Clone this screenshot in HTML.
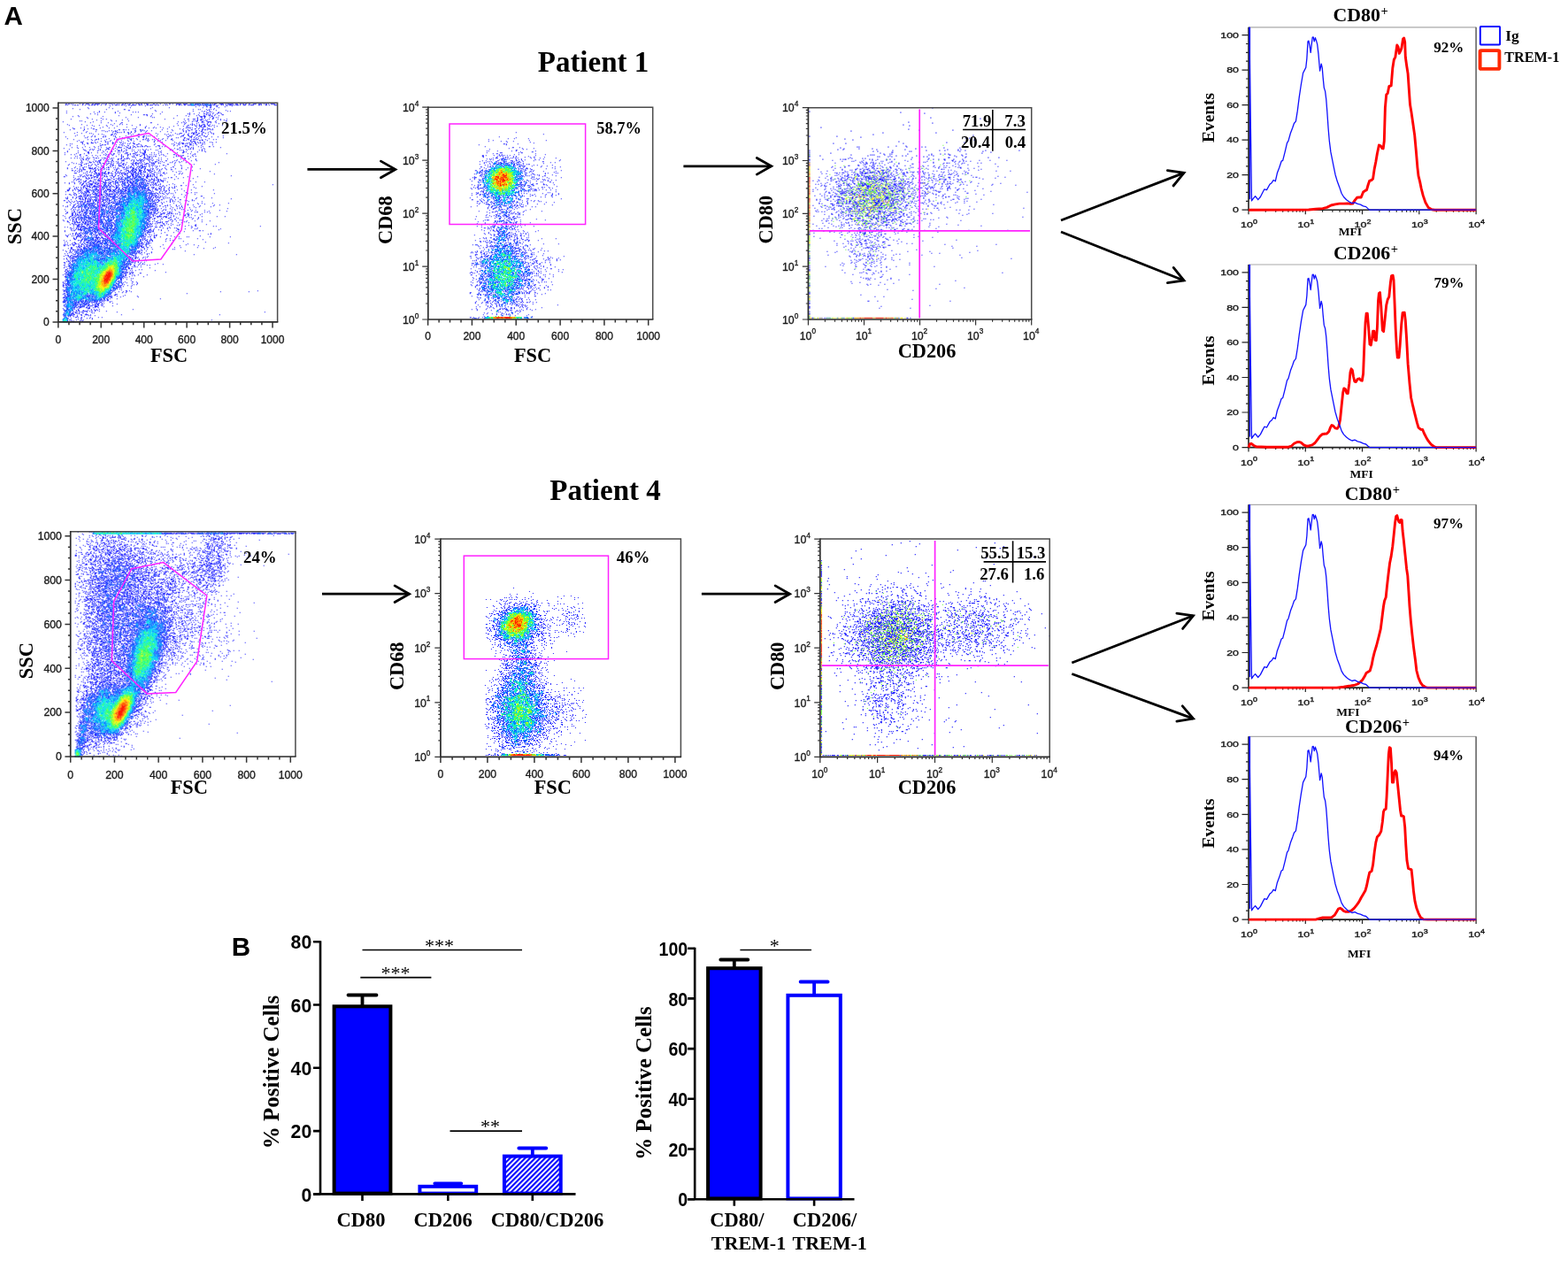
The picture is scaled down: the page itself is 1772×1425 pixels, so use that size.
<!DOCTYPE html>
<html lang="en"><head><meta charset="utf-8"><title>Figure</title>
<style>
html,body{margin:0;padding:0;background:#fff}
svg{display:block}
text{fill:#000;text-anchor:middle}
.b{font-family:"Liberation Serif",serif;font-weight:bold}
.r{font-family:"Liberation Serif",serif}
.sb{font-family:"Liberation Sans",sans-serif;font-weight:bold}
.t{font-family:"Liberation Sans",sans-serif;fill:#1a1a1a;stroke:#1a1a1a;stroke-width:.35px}
.e{text-anchor:end}
.s{text-anchor:start}
</style></head><body>
<svg width="1772" height="1425" viewBox="0 0 1772 1425">
<rect width="1772" height="1425" fill="#fff"/>
<defs><filter id="sb" x="-2%" y="-2%" width="104%" height="104%"><feGaussianBlur stdDeviation="0.38"/></filter></defs>
<text class="sb s" x="4.6" y="27.9" font-size="29.5">A</text>
<text class="sb s" x="261.8" y="1080.1" font-size="29.5">B</text>
<text class="b" x="670.5" y="81.3" font-size="33">Patient 1</text>
<text class="b" x="684" y="565.2" font-size="33">Patient 4</text>
<g transform="translate(66.30 116.80) scale(1.0)" fill="none" stroke-linecap="square" stroke-width="1.25" filter="url(#sb)"><path stroke="#2828ff" stroke-width="1.05" d="M59 0zm104 0zm13 0zm8 0h1m-177 1h1m2 0h1m2 0zm2 0zm8 0zm3 0h1m3 0h3m4 0h1m2 0h5m3 0zm2 0zm2 0h1m3 0zm2 0zm2 0zm2 0zm3 0zm2 0zm4 0h1m2 0h1m2 0zm2 0h1m3 0zm4 0zm2 0h1m2 0h1m3 0zm2 0h2m6 0h1m3 0zm4 0zm5 0zm2 0zm3 0h1m3 0zm4 0h5m3 0h4m19 0zm5 0zm5 0zm2 0h2m4 0h4m3 0zm4 0h4m3 0h2m3 0h1m2 0h1m2 0h1m3 0h1m4 0h3m4 0h2m3 0zm2 0h1m2 0zm3 0h4m3 0zm-239 1zm2 0zm8 0h1m2 0h1m5 0zm3 0zm5 0zm2 0h1m2 0h1m3 0zm4 0zm5 0zm8 0zm3 0h2m2 0zm3 0h1m2 0zm5 0h1m3 0h4m4 0h1m2 0zm6 0h1m2 0h3m3 0h1m2 0h1m5 0zm3 0zm2 0zm10 0zm3 0h1m2 0zm3 0h1m3 0h3m5 0h1m3 0zm17 0h1m4 0zm4 0zm2 0zm3 0zm2 0zm2 0h2m2 0zm2 0zm2 0h2m2 0zm4 0h2m4 0zm2 0h3m6 0h1m2 0zm5 0h1m3 0zm6 0h3m-189 1zm18 0zm6 0zm16 0zm61 0zm5 0zm8 0zm6 0h1m11 0zm6 0zm-41 1zm12 0h1m4 0zm7 0zm9 0zm-155 1zm24 0zm24 0zm25 0zm19 0zm38 0zm8 0h1m9 0zm-165 1zm18 0zm27 0zm43 0zm72 0zm-152 1zm30 0zm20 0h1m77 0zm6 0zm2 0zm7 0zm3 0zm2 0zm3 0zm-96 1h1m29 0zm59 0zm2 0zm8 0zm11 0zm-180 1zm37 0zm21 0zm43 0zm42 0zm10 0zm3 0zm6 0zm20 0zm3 0zm-154 1zm6 0zm6 0zm12 0zm20 0zm3 0zm3 0zm27 0zm47 0zm3 0zm4 0zm2 0zm8 0zm-172 1zm35 0zm20 0zm5 0zm79 0zm11 0zm9 0h1m6 0zm5 0h1m2 0zm-147 1zm5 0zm65 0zm9 0zm31 0zm2 0zm5 0zm11 0h1m2 0zm4 0zm3 0zm5 0zm5 0zm-140 1zm38 0zm14 0h1m2 0h1m48 0zm10 0zm9 0zm2 0zm2 0zm6 0zm8 0h1m-164 1zm46 0zm32 0zm5 0zm29 0zm10 0zm12 0zm3 0zm5 0h1m5 0h1m2 0zm3 0zm5 0zm-165 1zm7 0zm27 0zm54 0zm43 0zm13 0h2m2 0h2m7 0h1m-142 1zm44 0zm14 0zm16 0zm2 0zm49 0zm4 0h1m3 0zm6 0zm4 0zm3 0zm2 0zm-147 1zm15 0zm82 0zm27 0zm8 0zm9 0h1m-161 1zm24 0zm12 0zm4 0zm24 0zm42 0zm22 0zm4 0h1m5 0h2m3 0zm4 0h2m7 0zm4 0zm6 0zm3 0zm7 0zm-147 1zm16 0zm13 0zm85 0zm3 0h1m5 0zm2 0zm15 0zm4 0zm-163 1zm2 0zm22 0zm12 0zm5 0zm14 0zm64 0zm4 0zm5 0zm2 0zm2 0h1m5 0zm2 0zm3 0zm11 0zm11 0h1m-185 1zm25 0zm9 0zm96 0zm6 0zm10 0zm5 0zm6 0h1m5 0h4m5 0zm-141 1zm12 0zm8 0zm15 0h1m32 0h1m34 0zm3 0zm2 0zm14 0zm4 0zm2 0zm5 0zm3 0zm6 0zm-115 1zm7 0zm64 0zm9 0zm8 0zm5 0zm12 0zm13 0zm-171 1zm16 0zm33 0zm10 0zm3 0zm5 0zm15 0zm20 0zm30 0zm7 0zm2 0zm2 0zm6 0zm4 0h2m3 0zm3 0zm-159 1zm20 0zm6 0zm8 0zm8 0zm7 0zm22 0zm9 0zm43 0zm11 0h1m4 0zm3 0zm2 0zm3 0zm2 0h1m3 0zm4 0h1m4 0zm2 0zm9 0zm-145 1zm15 0zm11 0zm33 0zm31 0zm11 0zm4 0zm10 0zm4 0h2m3 0h2m4 0zm2 0zm7 0zm-150 1zm21 0zm27 0zm11 0zm10 0zm10 0zm7 0zm10 0zm20 0zm2 0zm9 0zm5 0zm2 0zm2 0zm11 0zm-160 1zm9 0zm12 0zm10 0zm10 0zm6 0zm35 0zm4 0zm5 0zm3 0zm8 0zm26 0zm2 0zm2 0h1m2 0zm8 0zm4 0zm5 0zm-151 1h1m11 0zm4 0zm6 0h1m44 0zm2 0h1m36 0zm14 0zm4 0zm13 0h1m3 0zm5 0zm6 0h2m3 0zm-161 1zm16 0zm13 0h1m25 0h1m4 0h1m2 0zm3 0zm13 0h1m2 0zm22 0zm11 0zm12 0zm6 0zm4 0h1m11 0h1m2 0h1m2 0zm4 0zm2 0zm-146 1zm21 0zm2 0zm6 0zm3 0zm4 0zm2 0zm20 0h1m6 0zm2 0zm2 0zm3 0zm5 0zm24 0zm12 0zm3 0zm3 0h1m7 0h1m3 0zm3 0zm-130 1zm10 0zm11 0zm2 0zm7 0zm2 0h1m9 0zm8 0zm5 0zm6 0zm6 0zm16 0zm8 0zm18 0zm3 0zm11 0zm6 0h1m9 0zm-165 1zm15 0zm10 0zm30 0zm5 0h1m2 0zm2 0zm3 0zm4 0h1m3 0zm4 0zm12 0zm29 0zm17 0zm7 0zm2 0zm2 0h1m7 0h1m5 0zm3 0zm16 0zm-170 1zm8 0zm9 0zm2 0zm27 0zm15 0zm2 0zm29 0zm22 0zm5 0h2m8 0zm3 0zm2 0h1m2 0zm3 0h1m3 0zm4 0zm7 0zm2 0zm-136 1zm6 0zm4 0zm11 0h1m2 0zm2 0zm14 0zm5 0zm6 0h1m21 0zm8 0zm4 0zm10 0zm2 0zm6 0zm4 0zm6 0h1m4 0zm5 0zm7 0zm6 0zm-154 1zm30 0zm8 0h1m22 0zm7 0zm33 0zm4 0zm3 0zm12 0zm5 0h1m8 0h2m5 0zm-143 1zm10 0zm9 0zm3 0zm12 0zm9 0zm2 0zm12 0zm20 0h1m2 0zm2 0zm2 0zm8 0zm14 0zm2 0zm12 0h2m6 0zm3 0h1m8 0h1m4 0h1m3 0zm18 0zm-178 1zm25 0zm4 0zm4 0zm9 0h1m2 0zm11 0zm5 0zm9 0zm2 0zm10 0h1m4 0h1m12 0zm15 0h1m14 0zm10 0h2m4 0zm4 0zm8 0h1m6 0zm7 0zm-150 1zm2 0zm33 0zm7 0zm7 0zm17 0zm3 0zm34 0zm2 0zm7 0h1m7 0zm3 0zm3 0zm5 0zm25 0zm-176 1zm35 0zm3 0zm9 0zm6 0zm9 0zm2 0zm4 0zm2 0zm2 0zm2 0zm4 0zm11 0zm2 0zm12 0zm5 0zm5 0zm5 0zm14 0zm3 0zm2 0zm8 0zm3 0zm12 0zm-153 1zm16 0zm4 0zm5 0h1m2 0zm9 0zm9 0zm3 0zm15 0h1m7 0zm6 0h1m2 0zm3 0zm5 0zm2 0zm9 0zm10 0h1m13 0zm5 0h1m3 0zm2 0h2m2 0h1m5 0zm4 0zm9 0zm3 0zm-155 1zm15 0zm3 0zm11 0zm7 0zm8 0zm4 0zm7 0zm4 0zm18 0zm2 0zm7 0zm6 0zm6 0zm8 0zm12 0h1m2 0zm5 0zm10 0h1m2 0h1m5 0zm-147 1zm7 0zm20 0zm5 0zm5 0zm21 0zm6 0zm7 0zm9 0zm7 0zm4 0zm37 0h1m2 0h2m-129 1h2m10 0zm4 0zm3 0zm9 0zm2 0h1m5 0zm3 0zm2 0zm3 0zm2 0zm2 0zm35 0zm9 0zm14 0zm6 0zm14 0zm3 0zm3 0zm3 0zm4 0h1m6 0zm2 0zm5 0zm-151 1zm5 0h1m4 0h2m3 0zm19 0h1m8 0zm5 0zm6 0zm3 0h1m48 0zm3 0zm3 0h2m4 0zm2 0h1m2 0zm4 0h1m3 0zm2 0zm2 0zm12 0zm-161 1zm2 0zm12 0zm6 0zm14 0zm8 0h1m5 0zm11 0h1m5 0zm2 0zm5 0h1m4 0h1m18 0zm19 0zm2 0zm5 0zm2 0zm3 0h1m2 0zm2 0zm4 0zm3 0zm3 0zm8 0zm2 0zm-156 1zm20 0zm20 0h1m2 0h1m12 0zm4 0zm2 0zm17 0h1m4 0zm15 0zm10 0zm13 0zm5 0zm12 0h2m6 0zm6 0zm12 0zm-161 1zm8 0zm26 0h1m24 0zm2 0zm4 0h1m5 0zm10 0zm4 0h1m13 0h2m16 0zm4 0zm9 0h2m7 0zm9 0zm-131 1zm10 0zm5 0zm20 0zm3 0zm8 0zm5 0zm4 0h1m3 0h1m2 0zm2 0h1m2 0zm3 0h1m2 0zm7 0zm4 0zm3 0zm3 0zm20 0zm3 0zm3 0h1m11 0zm5 0zm7 0h1m4 0zm-160 1zm6 0zm6 0zm8 0zm6 0zm7 0zm6 0zm3 0h1m9 0h4m6 0h1m3 0zm3 0zm3 0zm50 0zm10 0zm3 0zm2 0zm9 0zm22 0zm-177 1zm16 0zm23 0zm10 0h1m5 0zm3 0zm10 0zm5 0h2m33 0h1m16 0zm6 0zm12 0zm3 0zm12 0zm-152 1zm16 0zm8 0zm2 0zm2 0zm7 0zm7 0zm2 0h1m5 0zm4 0zm5 0zm5 0zm7 0zm12 0zm4 0zm5 0zm23 0zm7 0h1m9 0zm3 0zm2 0zm3 0zm10 0zm3 0zm-136 1h1m5 0zm4 0zm6 0zm2 0zm6 0zm7 0zm8 0zm3 0zm6 0zm8 0zm5 0zm2 0zm4 0zm2 0zm3 0zm9 0zm2 0zm14 0zm3 0zm8 0zm2 0zm2 0zm4 0zm14 0zm3 0zm-152 1zm12 0zm9 0zm13 0zm6 0zm10 0zm4 0zm3 0h2m2 0zm3 0zm2 0zm7 0zm14 0h1m18 0zm25 0zm21 0zm3 0zm-155 1zm23 0h1m17 0zm4 0zm5 0zm13 0zm13 0zm3 0zm3 0zm5 0h1m15 0zm2 0zm15 0zm11 0h1m2 0zm6 0zm7 0zm9 0zm-159 1zm15 0zm11 0h1m3 0zm7 0zm5 0zm18 0zm2 0zm7 0h2m9 0h1m5 0zm2 0zm2 0h1m7 0zm3 0zm8 0zm18 0zm6 0h1m-121 1zm9 0zm5 0zm19 0zm6 0zm3 0h1m12 0zm2 0zm4 0zm3 0h2m9 0h2m16 0zm10 0zm9 0zm14 0zm3 0zm5 0zm36 0zm-183 1zm7 0zm4 0zm6 0h1m26 0zm3 0zm2 0zm4 0zm2 0zm6 0zm3 0zm7 0h1m2 0zm6 0zm2 0zm2 0zm5 0h1m2 0zm4 0zm2 0zm3 0zm2 0zm6 0zm2 0zm12 0h1m21 0zm2 0zm-130 1zm7 0h1m6 0zm4 0zm5 0zm6 0zm3 0zm5 0zm10 0zm7 0zm7 0zm3 0h1m5 0zm3 0zm3 0zm14 0zm5 0zm14 0zm3 0zm2 0zm2 0h1m10 0zm-132 1zm2 0zm4 0zm19 0zm11 0zm10 0zm6 0zm2 0zm5 0zm5 0zm2 0zm7 0h1m4 0zm4 0zm2 0zm2 0zm2 0zm2 0h1m11 0zm12 0zm2 0zm4 0zm7 0zm6 0zm3 0zm-127 1zm5 0zm6 0zm16 0zm2 0zm14 0zm2 0zm11 0zm2 0zm11 0zm3 0zm2 0h1m27 0zm9 0zm10 0zm-135 1zm4 0zm3 0zm3 0zm2 0zm6 0zm3 0zm5 0zm2 0h1m2 0zm4 0zm2 0h2m7 0zm2 0zm9 0zm6 0h2m8 0zm9 0h2m4 0zm3 0h1m7 0zm3 0zm26 0h1m-116 1h1m3 0zm2 0h1m20 0h1m3 0zm2 0zm7 0h1m2 0h1m3 0h1m2 0zm3 0zm12 0zm7 0h2m2 0zm20 0zm15 0zm5 0zm4 0zm8 0zm-130 1zm3 0zm3 0zm9 0zm7 0h1m3 0zm5 0zm5 0zm6 0zm6 0zm10 0zm2 0zm3 0zm3 0zm2 0h2m2 0zm4 0zm2 0zm2 0zm2 0zm4 0zm2 0zm3 0zm18 0zm21 0zm-129 1zm7 0zm9 0zm3 0h2m6 0zm2 0zm5 0h1m10 0h3m8 0zm3 0zm4 0h1m2 0h1m3 0zm6 0zm4 0zm7 0zm8 0h1m9 0zm2 0zm8 0zm9 0zm6 0zm-148 1zm18 0zm9 0zm4 0zm3 0zm2 0zm2 0zm7 0h1m2 0h1m2 0zm3 0zm3 0zm2 0zm18 0zm8 0zm2 0zm8 0zm6 0h2m4 0zm2 0zm12 0zm7 0zm3 0zm-124 1zm10 0zm2 0zm8 0h2m3 0zm4 0zm2 0h1m13 0zm7 0zm4 0zm6 0zm7 0zm3 0h1m3 0zm2 0zm4 0zm6 0zm2 0zm2 0zm2 0zm4 0zm6 0zm7 0zm2 0zm4 0zm5 0zm7 0zm37 0zm-164 1zm3 0zm6 0zm5 0zm2 0zm14 0zm3 0h2m2 0zm2 0h1m2 0zm3 0zm4 0zm2 0zm2 0zm3 0h1m8 0zm2 0zm2 0h1m2 0h1m2 0zm2 0zm5 0h2m4 0h3m5 0zm2 0zm16 0zm-119 1zm11 0zm2 0zm4 0zm2 0zm7 0zm3 0zm3 0h1m3 0zm4 0zm3 0zm4 0zm2 0zm7 0zm4 0h1m3 0zm7 0h1m3 0zm3 0zm5 0zm2 0h2m3 0zm6 0zm15 0h1m24 0zm5 0zm24 0zm-166 1zm14 0h1m8 0zm3 0zm5 0zm12 0zm5 0zm2 0h1m6 0zm2 0zm3 0zm2 0zm9 0zm4 0zm5 0h1m9 0zm2 0h2m11 0h1m12 0zm7 0zm-112 1zm8 0zm2 0zm7 0zm5 0h1m2 0zm7 0zm3 0zm3 0zm4 0h3m8 0zm3 0zm3 0zm5 0zm2 0zm2 0h1m2 0zm2 0zm3 0zm7 0zm2 0zm3 0zm7 0zm18 0zm-120 1zm5 0zm5 0zm2 0zm14 0zm5 0h1m5 0zm3 0zm13 0zm2 0zm3 0zm4 0h1m7 0zm8 0zm6 0zm3 0zm5 0zm18 0h1m21 0zm-141 1zm8 0zm9 0h1m6 0h2m2 0zm3 0h1m5 0zm2 0h2m3 0zm2 0h1m5 0zm2 0zm3 0zm6 0h1m3 0zm2 0zm2 0zm2 0h2m3 0zm3 0zm7 0zm12 0zm10 0zm7 0zm12 0zm7 0zm-136 1zm5 0zm6 0zm3 0zm4 0zm7 0h3m2 0h1m3 0zm4 0h1m3 0zm14 0zm2 0zm8 0zm2 0zm6 0h1m2 0zm3 0zm7 0h1m6 0zm2 0h1m5 0zm5 0zm4 0zm11 0zm7 0zm21 0zm-136 1zm2 0zm2 0h2m9 0zm3 0zm3 0zm2 0zm4 0zm3 0zm2 0h1m6 0zm2 0h1m8 0zm2 0zm7 0h1m2 0h2m3 0h1m5 0zm3 0h1m2 0zm3 0zm5 0zm3 0zm2 0zm6 0zm5 0h1m16 0zm-129 1h1m3 0zm4 0zm3 0zm10 0zm5 0h1m3 0zm4 0zm16 0zm5 0h1m6 0h2m3 0h1m2 0zm3 0zm3 0h3m3 0zm4 0h3m4 0zm6 0zm37 0zm-133 1zm3 0zm3 0zm2 0zm6 0zm4 0zm4 0h1m6 0zm6 0zm8 0zm4 0zm2 0zm9 0zm3 0zm2 0zm2 0zm3 0h1m4 0h2m3 0zm2 0zm4 0zm3 0h1m7 0zm2 0zm14 0zm7 0zm2 0zm33 0zm-148 1zm9 0zm3 0zm3 0zm3 0h1m7 0zm3 0h1m3 0h1m7 0zm3 0zm2 0h1m4 0zm5 0h2m2 0zm3 0h1m3 0zm3 0zm3 0zm2 0zm5 0h1m4 0h1m10 0zm14 0zm-115 1h2m8 0zm2 0zm12 0h1m2 0h1m3 0zm2 0h1m4 0h1m2 0h1m4 0zm2 0zm2 0zm3 0h2m2 0zm2 0zm5 0zm2 0zm3 0zm3 0zm2 0zm2 0zm6 0zm5 0zm6 0zm2 0zm2 0zm3 0h1m3 0zm15 0zm3 0zm-108 1zm8 0h1m2 0zm2 0h1m4 0zm2 0h2m2 0zm5 0zm4 0zm4 0zm2 0zm3 0h2m2 0zm4 0h2m3 0zm5 0zm4 0zm5 0zm2 0zm3 0h2m12 0zm16 0zm3 0zm37 0zm-168 1zm16 0zm2 0zm5 0zm3 0zm2 0h1m9 0h1m2 0zm11 0zm4 0zm8 0zm3 0zm2 0zm6 0h2m2 0zm2 0zm4 0h1m3 0zm3 0h1m3 0zm4 0zm3 0zm4 0h1m15 0zm-122 1zm8 0zm8 0zm4 0zm3 0h1m3 0h1m2 0zm4 0zm2 0zm4 0zm2 0h1m2 0zm4 0zm2 0h1m3 0zm3 0h1m4 0zm6 0zm3 0zm2 0h1m3 0h1m9 0zm3 0h1m2 0h1m2 0zm2 0zm7 0zm2 0zm78 0zm-189 1h1m15 0zm2 0zm3 0h1m2 0zm10 0h2m2 0zm8 0zm2 0h1m7 0h1m7 0zm3 0zm6 0h2m3 0h1m8 0zm2 0h1m3 0h3m2 0zm2 0zm3 0zm2 0zm22 0zm13 0zm11 0zm-140 1zm14 0zm3 0zm3 0h1m2 0zm3 0h1m3 0zm3 0zm9 0zm3 0zm6 0zm3 0zm4 0zm9 0zm2 0zm2 0zm2 0zm9 0h1m10 0h1m13 0zm3 0h1m13 0zm-122 1zm4 0zm8 0h1m2 0h1m2 0zm9 0h1m2 0zm6 0zm5 0zm5 0zm2 0zm2 0zm2 0zm4 0zm6 0zm2 0zm2 0h1m10 0zm4 0zm5 0zm3 0zm3 0zm8 0zm2 0zm14 0zm17 0zm-134 1zm3 0h2m2 0zm8 0zm7 0zm2 0zm3 0zm4 0zm3 0zm6 0zm4 0h1m4 0zm3 0h3m10 0zm2 0zm12 0h1m4 0zm3 0h1m2 0zm4 0h1m2 0zm16 0zm-114 1zm3 0zm5 0zm6 0zm5 0zm5 0zm5 0h1m6 0h4m2 0zm6 0zm3 0h1m5 0h1m4 0h1m17 0zm2 0zm4 0h1m3 0h1m2 0zm5 0h1m2 0zm2 0zm-97 1zm5 0zm2 0h1m4 0h2m2 0zm6 0zm2 0h2m4 0zm8 0zm3 0h1m6 0h1m2 0zm3 0zm4 0zm4 0h1m4 0zm2 0zm7 0h1m2 0zm6 0zm4 0h1m3 0h2m31 0zm-134 1zm2 0zm6 0zm2 0zm4 0h1m4 0zm5 0zm2 0zm2 0zm7 0h1m2 0zm4 0zm2 0zm2 0h1m2 0zm3 0zm2 0h1m2 0h1m2 0zm3 0zm2 0h2m13 0zm7 0zm2 0zm2 0h1m5 0zm2 0zm4 0zm5 0zm32 0zm10 0zm-158 1zm5 0zm6 0zm7 0zm3 0zm4 0zm2 0zm5 0zm2 0zm2 0zm2 0zm6 0h3m2 0zm2 0h1m5 0zm8 0zm3 0zm2 0h1m3 0h1m6 0zm3 0zm4 0zm3 0zm2 0zm5 0zm4 0zm2 0zm30 0zm-129 1zm6 0zm6 0zm3 0h1m3 0zm4 0h3m3 0h1m2 0h1m2 0zm2 0zm8 0h1m4 0zm2 0zm3 0zm5 0zm2 0zm5 0zm3 0zm2 0zm7 0zm3 0zm2 0zm5 0h1m5 0zm2 0h1m5 0zm14 0zm-103 1h1m5 0zm2 0zm2 0h2m5 0zm8 0h1m4 0zm3 0zm5 0zm4 0zm3 0zm8 0h1m5 0zm4 0zm2 0zm3 0h1m9 0zm2 0zm2 0zm2 0zm3 0zm2 0zm10 0zm6 0zm21 0zm90 0zm-216 1zm3 0h1m2 0zm3 0zm5 0h1m4 0zm2 0h1m4 0zm4 0h1m3 0zm5 0h1m2 0zm4 0zm3 0h1m2 0h1m3 0h2m3 0zm13 0h1m3 0zm3 0zm3 0zm2 0zm6 0zm4 0zm16 0h1m5 0zm-127 1zm11 0h1m3 0h3m4 0h4m5 0zm2 0zm2 0zm2 0zm4 0h1m2 0h1m3 0zm7 0zm7 0zm7 0zm4 0zm5 0zm3 0h1m15 0h1m2 0zm2 0zm12 0zm2 0zm29 0zm-142 1zm2 0zm3 0zm3 0zm2 0zm5 0h1m2 0zm2 0zm2 0zm2 0h1m2 0zm2 0h1m5 0zm2 0h1m5 0zm2 0h2m6 0h1m4 0zm13 0zm4 0zm3 0zm4 0zm3 0h3m8 0zm4 0zm5 0zm3 0zm3 0zm22 0zm-141 1h1m5 0zm2 0zm6 0zm2 0zm3 0h1m6 0zm5 0zm4 0zm2 0zm2 0h1m2 0zm5 0zm6 0h1m2 0h1m3 0zm3 0h2m14 0zm3 0zm7 0zm6 0zm3 0zm3 0h1m2 0zm3 0zm6 0zm4 0zm2 0zm24 0zm-143 1zm6 0zm3 0zm4 0zm6 0h1m2 0zm8 0h1m3 0zm2 0zm2 0zm5 0h1m2 0zm6 0h1m3 0zm4 0h1m3 0zm6 0zm10 0zm2 0zm5 0zm2 0h1m4 0zm3 0h1m4 0h1m4 0zm5 0zm15 0zm-129 1h2m4 0zm3 0zm3 0h1m2 0zm2 0zm6 0zm2 0h1m2 0zm2 0zm3 0zm2 0zm3 0zm2 0zm3 0zm2 0h4m2 0h2m10 0zm2 0h1m13 0zm4 0zm9 0h1m7 0h2m4 0zm3 0zm6 0zm9 0zm16 0zm25 0zm-165 1h1m5 0zm7 0h2m6 0h3m3 0zm4 0zm4 0zm2 0h1m4 0zm2 0zm4 0h1m3 0h1m2 0zm6 0zm4 0h2m23 0h1m2 0h1m2 0zm9 0zm4 0zm2 0h1m3 0zm6 0zm11 0zm-134 1zm14 0zm4 0zm3 0zm3 0h2m5 0zm4 0h1m2 0zm2 0zm6 0zm3 0h1m2 0h1m2 0h1m3 0zm2 0zm5 0h1m24 0zm6 0zm2 0zm7 0zm3 0zm4 0zm-104 1zm8 0zm2 0zm4 0zm3 0h1m4 0zm2 0zm4 0h1m2 0zm3 0zm2 0zm9 0zm5 0zm9 0zm23 0zm5 0zm6 0zm4 0zm6 0zm5 0zm7 0zm12 0h1m5 0zm4 0zm2 0zm-138 1h1m4 0zm3 0zm2 0zm3 0zm7 0zm3 0h1m2 0zm2 0zm2 0zm5 0zm2 0zm2 0zm2 0zm2 0zm2 0zm2 0zm4 0zm2 0zm2 0zm2 0zm25 0h1m2 0zm5 0h1m2 0h1m3 0zm2 0h1m4 0zm2 0zm3 0zm2 0zm17 0zm30 0zm-168 1zm4 0h1m4 0zm3 0zm8 0zm2 0zm2 0zm2 0zm2 0zm3 0h1m2 0zm6 0h1m2 0zm3 0h1m2 0h4m3 0zm2 0zm40 0zm7 0zm6 0zm4 0zm16 0zm15 0zm-140 1zm4 0zm2 0zm5 0zm4 0h1m3 0zm3 0zm6 0zm3 0zm3 0h1m4 0zm4 0zm11 0zm3 0h1m3 0zm27 0h1m2 0zm2 0h1m2 0zm20 0zm13 0zm-120 1h3m2 0zm2 0zm2 0h1m2 0zm6 0zm2 0zm2 0h1m4 0zm2 0zm2 0zm5 0zm8 0zm3 0zm30 0zm5 0zm4 0h2m2 0zm2 0zm2 0zm4 0zm40 0h1m-152 1zm6 0zm4 0zm2 0zm2 0zm2 0zm3 0zm2 0zm6 0h2m5 0zm2 0zm2 0zm2 0h1m3 0zm2 0zm2 0zm3 0zm4 0h1m3 0zm10 0zm23 0h3m2 0zm2 0zm3 0zm3 0zm4 0zm10 0zm2 0zm11 0zm-134 1zm2 0zm6 0zm4 0zm4 0zm3 0zm3 0h1m3 0zm2 0zm7 0zm4 0zm4 0zm2 0zm2 0zm6 0zm3 0zm3 0zm2 0zm29 0zm3 0h1m2 0zm3 0zm3 0h1m2 0h1m4 0zm3 0zm2 0zm2 0zm6 0zm4 0zm21 0zm8 0zm9 0zm-164 1h1m9 0zm4 0h2m2 0zm3 0h1m2 0zm2 0zm2 0zm7 0zm3 0zm3 0zm5 0h2m4 0zm7 0zm34 0zm2 0zm2 0zm13 0zm8 0zm28 0zm40 0zm-181 1zm11 0zm2 0h1m2 0zm3 0zm2 0h1m2 0zm5 0zm2 0zm2 0zm2 0zm3 0h1m4 0zm3 0zm6 0zm39 0h1m3 0zm2 0h2m3 0h1m9 0zm2 0zm4 0zm5 0h1m13 0zm-145 1h1m4 0zm9 0zm10 0zm3 0zm3 0zm3 0zm4 0zm2 0h2m3 0zm3 0zm2 0zm2 0h2m9 0h1m5 0zm34 0zm2 0zm3 0h1m12 0zm3 0zm14 0zm2 0zm6 0zm2 0zm-141 1zm3 0zm3 0zm3 0zm2 0h1m2 0h1m3 0zm2 0h4m3 0zm3 0zm2 0zm2 0h1m2 0h1m4 0zm3 0zm4 0zm3 0zm2 0zm3 0zm34 0zm4 0h1m5 0zm9 0zm4 0zm3 0zm2 0zm4 0zm12 0zm15 0zm-153 1h1m3 0zm4 0zm5 0zm3 0zm2 0zm2 0h1m2 0zm2 0zm6 0zm4 0h1m3 0zm3 0zm2 0zm2 0zm2 0zm2 0zm3 0zm2 0zm42 0zm3 0zm2 0h1m4 0zm3 0zm7 0zm11 0zm-123 1zm7 0zm4 0zm3 0zm5 0zm3 0h2m2 0zm4 0zm2 0h1m4 0h1m4 0zm2 0zm3 0h2m35 0zm9 0h1m2 0zm7 0zm13 0zm27 0zm5 0zm12 0zm18 0zm-173 1zm3 0h1m4 0h1m4 0h1m8 0h1m2 0zm5 0zm5 0zm53 0zm10 0zm21 0zm5 0zm3 0zm12 0zm7 0zm-152 1zm4 0h1m7 0h1m2 0zm6 0h2m4 0zm4 0zm5 0zm6 0zm4 0zm7 0zm40 0zm3 0zm2 0zm12 0zm3 0zm7 0zm13 0zm6 0zm24 0zm6 0zm-177 1zm5 0zm7 0zm4 0zm2 0zm6 0zm5 0zm5 0h1m4 0zm3 0zm2 0h1m4 0zm6 0zm2 0zm36 0zm4 0zm4 0zm8 0h1m5 0h1m2 0zm10 0zm3 0zm3 0zm4 0zm17 0zm15 0zm-167 1zm2 0zm6 0zm4 0zm4 0h1m2 0zm2 0h1m2 0zm3 0zm2 0zm5 0zm3 0zm6 0zm2 0zm5 0zm6 0zm3 0h2m36 0zm6 0zm7 0zm9 0zm7 0zm5 0zm14 0zm6 0zm13 0zm-156 1zm2 0h1m3 0zm4 0zm5 0zm2 0h1m2 0zm6 0zm6 0h1m5 0zm8 0h1m3 0h1m3 0zm34 0zm17 0zm8 0zm8 0zm3 0zm8 0zm7 0zm-140 1zm11 0zm4 0zm4 0zm2 0zm2 0zm5 0zm2 0h1m7 0zm5 0h1m4 0zm2 0zm36 0zm2 0zm3 0h4m2 0zm4 0zm10 0zm8 0zm3 0zm54 0zm-184 1zm7 0zm3 0zm2 0zm4 0zm3 0zm2 0zm3 0h1m9 0zm10 0zm2 0zm4 0zm2 0zm42 0zm3 0h2m4 0zm2 0zm7 0zm2 0zm7 0zm3 0zm8 0zm2 0zm8 0zm-132 1zm4 0zm5 0zm2 0h1m4 0zm2 0zm2 0zm2 0zm4 0zm9 0zm11 0zm39 0zm2 0zm2 0zm2 0zm3 0h1m6 0zm3 0zm11 0zm14 0zm5 0zm4 0zm10 0zm17 0zm-174 1zm7 0zm3 0zm6 0zm2 0h1m5 0zm3 0h2m10 0zm6 0zm5 0h1m48 0zm4 0zm6 0zm11 0zm15 0zm7 0zm20 0zm20 0zm-180 1zm7 0h1m3 0zm2 0zm2 0zm2 0zm2 0zm4 0zm3 0zm10 0zm6 0zm12 0zm38 0zm2 0h1m3 0zm5 0zm10 0zm2 0h1m10 0zm18 0zm2 0h1m8 0zm3 0zm-159 1h1m5 0h1m3 0zm4 0h1m5 0zm2 0h1m3 0h1m2 0zm4 0zm3 0zm7 0zm5 0zm3 0zm5 0h1m39 0zm2 0zm2 0zm3 0zm3 0zm3 0h2m5 0zm2 0h1m9 0zm9 0zm25 0zm-163 1zm8 0zm3 0zm2 0zm5 0zm2 0zm7 0zm3 0zm10 0zm4 0zm3 0h1m3 0zm10 0zm39 0zm2 0h1m5 0h1m2 0zm4 0h2m2 0zm2 0zm3 0zm2 0zm11 0zm2 0zm15 0zm-147 1h1m3 0zm2 0h1m2 0h1m3 0zm2 0zm6 0zm2 0zm8 0zm4 0zm2 0zm2 0zm3 0zm3 0h1m2 0zm39 0zm2 0zm2 0h1m8 0h1m6 0zm15 0zm6 0zm3 0h1m3 0zm10 0zm-155 1zm10 0h1m2 0zm2 0zm2 0zm2 0zm2 0zm2 0h1m3 0zm2 0zm11 0zm6 0zm7 0zm2 0zm2 0zm2 0zm43 0zm2 0zm5 0zm10 0zm3 0zm3 0zm12 0h1m4 0zm7 0zm-147 1zm6 0h1m5 0zm15 0zm3 0zm2 0h1m2 0zm3 0zm6 0h2m5 0zm44 0h1m4 0zm4 0h5m3 0h3m8 0zm16 0zm16 0zm17 0zm9 0zm-176 1zm4 0h2m4 0h1m6 0h1m4 0zm2 0zm3 0zm12 0zm3 0zm5 0h3m41 0h2m7 0zm6 0zm3 0h1m4 0h1m6 0zm11 0zm4 0zm2 0zm8 0zm-150 1zm4 0zm3 0zm5 0zm6 0zm3 0zm4 0h1m7 0zm2 0zm8 0zm5 0zm6 0zm46 0h1m7 0zm8 0h1m10 0zm17 0zm6 0zm-142 1h1m2 0h1m3 0zm12 0zm2 0h1m4 0zm7 0zm12 0h1m37 0zm7 0zm2 0zm9 0zm10 0zm4 0h1m19 0zm6 0zm-152 1zm8 0zm3 0zm4 0zm3 0zm2 0h1m2 0h1m2 0h1m2 0zm5 0zm3 0zm73 0zm11 0zm2 0zm9 0zm2 0zm23 0zm-156 1zm4 0zm6 0zm2 0zm2 0zm6 0zm6 0zm3 0h1m4 0zm2 0zm21 0zm34 0zm6 0zm5 0zm4 0zm12 0zm5 0zm4 0zm7 0zm5 0zm9 0zm17 0zm-161 1h1m5 0zm2 0zm2 0h1m3 0zm3 0h1m2 0h1m2 0h1m9 0zm5 0zm51 0zm4 0zm3 0zm4 0h1m4 0zm2 0zm4 0h2m5 0zm14 0zm2 0zm18 0zm-150 1zm6 0h1m2 0h3m4 0zm2 0h1m2 0zm4 0zm4 0zm9 0zm2 0zm5 0zm2 0h3m2 0zm36 0h1m11 0h3m2 0zm18 0zm4 0zm8 0zm-132 1h1m2 0zm8 0zm4 0zm3 0zm2 0zm10 0zm3 0zm3 0zm2 0zm6 0zm3 0zm41 0h1m2 0zm3 0zm2 0zm7 0h1m3 0zm5 0zm-114 1zm4 0zm2 0h1m3 0h1m3 0zm3 0zm2 0h2m3 0h1m3 0h1m2 0zm3 0h1m5 0zm4 0zm6 0h1m38 0zm3 0zm14 0zm5 0zm5 0zm8 0zm18 0zm12 0zm-150 1zm4 0h2m3 0zm6 0zm2 0zm2 0zm3 0h1m11 0zm2 0zm3 0zm4 0zm39 0h1m3 0zm7 0zm5 0h2m3 0zm7 0zm7 0zm2 0zm11 0zm7 0h1m-134 1h2m2 0zm2 0h2m3 0zm3 0zm5 0h1m2 0zm4 0zm2 0zm4 0zm3 0zm42 0zm3 0zm2 0zm2 0h1m11 0zm26 0zm7 0zm5 0zm20 0zm3 0zm50 0zm-221 1zm3 0zm7 0zm4 0zm2 0zm2 0h2m3 0zm4 0zm3 0h2m24 0zm39 0zm2 0zm5 0h2m3 0h1m10 0zm26 0zm-138 1h1m6 0zm2 0zm3 0zm5 0h2m2 0zm2 0h1m2 0zm7 0zm2 0zm9 0zm7 0zm36 0zm18 0zm5 0zm3 0zm5 0zm2 0zm17 0zm7 0zm-142 1zm2 0zm3 0zm2 0zm2 0h1m3 0zm4 0zm13 0zm5 0zm49 0zm5 0zm4 0zm15 0zm11 0h1m8 0zm11 0zm2 0zm27 0zm-169 1zm5 0zm3 0h4m13 0zm6 0zm4 0zm2 0zm3 0zm8 0h1m35 0zm4 0h2m3 0zm6 0zm3 0zm19 0h1m45 0zm-174 1zm8 0zm2 0h1m7 0h1m11 0zm16 0zm5 0zm43 0zm2 0zm2 0zm2 0zm9 0zm8 0zm9 0zm19 0zm7 0h1m3 0zm-156 1zm32 0h1m6 0zm4 0zm4 0zm6 0zm37 0h1m4 0zm4 0h1m28 0zm7 0zm-122 1zm5 0zm3 0zm6 0zm2 0zm7 0zm5 0zm2 0zm3 0zm5 0zm3 0zm39 0h4m16 0zm10 0zm-114 1zm3 0h1m3 0h1m2 0zm16 0zm4 0zm2 0zm8 0zm42 0zm2 0zm8 0zm8 0zm21 0zm35 0zm-159 1zm3 0zm3 0zm2 0h1m2 0zm4 0zm2 0zm2 0zm3 0zm4 0zm2 0zm5 0zm3 0zm2 0zm2 0zm3 0h1m45 0zm67 0zm3 0zm-164 1zm3 0zm8 0zm3 0zm4 0zm14 0zm2 0h2m2 0h1m5 0zm3 0zm2 0h1m37 0h1m2 0h1m4 0zm2 0zm3 0zm2 0h1m11 0h1m-114 1h1m5 0zm2 0zm4 0h3m5 0h2m17 0zm4 0zm3 0zm2 0zm38 0zm13 0zm2 0zm17 0zm33 0zm-150 1zm10 0h1m2 0zm2 0zm2 0zm4 0zm9 0zm3 0zm2 0zm4 0zm4 0h1m43 0h1m3 0zm2 0h1m4 0zm7 0zm16 0zm5 0zm9 0zm2 0zm24 0zm23 0zm-177 1zm3 0zm5 0zm3 0zm2 0zm11 0zm2 0h3m2 0h2m8 0zm36 0zm2 0zm12 0h1m-92 1h1m2 0zm7 0zm2 0zm2 0zm12 0h1m3 0zm3 0h3m42 0zm2 0h1m6 0zm18 0zm4 0zm10 0zm2 0zm19 0zm-139 1h1m7 0h1m15 0zm2 0zm9 0h1m39 0zm2 0zm2 0zm3 0zm4 0h1m16 0zm42 0zm-157 1zm7 0zm9 0h1m2 0h1m3 0h1m8 0zm3 0zm4 0zm2 0zm2 0zm46 0zm3 0h1m4 0zm2 0h1m20 0zm3 0zm-120 1zm16 0zm4 0zm4 0h2m2 0zm24 0zm39 0zm3 0zm3 0zm15 0zm20 0zm-134 1zm11 0zm7 0zm3 0zm3 0zm2 0zm5 0zm5 0zm6 0zm8 0zm40 0zm3 0h2m64 0zm-156 1zm6 0zm2 0h1m5 0zm20 0zm3 0zm2 0zm7 0zm4 0zm34 0h1m4 0zm3 0zm2 0zm24 0zm64 0zm-185 1zm8 0zm4 0h1m2 0zm4 0h1m14 0h1m5 0zm2 0zm6 0zm38 0h1m2 0zm6 0zm26 0zm18 0zm-140 1zm2 0zm2 0zm3 0zm3 0h2m5 0zm3 0zm2 0zm3 0zm7 0zm11 0zm6 0h1m5 0zm34 0zm3 0zm20 0zm26 0zm9 0zm-147 1h1m4 0zm6 0zm6 0zm2 0zm7 0zm2 0zm3 0zm17 0zm4 0zm2 0zm32 0h2m5 0zm4 0zm34 0zm21 0zm-138 1zm2 0h1m2 0h1m3 0zm2 0h1m6 0zm11 0zm2 0zm8 0zm30 0zm4 0h1m2 0zm19 0zm-101 1h1m6 0zm2 0h1m4 0zm2 0zm3 0zm4 0zm13 0zm2 0zm6 0zm33 0zm3 0h2m4 0h1m4 0zm26 0zm7 0zm19 0zm20 0zm-166 1zm3 0h1m10 0zm3 0zm3 0h1m28 0zm24 0zm4 0zm2 0zm7 0zm22 0zm45 0zm11 0zm-161 1zm2 0zm5 0h1m3 0h1m2 0zm14 0zm18 0zm33 0zm4 0zm3 0zm6 0zm23 0zm2 0zm-126 1zm8 0zm3 0h3m3 0zm2 0zm18 0zm41 0zm11 0zm-86 1zm5 0zm7 0zm4 0zm20 0zm39 0zm6 0h3m2 0zm5 0zm44 0zm-134 1zm4 0zm2 0zm3 0zm6 0zm27 0h1m32 0zm5 0zm2 0zm14 0zm-93 1zm2 0zm69 0zm5 0zm2 0h1m2 0h1m3 0zm8 0zm-98 1zm3 0zm6 0zm3 0zm2 0h1m5 0zm54 0zm5 0zm2 0zm4 0zm8 0zm2 0zm-84 1zm8 0zm55 0zm2 0zm4 0zm7 0zm6 0zm53 0zm48 0zm-193 1zm2 0h1m3 0h1m9 0zm60 0h1m2 0zm-81 1zm5 0zm2 0zm6 0zm66 0zm2 0zm14 0zm-89 1h2m2 0zm2 0zm69 0h1m2 0zm6 0zm2 0zm2 0zm-91 1zm6 0h2m66 0h1m2 0h1m2 0zm6 0zm-89 1zm3 0zm4 0h1m2 0zm2 0zm64 0zm5 0zm4 0zm7 0zm-88 1zm8 0zm62 0zm5 0zm6 0zm-80 1zm2 0zm2 0zm3 0zm61 0zm6 0h1m3 0zm5 0zm3 0zm2 0zm-90 1zm2 0h1m4 0zm3 0zm58 0zm10 0zm3 0zm-84 1h1m6 0zm62 0zm5 0zm4 0zm2 0zm4 0zm3 0zm4 0zm-90 1zm5 0h1m73 0zm6 0zm3 0zm17 0zm-101 1zm3 0zm67 0h1m9 0zm4 0zm2 0zm12 0zm9 0zm-112 1h1m6 0zm64 0zm2 0zm2 0zm4 0h1m4 0zm3 0zm7 0zm3 0zm-92 1zm66 0zm9 0zm-79 1zm2 0zm69 0h1m4 0zm2 0zm2 0zm2 0zm4 0zm-87 1zm7 0zm62 0zm4 0h1m23 0zm-93 1zm2 0zm2 0zm65 0h1m2 0h1m-75 1h1m64 0zm3 0h1m14 0zm3 0zm-86 1zm2 0zm2 0zm65 0zm4 0zm2 0zm4 0zm22 0zm-102 1zm3 0h1m-3 1h1m67 0h2m2 0zm2 0h2m37 0zm-112 1zm64 0h1m3 0zm4 0zm3 0zm8 0h1m-86 1h1m67 0h1m4 0h1m2 0zm-78 1zm68 0zm3 0zm9 0zm5 0zm10 0zm-92 1zm67 0h1m7 0zm3 0zm-79 1h1m5 0zm67 0zm16 0zm-88 1h1m66 0zm2 0zm-8 1zm4 0zm9 0zm2 0zm-76 1zm58 0zm11 0zm5 1zm-75 1h1m59 0h1m3 0zm-66 1zm62 0zm8 0zm8 0h1m4 0zm-83 1zm2 0zm66 0zm4 0zm12 0zm-83 1zm2 0zm57 0h1m2 0zm4 0zm11 0zm6 0zm-84 1zm3 0zm64 0zm2 0zm11 0zm3 0zm-83 1h1m2 0zm59 0zm2 0h2m7 0zm5 0zm-78 1zm65 0zm3 0zm9 0zm-76 1zm2 0zm57 0zm3 0h2m-62 1zm56 0zm2 0zm5 0zm11 0zm-16 1zm3 0zm-64 1zm2 0zm64 0zm-65 1h1m55 0h1m13 0h1m3 0zm145 0zm-219 1zm55 0zm7 0zm5 0zm4 0zm5 0zm101 0zm32 0zm-155 1zm4 0zm8 0zm4 0zm-70 1h1m138 0zm-140 1zm4 0zm55 0h2m-59 1zm27 0zm25 0zm4 0h1m11 0zm-68 1h1m49 0h1m2 0zm6 0zm7 0zm16 0zm-83 1zm49 0h1m2 0h2m10 0zm20 0zm-85 1h2m49 0zm4 0zm-5 1zm3 0zm8 0zm49 0zm-109 1h1m42 0zm2 0h1m3 0h1m-50 1zm3 0zm18 0zm9 0zm7 0zm3 0zm3 0zm2 0zm2 0zm2 0h1m-51 1zm17 0zm21 0h1m2 0zm3 0zm2 0zm7 0zm2 0zm-55 1zm2 0zm13 0zm3 0zm2 0zm10 0zm2 0h2m4 0zm4 0h1m10 0zm-40 1zm5 0zm4 0h1m15 0zm2 0h1m3 0zm2 0zm10 0zm-37 1zm4 0zm4 0zm2 0zm4 0zm3 0h1m3 0zm4 0zm17 0zm-58 1zm13 0h1m3 0zm2 0zm4 0zm3 0h1m4 0zm2 0zm3 0h1m3 0zm2 0zm-44 1zm19 0zm3 0zm8 0zm2 0zm3 0h2m2 0zm4 0zm12 0zm-54 1zm12 0zm3 0h3m2 0zm2 0zm3 0zm9 0h3m7 0zm-30 1zm3 0h1m6 0h1m2 0h1m4 0zm2 0zm4 0zm-40 1zm12 0zm6 0zm10 0h2m-29 1zm12 0zm4 0zm15 0zm3 0zm3 0zm3 0zm38 0zm-78 1zm14 0zm2 0h1m5 0zm5 0zm4 0zm4 0h1m2 0zm-37 1zm9 0zm4 0zm3 0zm4 0h5m3 0zm3 0zm3 0zm5 0zm8 0zm-37 1zm2 0zm2 0zm3 0zm2 0zm6 0zm5 0zm29 0zm167 0zm-227 1zm7 0zm2 0h1m3 0h1m3 0zm4 0h1m10 0zm2 0zm-24 1h1m4 0zm2 0zm8 0zm-26 1zm9 0h1m2 0h1m7 0h1m4 0h3m3 0zm35 0zm111 0zm-169 1h1m2 0zm5 0zm5 0zm8 0zm2 0zm5 0zm-35 1zm5 0zm2 0zm4 0zm4 0zm8 0zm-10 1h1m2 0zm4 0zm10 0zm9 0zm4 0zm-38 1zm3 0zm11 0h1m6 0zm3 0zm3 0zm-16 1zm16 0zm-26 1h2m6 0zm5 0h1m2 0zm145 0zm-158 1zm2 0zm7 0zm3 0zm-14 1h1m2 0h1m2 0zm24 0z"/><path stroke="#1e32ff" stroke-width="1.05" d="M154 1h1m2 0h1m4 0h1m2 0zm7 0zm19 0h1m34 0zm-210 1zm18 0zm123 0zm3 0h1m4 0zm2 0zm6 0zm-6 1zm4 0zm-83 65zm3 4h1m2 0h2m2 0zm-5 1zm2 0zm-2 1zm-9 2zm0 1zm-34 1zm35 0zm12 0zm-60 1zm41 0zm7 0zm3 0zm-39 1zm40 0zm-46 1zm2 0zm45 0zm-46 1zm33 0zm14 0zm-3 1zm2 0h2m-20 1zm6 0zm14 0h1m-25 1zm21 0zm-33 1h1m18 0zm7 0zm8 0zm5 0zm-51 1zm39 0zm5 0zm2 0h1m2 0zm3 0zm16 0h1m-67 1zm32 0h1m10 0zm-5 1h1m2 0zm2 0zm5 0zm3 0zm-32 1h2m16 0zm3 0h1m5 0h2m13 0zm-55 1zm23 0zm8 0zm3 0zm12 0zm2 0zm-56 1zm31 0zm8 0h1m8 0zm4 0h1m2 0zm-62 1zm17 0zm20 0zm7 0zm5 0zm2 0zm3 0h2m-49 1zm2 0h1m8 0zm12 0zm11 0zm7 0zm3 0zm6 0zm-43 1zm3 0zm22 0h1m5 0h1m7 0zm2 0zm2 0zm7 0zm-59 1zm41 0h1m4 0zm8 0zm-45 1zm6 0zm22 0zm5 0zm3 0zm2 0zm2 0zm4 0zm2 0h1m2 0zm-68 1zm7 0zm25 0zm3 0h2m2 0zm3 0zm9 0h1m11 0zm6 0zm-48 1zm29 0zm6 0zm5 0zm5 0h1m-69 1zm21 0zm21 0zm9 0zm4 0zm-55 1zm2 0zm33 0h1m4 0h1m2 0zm6 0zm5 0zm17 0zm4 0zm-76 1zm14 0zm4 0zm7 0zm13 0zm3 0zm2 0zm4 0h1m6 0zm16 0zm6 0h2m-66 1zm2 0zm20 0zm6 0zm2 0zm2 0zm30 0zm2 0zm4 0zm-75 1zm10 0zm2 0h1m9 0zm7 0zm13 0zm2 0zm-21 1h1m3 0zm2 0h1m7 0h2m6 0h1m7 0zm11 0zm4 0zm-66 1zm4 0zm2 0zm17 0h1m2 0h1m10 0zm2 0h1m4 0zm8 0zm11 0zm-57 1zm7 0zm25 0zm2 0zm23 0zm-57 1zm6 0zm14 0h1m6 0zm30 0h1m-60 1h1m9 0h1m4 0zm10 0zm10 0zm25 0h1m2 0zm-68 1zm6 0zm10 0zm24 0zm30 0h1m-81 1zm38 0zm7 0zm6 0h1m27 0zm-65 1zm30 0zm2 0zm-42 1zm6 0zm22 0zm10 0zm10 0zm24 0h4m4 0zm-84 1zm6 0zm3 0zm4 0h1m9 0zm3 0zm5 0h1m39 0zm5 0zm3 0zm5 0zm-78 1zm7 0zm12 0h3m7 0zm9 0zm41 0zm-88 1zm4 0zm11 0h1m13 0h1m5 0zm6 0zm37 0zm4 0h1m3 0zm-91 1zm23 0h1m3 0zm5 0zm10 0h2m38 0zm5 0zm3 0zm2 0zm-86 1zm6 0zm8 0zm3 0zm6 0zm10 0zm4 0zm4 0zm5 0zm41 0zm-77 1zm6 0zm11 0zm6 0zm5 0zm5 0zm3 0h1m3 0zm25 0zm-61 1zm6 0zm5 0zm2 0zm11 0zm3 0zm5 0zm4 0zm26 0zm8 0zm-85 1zm18 0h1m4 0h1m5 0zm6 0zm5 0zm4 0zm43 0zm-78 1zm13 0zm7 0zm9 0h1m-30 1zm10 0h1m3 0zm3 0h1m2 0zm5 0h1m4 0zm48 0zm-68 1zm23 0zm38 0h1m5 0zm-93 1zm17 0zm4 0h1m4 0zm2 0h2m20 0zm2 0zm3 0zm4 0zm27 0zm2 0zm2 0zm-74 1zm10 0zm2 0zm4 0zm18 0zm4 0zm-36 1zm5 0zm3 0zm5 0zm8 0zm49 0zm-80 1zm2 0zm6 0zm10 0zm3 0zm3 0h1m2 0zm5 0zm14 0zm-48 1zm4 0h2m4 0h2m5 0zm2 0h1m5 0zm2 0zm7 0zm45 0zm-78 1zm2 0zm4 0zm3 0zm4 0zm2 0zm5 0zm2 0zm15 0zm40 0zm2 0h2m-77 1zm8 0zm5 0zm6 0zm6 0zm6 0zm2 0zm6 0zm3 0zm30 0zm2 0zm3 0zm-63 1zm10 0zm3 0zm6 0h1m40 0zm2 0zm-73 1zm4 0zm20 0h1m3 0zm2 0zm9 0zm33 0zm-66 1h1m6 0zm2 0zm6 0zm4 0zm3 0zm45 0zm-75 1zm9 0zm3 0zm3 0zm3 0h3m7 0zm-24 1zm5 0zm2 0zm16 0zm4 0zm5 0zm34 0zm3 0h1m-79 1zm21 0zm8 0zm4 0zm4 0zm42 0zm3 0zm-60 1zm8 0zm3 0zm4 0zm2 0zm2 0h1m-22 1zm9 0zm8 0zm2 0zm-33 1h1m21 0h1m9 0zm4 0zm-29 1zm5 0zm7 0zm4 0zm3 0zm9 0zm36 0zm-68 1zm3 0zm4 0zm2 0zm3 0zm5 0h1m3 0zm6 0h1m4 0zm33 0zm-60 1zm2 0zm3 0zm9 0zm11 0zm3 0zm31 0h1m-68 1zm3 0zm7 0zm2 0h1m2 0zm2 0zm2 0h1m4 0zm3 0zm2 0zm3 0h1m3 0zm35 0h1m-68 1zm3 0h1m5 0h1m2 0zm7 0zm8 0zm2 0zm2 0zm32 0zm9 0zm-66 1zm4 0zm3 0zm6 0zm45 0zm-69 1zm2 0h1m8 0zm12 0zm8 0zm2 0zm-24 1zm12 0zm11 0zm39 0zm-74 1h1m5 0zm20 0zm4 0zm7 0zm-36 1zm8 0zm5 0zm5 0zm10 0zm6 0zm-30 1zm5 0zm8 0zm13 0zm40 0zm-59 1zm6 0zm18 0zm-27 1zm22 0h3m-29 1h2m10 0zm5 0zm5 0zm9 0h1m29 0zm2 0zm-61 1zm2 0h3m3 0h1m2 0h1m7 0zm2 0h3m7 0zm30 0zm8 0zm-59 1h1m2 0h3m5 0zm3 0zm-23 1zm4 0h1m3 0zm4 0h2m4 0zm5 0zm8 0zm28 0zm2 0h1m-62 1h2m2 0zm2 0h2m8 0zm3 0zm7 0zm3 0zm30 0zm-61 1zm6 0zm3 0h1m3 0zm5 0zm3 0zm9 0zm30 0zm2 0zm8 0h1m-69 1h1m7 0zm18 0zm9 0zm24 0zm8 0zm-70 1zm6 0h1m2 0h1m3 0h1m8 0zm2 0zm2 0zm2 0zm4 0zm5 0h1m-34 1zm2 0zm12 0zm5 0zm6 0zm2 0h1m21 0zm6 0zm3 0zm8 0zm-46 1h2m35 0zm-53 1h1m7 0zm4 0zm2 0h1m2 0zm-31 1zm6 0zm6 0zm18 0zm6 0zm22 0zm-56 1zm4 0zm6 0zm3 0zm3 0zm4 0zm4 0zm11 0zm24 0zm-54 1zm21 0zm2 0zm2 0zm7 0h1m19 0zm3 0zm-66 1zm6 0zm4 0zm3 0zm3 0zm10 0zm2 0zm18 0zm2 0zm18 0h2m-67 1zm2 0zm6 0zm23 0zm2 0h1m11 0zm19 0zm-60 1h2m19 0h1m6 0zm3 0zm29 0zm3 0zm-70 1zm2 0zm3 0h1m2 0zm22 0zm8 0h1m24 0zm-59 1zm28 0zm34 0zm-67 1h2m2 0h2m27 0zm10 0zm-40 1zm62 0h1m-32 1h1m29 0h1m-34 1zm4 0zm29 0zm-36 1zm31 0zm2 0zm6 0zm-67 1zm3 0zm55 0zm6 0zm2 0zm-67 1zm32 0zm28 0zm3 0h3m3 0zm-66 1zm64 0h1m-7 1zm-2 1h1m2 0zm2 0zm-63 1zm59 0zm-61 1zm60 0zm-62 1zm2 0zm58 0zm5 0zm-3 1zm1 1zm-1 1h1m-61 1zm2 0zm0 1zm58 0zm2 0zm-3 1zm2 0zm-64 1zm61 0zm3 0zm-60 1zm-6 1zm63 0zm-61 1zm60 0zm2 0zm-61 1zm57 0zm3 0h2m-5 1h1m2 0zm-4 1zm2 0h1m-62 1zm58 0zm3 0h1m-1 1h1m-58 1zm52 0zm4 0zm1 1zm-2 1h1m-60 1h2m-1 1h1m53 0zm3 0zm-56 1h1m51 0zm2 0zm3 0zm-3 1h1m-57 1zm57 0h1m-58 1zm52 0zm-49 1zm2 0zm-6 1zm56 0zm-55 1zm50 0h1m-52 1h1m0 1h1m48 1zm-51 1zm49 0zm2 0zm-23 1zm21 0zm-46 1zm24 0h1m-27 1zm31 0zm-31 1zm0 1zm12 0zm14 0h1m16 0h1m2 0zm-10 1zm-36 1zm2 0zm5 0zm5 0zm8 0zm11 0zm5 0zm-36 1zm9 0h1m2 0zm5 0h3m3 0h2m3 0zm-18 1zm3 0zm5 0zm3 0zm11 0h2m-20 1zm9 0h3m-16 1zm3 0zm4 0zm4 0h2m12 0zm-37 1h1m8 0zm4 0h1m10 0zm3 0zm-4 1zm4 0h1m3 0zm-29 1zm20 0zm7 0zm-19 1zm4 0zm-11 1zm7 1zm-9 1zm9 0zm-2 1zm-7 1zm7 2h1m-9 2zm4 0zm2 0zm-7 7zm5 0z"/><path stroke="#153bff" d="M149 1zm7 0zm4 0zm7 0zm4 0zm-18 1zm10 0zm3 0zm5 0h1m-78 71zm-1 6zm-3 1zm-1 2zm-11 1zm9 0zm-10 1zm2 0h1m7 0zm4 0zm-15 1zm17 0zm2 0zm-18 1zm4 0zm6 0h1m4 0zm2 0zm-49 1zm33 0zm9 0zm2 0zm6 0zm-11 1zm12 0zm-22 2zm10 0zm12 0zm-43 1zm20 0zm14 0h1m5 0zm-40 1zm-7 1zm5 0zm34 0zm5 0zm6 0zm3 0zm-46 1zm24 0zm4 0zm3 0zm5 0zm3 0h1m3 0zm-21 1zm5 0zm4 0zm2 0zm7 0zm4 0zm-12 1zm4 0zm6 0zm2 0h1m-57 1zm37 0zm2 0zm6 0zm-44 1zm2 0zm26 0zm9 0zm2 0zm5 0h1m3 0zm7 0zm-58 1zm28 0zm3 0zm2 0zm7 0h1m4 0zm8 0zm3 0zm-55 1zm12 0zm16 0zm3 0zm7 0h2m3 0h1m1 1zm4 0h1m2 0zm5 0h1m4 0h1m-29 1zm4 0zm3 0zm4 0zm4 0zm3 0zm12 0zm-58 1zm34 0zm2 0zm8 0zm3 0h1m5 0zm-67 1zm11 0zm12 0zm9 0zm19 0zm3 0zm3 0zm2 0zm7 0zm8 0zm-44 1zm12 0h1m24 0zm-58 1zm33 0zm23 0zm-35 1h1m8 0zm-25 1zm8 0zm16 0zm8 0zm25 0zm-61 1zm21 0zm7 0zm2 0zm7 0zm2 0zm-39 1zm21 0zm10 0zm26 0zm2 0h2m-35 1zm3 0zm2 0zm28 0zm-41 1zm6 0zm2 0zm2 0zm10 0zm21 0zm-36 1h1m2 0zm-33 1zm2 0zm27 0h2m2 0zm3 0zm27 0zm5 0zm3 0zm-76 1zm16 0h1m18 0zm2 0zm3 0zm7 0zm24 0zm3 0zm-79 1zm5 0h1m5 0zm28 0zm6 0zm2 0h1m23 0h1m2 0zm4 0zm4 0zm-84 1zm16 0zm7 0h1m7 0zm2 0zm15 0h2m21 0zm4 0zm5 0zm3 0zm2 0zm-78 1zm13 0zm15 0zm15 0zm22 0zm5 0zm-58 1zm6 0zm19 0zm5 0zm30 0zm-58 1zm5 0zm11 0zm5 0zm3 0zm2 0h2m37 0zm-78 1h1m16 0h2m4 0zm2 0zm13 0h1m2 0zm26 0zm2 0h1m-62 1h1m2 0h1m22 0zm6 0zm29 0h2m7 0zm-79 1zm8 0zm2 0zm14 0zm4 0zm4 0h1m3 0zm3 0zm4 0zm25 0h1m2 0zm-71 1zm10 0zm9 0zm6 0zm3 0zm3 0zm9 0zm31 0zm3 0zm-73 1zm9 0zm9 0h2m10 0zm5 0zm31 0zm-57 1zm9 0zm15 0zm4 0zm31 0zm2 0zm-71 1zm13 0h1m4 0zm8 0zm45 0zm-72 1zm27 0zm5 0h1m9 0zm3 0zm16 0zm-55 1zm12 0zm9 0zm7 0zm6 0zm-44 1zm2 0zm9 0zm9 0zm2 0zm10 0zm12 0zm2 0zm26 0h1m-69 1h1m6 0zm12 0zm4 0zm4 0zm10 0zm35 0zm-60 1zm4 0h3m7 0h1m2 0zm7 0zm2 0h1m33 0zm-63 1zm6 0h2m2 0h1m9 0zm2 0zm4 0h1m30 0zm4 0zm-54 1h2m2 0zm7 0zm2 0zm-14 1zm5 0zm5 0zm44 0zm-69 1zm11 0zm4 0zm6 0zm5 0zm2 0zm42 0zm-73 1zm34 0zm5 0zm2 0zm4 0zm29 0zm-43 1h1m-3 1zm5 0zm4 0zm3 0zm27 0zm6 0zm-65 1h1m6 0h2m8 0zm2 0h1m36 0zm7 0zm3 0zm-72 1zm26 0zm4 0h1m5 0zm28 0h1m3 0h1m-71 1zm3 0zm3 0zm2 0zm7 0zm2 0zm2 0zm8 0h2m5 0h1m3 0h1m22 0zm6 0zm3 0zm-68 1zm14 0h1m3 0zm8 0zm4 0zm38 0zm-68 1zm4 0h2m9 0zm10 0zm2 0zm9 0zm29 0zm3 0zm-67 1h1m24 0zm9 0zm37 0zm-71 1zm2 0h1m8 0zm11 0zm7 0zm3 0zm-30 1zm5 0zm8 0zm2 0zm4 0zm2 0zm10 0zm4 0zm2 0zm26 0zm-58 1zm25 0zm0 1zm-20 1zm23 0zm28 0h1m2 0zm-63 1zm4 0zm22 0zm34 0zm-55 1h1m16 0h1m34 0h1m-57 1zm2 0zm2 0h1m21 0h1m-29 1zm5 0zm2 0zm16 0zm2 0zm31 0zm-37 1zm5 0zm5 0zm3 0zm29 0zm-43 1zm3 0zm12 0zm25 0zm2 0zm-51 1zm6 0zm6 0h1m8 0zm9 0zm-42 1zm6 0zm8 0zm10 0h1m8 0zm7 0zm20 0h1m-53 1zm8 0zm8 0zm6 0zm2 0h2m26 0zm2 0zm8 0zm-64 1h1m5 0h4m18 0zm5 0h1m20 0zm-49 1zm5 0h1m2 0zm11 0zm3 0zm3 0zm22 0h2m2 0zm-52 1h3m2 0h2m2 0zm7 0zm8 0h1m21 0zm-56 1zm5 0zm7 0zm3 0zm13 0zm9 0zm18 0zm2 0zm3 0zm-60 1h1m5 0h1m3 0h1m2 0zm2 0zm2 0h1m8 0h3m4 0zm24 0zm-54 1zm2 0zm2 0h1m8 0zm2 0h1m9 0h1m5 0zm2 0h1m17 0zm-57 1h1m5 0h1m3 0zm8 0zm2 0zm4 0h2m3 0zm6 0zm3 0zm3 0zm14 0h1m4 0zm-65 1h1m5 0zm2 0zm9 0zm2 0zm3 0zm6 0zm3 0zm2 0zm2 0zm2 0zm3 0zm4 0zm22 0zm-67 1zm7 0h1m13 0zm5 0zm2 0zm8 0zm5 0zm3 0zm19 0zm-57 1h1m6 0zm2 0h1m3 0zm4 0zm2 0h4m7 0zm25 0h1m3 0h1m-54 1zm16 0h1m8 0zm9 0zm-16 1h1m2 0zm5 0zm9 0zm15 0zm-60 1zm6 0zm5 0zm25 0zm19 0zm-53 1zm17 0zm2 0zm5 0zm4 0zm3 0zm-35 1zm2 0zm5 0zm2 0zm15 0zm9 0zm5 0zm22 0zm-58 1zm6 0zm19 0zm2 0zm3 0zm27 0zm-58 1zm3 0zm3 0zm12 0zm2 0zm3 0zm4 0h1m28 0zm6 0zm-67 1zm3 0h1m25 0zm2 0zm8 0zm24 0zm3 0zm2 0zm-67 1zm28 0h1m27 0zm10 0zm-35 1zm26 0zm-27 1zm2 0zm25 0zm-57 1zm57 0zm3 0h1m2 0h1m-66 1zm6 0zm28 0zm27 0zm-64 1zm3 0zm2 0zm55 0h2m4 0zm-66 1zm6 0zm53 0zm5 0zm-63 1zm58 0zm2 0zm3 0zm-62 1zm59 0zm3 0zm-60 1zm56 0h1m-58 1h1m55 0h1m-53 1zm-5 1zm3 0zm54 0h1m-61 1zm2 0zm3 0zm56 0zm-60 1h2m57 0zm-61 1h1m2 0h1m-3 1h1m2 0zm56 0zm-58 1h2m56 0zm-61 1zm6 0zm-3 1zm2 0zm53 0zm4 0zm-58 1zm2 0zm52 0zm-57 1zm4 0zm2 0zm-7 1h1m2 0zm-2 1h1m53 0zm-54 1h2m59 0zm-61 1zm55 0zm6 0zm-59 1zm55 0zm-54 1zm49 0zm-53 1zm4 0zm2 0zm47 0zm2 0zm-3 1zm7 0zm-55 1zm49 0h1m-53 1zm4 0zm8 0zm40 0zm3 0zm-56 1zm29 0zm21 0zm3 0zm2 0zm-55 1zm50 0zm2 0zm-3 1zm-48 1h2m2 0zm9 0zm36 1zm-49 1zm2 0zm5 0zm42 0zm-49 1zm7 0zm16 0zm3 0h1m17 0zm3 0zm-47 1h2m8 0zm12 0zm8 0zm12 0h1m-42 1h2m5 0zm11 0h1m2 0h1m5 0zm16 0zm-45 1h1m21 0zm2 0h1m4 0zm2 0zm13 0zm-44 1zm3 0zm23 0zm7 0zm6 0zm2 0h2m-36 1zm21 0zm2 0zm9 0zm-39 1zm4 0zm5 0h1m7 0zm5 0h1m6 0zm2 0h1m6 0h1m-41 1zm5 0zm12 0h1m5 0h1m3 0zm4 0zm2 0h2m5 0zm-41 1h1m3 0zm13 0zm7 0zm5 0zm6 0zm-35 1zm4 0h1m8 0zm3 0zm5 0zm3 0zm2 0zm2 0zm-26 1zm2 0zm7 0zm2 0h1m9 0zm-10 1zm25 0zm-28 1h2m6 0zm5 0zm-20 1zm7 0zm3 0h1m7 0zm-18 1zm9 0zm8 0zm-16 1zm5 0zm2 0h1m-8 1zm5 0zm-5 1h1m-3 1zm0 1zm4 1h1m-7 2zm0 1zm7 0zm-6 1h1m3 0zm-4 2zm2 1h1m0 2zm0 1z"/><path stroke="#0a69ff" d="M150 1zm2 0zm7 0zm7 0zm2 0zm-18 1h1m17 0h2m-126 79zm34 4zm16 0zm-5 1zm5 1zm-28 2zm22 0zm5 0zm-4 2zm-15 1zm24 0zm-1 1h1m-17 2zm4 0zm3 0zm8 0zm-17 1h1m7 0zm-2 1zm3 0zm-8 1zm8 0zm-3 1h1m4 0h1m6 0zm-24 1zm13 0h5m3 0h2m-18 1zm3 0h1m6 0zm5 0h2m-16 1zm9 0zm2 0zm6 0h2m-20 1zm11 0zm6 0h1m2 0zm-19 1zm3 0zm3 0zm3 0zm2 0zm6 0zm4 0zm-24 1zm18 0h1m-23 1zm6 0zm3 0zm8 0h2m7 0zm-26 1zm7 0h3m3 0zm5 0zm-16 1zm3 0zm2 0h1m2 0zm6 0zm9 0h1m-34 1zm10 0zm3 0h1m5 0zm5 0zm10 0zm-19 1h1m10 0zm5 0zm-23 1zm6 0h1m7 0zm5 0zm7 0zm8 0zm-33 1zm2 0h4m2 0zm2 0zm13 0zm3 0h1m-61 1zm30 0zm2 0zm2 0zm2 0zm3 0zm21 0zm-70 1zm38 0zm3 0zm7 0h1m10 0zm12 0zm-29 1h1m4 0zm2 0zm18 0zm6 0zm-70 1zm13 0h1m13 0zm17 0zm25 0zm-23 1zm4 0zm14 0h1m3 0zm-59 1zm3 0zm24 0zm31 0zm3 0zm-31 1zm8 0zm9 0zm7 0zm2 0zm-64 1zm29 0zm4 0zm29 0h3m-54 1zm23 0h1m3 0zm3 0h1m24 0zm-54 1zm11 0zm11 0zm2 0zm-19 1zm21 0zm3 0zm22 0h1m3 0zm-50 1zm4 0zm17 0zm2 0h1m22 0h2m-38 1zm11 0zm2 0zm2 0zm24 0zm-60 1zm9 0zm23 0zm3 0zm26 0zm-51 1zm19 0zm3 0zm26 0zm2 0zm-69 1zm35 0h1m7 0zm24 0h2m-55 1zm21 0zm2 0zm4 0h1m24 0zm5 0zm-34 1zm5 0zm24 0zm-52 1zm25 0h1m6 0zm16 0zm3 0zm-51 1zm22 0zm29 0zm-52 1zm13 0zm13 0zm25 0zm2 0zm-58 1zm27 0h4m23 0zm2 0zm2 0h1m-54 1zm24 0zm3 0zm26 0h1m2 0zm-43 1zm9 0zm6 0zm27 0zm-48 1zm43 0zm2 0h1m-46 1zm17 0zm2 0zm2 0zm24 0zm2 0zm-47 1zm15 0zm5 0zm19 0zm4 0zm2 0zm2 0zm-44 1zm4 0zm2 0zm7 0h1m30 0zm-56 1h2m9 0zm6 0zm9 0zm-38 1zm12 0zm6 0zm6 0zm15 0zm27 0zm-61 1h1m11 0zm20 0zm27 0zm-57 1zm23 0zm7 0zm0 1h2m25 0h1m-57 1zm26 0h2m2 0zm2 0zm-38 1zm5 0zm28 0zm32 0zm-35 1zm3 0zm25 0zm5 0zm-57 1zm23 0zm3 0zm29 0h2m-34 1h2m2 0zm27 0h1m-36 1zm4 0zm31 0zm-58 1zm2 0zm26 0zm6 0zm21 0h1m-59 1zm2 0zm33 0zm2 0zm-31 1zm2 0zm20 0h1m3 0h1m7 0zm-13 1h2m8 0zm6 0zm-15 1h1m5 0zm3 0zm-28 1zm20 0zm2 0zm4 0zm-13 1zm7 0zm5 0h1m2 0zm-21 1zm6 0zm2 0zm10 0h1m5 0zm-5 1h1m20 0h1m-46 1zm3 0zm24 0zm14 0h1m7 0zm-47 1zm19 0zm3 0zm2 0h1m15 0h1m2 0h1m-48 1zm4 0zm2 0zm2 0h1m16 0zm3 0h1m14 0h1m4 0zm-53 1zm7 0zm12 0zm12 0h3m7 0zm5 0zm7 0zm-57 1h1m8 0zm7 0zm3 0zm3 0zm12 0zm4 0zm12 0zm4 0h2m2 0zm-57 1zm8 0h1m14 0zm3 0h2m3 0h1m22 0zm2 0zm-61 1zm2 0zm3 0h1m3 0zm2 0zm5 0zm3 0zm2 0zm10 0zm2 0zm5 0zm3 0zm-37 1h1m2 0zm3 0h2m2 0zm2 0h1m7 0zm5 0zm2 0zm2 0zm4 0zm5 0zm10 0zm2 0zm-59 1zm2 0zm6 0zm21 0zm5 0zm3 0h3m9 0zm10 0zm-52 1zm3 0zm2 0zm17 0zm4 0zm4 0zm9 0zm11 0h1m4 0zm-51 1h1m8 0zm2 0h1m4 0zm9 0zm3 0zm4 0h1m-38 1zm5 0zm5 0zm8 0h1m6 0h2m16 0zm4 0zm2 0zm2 0zm-55 1zm2 0h1m6 0h1m17 0h1m3 0zm7 0zm9 0zm6 0h1m3 0zm-55 1zm5 0h1m15 0zm14 0zm15 0zm-54 1zm6 0zm3 0zm10 0zm2 0zm2 0zm14 0zm9 0zm6 0h1m2 0zm2 0zm-55 1zm14 0zm5 0h1m2 0zm5 0zm2 0h3m5 0zm16 0zm-55 1zm5 0zm14 0zm3 0zm3 0zm3 0zm3 0zm2 0zm20 0zm2 0zm-42 1zm10 0zm4 0zm5 0h1m17 0zm5 0zm-56 1h1m4 0zm29 0zm17 0h2m-57 1zm5 0zm31 0zm20 0h1m5 0zm-60 1zm2 0zm5 0zm22 0zm3 0zm20 0zm2 0zm7 0zm-63 1zm34 0zm21 0zm2 0zm-55 1h3m4 0zm45 0zm-53 1zm3 0h2m48 0zm2 0zm-56 1h1m58 0zm-60 1h2m3 0zm50 0zm-53 1zm54 0zm-54 1zm52 0zm0 1zm-54 1zm6 0zm48 0h1m3 0zm-59 1h1m2 0zm-2 1h1m54 0zm0 1h1m-61 1zm3 0zm3 0zm53 0zm2 0zm-56 1zm53 0h1m-59 1zm56 0h2m3 0zm-58 1zm3 0zm50 0zm2 0zm-54 1zm4 0zm5 0zm-10 1zm2 0zm2 0h1m5 0zm42 0zm-54 1zm4 0zm50 0zm4 2zm-58 1h1m2 2zm49 0zm5 0zm-58 2zm3 0zm3 0zm5 0h1m13 0zm-24 1h1m2 0h1m45 0h1m-49 1zm4 0zm13 0zm6 0zm28 0zm-53 1zm5 0zm9 0zm39 0zm-53 1zm13 0zm12 0zm-24 1zm7 1h1m2 0zm36 0h1m-46 1zm2 0zm3 0zm4 0zm2 0zm3 0h1m29 0h1m-46 1zm11 0h1m10 0zm3 0zm2 0zm18 0h1m-45 1zm6 0h1m19 0h2m2 0zm13 0zm-42 1zm13 0zm2 0zm3 0zm8 0zm15 0h1m-38 1zm19 0h1m4 0h2m-32 1zm2 0zm3 0zm11 0h1m7 0zm7 0zm8 0h2m-39 1zm3 0zm3 0zm6 0zm3 0h1m8 0zm4 0zm6 0zm-38 1zm3 0zm5 0zm9 0h2m3 0zm7 0zm4 0zm-32 1zm4 0h1m2 0zm3 0zm4 0h1m8 0h3m3 0zm3 0h1m-30 1zm5 0h1m18 0zm-24 1h1m2 0zm-3 1zm2 0h1m-2 1h1m-2 1zm3 0h1m9 0zm-12 1zm-1 1zm4 0zm-4 1zm2 0zm-6 1zm2 0zm3 0zm-1 1zm-4 1zm3 0zm-3 1zm2 0zm2 0zm-4 1zm3 0h1m-3 1zm-2 1zm4 0zm-4 1zm4 0zm-4 1zm4 0zm-4 2zm1 1zm-3 1zm-1 1zm5 0z"/><path stroke="#009bfe" d="M152 2zm-64 86zm-1 7zm-2 3zm11 1zm-16 2zm7 0zm4 0zm-11 1zm11 0zm2 0zm2 0zm-16 1zm2 0zm4 0h1m5 0h1m5 0zm-16 1zm3 0zm8 0h1m2 0zm2 0zm-15 1h1m2 0h1m4 0zm7 0zm-12 1h1m9 0zm-22 1zm5 0zm5 0zm4 0h2m2 0zm5 0h1m-25 1zm9 0zm2 0zm3 0h1m3 0h1m4 0zm-22 1zm3 0zm6 0zm3 0zm4 0zm2 0zm3 0zm2 0zm3 0zm-17 1zm5 0zm4 0h1m4 0h1m3 0zm-20 1h1m11 0zm2 0zm6 0zm-26 1zm8 0zm12 0zm3 0h1m-24 1zm14 0h1m2 0zm5 0zm-24 1h3m12 0zm7 0zm-21 1zm2 0zm8 0zm8 0zm4 0zm-68 1zm31 0zm16 0h1m8 0zm2 0zm4 0zm3 0zm2 0zm-18 1zm13 0zm3 0zm10 0zm-64 1zm40 0zm4 0zm6 0zm4 0h1m-19 1zm2 0zm4 0zm2 0zm7 0h1m4 0zm-20 1zm2 0zm2 0h1m10 0h1m-25 1zm8 0zm17 0zm6 0h1m-48 1zm6 0zm11 0zm8 0h1m13 0h1m7 0zm3 0zm-44 1zm17 0zm18 0zm-18 1zm17 0h1m4 0h1m5 0zm-28 1zm8 0zm14 0h1m3 0zm-25 1zm4 0zm16 0zm2 0zm2 0h1m-31 1zm3 0zm3 0zm5 0h2m12 0zm2 0h2m2 0zm-31 1h1m4 0zm17 0zm-23 1zm9 0zm14 0zm2 0zm-45 1zm27 0zm20 0zm2 0zm-24 1zm2 0zm2 0zm19 0zm2 0zm-39 1zm13 0zm6 0zm16 0h2m2 0h1m-31 1zm26 0h1m-23 1zm23 0zm2 0zm3 0zm-33 1h1m7 0zm20 0h1m-28 1zm2 0h1m24 0zm-27 1zm3 0zm25 0zm3 0zm-32 1h1m6 0zm24 0zm-30 1zm5 0h1m19 0h1m4 0zm-25 1zm16 0zm5 0h1m2 0h1m-26 1zm20 0zm5 0zm-28 1zm2 0zm20 0zm2 0zm2 0zm-26 1zm23 0zm-20 1zm19 0zm3 0zm3 0zm-30 1zm4 0h1m20 0zm2 0zm-26 1zm9 0h1m13 0h1m2 0h1m-28 1h1m2 0zm21 0zm3 0h2m-28 1h2m22 0zm3 0zm-27 1h1m2 0h1m21 0zm-25 1zm2 0zm2 0zm18 0zm-26 1zm2 0zm2 0h1m21 0zm-54 1zm3 0zm25 0h3m3 0h1m15 0zm-16 1h2m17 0zm2 0zm-24 1h1m2 0h1m5 0zm13 0zm-27 1zm6 0zm21 0zm2 0zm-12 1zm11 0h1m-22 1zm2 0zm19 0h1m-23 1zm2 0zm2 0zm4 0zm12 0h2m-6 1zm5 0h1m-24 1zm6 0zm3 0zm9 0h3m3 0zm-25 1zm6 0h1m11 0zm5 0zm-11 1zm5 0zm-40 1zm29 0h1m4 0zm-31 1zm30 0zm-17 1zm6 0zm8 0h1m3 0zm2 0h2m4 0zm5 0zm-53 1zm36 0h1m4 0zm5 0zm-47 1h1m5 0zm29 0h1m11 0h1m-42 1zm10 0zm13 0zm4 0zm13 0zm-49 1zm2 0zm6 0zm3 0zm22 0zm3 0zm3 0zm3 0zm6 0zm-48 1zm6 0h1m2 0h3m17 0zm2 0zm2 0zm6 0zm3 0zm5 0zm-48 1h2m3 0h2m10 0zm13 0zm2 0h2m3 0zm2 0h1m2 0zm3 0h3m-48 1h1m4 0zm2 0zm4 0zm4 0zm6 0zm15 0zm2 0zm4 0zm-44 1zm8 0zm2 0h1m7 0zm15 0zm4 0h1m7 0zm2 0zm4 0h1m-55 1zm4 0zm4 0h3m5 0zm2 0h1m2 0zm3 0zm7 0h2m10 0zm2 0zm2 0zm2 0zm5 0h1m-56 1zm2 0zm6 0zm2 0zm2 0zm10 0zm9 0zm2 0h1m3 0h1m2 0zm8 0zm6 0zm-52 1h1m2 0zm6 0zm6 0zm21 0h1m6 0zm2 0zm3 0h1m-52 1h3m3 0h2m2 0h3m6 0zm7 0zm2 0h1m5 0zm4 0zm7 0zm6 0zm-53 1zm2 0zm2 0zm2 0zm3 0zm3 0zm3 0h1m2 0h2m3 0zm7 0h2m16 0zm7 0zm-53 1zm2 0zm5 0zm5 0h2m13 0zm21 0zm-47 1zm4 0zm5 0zm4 0zm2 0h1m7 0zm22 0h2m-49 1h2m4 0zm2 0zm3 0zm6 0zm10 0zm20 0zm-51 1zm2 0zm4 0zm3 0zm18 0h2m5 0zm21 0zm-45 1h1m3 0zm3 0zm10 0zm24 0zm-52 1zm3 0zm4 0zm7 0h2m12 0zm25 0zm-50 1zm2 0h1m5 0h1m16 0h1m23 0h2m4 0zm-55 1zm3 0h1m5 0zm3 0zm38 0zm-51 1h2m8 0h1m40 0h1m-26 1zm2 0zm-29 1h1m2 0h2m17 0zm32 0zm-53 1zm2 0zm21 0zm-29 1zm8 0zm4 0zm45 0zm-52 2zm52 0zm-52 1zm-1 1h1m6 0zm42 0h1m-50 1zm11 0zm38 0zm-55 1h1m6 0zm11 0zm37 0zm-55 1zm9 0zm3 0zm-9 2h1m2 0h3m14 0zm-19 1h1m-2 1zm2 0zm47 0zm2 0zm-51 1zm2 0zm48 0zm-48 1h1m20 0zm26 0zm-46 1zm6 0h1m4 0zm5 0zm7 0zm22 0zm-40 1h1m5 0zm8 0zm-21 1h1m4 0h1m3 0h1m9 0zm-23 1zm6 0zm3 0h1m3 0zm15 0zm21 0zm-48 1zm2 0zm2 0zm2 0zm2 0h2m9 0zm-19 1zm11 0zm7 0zm7 0zm3 0zm18 0zm-46 1h2m2 0h1m3 0zm2 0zm12 0zm4 0h1m18 0zm2 0zm-46 1zm3 0h2m2 0h1m3 0h3m10 0h1m4 0zm16 0zm-42 1zm2 0zm3 0zm2 0zm2 0zm2 0zm2 0zm9 0zm2 0h2m14 0h1m-41 1h1m2 0zm2 0zm8 0zm4 0zm4 0zm2 0h1m5 0zm10 0h1m3 0zm-44 1zm4 0zm2 0h1m3 0zm2 0h1m5 0zm3 0zm4 0h1m2 0h1m9 0h1m-42 1zm2 0h1m6 0zm3 0h3m4 0h1m21 0zm-38 1h3m2 0zm2 0zm9 0zm12 0h2m7 0zm-37 1zm5 0h1m7 0zm21 0zm3 0h1m-37 1zm2 0h1m12 0zm14 0zm3 0zm-37 1zm4 0zm6 0zm3 0zm3 0h1m3 0h1m2 0h1m2 0zm2 0zm5 0zm3 0zm-36 1h1m2 0h1m7 0h1m2 0h1m15 0zm5 0h1m-34 1zm11 0zm22 0h1m-35 1zm11 0zm-11 1zm4 0zm-1 1zm-3 1h1m4 0zm-6 1h1m-2 1h3m-2 1h1m3 0zm-4 1h2m4 0zm-2 2zm0 1h1m-3 1zm3 0zm-5 1zm-1 1zm0 1h1m-3 1zm4 0zm-1 1h1m-3 3zm-1 1zm-1 1zm3 0zm-4 1zm0 1zm4 0zm0 1z"/><path stroke="#00d2f8" d="M151 1zm-65 101h1m-6 3zm3 0zm7 0h2m-10 1h1m8 0zm2 0zm-10 1zm8 0h2m-9 1zm4 0zm3 0zm2 0zm2 0zm-12 1zm8 0h1m2 0zm-14 1zm2 0h1m2 0zm2 0h1m5 0zm-12 1zm2 0zm4 0h1m4 0zm2 0h1m3 0zm-15 1h2m2 0h3m4 0zm-14 1h2m3 0h1m3 0zm4 0h1m-16 1h1m3 0zm7 0h3m2 0zm-21 1zm5 0zm2 0h1m3 0zm2 0zm3 0zm2 0h2m-15 1zm2 0h1m2 0zm4 0zm-14 1h1m2 0zm4 0zm3 0zm2 0h2m3 0zm2 0zm2 0zm-21 1h1m2 0zm2 0h1m9 0zm2 0zm3 0zm-16 1zm9 0zm4 0h1m-15 1zm3 0zm6 0h2m6 0zm-18 1zm2 0h1m6 0h2m2 0zm4 0zm2 0zm-19 1zm4 0zm15 0zm-20 1h1m16 0zm3 0zm-8 1zm4 0zm-15 1zm2 0zm12 0zm2 0zm4 0zm-24 1zm17 0zm2 0zm5 0zm-30 1zm6 0zm3 0zm13 0h2m3 0zm-18 1zm3 0h2m2 0zm9 0zm4 0h1m-16 1zm10 0zm2 0h1m2 0zm2 0zm-23 1h1m4 0zm12 0h1m2 0zm-20 1zm8 0zm9 0zm-19 1zm2 0zm14 0zm-18 1zm2 0h1m3 0zm15 0zm-20 1h1m8 0zm6 0zm4 0h1m-23 1zm4 0zm-5 1zm5 0zm19 0h1m2 0zm-26 1zm5 0zm19 0zm-4 1zm2 0zm2 0h1m-25 1zm5 0zm15 0zm2 0zm-22 1h2m2 0zm17 0h1m-22 1h1m2 0zm15 0zm2 0h1m-19 1zm15 0zm2 0zm3 0zm2 0zm-24 1h3m15 0h3m3 0zm-25 1h2m2 0zm5 0zm11 0zm3 0zm3 0zm-18 1h1m11 0h1m3 0zm-18 1zm-3 1zm3 0zm12 0zm3 0zm3 0zm-21 1zm3 0zm2 0zm11 0h2m3 0zm-27 1h1m3 0zm17 0zm3 0zm-21 1zm2 0zm18 0zm3 0zm-27 1zm2 0zm3 0h1m2 0zm2 0zm13 0zm3 0h1m-24 1zm5 0zm2 0zm-9 1zm9 0h1m8 0zm4 0zm2 0zm-17 1zm13 0h2m-18 1h1m3 0zm2 0h3m2 0zm5 0zm2 0zm-18 1h1m2 0zm4 0zm3 0zm8 0zm-20 1zm4 0zm2 0zm2 0zm6 0zm3 0zm2 0zm2 0zm-8 1zm6 0zm-11 1zm7 0zm2 0h1m2 0zm-15 1h1m8 0h1m-8 1h1m2 0zm3 0h1m5 0zm-16 1h1m2 0h2m2 0h1m-35 1zm29 0h1m4 0zm3 0zm-16 1zm6 0h1m4 0zm3 0zm2 0zm-6 1zm0 1h1m2 0h3m-9 1h1m4 0zm2 0zm-8 1h1m2 0zm5 0zm-35 1zm20 0zm11 0h1m-40 1zm4 0zm5 0zm19 0zm3 0zm5 0zm3 0h2m-38 1h3m2 0zm28 0zm2 0h1m-42 1zm4 0zm7 0h1m20 0zm5 0h1m3 0zm3 0zm-44 1zm5 0zm11 0zm15 0h1m4 0h1m3 0zm2 0zm2 0zm-38 1zm17 0zm7 0zm4 0h1m4 0zm2 0zm2 0zm3 0zm-51 1zm6 0zm4 0zm2 0zm21 0zm7 0zm2 0h2m2 0zm-50 1zm7 0zm2 0zm2 0zm3 0zm23 0zm8 0zm2 0zm-33 1zm2 0zm4 0zm15 0zm5 0zm4 0zm2 0h3m-46 1zm2 0h1m2 0h1m2 0zm4 0zm10 0zm8 0h1m11 0zm2 0h1m-47 1zm4 0h1m3 0zm2 0zm5 0h1m3 0zm2 0zm6 0h2m6 0zm5 0zm6 0zm-47 1zm2 0h1m4 0h2m9 0zm3 0h2m8 0h1m-30 1zm2 0zm2 0zm3 0zm4 0h1m4 0h2m2 0h2m14 0zm7 0zm4 0zm-53 1zm4 0zm6 0zm3 0zm2 0zm2 0h1m2 0h1m4 0zm4 0h1m4 0zm14 0h1m3 0zm-47 1h1m5 0h1m8 0zm8 0zm3 0h3m15 0zm2 0zm-45 1zm2 0zm2 0zm5 0h2m5 0zm3 0zm2 0zm4 0zm4 0zm14 0h1m-43 1zm4 0zm3 0zm14 0zm2 0zm2 0zm-32 1zm3 0zm4 0h2m2 0h1m3 0zm3 0zm9 0zm2 0h1m-27 1h1m2 0zm2 0h1m18 0h2m20 0h1m-48 1h1m2 0h1m3 0h1m2 0zm5 0h1m6 0zm3 0zm23 0zm-45 1h1m4 0zm2 0zm12 0zm28 0zm-57 1zm10 0h1m9 0zm7 0zm4 0h2m22 0zm-49 1zm10 0zm9 0zm2 0zm2 0zm2 0zm2 0zm22 0zm-51 1h2m4 0zm2 0zm16 0zm2 0zm25 0h1m-51 1zm2 0zm2 0zm3 0zm17 0zm25 0zm-45 1zm6 0zm9 0h1m29 0h1m-50 1zm4 0zm2 0zm6 0zm11 0zm2 0zm24 0zm-50 1zm3 0zm3 0h2m3 0zm13 0zm3 0zm-29 1zm4 0zm3 0h1m3 0h1m12 0zm-15 1h1m10 0zm4 0zm2 0zm24 0zm-46 1zm20 0zm-18 1h2m2 0zm11 0zm4 0zm23 0h1m-48 1h1m2 0h2m3 0h1m10 0zm4 0zm24 0zm-49 1zm3 0h2m5 0zm5 0zm2 0zm4 0h2m26 0zm-47 1h2m5 0zm4 0h1m8 0zm2 0zm24 0zm-48 1zm6 0h2m5 0zm2 0zm2 0h1m3 0zm5 0h1m20 0zm-46 1zm3 0zm3 0zm4 0h1m8 0zm2 0zm2 0zm-21 1h1m2 0zm3 0zm9 0h2m2 0h1m23 0h1m-43 1zm7 0h1m5 0zm3 0zm2 0zm3 0h2m18 0zm-42 1h1m3 0zm4 0h1m5 0h1m3 0h1m4 0zm-22 1zm5 0h2m8 0zm26 0zm-43 1h5m6 0h1m6 0zm24 0zm-41 1zm5 0zm2 0h2m2 0zm8 0zm3 0h1m-22 1zm3 0h1m5 0h5m3 0zm3 0h1m3 0h1m11 0zm2 0zm-27 1h1m2 0zm6 0zm5 0h2m8 0h1m-32 1zm2 0h1m10 0zm2 0zm3 0h3m2 0zm4 0zm3 0zm-36 1zm15 0zm18 0h1m-35 1zm6 0zm6 0h1m13 0zm3 0zm3 0h3m-25 1zm22 0zm-26 1h5m23 0h1m-31 1zm3 0zm7 0zm14 0zm2 0zm4 0zm-38 1zm4 0zm2 0zm4 0zm23 0zm-26 1zm5 0zm7 0zm2 0zm11 0zm-32 1zm10 0zm14 1zm-23 4zm0 2zm2 1zm-1 3zm-2 4zm-3 6zm0 3zm-2 1zm2 0z"/><path stroke="#0ef2ca" d="M93 106zm2 1zm-9 2zm4 0zm-5 1zm8 0zm-10 1zm2 0zm2 0zm0 1zm5 0h1m-13 1zm5 0zm7 0h1m-12 1zm3 0h1m-5 1zm4 0zm2 0zm-6 1zm6 0h1m3 0h1m-12 1zm4 0zm2 0zm5 0zm-14 1zm5 0zm2 0h1m2 0h1m3 0zm-13 1zm4 0zm2 0zm3 0zm7 0zm-11 1h1m8 0h2m-13 1zm4 0zm7 0zm-14 1h2m2 0zm6 0zm3 0h4m-17 1h2m2 0h2m4 0h1m3 0zm3 0zm-18 1h1m2 0zm2 0zm12 0zm-16 1zm2 0zm7 0zm2 0h1m2 0zm-15 1zm3 0h1m2 0h1m2 0zm2 0h1m2 0zm2 0zm2 0zm-17 1zm4 0h1m3 0zm6 0zm-15 1zm11 0zm5 0h1m-17 1h1m2 0zm2 0zm7 0zm6 0zm-16 1zm5 0zm5 0h2m-7 1zm4 0zm3 0zm3 0zm-20 1zm2 0zm6 0zm8 0h1m-19 1zm6 0zm2 0zm8 0h1m-15 1h4m10 0zm2 0zm-14 1zm3 0h1m9 0h2m2 0zm-18 1h1m2 0zm3 0zm2 0h1m5 0h1m-17 1zm2 0h1m14 0h2m-17 1h1m2 0h1m3 0zm6 0zm2 0zm-14 1h1m10 0zm-13 1h3m9 0zm3 0zm-16 1h1m18 0zm5 0zm-25 1zm2 0h2m11 0zm-14 1zm7 0zm12 0zm-19 1zm2 0h1m10 0h1m2 0zm3 0zm-20 1h3m12 0zm3 0zm-17 1zm5 0zm9 0h1m-16 1h1m2 0zm2 0h1m4 0h3m2 0h1m3 0zm-25 1zm6 0h1m2 0zm7 0zm2 0h1m8 0zm-21 1zm2 0h2m12 0zm-16 1zm2 0h2m10 0h1m-16 1zm4 0h1m12 0zm-17 1zm4 0zm6 0zm2 0h1m4 0zm-21 1zm9 0h1m2 0zm3 0zm4 0zm-12 1zm3 0zm3 0h3m-12 1h1m7 0zm2 0zm2 0h1m5 0zm-18 1zm2 0h2m2 0zm3 0h1m2 0h3m-17 1zm5 0zm4 0h2m2 0zm3 0zm2 0zm-13 1zm2 0h2m3 0h4m-11 1zm2 0h4m6 0zm-11 1zm2 0zm-5 1zm4 0zm-4 1zm7 0h1m-6 1zm4 0h1m-7 1h1m6 0zm-9 1zm3 0zm3 0zm-3 1zm2 1zm2 0zm2 0zm-7 1zm2 0zm3 0zm-5 1zm4 0h1m-16 1zm-22 2zm35 0zm-7 1zm3 0zm-33 1zm2 0h1m25 0zm4 0zm-31 1zm18 0zm7 0zm3 0zm-35 1zm8 0zm19 0h1m5 0zm2 0h1m5 0h1m-45 1zm4 0zm8 0zm19 0h1m5 0h1m-24 1h1m15 0h1m2 0h2m4 0zm-29 1zm3 0zm3 0zm13 0h1m8 0h1m-38 1zm5 0h1m3 0zm5 0zm9 0zm4 0zm3 0h3m5 0zm5 0zm-41 1zm3 0zm4 0zm6 0zm8 0zm3 0zm5 0zm10 0zm-45 1h1m2 0zm2 0h1m4 0zm3 0zm3 0h2m12 0zm3 0zm2 0zm2 0zm7 0zm-36 1h1m2 0zm2 0zm2 0h2m2 0zm4 0zm6 0zm2 0zm-30 1zm13 0zm3 0zm5 0h2m2 0h1m3 0zm-31 1h1m2 0zm5 0zm2 0zm4 0h1m5 0zm6 0zm3 0h1m-29 1zm13 0h2m2 0h2m7 0zm2 0zm16 0zm-45 1zm2 0zm5 0h1m4 0h1m2 0zm2 0zm4 0zm5 0h1m-28 1zm4 0zm3 0zm5 0zm3 0zm2 0zm2 0zm2 0zm4 0zm20 0zm-42 1h1m3 0zm2 0zm3 0h2m2 0zm3 0zm2 0zm2 0h2m2 0zm17 0h1m-48 1zm3 0zm4 0zm3 0h1m2 0zm2 0h2m6 0h1m-22 1h1m3 0zm3 0zm2 0h1m5 0zm7 0zm4 0zm19 0h1m-47 1zm2 0zm2 0zm4 0zm2 0h1m2 0h3m2 0zm4 0zm2 0h3m-28 1zm2 0zm2 0h1m2 0h5m4 0zm3 0h3m2 0zm2 0zm-26 1h2m2 0h1m2 0h1m3 0h1m2 0h1m5 0h1m3 0zm22 0h1m-46 1h1m4 0h3m4 0h1m2 0zm2 0zm3 0zm2 0zm-24 1zm3 0h1m4 0zm5 0zm2 0zm5 0h2m3 0zm-25 1zm2 0h1m4 0zm5 0h1m6 0h1m26 0zm-44 1zm6 0h4m3 0zm31 0zm-44 1zm5 0h2m3 0zm3 0zm4 0h1m25 0zm-43 1zm4 0zm5 0h1m2 0zm5 0h1m-20 1zm4 0h1m3 0h2m3 0zm3 0zm2 0h2m2 0h1m21 0zm-46 1zm4 0h3m2 0zm2 0zm3 0zm3 0zm5 0h3m19 0zm-40 1h2m2 0h1m4 0zm2 0h1m2 0zm5 0h1m2 0h1m17 0h1m-43 1h1m4 0zm2 0h1m2 0zm2 0zm3 0h1m3 0h2m4 0zm-26 1zm2 0h1m4 0zm4 0h1m2 0zm2 0zm4 0zm3 0zm2 0h1m15 0zm-39 1zm5 0zm2 0zm2 0h3m7 0zm2 0h1m17 0zm-30 1zm2 0zm2 0zm6 0zm20 0zm2 0zm-33 1h3m4 0zm3 0zm2 0zm2 0zm17 0zm-32 1h2m3 0h1m2 0zm2 0h5m2 0zm15 0zm-35 1zm2 0zm6 0zm2 0zm2 0zm5 0zm2 0zm12 0zm2 0zm-29 1zm2 0zm2 0zm22 0h2m-11 1zm9 0zm-22 1zm3 0h2m6 0zm4 0zm5 0h1m-23 1h2m19 0h1m2 0zm-38 1zm4 0zm6 0zm3 0h1m8 0zm7 0h1m-16 1zm14 0zm2 0zm-23 1h1m22 0zm4 0h1m-5 1h1m-26 1h1m3 0h2m20 0zm2 0zm-26 1zm0 2zm-12 16zm-2 6zm-2 1h3m-3 1zm1 1z"/><path stroke="#27ff7a" d="M82 114zm4 0zm3 0zm-1 1h1m-14 4zm9 0h1m-4 1zm3 0h1m-4 1h1m10 0zm-10 1zm2 0zm2 0zm0 1zm7 0zm-15 1zm8 0zm2 0zm4 0zm-11 1zm2 0h2m-4 1zm3 0zm2 0zm-3 1zm4 0zm-10 1zm4 0zm5 0zm2 0zm-10 1zm4 0h1m3 0h1m-11 1h1m3 0h2m2 0zm2 0h1m-10 1zm2 0zm2 0zm4 0zm3 0zm-17 1zm6 0h3m3 0h1m2 0h1m-13 1h1m3 0zm3 0h1m2 0h2m3 0h1m-11 1zm2 0h2m5 0zm-12 1h1m4 0h1m2 0h3m-14 1zm3 0zm2 0h1m6 0zm2 0zm3 0zm-13 1h2m2 0h3m2 0h2m-12 1zm3 0h1m2 0zm4 0zm-9 1h2m2 0zm4 0zm2 0zm-10 1zm2 0h1m2 0h2m2 0zm-12 1h1m2 0zm4 0h2m4 0zm-15 1zm4 0h1m2 0h1m2 0zm2 0zm-10 1zm2 0zm2 0zm3 0zm3 0h1m-12 1zm8 0zm-4 1h2m2 0h1m3 0zm-11 1zm4 0h1m3 0h1m2 0zm6 0zm-16 1zm3 0h2m-3 1zm2 0h1m-4 1zm7 0h1m2 0zm-14 1zm4 0h2m2 0h4m-12 1zm4 0h3m2 0h2m2 0zm-9 1h2m3 0zm4 0h1m-14 1zm5 0zm2 0h1m3 0h1m-9 1zm2 0h1m5 0zm-2 1zm4 0zm-4 1zm-5 1zm2 1zm-7 1zm9 0zm-5 1zm2 0zm2 0zm-2 1h1m1 6zm-4 1zm-12 6zm1 1zm0 1zm-27 1zm22 1zm4 0h1m-32 1zm9 0zm19 0h2m2 0zm-23 1zm15 0h1m5 0zm2 0h1m2 0zm-33 1zm19 0zm2 0h3m5 0zm2 0h1m-34 1zm21 0zm2 0zm3 0zm2 0zm2 0h1m-27 1zm6 0zm16 0zm6 0zm-28 1h1m2 0zm3 0zm10 0zm3 0zm11 0zm-32 1h1m5 0h2m5 0zm4 0zm3 0h1m9 0zm2 0h1m-35 1zm2 0h1m5 0zm4 0zm2 0zm3 0zm2 0zm2 0zm-21 1zm5 0zm2 0zm3 0h1m5 0zm3 0h1m2 0zm10 0h2m-41 1zm6 0h2m5 0zm2 0zm9 0h1m16 0zm-39 1zm6 0zm4 0zm3 0zm4 0zm4 0zm2 0zm15 0zm-40 1zm3 0zm3 0zm6 0h2m10 0zm17 0h1m-35 1h2m3 0zm2 0zm2 0zm7 0zm15 0h1m-43 1zm5 0h1m2 0zm10 0h1m25 0h2m-35 1h1m3 0h1m7 0zm19 0h3m2 0zm-50 1zm7 0zm4 0zm3 0zm3 0h1m6 0zm3 0h1m18 0zm-45 1zm12 0zm3 0zm2 0zm2 0h1m6 0zm19 0zm-45 1zm10 0h1m2 0zm2 0h1m2 0zm8 0zm19 0zm-35 1zm3 0zm2 0h2m5 0zm2 0zm2 0h1m-25 1zm10 0h1m2 0zm3 0h1m2 0zm2 0h1m2 0zm-24 1zm7 0h1m3 0zm2 0h2m4 0h5m17 0zm-36 1h2m6 0zm5 0zm2 0h1m3 0zm15 0zm-31 1h1m2 0h1m9 0h1m18 0zm-35 1zm2 0zm4 0zm10 0h1m18 0zm-35 1zm4 0zm3 0zm2 0zm6 0zm3 0zm-20 1zm20 0zm15 0h1m-30 1zm5 0zm6 0zm16 0zm2 0zm-34 1zm14 0zm3 0h1m16 0zm-32 1zm2 0zm8 0zm5 0zm-9 1zm9 0zm15 0zm-15 1zm2 0zm10 0zm2 0h1m-31 1zm4 0zm2 0zm9 0zm2 0zm3 0zm7 0zm2 0zm-25 1zm2 0zm2 0zm8 0zm6 0zm-14 1zm11 0zm7 0zm-19 1zm16 0zm-3 1h2m-18 1zm11 0zm5 0zm2 0zm3 0zm-5 1zm5 0zm-5 1zm2 0zm-25 2zm1 1zm-17 26z"/><path stroke="#64ff3c" d="M93 116zm-8 2zm-2 3zm0 1zm2 0zm-1 1h1m-3 1h3m-3 1zm2 2zm2 0zm-3 1h2m-1 1h1m0 1zm-7 1zm2 0zm4 0zm2 0zm3 0zm-4 1zm-5 1zm3 0zm-5 1zm6 0h1m-11 1zm6 0zm3 0zm-2 1zm3 0zm2 0zm-10 1zm4 0zm5 0zm-2 1h2m-5 1zm2 0h2m-3 1zm-5 1zm2 0h2m4 0zm-6 1zm3 0zm2 0zm-10 1zm4 0zm6 0zm-6 1h3m3 0h1m-4 1zm3 0h1m-3 1zm3 0zm-8 2zm2 0zm4 0zm-10 1zm5 0h4m-1 2zm-5 1zm4 0zm-4 5zm7 0zm-10 2zm6 1zm-15 17zm2 1zm-6 1zm2 2h1m2 0zm-8 1zm8 0h1m-11 1zm3 0zm2 0zm2 0zm2 0zm2 0h1m-10 1h1m6 0h2m-29 1zm3 0zm23 0zm3 0zm-11 1h1m8 0h4m-26 1zm12 0zm10 0zm-12 1h2m11 0h1m-33 1zm19 0h1m12 0zm-37 1zm20 0h1m16 0h1m-30 1zm14 0zm16 0zm-33 1zm5 0zm11 0zm15 0h1m-17 1zm-3 1zm-15 1zm15 0zm2 0zm17 0zm-27 1zm10 0zm16 0h1m-30 1zm7 0zm2 0zm2 0zm4 0h1m14 0zm-27 1zm8 0zm18 0h1m-17 1zm15 0zm-30 1zm4 0zm8 0h1m2 0zm15 0h1m-18 1h1m2 0h1m12 0zm-26 1zm10 0zm15 0zm-14 1zm14 0zm-17 1zm3 1zm15 0zm-16 1zm12 0zm-13 1h1m13 0zm-12 1zm10 0zm-10 1h1m6 0h1m2 0zm-11 1h1m2 0h1m4 0zm-11 1zm2 0h3m6 0zm-6 1h2m2 0h1m-4 1zm3 0zm-3 2zm0 3z"/><path stroke="#b3fd17" d="M80 143zm2 0zm0 1zm0 5zm-3 1zm-16 30zm-7 3zm4 0zm2 0zm-4 1h2m2 0zm-6 1zm2 0zm2 0zm3 0zm-7 1h1m4 0h1m-7 1h1m4 0zm-6 1h1m8 0zm-10 1zm9 0h1m-13 1h1m2 0zm10 0zm-36 1zm23 0zm-1 1h2m-17 1zm12 0zm2 0h1m13 0zm-15 1h2m13 0h1m-16 1h2m13 0zm-15 1zm0 1zm15 0zm-16 1zm2 0zm13 0zm-30 1zm16 0h1m12 0zm-12 1zm-2 1zm-1 1h2m-1 1h1m11 0zm-13 1h3m8 0zm2 0zm-14 1zm2 0h1m8 0h1m-11 1h1m9 0zm2 0zm-12 1zm2 0zm2 0zm-6 1h1m2 0zm2 0zm4 0h1m3 0zm-9 1h1m2 0zm-1 1zm2 0zm-2 1h2m-2 1zm-1 1z"/><path stroke="#fff200" d="M61 184zm-4 1zm2 0zm2 0zm-2 1h1m-3 1zm2 0zm2 0zm-5 1zm5 0h1m-8 1zm2 0zm5 0zm-9 1zm3 0zm7 0zm-11 1h2m8 0h1m-10 1zm10 0zm-12 1h2m-2 1h1m10 1zm-13 1h2m0 1zm10 0h1m-14 1zm2 0zm11 0zm-10 1zm9 0zm-12 1zm2 0zm10 0zm-1 1h1m-10 1zm8 0h1m-10 1zm2 0zm7 0zm0 1zm-9 1zm2 0zm3 0zm-6 1h2m-3 1zm2 0zm2 0zm3 0h3m-9 1zm2 0h2m3 0zm-5 1zm2 0zm-1 1zm-3 1z"/><path stroke="#ffab00" d="M58 186zm0 1zm4 0zm-5 1h3m-5 1zm3 0h2m-6 1zm6 0h1m-2 1zm-6 1h1m7 0zm-8 1zm8 0zm-9 1zm9 0zm-11 1h1m0 1zm9 0h1m-2 1zm-9 1zm9 0zm-10 1zm2 0zm-1 1zm0 1zm7 0zm-9 1zm2 0h1m-2 1zm0 1h2m3 0h1m-6 1zm2 0h1m2 0zm-4 1h2m2 0zm-3 1h1"/><path stroke="#ff6500" d="M57 189zm-1 1h3m-5 1zm2 0zm4 0zm-5 1zm5 0zm-5 1zm4 0h1m-7 1zm7 0zm-8 1zm7 0h1m-8 1zm2 0zm5 0zm-8 1h2m5 0zm-7 1zm6 0h1m0 1zm-7 1zm5 0h2m-9 1zm2 0zm2 0zm3 0zm-4 1zm3 0h1m-5 1h5m-4 1h1m0 2z"/><path stroke="#ff1e00" d="M55 191zm2 0h1m-2 1h3m-5 1zm2 0h2m-4 1h5m-6 1h5m-5 1zm2 0h3m-4 1h3m-5 1h4m-4 1h5m-5 1h3m-3 1zm2 0h1m-2 1h1"/></g>
<g transform="translate(484.30 121.70) scale(1.0)" fill="none" stroke-linecap="square" stroke-width="1.25" filter="url(#sb)"><path stroke="#2828ff" stroke-width="1.05" d="M99 28zm31 2zm-50 3zm19 1zm-9 1zm7 0zm16 0zm-45 1zm5 1zm41 0zm19 0zm-65 1zm14 0zm6 0zm8 0zm-7 1zm26 0zm4 1zm-34 1h1m2 0zm13 0zm-44 1zm31 0zm-24 2zm31 1h1m7 0zm-12 1zm15 0zm13 0zm-50 1zm38 0zm4 0zm-12 1h1m-34 1zm2 0zm10 0zm16 0zm5 0zm22 0zm-17 1zm13 0zm-51 1zm15 0h2m19 0zm3 0h1m-33 1zm4 0h1m43 0zm-41 1zm3 0zm14 0zm5 0zm30 0zm-71 1h1m3 0zm9 0zm6 0zm2 0zm2 0zm2 0zm6 0zm29 0zm-60 1h1m16 0zm3 0zm3 0zm12 0zm3 0zm14 0zm-51 1zm15 0zm10 0zm2 0h1m6 0zm3 0zm10 0zm6 0zm4 0h1m11 0zm-58 1zm3 0h2m6 0h1m2 0zm6 0zm2 0zm3 0zm3 0zm15 0zm10 0zm18 0zm-78 1zm3 0zm2 0zm11 0h1m3 0zm3 0zm2 0zm8 0zm6 0zm15 0zm10 0zm-60 1zm3 0zm7 0zm5 0zm14 0zm3 0zm3 0zm4 0zm12 0zm4 0zm24 0zm-88 1zm4 0zm13 0h1m4 0zm10 0h2m4 0zm7 0zm13 0zm29 0zm-90 1zm9 0zm2 0zm2 0zm5 0h1m9 0zm2 0zm7 0zm2 0zm5 0h1m4 0zm22 0h1m-67 1zm2 0zm7 0zm7 0zm3 0zm9 0zm2 0h1m2 0zm8 0zm34 0zm5 0zm-80 1zm6 0zm11 0zm10 0zm7 0zm2 0zm8 0zm23 0zm-72 1zm12 0zm3 0zm4 0zm24 0h2m4 0zm4 0zm2 0h1m-50 1zm3 0zm33 0zm4 0h1m14 0zm4 0zm17 0zm-70 1zm2 0h1m9 0zm16 0zm8 0h1m2 0zm8 0zm11 0zm6 0zm-75 1h1m7 0zm2 0zm27 0zm8 0zm4 0zm19 0zm16 0zm6 0zm-86 1zm38 0zm6 0zm4 0zm29 0zm-82 1zm7 0zm37 0zm2 0h1m6 0h1m3 0zm18 0zm10 0zm-82 1zm7 0h1m38 0zm2 0zm7 0h1m-64 1h1m10 0h1m36 0zm3 0zm6 0zm9 0zm31 0zm-95 1zm3 0h1m2 0zm2 0zm43 0zm2 0zm7 0h1m2 0zm12 0zm14 0zm-87 1zm2 0zm50 0zm5 0zm28 0zm-85 1h1m2 0h1m3 0zm46 0h1m6 0zm15 0zm3 0zm9 0zm2 0zm-94 1zm2 0zm9 0zm46 0zm9 0h1m13 0zm-73 1h2m55 0zm4 0zm3 0zm2 0zm15 0zm-82 1zm49 0zm3 0zm2 0zm2 0zm11 0zm6 0h1m12 0zm-92 1zm8 0zm2 0zm42 0zm4 0zm11 0zm10 0zm-79 1zm2 0h2m11 0zm54 0zm15 0zm16 0zm-98 1zm9 0h1m54 0zm6 0zm3 0zm11 0zm-89 1zm5 0zm5 0zm50 0zm11 0zm2 0zm3 0h1m5 0zm2 0zm-72 1zm44 0zm8 0h1m18 0zm2 0zm3 0zm4 0zm5 0zm-95 1zm8 0zm47 0zm4 0zm5 0zm2 0zm7 0zm13 0zm-79 1zm3 0zm46 0zm3 0zm19 0zm2 0zm8 0h1m-38 1zm3 0zm8 0zm4 0zm26 0zm-78 1zm46 0h1m8 0zm4 0h1m7 0zm-81 1zm7 0zm3 0zm4 0zm40 0h4m9 0zm14 0h1m2 0zm9 0zm-90 1zm4 0zm2 0zm50 0h1m3 0h2m5 0zm15 0zm-78 1zm9 0zm37 0h2m2 0zm9 0zm30 0zm-94 1zm4 0h1m45 0zm12 0zm3 0zm12 0h1m2 0zm5 0zm-88 1zm5 0zm5 0h3m3 0h1m39 0h1m2 0zm17 0zm13 0zm3 0zm-91 1zm7 0h1m5 0zm35 0zm2 0zm2 0zm7 0zm7 0h2m2 0zm2 0zm8 0zm-66 1zm34 0zm7 0zm5 0zm11 0h2m3 0zm8 0zm5 0zm6 0zm-84 1zm2 0zm42 0zm7 0zm4 0zm3 0zm2 0zm-61 1zm2 0h1m4 0zm39 0zm3 0zm5 0zm31 0zm-90 1zm2 0zm6 0zm3 0zm3 0zm67 0zm2 0zm-88 1zm6 0h1m7 0zm2 0zm3 0zm37 0zm3 0zm3 0zm18 0zm11 0zm7 0zm-93 1zm4 0h1m2 0zm54 0zm5 0zm13 0zm7 0zm7 0zm-98 1zm9 0zm4 0zm41 0zm3 0zm11 0h1m14 0zm12 0zm-70 1zm9 0zm12 0zm9 0zm4 0zm7 0zm6 0zm18 0zm-84 1zm7 0zm3 0zm16 0zm19 0zm5 0zm22 0zm5 0zm8 0zm-93 1zm24 0zm3 0zm8 0zm17 0zm5 0zm-44 1zm13 0zm18 0zm8 0zm13 0h1m37 0zm-101 1h1m12 0zm12 0zm9 0zm20 0h1m-45 1zm4 0zm18 0h1m15 0zm9 0zm6 0zm4 0zm4 0zm4 0zm-69 1h1m11 0zm4 0zm3 0zm3 0zm3 0zm15 0h2m3 0zm11 0zm8 0zm6 0zm2 0zm-66 1zm4 0h1m6 0zm7 0zm4 0h1m17 0zm5 0zm6 0zm21 0zm9 0zm-87 1zm3 0zm5 0zm11 0h1m6 0zm15 0zm3 0zm4 0zm9 0zm-55 1zm8 0h3m3 0zm3 0zm6 0zm2 0zm10 0zm2 0zm18 0zm11 0zm8 0zm-63 1zm10 0zm3 0zm9 0zm4 0zm3 0h1m2 0zm3 0zm4 0zm33 0zm-85 1zm18 0zm4 0zm4 0zm7 0zm7 0zm2 0zm3 0h1m3 0zm6 0zm-62 1zm20 0zm3 0h1m10 0zm13 0zm4 0zm6 0h2m10 0zm4 0zm-54 1zm4 0zm5 0h1m2 0zm3 0zm9 0zm7 0zm4 0zm-35 1zm6 0h1m6 0zm10 0zm5 0zm5 0zm-27 1zm9 0h2m2 0zm11 0zm18 0zm-46 1zm12 0zm7 0zm3 0zm2 0zm17 0zm-53 1zm19 0h1m5 0zm2 0zm9 0zm15 0zm20 0zm-62 1zm6 0h1m2 0zm3 0zm5 0h1m8 0zm5 0zm4 0zm6 0zm-38 1zm13 0zm2 0zm7 0zm3 0zm2 0zm5 0zm2 0zm-25 1zm2 0h1m7 0zm5 0zm2 0zm3 0h1m4 0zm-37 1zm10 0h1m10 0zm4 0zm10 0zm2 0zm4 0zm-42 1zm4 0zm5 0zm3 0zm7 0zm2 0zm5 0zm-37 1zm17 0zm5 0zm9 0zm5 0zm6 0h1m3 0zm-35 1zm2 0zm10 0zm5 0zm6 0zm3 0zm4 0h1m5 0zm2 0zm-28 1zm5 0zm6 0zm4 0zm2 0zm6 0h1m-46 1zm27 0h1m10 0zm2 0h1m2 0h1m25 0zm-58 1zm2 0h2m17 0zm4 0zm5 0zm10 0zm28 0zm-70 1zm13 0h1m2 0zm12 0h1m6 0zm-41 1zm22 0zm10 0zm12 0zm4 0zm-27 1zm8 0zm2 0h2m5 0zm2 0zm2 0zm17 0zm-60 1zm9 0zm13 0zm7 0zm4 0zm8 0zm3 0zm5 0zm-35 1zm6 0zm4 0zm11 0zm3 0h1m8 0zm4 0zm-46 1zm13 0zm2 0zm7 0h1m5 0zm7 0zm9 0zm5 0zm-54 1zm20 0zm9 0zm3 0h1m2 0zm4 0zm7 0zm18 0zm-59 1zm7 0zm3 0h1m11 0zm3 0zm13 0zm2 0zm5 0zm-42 1h1m4 0zm6 0zm17 0zm3 0zm3 0zm-30 1zm2 0zm2 0zm10 0zm3 0zm7 0zm6 0zm-37 1zm13 0zm4 0zm16 0zm2 0zm3 0zm3 0zm-38 1zm7 0zm3 0h1m3 0h1m8 0zm2 0zm19 0zm17 0zm-49 1zm3 0zm3 0h1m17 0zm3 0zm6 0zm13 0zm-53 1zm16 0zm2 0h1m4 0h1m2 0zm18 0zm-49 1zm5 0zm11 0zm19 0zm6 0zm3 0zm3 0zm-46 1zm6 0zm4 0zm4 0h1m4 0zm5 0zm5 0zm2 0zm3 0zm7 0zm5 0zm3 0zm-61 1zm19 0zm4 0zm4 0zm3 0zm7 0zm2 0zm9 0zm4 0zm-30 1zm11 0zm6 0h1m2 0zm3 0h1m6 0h1m3 0zm5 0zm-37 1zm2 0zm2 0zm2 0zm7 0zm5 0zm6 0zm-38 1zm3 0zm5 0h1m17 0zm3 0h1m5 0zm3 0zm5 0zm6 0zm2 0zm-55 1zm5 0zm2 0zm12 0h1m22 0h1m4 0zm23 0zm16 0zm-71 1zm2 0zm15 0zm3 0zm5 0zm8 0h1m4 0h1m-59 1zm13 0zm9 0h2m13 0zm7 0zm6 0zm6 0zm4 0h1m10 0zm-66 1h1m3 0zm2 0zm23 0zm10 0zm3 0h1m12 0zm-54 1zm8 0zm5 0zm2 0zm10 0zm6 0zm13 0zm4 0zm-41 1zm3 0zm6 0zm2 0zm5 0zm6 0zm16 0zm-18 1zm10 0zm10 0zm24 0zm17 0zm-97 1zm4 0zm12 0zm5 0zm5 0zm10 0zm2 0zm3 0h1m2 0zm5 0zm11 0zm5 0zm-59 1zm3 0zm7 0zm4 0zm2 0zm2 0zm8 0zm2 0zm9 0zm3 0zm3 0zm2 0zm8 0zm3 0zm-55 1zm10 0zm2 0zm3 0h1m31 0zm3 0zm5 0zm-50 1zm3 0h1m8 0zm12 0zm11 0h1m4 0zm5 0zm-49 1zm13 0zm2 0zm21 0zm2 0zm3 0h3m5 0zm7 0zm6 0zm8 0zm-65 1zm5 0zm18 0zm12 0zm6 0zm4 0h1m9 0h1m-29 1zm2 0zm5 0zm8 0zm8 0zm2 0zm12 0zm-72 1zm5 0zm2 0zm10 0zm16 0zm2 0zm10 0h1m8 0h1m6 0zm15 0zm4 0zm-86 1zm4 0zm2 0zm4 0zm6 0zm2 0zm18 0zm12 0zm10 0zm17 0zm-76 1zm2 0zm4 0zm5 0h1m3 0zm6 0zm5 0zm23 0zm11 0h1m2 0zm6 0zm2 0zm-57 1zm4 0zm9 0zm21 0zm3 0h3m7 0zm7 0zm14 0zm-77 1h2m5 0zm3 0zm2 0zm7 0h1m21 0zm5 0zm8 0h1m8 0zm3 0zm-66 1zm11 0zm3 0zm27 0zm4 0zm12 0zm2 0zm17 0zm-81 1zm15 0zm4 0zm28 0zm5 0h2m2 0zm13 0zm5 0zm31 0zm-99 1zm6 0h1m3 0zm2 0zm22 0zm7 0zm10 0zm4 0zm6 0h1m19 0zm3 0zm-90 1zm7 0zm2 0zm2 0zm9 0zm27 0zm13 0h1m2 0zm2 0zm8 0zm14 0zm5 0zm7 0zm-91 1zm8 0zm3 0zm5 0zm30 0zm17 0h1m10 0zm6 0h1m8 0zm-91 1zm5 0zm8 0zm9 0zm27 0zm3 0zm9 0zm3 0zm15 0zm2 0zm10 0zm4 0zm-99 1zm2 0zm2 0zm14 0zm53 0h2m9 0zm5 0zm8 0zm-87 1zm10 0zm37 0h2m2 0zm10 0zm3 0zm-69 1zm2 0zm4 0zm48 0zm5 0zm3 0zm5 0zm2 0zm6 0zm4 0zm5 0zm-88 1h2m4 0zm5 0zm13 0zm35 0h1m4 0zm4 0zm2 0zm4 0zm3 0zm-73 1zm5 0zm6 0zm49 0zm5 0zm7 0h1m12 0zm-89 1zm3 0zm8 0zm2 0h1m3 0zm3 0zm33 0zm9 0zm5 0zm22 0zm-79 1zm6 0zm40 0zm8 0h1m6 0zm2 0h1m4 0zm3 0zm-79 1zm3 0zm6 0zm2 0zm2 0zm2 0zm44 0h2m2 0zm5 0zm11 0zm13 0zm-44 1zm12 0zm9 0zm3 0zm2 0zm9 0zm-86 1zm9 0zm2 0zm12 0h1m21 0zm11 0zm6 0zm3 0zm8 0zm6 0zm11 0h1m-22 1zm5 0zm10 0zm15 0zm5 0zm-99 1zm6 0zm55 0zm10 0zm-69 1zm3 0zm48 0zm13 0zm5 0zm3 0zm6 0zm14 0zm-99 1h1m6 0zm40 0zm18 0zm2 0zm2 0zm8 0zm26 0zm-104 1zm3 0zm2 0zm8 0zm10 0zm45 0zm2 0zm2 0zm3 0zm5 0zm-70 1zm52 0zm2 0h1m5 0zm5 0zm2 0zm13 0zm-89 1h1m10 0zm2 0zm2 0zm6 0zm33 0zm6 0zm6 0zm16 0zm2 0zm9 0zm-87 1zm13 0zm37 0zm5 0zm5 0zm6 0zm2 0zm2 0zm-61 1zm2 0zm4 0zm34 0zm3 0zm2 0zm9 0zm9 0zm6 0zm9 0zm-91 1zm8 0zm6 0zm44 0zm8 0zm10 0zm-75 1zm6 0zm4 0h1m10 0zm33 0zm3 0zm3 0zm17 0zm8 0zm-82 1zm5 0zm3 0zm36 0zm8 0h1m5 0zm3 0zm3 0zm11 0h1m-80 1zm7 0zm10 0zm39 0zm2 0zm3 0zm8 0zm3 0zm6 0h1m-73 1zm2 0zm7 0zm2 0zm34 0zm9 0zm2 0zm-64 1zm7 0zm3 0zm21 0zm20 0zm7 0zm7 0zm3 0zm2 0zm6 0zm4 0zm3 0zm2 0zm6 0zm-89 1zm8 0h1m3 0h1m15 0zm31 0h1m15 0zm-60 1zm36 0zm2 0zm2 0zm3 0zm4 0zm6 0zm-70 1zm7 0zm3 0zm9 0zm29 0zm2 0zm8 0zm4 0zm10 0h1m19 0zm-91 1zm5 0h1m2 0zm4 0h1m47 0zm3 0zm4 0zm4 0zm6 0zm7 0zm-80 1zm7 0zm5 0zm5 0zm7 0zm38 0zm2 0zm18 0zm-82 1zm10 0zm33 0zm9 0zm2 0zm4 0zm10 0zm10 0zm4 0zm-77 1zm45 0zm2 0zm8 0zm2 0zm4 0zm5 0h1m6 0zm-76 1zm3 0zm48 0h1m6 0zm4 0zm5 0zm-65 1zm4 0zm2 0zm23 0zm2 0zm15 0zm15 0zm8 0zm9 0zm3 0zm-81 1zm3 0zm10 0zm5 0zm9 0zm17 0zm7 0zm2 0zm6 0zm4 0zm-61 1zm2 0zm4 0zm20 0zm14 0zm3 0zm3 0zm5 0zm4 0h1m-68 1h1m9 0zm9 0h1m4 0zm2 0zm2 0zm26 0zm5 0zm2 0zm3 0h1m2 0zm6 0h1m-74 1zm19 0zm4 0h1m26 0zm11 0zm3 0zm2 0h1m9 0zm9 0zm-77 1zm3 0h1m3 0zm2 0zm2 0zm7 0zm15 0zm13 0zm19 0zm8 0zm-72 1zm8 0zm2 0zm4 0zm39 0zm-60 1zm44 0zm27 0h1m-66 1zm11 0zm14 0zm7 0zm2 0zm11 0h2m7 0zm-53 1zm2 0zm9 0zm4 0zm2 0zm10 0zm3 0h1m4 0zm6 0zm7 0zm9 0zm-49 1zm4 0zm5 0zm5 0zm2 0zm15 0zm4 0h1m3 0zm2 0h1m-49 1zm11 0zm7 0zm7 0zm9 0zm7 0zm4 0zm3 0zm6 0zm3 0zm7 0zm-58 1zm7 0zm4 0zm23 0zm9 0zm-52 1zm12 0h1m2 0zm4 0zm9 0zm10 0zm7 0zm3 0zm4 0zm9 0zm-62 1zm8 0zm6 0zm5 0zm14 0zm8 0zm2 0zm4 0zm4 0h1m2 0zm4 0h1m2 0zm4 0zm4 0zm-69 1zm7 0zm5 0zm2 0zm3 0zm5 0zm2 0zm2 0zm10 0zm4 0zm-22 1zm5 0zm4 0zm3 0zm6 0zm3 0zm3 0zm2 0zm2 0zm2 0zm2 0zm3 0zm12 0zm-62 1zm9 0zm7 0zm5 0zm3 0zm2 0zm12 0zm11 0zm2 0zm2 0zm37 0zm-79 1zm3 0zm7 0zm3 0zm6 0zm13 0zm2 0h1m4 0zm3 0zm2 0zm-57 1zm4 0zm9 0zm10 0zm4 0zm9 0zm14 0zm2 0zm4 0zm-41 1zm4 0zm14 0zm6 0zm4 0zm6 0zm4 0zm5 0zm16 0zm-74 1zm12 0zm8 0zm7 0zm2 0zm2 0h1m2 0zm5 0h1m3 0zm14 0zm-62 1zm6 0zm10 0zm15 0h1m3 0zm3 0zm2 0zm16 0zm6 0zm4 0zm6 0zm-66 1zm16 0zm8 0zm9 0h1m3 0zm2 0zm6 0zm3 0zm4 0zm10 0zm-27 1zm9 0zm2 0zm3 0zm-23 1zm6 0zm7 0zm4 0zm5 0zm-40 1zm4 0zm16 0zm-17 1zm6 0zm5 0zm6 0zm2 0zm3 0zm3 0zm4 0zm6 0zm-39 1zm15 0zm5 0zm6 0zm2 0zm2 0zm21 0zm-29 1zm14 0zm13 0zm-48 1zm54 0zm-70 1h1m3 0zm6 0zm4 0zm-11 1zm4 0zm2 0zm7 0z"/><path stroke="#1e32ff" stroke-width="1.05" d="M118 50zm-29 4zm-1 5zm12 1zm-13 1zm-10 1zm8 0h1m14 0zm2 0zm-23 1zm6 0zm8 0zm2 0zm-17 1h1m8 0zm2 0zm2 0zm5 0zm4 0zm-20 1zm2 0zm9 0h1m4 0zm6 1zm6 0zm-38 1zm3 0zm24 0zm9 2zm4 0zm-8 1zm-41 1zm5 0zm39 0zm4 0zm-7 1zm-37 1zm39 0zm-41 3zm-4 1zm43 0zm4 0zm11 1zm-14 1zm14 0zm-56 2zm37 1zm2 0zm6 0zm-4 1zm-41 1zm3 0zm40 2zm-46 1zm9 0zm51 0zm-55 1zm55 0zm-55 2zm42 0zm-49 1zm10 0zm33 0zm9 2zm6 0zm-12 1zm7 0h1m12 0zm-20 2zm0 1zm-36 1h2m34 0zm-36 1zm5 0zm68 0h1m-65 1zm10 0zm13 0zm-29 1zm4 0zm7 0zm4 0zm-18 1zm7 0zm8 0zm7 0zm13 1h1m9 0zm-53 1zm9 0zm2 0zm13 0zm6 0h1m6 0zm-2 1zm-12 1zm3 0zm5 0zm3 0zm2 0zm-24 1h1m11 0zm4 0zm9 0zm-22 1zm16 0zm-12 1zm11 0zm-13 1zm5 0zm5 0zm-13 1zm13 0h1m-9 1zm14 0zm-16 1zm14 0zm-14 1zm14 0zm-9 1zm9 0zm-10 1zm9 2zm3 0zm-5 2zm16 0zm-17 1zm5 0zm-10 1zm12 2zm5 1zm-9 2zm-8 1zm2 0zm3 0zm-10 1h1m6 0zm4 0zm13 0zm-35 1zm10 0zm25 0zm-13 1zm-14 3zm2 0zm4 1h1m4 0h1m5 0zm3 0zm-13 1zm-2 1zm4 1zm-1 1zm8 1zm-9 1h1m1 1zm10 0zm5 1zm-22 1zm10 0zm15 0zm-16 1zm10 0zm-9 2zm3 0zm-1 1zm3 0h1m-8 1zm2 0zm13 0zm3 0zm-31 1zm27 0zm14 0zm-41 1zm2 0zm14 0zm-20 1zm32 0zm-27 1zm17 0zm6 0zm5 0zm3 0zm2 0zm-22 1zm10 0zm-38 1zm2 0zm34 0zm-12 1h1m-8 1h1m4 0h1m4 0zm-1 1zm11 0zm-8 1h1m5 0zm-16 1zm3 0zm3 0zm17 0zm-15 1zm3 0zm11 0zm8 0h1m-35 1zm8 0zm13 0zm6 0zm8 0zm-9 1h1m3 0h1m4 0zm3 0zm-35 1zm24 0zm10 0h1m4 0zm-34 1zm12 0zm7 0zm2 0zm7 1zm-36 1zm11 0zm-32 1zm18 0zm6 0zm22 0zm-34 1zm12 0zm29 1zm-38 1zm33 0zm9 0zm6 0zm-12 1zm7 0zm4 0zm8 0zm-15 1zm-40 1zm4 0zm4 0zm-1 1zm14 0zm9 0zm26 1zm-64 1h1m12 0zm40 0zm0 1zm-37 1zm8 1zm22 0zm7 0zm-13 1zm8 0zm-38 1h1m6 1zm29 0zm10 0zm3 0zm-48 1zm-1 1zm13 0zm28 0zm-38 1zm3 0zm2 0zm44 0zm-54 1zm6 0zm39 0zm-46 1zm8 0zm33 0zm12 0zm-44 1zm26 0zm15 0zm-49 1zm4 0zm39 0zm-46 1zm12 0zm39 0h1m-38 1zm28 0zm4 0zm-39 1zm0 1zm44 0zm-49 1h1m36 0zm2 0zm10 0zm-46 1zm11 0zm34 0zm-42 1zm36 0zm-38 1zm11 0zm4 0zm11 0zm11 0zm12 0zm-52 1zm1 2h1m50 0zm5 0zm-55 1zm30 0zm11 0zm3 0zm-38 1zm19 0zm9 0zm2 0zm-34 1zm22 0zm13 0zm-5 1zm5 0zm3 0zm-38 1h1m20 0zm-21 1zm10 0zm13 0zm9 0zm-10 1zm2 0zm6 0h1m6 0zm-14 1zm6 0zm7 1zm-24 1zm17 0h1m2 0zm-30 1zm3 0zm24 0zm-31 1zm3 0zm10 0h1m7 0zm3 0zm-11 1zm18 0zm-36 1zm16 0zm4 0zm17 2zm3 0zm-35 1zm11 0h1m3 0h1m15 0zm-19 1zm24 0zm-35 1h1m12 0zm7 0zm0 1zm13 0zm-14 1zm15 1zm-12 1zm-17 1h1m12 0zm11 1zm-4 3zm3 0zm-16 2zm2 0zm13 4zm16 2h1m8 0zm-64 1zm11 0zm49 0z"/><path stroke="#153bff" d="M84 58zm-1 1zm2 1zm0 1zm-4 1zm20 0zm-27 1zm2 0zm6 0h1m5 0zm-7 1h1m3 0zm12 0zm-11 1zm2 0h1m8 0zm-13 1zm12 0zm-18 1zm-3 2zm-5 1zm27 0zm-37 1zm35 0zm2 0zm-30 1h1m36 0zm-36 1zm-3 2zm34 0zm3 1zm2 0zm6 0zm-10 1zm5 0zm-2 1zm-39 1zm-1 1zm35 0zm6 0zm-4 1zm2 0zm-44 1zm4 0zm48 2zm-6 1h1m-37 1zm32 0zm-1 1zm3 0zm7 0zm8 0zm-12 1zm-42 1zm3 1zm48 0zm-14 1zm-33 1zm39 0zm1 1zm-23 1zm12 0zm9 0zm8 0zm-11 1zm-31 1zm6 0zm21 0zm-28 1zm2 0zm4 0zm18 0zm4 0zm-35 1zm11 0zm4 0zm16 1zm3 0h1m4 0zm-34 1zm3 0zm8 0h1m9 0zm2 0zm3 0zm12 0zm-42 1zm26 0zm-23 1zm8 0h1m13 0h1m-10 1zm-3 1zm2 0h1m-13 1zm9 0h1m-17 1zm30 0zm-12 1zm2 0zm20 0zm-14 1zm5 0zm2 0zm-7 1zm19 0zm-36 1zm10 0zm4 0zm4 1zm6 0zm-13 1zm12 1zm2 0zm-6 4zm-1 2h1m-9 3zm8 0h1m-7 1zm7 0h1m-8 2zm2 3h1m-4 1zm3 3zm13 2zm-22 1zm14 0zm5 0zm-7 1zm2 1h1m6 0zm-13 1zm3 1zm-6 1zm4 0zm2 1zm-5 1zm4 0h1m5 0zm-1 1zm-6 1zm5 0zm-8 1zm6 0zm2 1zm-14 2zm0 1zm5 0zm6 0zm2 1zm-16 2zm8 0zm2 1zm11 0zm7 0h1m-22 1zm21 0zm2 1zm-26 1zm5 0zm6 0h3m-12 1h1m6 0h3m7 0h1m-17 1zm6 0zm9 0zm2 0zm3 1zm-17 1zm12 0zm10 0zm-27 1h3m10 0zm-4 1zm8 0zm6 0zm-28 1zm5 0h1m13 0zm-18 1zm9 0zm9 0zm-27 1zm15 0zm3 0zm9 0zm0 1zm27 0zm-46 1zm9 0zm-20 1zm6 0zm4 0zm20 0zm6 0zm3 0zm8 0zm3 0zm2 0h1m-40 1zm5 0zm3 0zm2 0zm6 0zm-20 1zm7 0zm-13 1zm7 0zm3 0zm4 0zm2 0zm6 0zm-21 1zm8 0zm3 0zm9 0zm3 0zm-26 1zm12 0zm21 0zm-34 1zm39 0zm-33 1zm4 0zm32 0zm8 0zm-48 1zm2 0zm5 0zm6 0h1m12 0zm18 0zm-50 1zm13 0h1m-16 1zm41 0h1m-35 1zm8 0zm10 0zm17 0zm2 0zm2 0zm3 0zm-36 1zm4 0zm8 0zm16 0zm-31 1zm3 0zm36 0zm-29 1zm31 0zm-3 1zm7 0zm5 0zm-1 1zm-50 1zm19 0zm28 0h1m-48 1zm36 0zm7 0zm4 0zm-46 1zm9 0zm6 0zm16 0h1m6 0zm-38 1h1m2 0zm6 0zm27 0zm4 0zm3 0zm-39 1zm3 0zm29 0zm5 0zm2 0zm-48 1zm10 0h1m3 0zm29 0zm5 0zm5 0zm-52 1h1m7 0zm4 0zm-2 1h1m-11 1zm15 0zm-17 1zm2 0zm5 0zm9 0zm15 0zm12 0h2m10 0h1m-36 1zm6 0zm15 0zm10 0zm5 0zm-51 1zm37 0zm17 0zm-57 1zm13 0zm4 0h1m11 0zm5 0zm8 0zm-42 1zm4 0zm6 0zm5 0zm17 0zm6 0h2m-41 1zm11 0zm5 0zm27 0zm-37 1zm49 0zm-43 1zm7 0zm22 0h1m4 0zm8 0zm-50 1zm27 0zm7 0zm-35 1zm10 0zm21 0zm6 0zm13 0zm4 0zm-51 1zm6 0zm14 0zm5 0zm5 0zm5 0zm2 0zm-39 1h1m5 0zm2 0zm20 0zm6 0zm2 0zm-37 1zm9 0zm18 0h1m-27 1h1m4 0zm4 0zm15 0zm-19 1h1m18 0zm6 0h1m-3 1zm5 0zm6 0zm-45 1zm29 0zm8 0zm5 0zm4 0zm3 0zm-50 1zm12 0h1m6 0zm14 0zm5 0zm5 0h1m-41 1zm17 0zm3 0zm-6 2zm18 0zm2 0zm-25 1zm10 0zm2 0zm5 0zm-6 1zm9 0zm4 0zm-16 1zm14 0zm-6 1zm12 0zm0 1zm-17 1zm8 0zm10 0zm3 3zm-12 5zm6 4zm-27 4zm-3 1zm47 0zm-59 1zm49 0zm10 0z"/><path stroke="#0a69ff" d="M86 59h1m-12 4zm12 0zm2 0zm5 0zm-20 1h1m2 1zm13 0zm-14 1zm7 0zm3 0zm5 0zm2 0zm10 0zm-27 1zm9 0zm9 0zm9 0zm-28 1zm5 0zm18 0zm-26 1zm2 0zm3 0zm16 0zm6 0zm-25 1zm-9 2zm-1 1zm33 0zm2 0h1m-45 1zm11 0zm4 0zm33 0zm3 0zm-37 1zm33 0zm2 0zm-37 1zm32 0zm-34 1zm-1 1zm35 0zm2 0zm5 0zm-1 1zm-4 1h1m-3 1zm5 0zm-43 1zm1 1zm0 1zm-5 1zm10 0zm-1 1zm35 1zm-35 1zm32 0zm-34 1zm44 0zm-46 1zm31 0zm6 0zm-1 1zm-32 2zm-1 1zm29 0h1m-26 1zm19 0zm-15 1zm26 0zm2 0zm-37 1zm9 1zm15 0zm-25 1zm17 0zm2 0zm2 0zm3 0zm-24 1h1m8 0zm4 0zm23 0zm-32 1zm10 0zm2 0zm-1 1zm2 0zm6 0zm9 0zm-19 1zm19 0zm7 1zm-27 1zm3 0zm9 2zm-10 1zm6 0zm-8 3zm6 1zm4 6zm4 0zm-3 3zm-7 2zm13 6zm0 1h1m5 3zm-25 2zm14 1zm-5 1zm-2 1zm6 2zm-3 2zm-2 2zm5 0zm2 1zm-11 1zm4 0zm-4 3zm6 0zm-2 1h1m3 0zm-6 1zm21 1zm-21 2zm3 0zm10 0h1m18 2zm-21 1zm2 0zm-14 2zm2 0zm4 0h2m3 0zm4 0zm-10 1zm-10 1zm15 0zm7 0zm-17 1h1m2 0h1m5 0zm4 0zm3 0zm2 0zm-21 1zm6 0h1m4 0zm2 0zm3 0zm-8 1zm2 0zm2 0zm-1 1h1m6 0h1m-19 1zm4 0h1m9 0zm3 0zm14 0zm-30 1h1m4 0zm24 0zm-31 1zm9 0zm6 0zm8 0zm-27 1zm6 0h1m3 0zm6 0zm11 0h1m-28 1zm11 0zm8 0zm8 0h1m-27 1zm18 0zm4 0zm4 0zm2 0h1m-31 1zm2 0zm7 0h1m2 0zm2 0zm3 0zm2 0zm2 0zm2 0zm5 0zm-35 1zm15 0zm6 0h1m17 0zm-36 1zm8 0zm10 0zm7 0h1m9 0h1m2 0zm-42 1zm3 0zm16 0zm8 0zm6 0zm12 0zm-45 1zm5 0zm20 0zm11 0zm-36 1zm43 0zm-28 1zm12 0zm10 0zm2 0zm3 0h1m-38 1zm7 0zm8 0zm8 0h1m14 0zm3 0zm-35 1h1m7 0zm3 0zm19 0zm2 0zm-35 1zm40 0zm-15 1zm-16 1h1m15 0zm-34 1h1m3 0zm5 0zm3 0zm3 0zm25 0zm4 0zm8 0zm-44 1zm2 0h1m13 0zm-15 1zm4 0zm8 0zm2 0zm6 0zm5 0zm7 0h1m7 0zm2 0zm-40 1zm6 0h1m30 0zm4 0h2m-35 1zm16 0zm20 0zm-22 1zm20 0zm-39 1zm21 0zm6 0zm-34 1zm7 0zm6 0zm17 0zm-36 1zm19 0zm-22 1zm42 0h1m-1 1zm-35 1zm7 0zm25 0zm-28 1zm24 0zm13 0zm10 0zm-48 1zm2 0zm6 0zm4 0zm17 0zm-29 1zm21 0zm7 0h1m16 0zm-41 1h1m18 0zm13 0zm5 0zm4 0zm-40 1zm5 0zm19 0zm2 0zm4 0zm-31 1h1m22 0zm8 0zm3 0zm-39 1h1m3 0zm7 0zm5 0zm13 0zm4 0zm-40 1h1m7 0zm6 0zm3 0h1m12 0h1m11 0zm-40 1h1m5 0zm5 0zm14 0zm7 0zm2 0zm-35 1zm9 0zm2 0h2m2 0zm3 0zm3 0zm4 0zm8 0h1m-23 1h1m4 0zm3 0zm4 0zm7 0zm4 0zm-22 1zm7 0zm1 1zm-5 1zm17 0zm10 0zm-26 1zm13 0zm2 0zm8 0zm-13 1zm-22 1zm8 0zm2 0zm21 0zm-13 1zm3 0zm4 0zm-11 1zm9 0zm-2 2zm-22 1zm23 0zm2 0zm4 0h1m-7 1zm6 0zm-15 1zm12 0zm3 0zm-7 2zm9 0zm-8 1zm-4 1zm0 1zm-5 5zm0 1zm17 2zm-12 3zm29 2zm4 0zm-4 1z"/><path stroke="#009bfe" d="M83 64zm-5 1zm9 0zm-6 1zm11 1zm-21 1zm3 0zm3 0zm2 0zm15 1h1m2 0zm-28 2zm5 0h1m-9 1zm3 0zm29 0zm3 0zm-46 1zm46 0h1m3 0zm-34 1zm25 0zm5 0zm3 0zm-3 1zm-6 1zm2 0zm3 0zm-36 1zm1 1zm4 0zm-2 1zm31 0h2m-35 1zm3 0zm2 0zm33 0zm2 0zm0 1zm-40 1zm4 0zm28 0zm2 0zm2 0zm0 1zm-33 1h1m2 0zm29 0zm-35 1zm45 0zm-12 1zm2 1zm-36 1zm35 0h2m-34 1zm0 1zm28 2h1m-28 1zm2 0zm24 0zm19 0zm-43 1zm8 0zm11 0zm8 0zm-20 1zm22 0zm2 0zm-31 1zm8 0h1m5 0zm3 0zm2 0zm11 0zm-23 1h1m9 0h2m3 0zm-20 1zm7 0zm14 0zm3 0zm-32 1zm8 0zm13 0zm3 0h1m3 0zm4 0zm-20 2zm9 0zm7 1h1m-14 1zm6 1h1m7 0zm-9 1zm2 0h1m-8 1zm7 0zm5 0zm2 0zm-17 1zm14 0zm2 0zm0 5h1m0 1zm-7 5zm-5 10zm-1 8zm2 0h1m4 1zm2 1zm-5 2h1m0 3h1m-5 2zm-2 2zm4 0zm-3 1zm3 0zm-3 1zm4 1zm2 0zm-6 1zm-2 2zm5 2zm-4 2zm13 2zm-16 1zm8 0zm-16 1zm7 0zm4 2zm10 1zm16 1zm-29 1h1m10 0zm6 0zm-11 1zm10 0zm14 0zm-29 1zm5 0zm3 0h1m6 0zm6 0zm-13 1zm-7 1zm2 0zm3 0h1m6 0zm3 0zm-27 1zm8 0zm8 0zm9 0zm3 0zm-20 1zm11 0zm17 0zm-36 1zm12 0h1m3 0zm9 0zm2 0zm-22 1zm10 0zm3 0zm10 0h1m2 0h1m-33 1zm8 0zm18 0zm10 0zm4 0zm-51 1zm16 0zm20 0zm4 0zm2 0zm3 0zm4 0h1m-29 1zm5 0zm7 0zm8 0zm4 0zm-25 1h1m2 0zm12 0zm-18 1h1m20 0zm5 0zm5 0zm-27 1h1m21 0zm2 0zm4 0zm-35 1zm6 0zm8 0h1m18 0zm-34 1zm2 0zm10 0h1m4 0zm12 0h1m-28 1h1m13 0zm2 0zm2 0zm25 0zm-34 1h1m5 0h1m3 0zm8 0zm-35 1zm6 0zm11 0zm12 0zm6 0h1m6 0zm6 0zm-29 1zm-15 1zm9 0h1m8 0h2m18 0zm-32 1zm3 0h1m5 0zm7 0zm2 0h1m6 0zm2 0zm-38 1zm13 0zm3 0zm5 0zm8 0zm5 0h1m-24 1zm5 1zm26 0zm-28 1h1m4 0zm15 0zm9 0zm-34 1zm2 0zm5 0zm13 0zm9 0zm5 0zm-34 1zm8 0zm27 0zm-30 1zm2 0h1m4 0zm7 0zm8 0zm6 0zm-29 1h1m7 0zm15 0zm7 0zm-31 1zm0 1h2m11 0zm-21 1zm4 0zm16 0zm14 0zm16 0zm-46 1zm11 0zm2 0zm8 0zm3 0zm2 0zm-13 1h1m2 0zm6 0h2m2 0zm4 0zm9 0zm-32 1h1m3 0zm5 0zm2 0zm5 0zm-24 1zm4 0zm4 0zm5 0zm3 0zm3 0zm9 0zm-34 1zm25 0zm3 0zm4 0zm-16 1h1m3 0zm11 0zm6 0zm-19 1zm3 0h1m9 0zm2 1zm-27 1zm5 0zm4 0zm16 0zm3 0zm-17 1zm0 1zm2 1h1m9 0zm-9 1zm3 0zm6 0zm-22 1zm5 0h1m8 0zm12 0zm-26 1zm7 0h1m6 0zm10 0zm2 1zm-10 1h1m8 0zm-9 1h1m0 1zm4 0zm0 2zm-23 17zm44 0zm-41 1zm36 0zm4 0z"/><path stroke="#00d2f8" d="M75 62zm9 2zm10 0zm-15 1zm14 0zm-3 1zm-10 1zm11 0zm2 0zm2 0zm-23 1zm11 0zm2 0h1m5 0zm4 0h1m-25 1zm5 0zm-5 1zm2 0zm-3 1h1m22 0zm3 0zm2 0h1m-29 1zm2 0zm3 0zm19 0zm2 0zm4 0zm-28 1zm26 0zm-30 1zm29 0zm3 0zm-29 1zm25 0h1m3 0zm3 0zm-35 1h1m32 0zm-32 1zm27 0zm-29 1h1m2 0zm-2 1zm2 0zm27 0zm-33 1zm5 0zm2 0zm35 0zm-42 1h1m4 0h1m2 0zm29 0zm-37 1zm2 0zm-1 1zm32 1zm2 0zm-37 1h1m3 0zm2 0zm3 0zm-6 1zm4 0zm-5 1zm32 0zm-29 1h1m29 0zm-29 1h2m25 0zm-27 1h1m26 0zm3 0zm-31 1zm6 0zm18 0zm5 0zm-28 1zm6 0zm-5 1zm5 0zm2 0zm3 0zm27 0zm-39 1zm8 0zm4 0zm13 0zm-20 1zm11 0zm3 0zm8 0zm-19 1zm6 0zm10 0h1m2 0zm2 0zm-13 1zm12 0zm-19 1h1m14 0zm3 0zm-18 1zm5 0zm10 0zm-14 1zm10 1zm17 0zm-25 1zm6 0zm8 1h1m-26 1zm11 1zm6 0zm9 0zm-3 2zm-4 1h1m2 0zm-11 1zm4 0zm-6 1zm3 6zm6 30zm-6 1zm5 0zm-9 9zm15 1zm-10 2zm-4 1zm-5 1zm9 0h1m4 0zm-6 2zm12 0zm-12 1zm6 0zm-6 1zm2 0zm0 1zm9 0zm-16 1zm12 0h1m2 0zm-15 1zm31 0zm-32 1zm0 1zm5 0zm9 1zm4 0zm-15 1zm22 0zm-25 1zm2 0zm24 0zm-37 1zm11 0zm8 0zm5 0zm6 0zm-21 1zm6 0h1m17 0zm3 0zm4 0zm-38 1zm7 0zm8 0h1m12 0zm7 0zm5 0zm-21 1h1m9 0zm-23 1zm15 0zm6 0h2m-18 1h1m6 0zm5 0zm3 0zm-7 1zm7 0h1m-22 1zm9 0zm17 0zm2 0zm10 0zm-32 1zm2 0zm11 0zm3 0zm-8 1zm-4 1zm6 0zm3 0h1m5 0zm6 0h2m-30 1zm6 0zm2 0zm10 0zm9 0zm-36 1zm23 0zm17 0zm-24 1zm9 0zm4 0zm-12 1zm7 0zm3 0h1m-14 1zm12 0zm-7 1zm10 0zm-18 1zm4 0zm6 0zm4 0zm2 0zm8 0zm2 0zm-23 1zm4 0h1m8 0h1m-13 1zm5 0h1m5 0zm5 0h1m-29 1zm3 0zm2 0zm15 0zm7 0zm-21 1zm9 0zm4 0zm6 0zm2 0zm9 0zm2 0zm-34 1zm8 0zm3 0zm2 0h1m19 0zm-22 1zm2 0zm2 0zm6 0zm3 0zm-32 2zm8 0zm5 0zm3 0zm2 0zm9 0zm-7 1zm21 0zm-25 1zm6 0zm19 0zm-32 1zm9 0h1m7 0zm3 0zm11 0zm-27 2zm4 0zm4 0zm-9 1zm14 0zm-11 1zm3 0zm-3 1zm3 0h1m10 0zm5 0zm-27 1zm7 0h1m2 0zm11 0zm-9 1zm10 0zm-9 1zm2 0zm6 0zm-8 1zm-3 1zm3 0zm3 0zm-10 1zm5 0zm-7 1zm9 0zm5 4zm2 0zm4 0zm-6 1zm0 1zm-21 17zm-2 1h2m33 0zm4 0z"/><path stroke="#0ef2ca" d="M77 66zm3 0zm7 0h1m-9 1zm2 0h1m7 0h1m-14 1zm5 0zm6 0zm3 0zm2 0zm-19 1zm5 0zm20 0zm-21 1zm2 0zm5 0zm4 0zm6 0zm-15 1zm8 0zm7 0zm-4 1zm2 0h1m2 0zm2 0zm2 0zm-28 1zm5 0zm-3 1zm3 0zm19 0zm3 0zm4 0zm-34 1zm30 0zm-32 2zm8 0zm23 0zm-26 1zm22 1zm3 0zm-25 2zm25 0h1m-26 1zm-3 1h2m26 0h1m2 0h1m-34 1zm25 0zm7 0zm-28 1zm20 0zm8 0zm-25 2zm-2 1zm23 0h2m-21 1zm22 0zm-23 1zm3 0zm2 0zm11 0zm7 0zm-28 1zm2 0zm3 0zm2 0zm16 0zm-22 1zm3 0zm17 0zm4 0zm-19 1zm3 0zm9 0zm3 0zm-18 1h1m13 0zm4 0zm-20 1h1m2 0zm3 0zm2 0zm2 0zm4 0zm5 0zm3 0zm3 0zm-23 1zm4 0zm4 0zm5 0zm3 0zm2 0zm5 0zm2 0zm-17 1zm10 0zm3 0zm-18 1zm9 0zm2 0zm-11 1zm2 0zm13 0zm-3 1zm-10 2zm10 0zm-9 1zm7 0h1m8 1zm-9 2zm-5 44zm4 5zm9 9zm-10 1zm9 0zm-9 1h1m-1 1zm3 0zm5 0zm-15 1zm-1 1zm9 0zm8 0zm-1 1zm-4 1zm-24 1zm3 0zm16 0zm-19 1zm4 0zm13 0zm6 0zm3 0zm7 0zm-35 1zm11 0zm13 0zm11 0zm-34 1zm20 0zm3 0h1m14 0zm-23 1h2m5 0h1m4 0zm3 0zm-18 1zm2 0zm5 0zm2 0zm7 0h1m2 0zm-12 1h1m2 0zm7 0zm8 0zm7 0zm-22 1h1m2 0zm6 0zm-19 1zm7 0zm9 0zm-14 1zm4 0h1m6 0zm5 0zm-15 1zm8 0zm2 0zm8 0zm-21 1h1m6 0zm11 0zm5 0zm-15 1zm9 0zm3 0zm3 0zm-28 1zm6 0zm10 0zm3 0zm6 0h1m9 0zm-29 1zm2 0zm11 0zm3 0h2m5 0zm5 0zm-21 1zm5 0zm12 0zm-15 1zm15 0zm-25 1h1m2 0zm2 0zm4 0zm2 0zm6 0h1m6 0zm-23 1zm2 0zm4 0zm9 0zm2 0zm2 0zm3 0h1m2 0zm-23 1zm9 0zm8 0h2m2 0zm2 0zm-19 1zm8 0zm10 0zm-29 1zm10 0zm7 0zm6 0zm-22 1zm4 0zm16 0h1m3 0zm-26 1h2m8 0zm8 0zm2 0zm4 0zm2 0zm-12 1zm3 0zm2 0zm2 0zm15 0zm-22 1zm2 0zm3 0zm3 0zm-8 1h1m3 0zm7 0zm-25 1zm5 0zm19 0h1m-18 1zm8 0h1m2 0zm-13 1h1m11 0h1m10 0zm-12 1zm3 0zm-15 1zm2 1zm2 0h1m3 0zm4 1zm12 1zm-4 1zm-14 1zm2 1zm-2 1zm2 0zm3 1h1m2 2zm-1 4zm2 0zm-23 20zm3 0h1m31 0zm5 0zm-34 1h1m31 0z"/><path stroke="#27ff7a" d="M87 67zm-5 1zm6 0h1m5 0zm-15 1zm2 0zm7 0zm3 0h1m-5 1zm2 0h1m-18 1zm4 0zm2 0zm10 0zm3 0zm-20 1zm3 0zm2 0zm2 0h1m5 0h1m-12 1zm4 0h1m7 0h1m6 0h1m3 0zm-24 1zm18 0zm-15 1zm19 0h1m-30 1zm5 0h2m2 0zm22 0zm-25 1zm2 0zm6 0zm15 1zm4 0zm-3 1zm-22 1zm22 0zm-28 1h1m5 0zm-6 1zm6 0zm22 0zm-28 1zm7 0zm21 0zm-28 1zm6 0zm-1 1zm21 0h1m2 0h1m2 0zm-29 1zm0 1zm21 0zm-21 1zm2 0zm2 0h1m16 0zm-13 1zm7 0zm-14 1h1m19 0zm3 1h1m-23 1zm6 0zm5 0h1m2 0zm2 0h1m2 0h1m-19 1zm4 0zm8 0zm3 0zm3 0zm-25 1zm5 0zm3 0zm2 0zm7 0zm4 0zm4 0zm-10 1zm9 0zm6 0zm-22 1zm12 0zm-11 1zm4 0zm2 0zm10 0zm-6 1zm5 0zm-6 67zm1 1h1m1 2zm4 0zm-4 5h1m-11 1zm11 0h1m3 0zm-11 1zm-7 1zm3 1zm5 0zm3 1zm1 1zm-4 1zm3 0zm3 0h1m-14 1zm9 0h1m5 0zm7 0zm-14 1zm3 0zm-9 1zm5 0zm11 0zm-26 1zm7 0zm13 0zm5 0h1m-19 1zm6 0zm7 0zm15 0zm-26 1zm3 0zm6 0zm5 0zm-4 1zm2 0zm4 0zm-10 1zm3 0zm-1 1zm3 0zm-9 1h1m6 0zm2 0zm4 0zm8 0zm-21 1zm4 0zm5 0h1m5 0zm0 1zm5 0zm-21 1h1m4 0zm4 0zm6 0zm-13 1h2m2 0zm2 0zm5 0zm3 0zm-18 1zm5 0zm3 0zm7 0h1m0 1zm4 0zm-5 1zm-8 1zm4 0zm-6 1zm6 0zm9 0zm-26 1h1m4 0zm8 0zm4 0zm5 0zm2 0zm0 1zm-19 1zm13 0zm-6 1zm-7 1zm10 1zm9 1h1m-12 2zm-5 1zm2 0h1m2 2zm12 3zm-5 5zm-12 11zm-1 6zm16 0zm-21 1h1m27 0zm2 0h2m-35 1zm5 0zm23 0zm2 0z"/><path stroke="#64ff3c" d="M88 67zm-8 2zm2 0zm3 0h2m3 0zm1 1zm2 0zm-20 1zm4 0zm6 0zm3 0zm3 0h1m-17 1zm14 0zm2 0zm2 0zm-22 1zm5 0h1m15 0h1m3 0h1m-18 1h1m-5 1h1m18 0zm-19 1zm4 0zm16 0zm-24 3zm23 1zm2 0zm-1 1h1m-22 1zm19 0h1m-21 1h1m4 0zm18 0zm-22 1zm17 0h1m-17 1zm18 0zm-19 1zm3 0zm18 0zm-22 1zm23 0zm-16 1zm6 0zm8 0h1m-21 1zm5 0zm7 0zm6 0zm2 0h2m-24 1zm3 0zm14 0h1m6 0zm2 0zm-21 1zm13 0zm2 0zm-19 1zm16 0zm6 0zm-22 1h1m11 0h1m-7 1zm5 0zm6 0zm-5 2zm-1 1zm2 0h2m-6 1h2m3 69zm6 2zm1 1zm-14 4zm8 0zm-8 3h1m8 3zm-1 1zm-6 2zm10 0zm8 0zm-25 1zm13 1zm6 0h1m-7 1zm5 1zm7 0zm-15 1zm3 2zm2 2zm2 0zm2 4zm-5 1zm0 2zm-4 2zm6 0zm-7 9zm-8 2zm30 25z"/><path stroke="#b3fd17" d="M83 69zm6 0zm-11 1zm2 0zm3 0zm2 0h1m-6 1zm4 0zm8 0zm-15 1zm4 0zm5 0zm2 0zm-4 1zm3 0h2m-15 1zm5 0zm10 0zm2 0h3m-17 1zm14 0zm2 0zm-11 1zm9 0zm3 0zm-22 1zm3 0h1m4 0zm9 0h6m-15 1zm9 0zm2 0h1m3 0zm-21 1zm16 0h2m-1 1zm5 0zm-1 1zm-20 1zm19 0zm-28 1zm7 0zm7 0zm8 0h2m2 0zm-16 1zm10 0h1m5 0h1m2 0zm-6 1zm6 0zm-19 1zm8 0zm3 0zm3 0zm4 0zm3 0zm-22 1h1m14 0zm2 0h1m-10 1zm7 0zm-16 1zm2 0zm12 0zm8 0zm-20 1zm5 0h1m3 0zm4 0zm-12 1zm3 0h2m2 0h1m2 0zm-8 1zm2 0zm-1 1zm9 0zm-9 1zm2 1zm9 0zm0 81zm1 1zm-6 3zm2 1zm3 0zm-1 1h1m-1 5zm2 4zm-16 1h1m18 0zm2 0zm-11 2zm-11 6zm4 36zm-9 1zm3 0zm25 0zm-28 1zm27 0zm2 0z"/><path stroke="#fff200" d="M84 69zm-3 1h1m-1 1zm4 0zm-5 1zm2 0zm-2 1zm1 1zm3 0h2m-10 1zm2 0h1m3 0h1m3 0zm3 0zm-13 1zm3 0zm2 0zm6 0zm2 0h1m2 0zm-15 1zm4 0zm-8 1zm2 0zm18 0zm-21 1zm3 0zm5 0h1m4 0zm-11 1zm3 0zm9 0zm7 0zm-14 1zm7 0zm2 0zm2 0h1m-15 1zm4 0zm13 0zm-2 1zm2 0zm-19 1h1m7 0zm6 0zm6 0zm-19 1zm5 0zm4 0zm4 0zm-14 1zm8 0h1m2 0zm-11 1zm3 0zm2 0h1m9 0zm-13 1h1m3 0zm7 0zm2 0zm-16 1zm6 0zm7 0h1m2 0zm-14 1zm3 0zm5 0zm3 0zm-7 1zm4 0zm6 0zm-12 1zm4 1h1m9 90zm-3 18zm-14 37zm21 0z"/><path stroke="#ffab00" d="M83 72zm-4 1zm2 0zm1 1zm5 0zm-7 1zm4 0zm3 0h1m2 0zm-12 1zm5 0zm3 0zm-8 1zm4 0h1m-9 1zm7 0h3m4 0zm2 0zm-17 1zm4 0zm12 0zm-17 1zm8 0zm3 0zm2 0zm3 0h1m-15 1zm13 0zm-5 1zm5 0zm2 0zm-12 1h1m4 0zm5 0zm-9 1zm2 0zm3 0zm2 0zm-11 1zm2 0h1m4 0zm2 0zm2 0h2m-10 1zm3 0zm8 0zm3 0h1m-10 1h1m3 0h1m-1 1zm2 0zm-8 1h2m-2 1zm-2 1zm8 0zm-6 1zm6 1zm-5 1zm-6 143zm10 0zm8 0zm2 0h1m-21 1h1m4 0h2m3 0h1m8 0z"/><path stroke="#ff6500" d="M82 71zm0 2h1m-3 1zm3 0zm5 0zm-7 1zm4 0zm-5 1zm4 1h1m3 0zm-10 1zm8 0h1m-11 1zm7 0zm4 0zm-12 1h1m2 0h1m2 0h1m5 0zm3 0zm-15 1zm3 0zm2 0h1m2 0zm9 0zm-18 1zm4 0zm3 0zm2 0zm5 0zm2 0zm-7 1zm-6 1zm2 0zm-1 1h1m3 0zm10 0zm-19 1zm5 0h1m7 0zm-8 1zm7 0zm-6 1zm6 0zm-3 4zm-8 145zm2 0h2m3 0zm3 0zm10 0zm3 0zm-20 1zm2 0zm4 0h1m3 0zm3 0zm2 0h1"/><path stroke="#ff1e00" d="M84 76h1m3 0zm-2 1h1m-11 1h1m2 0zm6 0zm-7 1h1m3 0zm2 0zm2 0zm2 0zm-4 1zm-8 1h1m5 0zm2 0h1m4 0zm-12 1zm7 0h2m-7 1zm2 0zm3 0h2m-5 1zm3 0zm-3 2zm0 1zm3 0zm4 0zm-7 1h1m-3 149h1m2 0h1m3 0h6m-14 1zm10 0h1m2 0z"/></g>
<g transform="translate(913.90 122.20) scale(1.0)" fill="none" stroke-linecap="square" stroke-width="1.05" filter="url(#sb)"><path stroke="#2828ff" stroke-width="1.15" d="M140 0zm-139 4zm103 1zm27 1zm7 5zm56 1zm-81 4zm27 1zm-33 2zm7 1zm-100 2zm99 2zm12 1zm38 0zm-115 1zm36 2zm60 0zm-71 2zm113 1zm-185 1zm31 0zm27 1zm119 1zm4 0zm-141 1zm9 1zm137 0zm-85 2zm54 1zm20 0zm-148 1zm14 0zm65 0zm-8 3zm11 0zm-55 1zm2 0zm33 0zm21 0zm17 0zm4 0zm47 0zm-143 1zm117 0zm18 0zm-131 1zm17 0zm15 0zm49 0zm-88 1zm6 0zm38 0zm32 0zm48 0zm12 0zm3 0zm-171 1zm94 0zm38 0zm15 0zm6 0zm15 0zm8 0zm23 0zm38 0zm-165 1zm5 0zm36 0zm2 0zm55 0zm26 0zm-196 1zm93 0h1m111 0zm-181 1zm56 0zm115 0zm-195 1zm84 0zm7 0zm2 0zm18 0zm27 0zm10 0zm5 0zm4 0zm20 0zm-130 1zm22 0zm2 0zm2 0zm12 0zm50 0zm3 0zm20 0h1m13 0zm-172 1zm12 0zm54 0zm25 0zm7 0zm7 0zm4 0zm12 0zm19 0zm24 0zm9 0zm-173 1zm77 0zm2 0zm10 0zm4 0zm36 0zm4 0zm33 0zm11 0zm-131 1zm70 0zm41 0h1m18 0zm26 0zm12 0zm-170 1zm4 0zm12 0zm3 0zm72 0zm-135 1zm15 0zm20 0zm3 0zm2 0h1m27 0zm3 0zm6 0zm10 0zm4 0zm5 0zm19 0zm19 0zm6 0zm6 0zm6 0h1m10 0zm10 0zm-173 1zm26 0zm26 0zm9 0zm10 0zm4 0zm12 0zm21 0zm45 0zm8 0h1m12 0zm18 0zm12 0zm19 0zm-186 1zm11 0zm2 0zm9 0zm22 0zm2 0zm10 0zm18 0zm22 0zm29 0zm3 0zm5 0zm4 0zm3 0zm5 0zm-182 1zm57 0zm3 0zm4 0zm6 0zm2 0zm19 0zm2 0zm31 0zm5 0zm2 0zm9 0zm24 0zm5 0zm-140 1zm29 0zm3 0zm3 0h1m4 0zm3 0zm3 0zm4 0zm3 0zm7 0zm12 0zm39 0zm12 0zm3 0h1m2 0zm15 0zm2 0zm15 0zm4 0zm-131 1zm2 0zm7 0zm2 0zm22 0zm5 0zm15 0h1m34 0zm14 0zm3 0zm4 0zm38 0zm-210 1zm55 0zm6 0zm2 0zm9 0zm13 0zm94 0zm-135 1h1m10 0h1m12 0zm3 0zm2 0zm4 0zm3 0zm15 0zm4 0zm9 0zm6 0zm14 0zm6 0zm7 0zm11 0zm3 0zm7 0zm7 0zm-143 1zm14 0zm22 0zm2 0zm6 0zm3 0zm9 0zm9 0zm8 0zm30 0zm11 0zm7 0zm18 0zm26 0zm22 0zm-188 1zm10 0zm5 0zm24 0zm7 0h1m11 0zm4 0zm4 0h1m23 0zm2 0zm25 0zm4 0zm6 0zm2 0zm4 0zm10 0zm2 0h1m-142 1zm25 0zm6 0zm7 0zm4 0zm2 0zm3 0h1m3 0zm12 0zm9 0zm12 0zm10 0zm4 0zm5 0zm14 0zm25 0zm8 0zm7 0zm-176 1zm27 0zm15 0h1m4 0h1m4 0zm2 0h2m7 0zm15 0h1m8 0h1m5 0zm6 0zm16 0zm9 0zm15 0h1m2 0zm42 0zm-167 1zm10 0zm9 0zm2 0zm4 0zm9 0zm5 0zm2 0zm7 0zm6 0h3m3 0zm4 0zm8 0zm4 0zm2 0zm52 0zm3 0zm20 0zm11 0zm-171 1zm20 0zm17 0zm4 0h1m6 0zm6 0zm3 0h1m5 0zm6 0h1m5 0zm3 0zm30 0zm12 0zm4 0zm20 0zm11 0zm36 0zm16 0zm-214 1zm28 0zm2 0zm5 0zm3 0zm7 0zm2 0zm6 0zm3 0zm2 0h1m6 0h1m4 0zm3 0h1m17 0zm6 0zm4 0zm2 0zm2 0zm4 0h1m2 0zm3 0zm21 0zm3 0zm5 0zm9 0zm11 0zm-148 1zm2 0zm3 0zm3 0h2m11 0zm7 0zm2 0h1m3 0h2m3 0h3m2 0h1m2 0zm3 0zm3 0zm2 0h1m2 0zm2 0zm4 0zm5 0h1m7 0h1m3 0h1m6 0zm12 0zm2 0zm3 0zm17 0zm12 0zm13 0zm3 0zm-165 1zm5 0zm12 0zm12 0zm9 0zm2 0zm4 0zm2 0zm2 0h2m2 0zm10 0zm4 0zm3 0h1m3 0zm5 0zm13 0zm2 0zm16 0zm6 0zm10 0zm19 0zm3 0zm6 0zm6 0zm6 0zm-146 1zm4 0zm7 0zm4 0zm3 0zm3 0h1m4 0zm15 0zm6 0zm3 0zm6 0zm3 0zm3 0zm5 0zm6 0h1m9 0zm14 0zm5 0zm6 0zm6 0zm3 0zm7 0zm2 0h1m6 0zm10 0zm-147 1zm2 0zm9 0zm3 0h1m7 0zm3 0zm2 0zm3 0h1m2 0zm6 0zm3 0h1m5 0zm5 0zm6 0zm2 0zm3 0zm5 0zm10 0zm9 0zm18 0zm11 0zm7 0zm11 0zm4 0zm15 0zm-163 1zm15 0zm5 0zm2 0h1m12 0h1m6 0zm2 0h2m2 0zm5 0zm2 0zm4 0zm2 0zm4 0h1m2 0h1m5 0zm2 0zm10 0zm3 0zm6 0zm3 0zm9 0zm2 0zm11 0h1m7 0h2m18 0zm45 0zm-202 1zm14 0zm12 0zm7 0h1m2 0zm4 0zm10 0zm2 0h1m2 0h1m2 0zm2 0h2m3 0zm5 0zm2 0h1m3 0zm2 0zm2 0h1m4 0zm5 0zm26 0zm3 0zm5 0zm11 0zm6 0zm5 0h2m4 0zm22 0zm3 0h1m32 0zm-203 1zm6 0zm8 0zm4 0zm2 0zm2 0zm3 0zm5 0zm2 0zm4 0zm4 0zm6 0zm2 0h2m2 0zm4 0zm3 0zm3 0zm2 0zm2 0zm13 0zm4 0zm16 0zm3 0zm5 0zm7 0zm3 0zm2 0zm3 0zm18 0zm34 0zm18 0zm-186 1h1m4 0zm4 0zm3 0zm7 0zm7 0zm3 0h1m2 0zm3 0h1m2 0zm2 0zm3 0h3m2 0h1m2 0h1m3 0h2m2 0zm2 0zm2 0zm2 0zm2 0zm4 0h2m6 0zm3 0zm4 0zm2 0zm5 0zm17 0zm7 0zm2 0zm4 0h1m2 0zm2 0zm2 0zm5 0zm8 0zm4 0zm25 0zm-186 1zm11 0zm6 0zm8 0h1m4 0h2m4 0zm3 0zm5 0zm5 0zm5 0zm3 0zm3 0zm3 0h1m4 0h5m2 0zm2 0zm2 0zm4 0zm2 0h1m8 0zm2 0zm10 0zm8 0zm3 0zm3 0zm8 0zm9 0zm6 0h1m9 0zm5 0h1m2 0zm-167 1zm7 0zm13 0h1m8 0zm4 0h1m2 0zm7 0zm2 0zm2 0zm4 0zm2 0zm7 0zm2 0zm9 0zm2 0zm5 0h2m2 0zm12 0zm6 0zm4 0zm16 0zm11 0zm4 0zm4 0zm2 0zm7 0zm-143 1zm21 0h1m3 0zm8 0zm7 0zm9 0h1m8 0zm3 0h2m3 0h1m3 0zm2 0zm3 0zm2 0h1m7 0zm2 0h1m4 0zm7 0zm3 0h1m4 0zm36 0zm4 0zm3 0zm8 0h1m4 0zm4 0zm7 0zm-163 1zm10 0zm9 0zm10 0zm6 0zm3 0zm3 0zm7 0zm5 0zm2 0zm3 0zm9 0zm3 0zm2 0zm11 0zm3 0zm5 0zm3 0h1m8 0zm3 0zm2 0zm2 0zm9 0zm13 0zm21 0zm9 0zm-169 1zm5 0zm15 0zm5 0h1m3 0zm3 0zm5 0h1m7 0h2m2 0h1m4 0zm4 0h1m2 0zm7 0h1m5 0zm6 0zm3 0zm2 0zm3 0h3m3 0zm2 0zm4 0zm4 0zm9 0zm2 0zm2 0zm4 0zm9 0zm7 0zm6 0zm2 0h1m3 0zm29 0zm25 0zm-209 1zm3 0zm13 0zm8 0zm4 0zm8 0h1m3 0zm4 0zm6 0zm3 0zm2 0h2m5 0h1m6 0zm4 0zm3 0zm3 0zm2 0zm3 0zm4 0h2m3 0zm2 0zm3 0zm4 0zm2 0zm5 0zm17 0zm9 0zm4 0zm4 0zm4 0zm2 0zm4 0zm11 0zm3 0zm33 0zm-193 1zm3 0zm16 0zm3 0zm3 0zm3 0zm2 0h1m8 0zm4 0zm2 0h3m2 0h1m2 0zm2 0zm5 0h1m2 0zm2 0zm7 0h1m4 0zm5 0h2m6 0h1m3 0zm5 0zm7 0zm11 0h1m9 0zm29 0zm8 0zm28 0zm27 0zm-220 1zm4 0zm2 0zm14 0h2m8 0zm2 0zm9 0zm2 0h1m2 0h2m4 0h2m2 0zm5 0zm6 0zm6 0zm3 0h1m2 0zm2 0h1m3 0zm2 0h1m6 0zm5 0zm12 0zm5 0zm6 0zm15 0zm5 0zm3 0zm32 0zm-172 1zm9 0zm4 0zm2 0zm13 0zm3 0zm2 0zm14 0h4m3 0h1m4 0h1m4 0zm7 0h1m6 0zm2 0zm4 0h1m2 0zm8 0zm6 0zm5 0zm12 0zm2 0h1m2 0zm8 0zm9 0zm-151 1zm28 0zm8 0zm4 0h1m7 0zm3 0zm6 0zm2 0zm6 0zm3 0h1m3 0zm4 0h2m6 0h3m3 0zm3 0zm2 0zm2 0zm2 0h1m4 0zm5 0zm9 0h2m4 0zm3 0zm3 0zm2 0zm17 0h2m7 0zm-147 1zm6 0zm3 0zm6 0zm2 0zm5 0zm2 0zm3 0zm2 0zm6 0zm2 0h2m8 0h2m6 0zm2 0h1m2 0zm4 0zm2 0h3m2 0h2m3 0zm3 0zm2 0zm4 0h2m3 0zm6 0zm2 0zm5 0zm2 0zm9 0h1m4 0zm3 0zm8 0zm2 0zm6 0zm3 0zm10 0zm5 0zm22 0zm-192 1zm5 0zm8 0zm12 0zm8 0zm3 0zm9 0zm5 0zm2 0zm4 0zm2 0h2m5 0zm2 0zm7 0zm2 0zm3 0zm2 0zm2 0zm5 0zm4 0zm3 0zm2 0zm5 0zm5 0zm7 0zm5 0zm10 0zm23 0zm11 0h1m-143 1zm6 0zm6 0zm5 0h1m2 0zm2 0zm5 0zm5 0h2m5 0h2m5 0h1m3 0h1m3 0zm3 0h2m2 0zm6 0h3m6 0h3m2 0zm13 0zm9 0zm12 0zm2 0h1m13 0zm11 0zm20 0zm-183 1zm15 0zm13 0h1m2 0h1m2 0zm2 0h1m3 0zm4 0h1m5 0zm3 0zm5 0h1m4 0zm2 0h1m3 0zm3 0zm9 0zm5 0zm3 0h1m4 0h2m2 0zm3 0h1m6 0h1m4 0zm13 0zm4 0zm10 0zm2 0zm2 0zm28 0zm29 0zm-187 1zm4 0zm5 0zm7 0zm3 0zm2 0zm3 0zm5 0h1m5 0zm2 0zm3 0zm2 0h1m3 0zm4 0zm4 0zm5 0zm2 0zm2 0h1m2 0h1m9 0zm2 0zm3 0zm6 0h1m14 0zm4 0zm7 0zm5 0zm10 0h1m18 0zm81 0zm-224 1h1m6 0zm6 0h6m3 0h2m2 0h1m2 0h1m4 0zm7 0zm4 0zm2 0zm4 0h1m4 0h1m4 0zm3 0h2m2 0zm17 0zm4 0zm5 0zm2 0zm9 0h1m3 0zm3 0zm5 0zm39 0h1m-167 1zm5 0zm13 0h1m4 0zm2 0zm12 0h2m3 0zm3 0zm3 0h1m3 0zm3 0zm3 0zm6 0zm2 0zm2 0zm4 0zm3 0zm2 0zm2 0h1m2 0h1m2 0h4m3 0zm6 0zm5 0zm5 0zm10 0zm2 0h1m7 0zm3 0zm10 0zm35 0zm-162 1zm10 0zm3 0zm3 0zm3 0h3m3 0zm4 0zm4 0h6m3 0zm2 0h2m3 0zm3 0zm2 0zm3 0h1m9 0h1m3 0zm8 0zm2 0zm2 0zm8 0zm26 0zm8 0zm12 0zm2 0zm32 0zm-191 1zm8 0zm3 0zm3 0zm4 0zm5 0zm2 0zm9 0h1m10 0zm5 0zm5 0zm4 0h1m3 0h1m3 0zm5 0zm2 0zm5 0h1m3 0zm2 0h1m2 0zm7 0zm5 0zm6 0zm2 0zm5 0zm5 0zm2 0zm2 0zm2 0h1m15 0zm5 0zm16 0zm-143 1zm4 0h1m3 0h2m15 0zm4 0h1m3 0h2m3 0zm6 0zm2 0zm2 0h3m10 0zm2 0h1m11 0h1m6 0h2m4 0h2m8 0zm3 0zm25 0zm4 0zm3 0h1m11 0zm-152 1zm7 0zm10 0zm2 0h1m9 0zm2 0h1m3 0h1m4 0zm4 0h1m8 0zm16 0h4m2 0zm4 0h1m2 0zm4 0zm4 0zm11 0zm4 0zm7 0zm14 0zm11 0zm13 0zm-145 1zm15 0zm2 0zm9 0h1m15 0zm2 0zm4 0zm4 0zm2 0zm2 0zm2 0zm3 0zm3 0h3m4 0h1m10 0h1m2 0zm5 0zm6 0zm11 0zm22 0zm17 0zm9 0zm2 0zm-171 1zm4 0zm6 0zm2 0zm7 0zm5 0h2m3 0h2m6 0zm3 0zm4 0zm6 0zm6 0zm2 0h1m6 0zm3 0h1m2 0zm3 0zm3 0h1m2 0zm2 0zm3 0zm2 0zm2 0h3m4 0zm2 0zm4 0zm7 0zm18 0zm27 0h1m6 0zm6 0zm19 0zm-186 1zm12 0h1m10 0zm2 0zm2 0zm7 0zm4 0zm4 0zm7 0zm3 0h2m3 0zm3 0zm3 0h4m3 0h1m2 0zm3 0zm2 0zm6 0h1m2 0h1m5 0zm3 0zm3 0zm16 0h1m7 0zm4 0zm25 0zm-148 1zm12 0zm5 0zm3 0zm4 0zm2 0h1m3 0zm3 0h2m4 0zm4 0zm2 0h2m3 0h1m2 0zm8 0zm4 0h2m2 0zm2 0zm6 0zm2 0zm3 0h1m3 0zm2 0zm2 0zm4 0zm8 0zm2 0zm3 0zm2 0zm15 0zm4 0zm35 0zm3 0zm-146 1zm10 0zm3 0h1m5 0h2m3 0zm6 0h1m5 0zm3 0zm2 0h2m2 0h2m5 0zm2 0zm2 0zm3 0zm3 0zm4 0zm10 0h1m7 0zm14 0zm5 0zm14 0zm7 0zm11 0zm22 0zm-178 1zm20 0h2m2 0zm2 0h1m4 0zm3 0zm4 0h1m2 0zm2 0zm3 0zm4 0zm4 0zm2 0zm2 0h1m2 0zm2 0h3m2 0zm2 0h2m5 0zm4 0zm2 0h1m2 0zm2 0zm6 0zm7 0zm3 0zm3 0zm7 0zm2 0h1m17 0zm3 0zm17 0zm10 0zm-164 1zm3 0zm10 0h2m5 0zm2 0zm4 0zm4 0h1m2 0zm2 0zm2 0zm4 0h2m2 0zm2 0h1m2 0zm3 0zm6 0zm5 0h3m3 0h1m8 0zm2 0h1m2 0zm5 0zm4 0zm8 0zm8 0zm9 0zm3 0zm6 0zm7 0zm4 0zm-123 1zm2 0zm10 0zm11 0h1m3 0zm2 0zm3 0zm2 0zm5 0zm9 0h2m4 0h1m5 0h1m6 0zm2 0zm4 0zm3 0h1m7 0zm29 0zm13 0zm56 0zm-204 1zm13 0h1m8 0h1m4 0zm2 0h1m2 0zm14 0h1m3 0h1m7 0h1m9 0h3m2 0h1m2 0h1m2 0h2m5 0zm2 0h1m2 0zm14 0h2m3 0zm5 0zm15 0zm7 0zm2 0zm-130 1zm7 0zm13 0zm2 0h1m5 0zm2 0h1m4 0zm2 0zm3 0h1m2 0h2m3 0zm2 0zm7 0zm2 0zm7 0zm9 0zm3 0h2m7 0zm6 0zm3 0zm11 0zm3 0zm11 0zm8 0zm39 0zm-167 1zm8 0zm2 0zm4 0zm10 0zm11 0zm2 0zm3 0zm7 0zm4 0zm2 0h1m2 0zm2 0h2m2 0zm2 0h1m2 0h1m2 0zm3 0zm4 0zm5 0h1m4 0zm7 0zm8 0zm43 0zm-153 1zm12 0zm9 0zm12 0zm3 0zm3 0h2m4 0zm2 0zm6 0zm3 0zm2 0h1m4 0h1m2 0zm5 0zm2 0h3m4 0h1m3 0zm3 0zm2 0h3m4 0h1m5 0zm2 0zm11 0zm20 0zm3 0h1m8 0zm89 0zm-220 1zm3 0h1m2 0zm7 0zm4 0zm4 0zm2 0zm2 0h1m3 0zm3 0zm2 0h1m4 0zm5 0zm3 0zm5 0h1m2 0zm8 0zm4 0zm2 0zm10 0zm3 0zm9 0zm10 0zm5 0zm4 0zm54 0zm-177 1zm11 0zm8 0zm14 0zm2 0zm2 0zm10 0zm4 0h2m3 0h1m2 0zm4 0zm10 0zm16 0zm8 0zm3 0zm37 0zm20 0zm4 0zm10 0zm-173 1zm26 0zm3 0zm5 0zm3 0zm2 0zm3 0zm2 0zm3 0zm2 0h1m2 0h1m7 0zm3 0h2m3 0zm2 0h3m6 0zm3 0zm7 0h1m26 0zm-115 1zm2 0zm4 0zm3 0zm14 0zm6 0h1m7 0zm2 0zm2 0zm2 0zm2 0zm2 0zm3 0zm10 0zm2 0zm3 0zm6 0h1m2 0h1m2 0zm6 0zm7 0zm4 0h2m11 0zm3 0zm6 0zm-94 1zm5 0zm2 0zm2 0zm6 0zm11 0zm3 0zm4 0zm4 0h1m5 0zm5 0zm2 0zm4 0h1m2 0zm5 0h4m2 0zm6 0zm9 0zm7 0zm10 0zm7 0zm-112 1zm11 0zm5 0zm8 0zm3 0zm3 0zm5 0zm5 0h1m12 0zm2 0zm4 0zm6 0zm2 0zm5 0zm4 0zm5 0h1m8 0zm11 0zm7 0zm5 0zm31 0zm11 0zm27 0zm-190 1zm8 0h1m7 0zm5 0zm6 0zm2 0zm6 0zm2 0zm10 0zm2 0zm5 0zm4 0h1m2 0zm2 0zm5 0zm6 0zm3 0h1m7 0zm4 0zm4 0zm20 0zm3 0zm45 0zm-145 1zm3 0zm6 0zm2 0zm3 0h1m9 0zm7 0h2m4 0zm3 0zm4 0zm10 0h4m3 0zm4 0zm8 0zm4 0zm5 0zm8 0zm50 0zm-168 1zm17 0zm11 0zm5 0zm3 0zm3 0zm3 0h2m3 0h1m4 0zm2 0h1m3 0h1m2 0h3m4 0zm5 0zm3 0zm3 0h1m4 0zm7 0zm7 0h1m3 0zm17 0zm-95 1zm6 0zm35 0zm2 0h1m5 0zm3 0h1m3 0zm3 0zm4 0h1m8 0h2m8 0h2m5 0zm37 0zm86 0zm-219 1zm8 0zm3 0zm6 0zm7 0zm6 0zm2 0h3m10 0zm5 0h1m2 0h1m2 0zm5 0h1m2 0h1m9 0zm4 0zm2 0zm44 0zm10 0zm-140 1zm4 0zm6 0zm12 0zm6 0zm2 0h2m7 0zm2 0zm12 0h1m5 0h1m2 0zm3 0zm3 0zm3 0zm7 0zm3 0h1m19 0h1m11 0zm2 0zm-100 1zm10 0h2m5 0zm7 0zm5 0h1m9 0h1m5 0zm6 0zm2 0zm3 0zm2 0h2m3 0h2m2 0zm3 0zm4 0zm5 0zm5 0zm22 0zm3 0zm-126 1zm5 0zm2 0zm4 0zm9 0zm17 0h1m3 0zm2 0zm2 0zm2 0zm2 0h1m4 0zm9 0zm4 0zm6 0h1m5 0h1m5 0zm4 0zm16 0zm3 0zm5 0zm44 0zm-152 1zm29 0zm3 0zm9 0zm4 0h1m4 0zm8 0h1m5 0h3m7 0zm3 0zm7 0h1m4 0zm10 0zm-82 1zm5 0zm3 0zm9 0zm10 0zm12 0zm6 0zm3 0zm3 0zm2 0h1m15 0h1m11 0zm-117 1zm15 0zm7 0zm20 0zm2 0zm17 0h2m3 0h2m2 0zm2 0zm4 0zm6 0h1m11 0zm9 0zm6 0zm2 0zm2 0h1m8 0zm14 0zm-132 1zm21 0zm11 0zm3 0zm13 0zm3 0zm6 0zm5 0zm5 0zm3 0h1m12 0zm2 0zm9 0zm11 0h1m5 0zm40 0zm-118 1zm8 0zm3 0zm6 0zm2 0zm3 0zm4 0h1m7 0zm2 0zm4 0zm3 0zm2 0zm4 0h2m3 0zm11 0h1m33 0zm32 0zm-160 1zm9 0zm10 0zm6 0zm3 0zm3 0zm6 0zm15 0zm9 0zm10 0zm5 0zm3 0zm5 0zm10 0zm2 0zm4 0zm86 0zm-164 1zm33 0zm2 0zm3 0zm2 0zm8 0zm40 0zm17 0zm11 0zm-125 1zm14 0zm2 0zm10 0zm9 0h1m5 0zm2 0zm4 0zm7 0zm12 0zm3 0zm3 0zm2 0zm-84 1zm3 0zm31 0zm6 0zm4 0zm3 0zm10 0zm5 0h1m25 0zm8 0zm36 0zm-87 1zm5 0zm2 0zm6 0zm7 0zm2 0zm3 0zm11 0zm4 0h1m8 0h1m5 0h1m4 0zm-112 1zm45 0zm8 0zm2 0zm4 0zm2 0h1m5 0zm2 0zm3 0zm4 0h3m13 0zm18 0zm16 0zm50 0zm44 0zm-208 1zm7 0zm2 0zm20 0zm9 0zm3 0zm3 0zm7 0zm5 0zm2 0h1m7 0zm3 0zm16 0zm3 0h1m-105 1zm23 0zm5 0zm8 0zm9 0zm12 0h1m5 0zm5 0zm2 0h1m8 0zm2 0zm15 0zm14 0zm35 0zm-140 1zm29 0zm9 0zm8 0zm3 0zm3 0zm3 0h3m5 0zm10 0zm22 0zm24 0zm-124 1zm62 0h1m13 0zm5 0zm4 0h1m11 0zm-97 1zm36 0h1m11 0zm4 0zm4 0zm5 0h1m8 0zm8 0zm3 0zm37 0zm-65 1zm14 0zm6 0zm2 0zm6 0zm-76 1zm52 0zm5 0zm2 0h1m9 0zm5 0zm5 0zm39 0zm-88 1zm14 0zm3 0zm16 0h1m2 0zm6 0zm6 0zm8 0zm27 0zm21 0zm-127 1zm45 0zm20 0zm9 0zm-46 1zm14 0zm2 0zm4 0zm6 0zm8 0zm13 0h1m13 0zm-49 1zm6 0zm5 0h1m3 0zm9 0zm13 0zm6 0zm71 0zm-138 1zm15 0zm4 0zm2 0zm7 0zm6 0h1m6 0zm8 0h1m21 0zm29 0zm-84 1zm9 0zm4 0zm7 0zm7 0zm12 0h2m19 0zm-50 1zm3 0h1m10 0zm2 0zm4 0zm9 0zm-52 1zm7 0zm6 0zm3 0zm12 0zm4 0h2m20 0zm15 0zm10 0zm6 0zm-116 1zm47 0zm8 0zm3 0h1m16 0zm3 0zm75 0zm58 0zm-180 1zm17 0zm5 0h1m10 0zm5 0zm2 0zm2 0zm9 0zm7 0h2m-50 1zm18 0zm12 0zm6 0zm2 0zm82 0zm28 0zm-150 1zm13 0zm13 0h1m2 0zm4 0h1m2 0zm5 0zm3 0h1m2 0zm-39 1zm14 0zm2 0h1m2 0h1m3 0zm6 0zm8 0zm78 0zm-112 1zm19 0zm2 0zm5 0zm-32 1zm15 0zm12 0zm4 0zm46 0zm-72 1zm2 0zm18 0zm9 0zm15 0zm97 0zm-190 1zm20 0zm11 0zm15 0zm2 0zm7 0zm12 0zm5 0zm3 0zm36 0zm25 0zm-107 1zm19 0zm33 0zm100 0zm-130 1zm6 0zm5 0zm6 0zm70 0zm9 0zm-97 1zm2 0zm5 0zm3 0zm6 0zm3 0zm14 0zm15 0zm4 0zm-81 1zm33 0zm3 0zm5 0zm7 0zm3 0zm5 0zm9 0zm9 0zm32 0zm43 0zm-170 1zm45 0zm8 0zm3 0zm5 0zm2 0zm3 0h1m2 0zm2 0zm2 0zm3 0zm-30 1zm7 0zm13 0zm15 0zm2 0zm-83 1zm66 0zm4 0zm23 0zm79 0zm-172 1zm60 0zm8 0zm3 0zm7 0zm3 0zm5 0zm142 0zm-177 1zm5 0zm2 0zm6 0zm4 0zm4 0zm4 0zm9 0zm8 0zm9 0zm-102 1zm47 0zm6 0zm4 0zm9 0zm14 0zm15 0zm-40 1zm18 0zm3 0zm-28 1zm5 0zm11 0zm6 0h1m10 0zm-44 1zm10 0zm4 0zm13 0zm4 0zm5 0zm7 0zm33 0zm-74 1zm22 0zm9 0zm-35 1zm17 0zm10 0zm19 0zm32 0zm-113 1zm38 0zm25 0h1m5 0zm7 0zm-58 1zm34 0h1m17 0zm4 0zm13 0zm11 0zm43 0zm-141 1zm63 0zm18 0zm6 0zm-87 2zm51 0zm10 0zm5 0h1m24 0zm-91 1zm37 0zm28 0zm2 0h2m-69 1zm75 0zm6 0zm6 0zm-26 1zm20 0zm-41 1zm17 0zm2 0zm5 0zm8 0zm6 0zm140 0zm-153 1zm8 0zm-24 1zm22 0zm12 0zm30 0zm-113 2zm82 0zm-24 1zm22 0h1m-81 1zm61 0zm3 0zm2 0zm3 0zm23 0zm-28 1zm3 0zm7 0zm18 0zm-26 1zm2 0zm20 0zm13 0zm64 1zm-118 1zm10 1zm23 0zm-80 1zm48 0zm47 0zm-30 1zm4 0zm16 0zm62 0zm-147 1zm66 0zm12 0zm-78 1zm175 2zm-32 1zm-55 1zm29 1zm-117 2zm0 1zm0 1zm58 1zm-58 2zm74 0zm10 0zm32 3zm-116 2zm66 0h1m10 0zm82 0zm-159 2zm0 1zm136 2zm-136 1zm81 0zm-81 1zm0 1zm79 0zm35 0zm-114 4zm0 2zm0 1zm0 3zm3 1h1m8 0zm2 0zm3 0zm2 0zm2 0zm2 0zm9 0zm5 0zm2 0zm10 0h1m47 0zm4 0zm9 0h1m3 0zm-114 1z"/><path stroke="#64ff3c" d="M152 42zm-151 11zm151 0zm-63 5zm49 1zm9 0zm-48 2zm-19 2zm69 1zm-119 1zm10 0zm87 1zm-39 2zm25 0zm16 0zm2 1zm-130 1zm85 0zm28 0zm-40 1zm-21 1zm10 0zm8 0zm12 0zm6 0zm3 0zm-12 2zm3 0zm20 0zm-79 1zm50 0zm8 0zm96 0zm-110 1zm7 0zm10 0zm15 0zm-99 1zm52 0h1m5 0zm29 0zm18 0zm-40 1zm48 0zm25 0zm13 0zm-80 1zm8 0zm26 0zm-77 1zm17 0zm6 0zm14 1zm6 0zm5 0zm12 0zm4 0zm-19 1h1m11 0zm11 0zm6 0zm4 0zm75 0zm-143 1zm27 0zm3 0h1m34 0zm3 0zm28 0zm-94 1zm19 0h1m4 0zm7 0zm3 0zm2 0zm3 0zm6 0zm8 0zm54 0zm23 0zm-115 1h1m5 0zm4 0h1m17 0zm6 0zm-47 1zm13 0h1m9 0h3m10 0zm7 0zm2 0zm3 0zm-35 1h1m2 0zm13 0zm2 0zm9 0zm7 0zm4 0zm8 0zm-55 1zm12 0zm13 0h1m6 0h1m2 0zm-29 1zm5 0zm3 0zm10 0zm6 0zm7 0zm4 0zm8 0zm11 0zm-52 1zm9 0zm6 0h1m11 0h1m36 0zm-84 1zm5 0zm11 0zm8 0h1m2 0zm2 0zm6 0zm-23 1zm4 0zm15 0zm2 0zm7 0h2m8 0zm2 0zm2 0zm9 0zm6 0zm9 0zm-79 1zm11 0zm4 0zm5 0zm3 0zm5 0h1m5 0h2m5 0zm15 0zm7 0zm26 0zm-88 1zm12 0zm22 0zm3 0h1m2 0zm6 0zm3 0zm4 0zm5 0zm11 0zm-60 1zm8 0zm11 0h1m3 0h1m2 0h2m2 0h2m14 0h1m8 0zm4 0zm5 0zm-57 1zm12 0zm3 0zm10 0zm5 0h1m8 0zm3 0zm2 0zm5 0zm10 0zm3 0zm-71 1zm12 0zm6 0zm3 0zm3 0h1m2 0h1m2 0zm2 0zm6 0zm7 0zm4 0zm13 0zm-70 1zm5 0zm2 0zm9 0zm4 0h1m15 0zm8 0zm5 0zm6 0zm2 0h2m3 0zm21 0zm-74 1zm18 0zm11 0zm3 0zm2 0zm8 0zm3 0zm9 0zm-61 1zm9 0zm17 0zm3 0zm5 0zm8 0zm3 0h1m9 0zm2 0zm5 0zm4 0zm3 0zm73 0zm-135 1zm2 0zm11 0zm3 0zm10 0zm5 0zm2 0zm3 0zm2 0zm4 0h1m6 0zm3 0zm14 0zm8 0zm-95 1zm25 0zm5 0zm6 0zm12 0zm12 0zm9 0zm5 0h1m6 0zm4 0zm11 0zm-82 1zm6 0zm5 0zm13 0h2m9 0zm4 0zm9 0zm-36 1zm4 0zm12 0h1m2 0zm4 0zm6 0zm4 0zm2 0zm7 0h2m52 0zm-109 1zm15 0zm7 0zm8 0zm2 0zm5 0zm-38 1zm7 0zm3 0zm6 0zm12 0zm4 0zm5 0zm6 0zm21 0zm2 0h1m3 0zm8 0zm-77 1zm2 0zm4 0zm16 0zm2 0zm2 0zm2 0zm4 0zm5 0zm7 0zm6 0zm29 0zm-113 1zm50 0zm7 0zm5 0zm6 0zm6 0zm9 0zm2 0zm3 0zm8 0zm-59 1zm15 0zm2 0zm2 0zm3 0zm3 0zm2 0zm7 0h1m13 0zm3 0h2m2 0zm4 0zm-81 1zm46 0zm3 0zm2 0zm10 0zm3 0zm9 0zm3 0zm3 0zm8 0zm-79 1zm28 0zm9 0zm2 0zm4 0zm5 0zm7 0zm3 0h2m2 0zm11 0zm-52 1zm6 0zm2 0zm6 0zm13 0zm4 0zm10 0zm8 0zm22 0zm-55 1zm6 0zm8 0zm11 0zm6 0h1m7 0zm-62 1zm15 0zm7 0zm13 0h1m6 0h2m3 0zm13 0zm3 0zm-48 1zm12 0zm7 0zm17 0zm5 0zm11 0zm4 0zm-47 1zm8 0zm4 0h1m2 0zm15 0zm15 0zm-106 1zm42 0zm4 0zm4 0zm7 0zm4 0h2m13 0h1m24 0zm-63 1zm3 0zm13 0zm6 0zm12 0zm11 0zm46 0zm-82 1zm4 0zm2 0zm4 0h1m6 0zm5 0zm30 0zm-38 1zm25 0zm-32 1zm4 0h1m4 0zm13 0zm8 0zm8 0zm-36 1zm14 0zm-70 1zm60 0zm7 0zm7 0zm3 0zm-51 1zm34 0h1m4 0zm4 0zm13 0zm3 0zm40 0zm-125 1zm30 0zm19 0h1m21 0zm12 0zm2 0zm-34 1zm3 0zm-1 1h1m11 0zm13 0zm-51 1zm30 0zm5 0h1m3 0zm2 0zm49 0zm-61 1zm29 0h1m11 0zm-42 1zm5 0zm4 0h1m10 0zm20 0zm-35 1zm4 0zm42 0zm-37 1zm-69 1zm70 0zm10 0zm-14 1zm-1 1zm-31 1zm60 0zm-35 1zm-59 1zm72 0zm-11 4zm8 0zm-10 1zm6 0zm-25 1zm38 0zm-78 1zm47 0zm-47 2zm48 1zm-48 1zm0 1zm73 3zm-20 1zm31 0zm-84 1zm70 0zm-70 1zm57 1zm-57 1zm78 0zm-37 2zm-41 1zm73 0zm-21 1zm16 1zm6 2zm-74 1zm58 0zm-58 2zm71 4zm-5 1zm-66 1zm0 1zm0 1zm66 0zm-14 5zm12 2zm-64 5zm0 1zm0 2zm0 2zm0 1zm0 3zm0 2zm0 3zm0 5zm0 7zm0 3zm0 18zm-1 2h1m5 0zm4 0zm11 0zm2 0zm2 0zm2 0zm5 0zm5 0zm2 0zm4 0zm2 0h1m2 0h1m24 0zm13 0zm6 0zm5 0zm2 0zm2 0z"/><path stroke="#fff200" d="M1 67zm0 1zm79 0zm-79 3zm80 0zm-80 2zm0 3zm76 0zm-5 1zm12 0zm-31 1zm0 1zm34 0zm-9 1zm-22 3zm92 0zm-79 2zm2 0zm7 0zm11 0zm41 0zm-129 1zm73 0zm11 1zm19 0zm-33 1zm6 0zm11 0zm-32 1zm8 0zm23 0zm-86 1zm61 0zm12 0h1m14 0zm-24 1zm4 0zm2 0zm18 0zm19 0zm-54 1zm6 0zm9 0zm-8 1zm18 0zm4 1zm14 0zm-37 1zm24 0zm51 0zm-66 1zm-21 1zm34 1zm-81 1zm50 0zm13 0zm14 0zm6 0zm-83 1zm52 0zm8 0zm16 0zm7 0zm-83 1zm47 0zm25 0zm4 0zm3 0zm-38 1h1m8 0zm8 0zm13 0h1m5 0zm5 0zm-26 1zm13 0zm3 0zm-29 1zm24 0zm16 0zm11 0zm-12 1zm-27 1zm9 0zm8 0zm17 0zm-89 1zm55 0zm18 0zm16 0zm-40 1zm18 0zm6 0zm11 0zm14 0zm-20 1h1m-22 1zm3 0zm11 0zm-3 1h1m4 0zm4 0zm12 0zm3 1zm-34 1zm5 0zm5 0zm-68 1zm60 0zm7 0zm3 0zm6 0zm20 0zm38 0zm-75 1zm-11 1zm4 0zm43 0zm-41 1zm15 0zm-5 1zm4 1zm13 0zm-13 4zm-17 1zm-1 2zm30 0zm-80 3zm54 2zm24 0zm-78 1zm61 0zm13 2zm-74 1zm0 2zm0 7zm0 2zm0 2zm0 3zm0 1zm0 1zm76 16zm-76 16zm0 2zm0 16zm0 9zm0 4zm0 18zm1 3zm5 0zm7 0zm14 0zm2 0zm4 0zm2 0zm6 0zm5 0zm13 0zm36 0zm8 0h2m3 0z"/><path stroke="#ffab00" d="M1 62zm0 4zm0 3zm0 3zm81 15zm-22 2zm19 1zm-78 1zm73 1zm-73 1zm0 2zm70 1zm-70 2zm56 2zm7 0zm18 1zm-10 2zm5 2zm14 0zm-7 1zm-83 3zm0 2zm74 0zm-11 1zm10 1zm-73 2zm69 0zm-2 5zm-67 2zm0 6zm0 3zm0 10zm0 23zm0 51zm2 22zm8 0zm41 0h3m2 0zm5 0zm13 0zm15 0z"/><path stroke="#ff6500" d="M1 63zm0 2zm0 9zm0 1zm0 6zm0 3zm0 3zm91 9zm-35 2zm1 1zm4 3zm-61 3zm86 0zm1 2zm-87 13zm0 19zm43 98zm12 0zm18 0zm11 0zm4 0zm5 0z"/><path stroke="#ff1e00" d="M1 78zm0 1zm0 1zm0 2zm0 1zm0 2zm0 3zm0 1zm0 3zm0 2zm0 2zm85 0zm-85 1zm0 5zm0 1zm0 1zm0 2zm0 4zm0 2zm0 1zm0 3zm0 2zm0 1zm0 2zm0 3zm0 2zm0 1zm0 7zm57 103h1m2 0zm2 0h9m4 0h8m3 0h1m3 0zm2 0zm2 0zm5 0z"/></g>
<g transform="translate(80.20 601.20) scale(1.0)" fill="none" stroke-linecap="square" stroke-width="1.25" filter="url(#sb)"><path stroke="#2828ff" stroke-width="1.05" d="M8 0zm13 0zm2 0zm131 0zm9 0zm5 0zm2 0zm6 0zm-68 1zm3 0zm5 0h1m2 0zm10 0zm3 0zm2 0h5m2 0zm4 0zm12 0zm12 0zm4 0h1m3 0h1m3 0h5m4 0h7m2 0h3m2 0h6m6 0h1m2 0h1m3 0zm3 0zm5 0h1m2 0zm2 0zm2 0h2m3 0zm3 0zm3 0h1m2 0zm2 0zm-241 1zm97 0zm4 0h1m3 0h2m2 0zm10 0zm4 0zm4 0zm2 0zm10 0h2m19 0zm2 0h2m3 0h1m2 0zm2 0zm3 0zm2 0h3m2 0zm3 0h1m3 0zm2 0zm2 0h2m2 0zm7 0h1m4 0h2m6 0zm3 0h4m4 0zm3 0zm2 0h1m2 0zm-235 1zm93 0zm51 0zm3 0zm12 0zm3 0zm-155 1zm3 0zm4 0zm6 0zm8 0zm13 0zm13 0zm4 0zm8 0h1m4 0zm21 0zm43 0zm5 0zm2 0zm6 0zm2 0zm2 0zm8 0zm55 0zm-220 1zm16 0zm6 0zm5 0zm5 0zm9 0zm4 0zm2 0zm3 0zm22 0zm3 0zm8 0zm5 0zm4 0zm8 0zm13 0zm8 0zm17 0zm3 0zm3 0zm3 0h1m8 0zm2 0zm4 0zm11 0zm-172 1zm11 0zm8 0zm7 0h1m2 0zm5 0zm2 0h4m3 0zm2 0h1m5 0zm14 0zm17 0zm2 0zm7 0zm12 0zm24 0zm22 0zm2 0zm7 0zm2 0zm4 0zm2 0h1m3 0h1m-175 1zm22 0zm5 0zm3 0h1m2 0zm6 0zm9 0zm2 0zm4 0zm2 0zm10 0zm43 0zm4 0zm14 0zm26 0zm2 0zm2 0h1m3 0zm2 0h1m4 0zm16 0zm-181 1zm5 0zm5 0zm16 0zm6 0zm16 0h3m8 0zm3 0h1m5 0zm3 0h1m9 0zm13 0zm17 0zm30 0h1m5 0zm2 0zm3 0h3m2 0h2m3 0zm3 0zm6 0zm4 0zm-161 1zm6 0zm6 0h1m5 0zm5 0zm2 0zm6 0zm7 0h1m7 0zm11 0zm6 0zm21 0zm6 0zm40 0zm5 0zm2 0zm2 0zm5 0zm12 0zm34 0zm-203 1zm8 0zm6 0zm10 0h1m5 0zm2 0h1m2 0zm3 0zm2 0h1m3 0zm11 0zm12 0zm4 0zm14 0zm35 0zm9 0zm2 0zm8 0zm9 0zm3 0zm9 0h1m5 0zm-158 1zm2 0zm3 0zm2 0zm4 0zm13 0zm6 0zm2 0zm2 0zm5 0h1m7 0zm3 0zm2 0zm4 0zm4 0zm5 0zm6 0zm5 0zm4 0zm10 0zm20 0zm28 0zm6 0h1m2 0zm5 0zm2 0zm8 0zm-152 1zm2 0zm4 0zm2 0h2m5 0zm2 0h1m3 0zm6 0zm5 0zm13 0zm7 0zm9 0h1m4 0zm21 0h1m21 0zm10 0zm5 0h1m8 0zm4 0zm2 0zm5 0zm15 0zm-169 1zm4 0zm8 0zm5 0zm3 0zm2 0zm3 0zm5 0zm2 0zm7 0zm18 0h1m6 0zm3 0zm13 0zm10 0zm2 0zm14 0zm30 0h2m3 0zm4 0zm7 0h1m3 0zm-155 1h1m10 0zm3 0zm5 0h1m3 0zm2 0zm9 0zm2 0h2m4 0zm2 0h1m4 0zm7 0zm6 0zm2 0zm6 0zm3 0zm22 0zm16 0zm23 0zm2 0zm5 0zm5 0h1m6 0zm2 0zm3 0zm3 0zm-174 1zm8 0zm8 0zm2 0zm8 0zm5 0zm3 0zm9 0zm3 0zm3 0zm5 0h1m7 0zm4 0zm20 0h1m30 0zm4 0zm24 0zm4 0zm3 0zm2 0zm4 0zm4 0h1m2 0zm7 0h2m5 0zm-169 1zm5 0zm5 0zm2 0h1m3 0zm3 0zm2 0zm4 0h3m4 0h1m4 0zm5 0zm3 0zm3 0zm2 0zm5 0zm9 0zm2 0zm2 0zm10 0zm2 0h1m18 0zm39 0h1m2 0zm3 0zm3 0zm2 0h1m2 0zm2 0zm7 0zm21 0zm-188 1zm11 0h1m4 0zm2 0h1m4 0zm6 0zm2 0zm4 0h3m2 0zm6 0zm2 0h1m3 0h1m23 0zm16 0zm2 0zm2 0zm14 0zm3 0zm3 0zm11 0zm5 0zm12 0zm2 0h1m2 0zm3 0zm5 0zm12 0zm-168 1zm14 0zm4 0zm8 0zm8 0zm4 0zm5 0h1m6 0zm6 0h1m4 0h4m3 0zm2 0h1m6 0zm38 0zm5 0zm8 0zm2 0zm5 0zm6 0zm2 0zm2 0zm6 0zm5 0h3m4 0zm3 0zm3 0h2m5 0zm-165 1zm3 0h2m3 0h1m5 0h1m2 0zm2 0zm6 0zm2 0zm2 0zm4 0h1m2 0zm2 0h1m2 0zm2 0zm3 0zm4 0zm5 0zm4 0h2m2 0zm28 0zm22 0h1m3 0zm4 0zm4 0zm8 0h2m2 0zm3 0zm5 0zm5 0zm15 0zm-175 1zm8 0h1m5 0zm3 0zm3 0zm2 0h2m5 0zm2 0zm2 0zm3 0zm3 0zm4 0h2m2 0zm8 0h1m4 0h1m11 0h1m6 0h1m14 0zm7 0zm2 0zm12 0zm10 0zm4 0zm10 0zm8 0zm2 0h1m4 0zm4 0zm3 0h1m-168 1zm21 0h2m2 0zm7 0zm3 0h2m3 0zm2 0h1m3 0h2m3 0zm3 0h1m3 0h1m3 0h1m7 0zm2 0zm8 0zm5 0zm6 0zm3 0zm14 0zm19 0zm8 0zm2 0zm2 0h1m3 0zm3 0zm7 0zm2 0h1m6 0zm6 0zm2 0zm2 0zm-155 1zm9 0zm3 0h1m6 0zm2 0zm2 0zm5 0h2m2 0zm3 0zm5 0zm3 0h2m8 0zm2 0zm4 0zm7 0zm7 0zm14 0zm5 0zm34 0zm2 0zm2 0h2m2 0zm2 0zm3 0zm2 0h1m5 0zm4 0zm2 0h1m3 0zm12 0zm-183 1zm2 0h1m6 0h1m3 0zm4 0zm6 0h1m4 0zm2 0zm5 0h1m3 0zm3 0zm4 0zm8 0h1m7 0zm7 0zm2 0h2m3 0zm2 0zm4 0zm2 0zm6 0zm3 0zm7 0zm26 0zm4 0zm6 0zm4 0h2m6 0zm3 0zm5 0zm3 0zm4 0zm-166 1zm11 0zm5 0h1m3 0zm2 0zm7 0zm4 0zm6 0h1m3 0h2m2 0h1m2 0zm5 0zm6 0h1m4 0zm3 0zm2 0zm3 0zm7 0zm3 0zm4 0h1m8 0zm25 0zm6 0zm10 0zm8 0zm2 0zm3 0h1m8 0h1m13 0zm18 0zm-186 1h1m4 0zm2 0h2m13 0zm5 0h1m2 0h2m4 0zm7 0zm2 0h1m2 0h2m2 0zm3 0zm6 0zm5 0h1m2 0h1m7 0zm2 0zm2 0zm2 0zm6 0zm2 0zm3 0zm4 0zm5 0zm4 0zm5 0zm4 0zm15 0zm2 0zm10 0zm2 0zm3 0zm6 0zm9 0h1m70 0zm-241 1h1m14 0zm4 0h1m3 0zm5 0zm6 0zm4 0h1m6 0zm6 0h2m2 0zm2 0zm3 0zm4 0h2m3 0h1m5 0zm3 0zm15 0h1m5 0zm4 0h1m6 0zm7 0zm6 0zm7 0zm2 0zm10 0zm7 0zm8 0zm4 0zm4 0zm2 0zm4 0zm4 0zm16 0zm-191 1h1m3 0zm6 0zm2 0zm2 0zm6 0zm4 0zm2 0zm3 0h1m6 0zm3 0zm3 0zm3 0zm2 0zm2 0zm4 0h1m2 0zm2 0h1m3 0zm2 0zm3 0h1m2 0zm10 0zm12 0zm7 0zm7 0zm32 0zm3 0zm3 0zm4 0zm2 0zm5 0h1m3 0zm2 0h2m18 0zm4 0zm13 0zm-187 1zm7 0zm2 0h1m2 0h1m2 0zm3 0zm3 0zm9 0zm2 0zm4 0h1m2 0zm2 0zm3 0zm5 0h2m3 0zm2 0h1m4 0zm3 0zm3 0zm5 0zm3 0zm2 0zm9 0zm8 0zm8 0h2m14 0zm12 0zm7 0zm2 0zm2 0zm10 0h3m11 0zm7 0zm-179 1zm5 0h1m13 0zm2 0zm3 0zm3 0zm2 0zm4 0zm3 0h2m3 0h1m3 0zm4 0zm3 0zm4 0zm3 0h1m2 0zm6 0h1m2 0h1m6 0h1m3 0zm4 0zm11 0zm6 0zm2 0h1m2 0h1m5 0h1m15 0h2m6 0zm4 0zm3 0zm4 0h2m2 0zm2 0zm7 0zm7 0zm21 0zm-182 1zm5 0zm2 0zm4 0zm5 0zm2 0zm3 0zm2 0zm3 0zm5 0h1m3 0zm2 0zm5 0zm2 0zm2 0h3m5 0zm7 0h1m2 0zm2 0zm2 0zm2 0zm2 0zm2 0h1m8 0zm4 0zm5 0zm3 0zm6 0zm8 0zm4 0zm11 0zm3 0zm4 0h2m3 0zm3 0zm9 0h3m5 0zm3 0zm-163 1zm3 0zm5 0h2m5 0zm4 0h1m2 0zm6 0h2m4 0zm3 0zm3 0zm6 0zm2 0zm4 0h1m4 0h2m4 0h1m4 0zm3 0zm7 0zm3 0zm5 0h1m4 0zm10 0zm5 0zm4 0zm4 0zm18 0zm11 0zm6 0zm5 0zm2 0zm3 0zm-163 1zm10 0zm3 0h1m4 0h1m3 0zm5 0h1m2 0zm3 0h2m6 0zm15 0zm4 0zm4 0h2m3 0zm2 0zm4 0zm2 0zm10 0h1m5 0zm3 0zm5 0zm2 0zm3 0zm9 0zm3 0zm2 0h1m5 0zm2 0zm5 0zm5 0h2m3 0zm4 0zm4 0h1m7 0h1m3 0zm5 0zm-170 1zm6 0zm4 0zm3 0zm6 0h1m2 0h1m3 0zm3 0h1m6 0zm4 0zm3 0zm2 0h2m7 0h2m3 0zm2 0zm4 0zm3 0zm3 0zm3 0zm2 0h1m3 0zm2 0h2m15 0zm4 0zm6 0zm7 0zm10 0zm4 0zm15 0h2m5 0zm7 0h1m-158 1zm11 0zm2 0zm3 0zm2 0zm6 0zm4 0zm2 0h1m3 0zm3 0zm5 0zm2 0zm3 0h1m3 0zm4 0zm10 0h3m3 0h1m3 0zm8 0zm3 0zm6 0zm3 0zm4 0h1m6 0zm9 0zm16 0zm5 0h2m3 0zm4 0zm2 0zm8 0h1m3 0zm2 0zm7 0zm-164 1h2m8 0zm7 0h1m2 0h1m5 0h1m9 0h2m2 0h1m2 0zm2 0h2m2 0h1m2 0zm2 0zm2 0zm7 0h1m2 0zm3 0zm3 0zm5 0h1m6 0zm8 0zm3 0zm2 0h1m14 0zm6 0zm3 0zm5 0h1m7 0zm6 0zm3 0h3m3 0zm4 0zm3 0zm9 0zm2 0zm-163 1h1m4 0h1m2 0zm2 0zm11 0zm4 0zm9 0zm4 0zm2 0zm6 0zm3 0h1m2 0zm3 0zm7 0zm6 0zm10 0zm5 0zm24 0zm8 0zm3 0zm2 0h2m11 0h1m2 0zm2 0zm3 0h3m2 0h2m4 0zm5 0zm5 0zm4 0zm-176 1zm3 0zm2 0zm4 0h2m5 0zm2 0zm2 0h1m4 0h1m2 0zm2 0zm3 0h1m2 0zm2 0h1m3 0zm13 0h1m4 0zm9 0zm8 0zm6 0zm2 0zm2 0zm16 0zm8 0zm9 0h1m4 0zm8 0zm6 0zm2 0zm2 0h1m3 0zm2 0h2m4 0zm6 0h1m3 0zm20 0zm-181 1zm16 0zm4 0zm3 0zm7 0zm2 0h2m12 0zm2 0zm2 0zm2 0h2m2 0zm4 0zm3 0h1m6 0zm2 0h2m6 0zm14 0h1m4 0zm10 0zm3 0h3m12 0zm2 0zm3 0zm2 0zm2 0h2m3 0zm2 0h2m9 0zm3 0zm4 0h2m44 0zm-212 1zm7 0zm11 0zm4 0zm2 0zm4 0zm6 0h1m3 0zm2 0zm3 0h1m2 0h1m2 0zm5 0h2m4 0zm2 0zm4 0h1m7 0zm6 0zm8 0zm2 0zm18 0zm9 0zm6 0zm4 0zm3 0zm2 0h1m2 0zm7 0zm5 0h1m5 0zm4 0zm3 0zm3 0zm2 0zm6 0zm-168 1h2m4 0zm2 0zm3 0zm4 0h1m7 0h1m2 0zm10 0zm4 0zm2 0h1m13 0h1m7 0h1m3 0h1m4 0zm4 0h1m4 0h1m9 0zm2 0zm4 0h3m3 0zm3 0zm4 0h2m3 0zm2 0zm5 0zm5 0h1m5 0zm3 0h1m6 0zm3 0zm5 0zm5 0h1m2 0h1m4 0zm-167 1zm6 0zm4 0zm4 0h2m2 0h1m7 0zm4 0zm2 0h1m8 0h1m6 0zm3 0zm2 0zm2 0zm2 0zm2 0zm3 0zm2 0zm6 0zm2 0h2m4 0zm4 0zm7 0zm7 0h1m2 0zm3 0h1m2 0h1m8 0zm5 0zm7 0zm4 0zm8 0zm4 0zm6 0zm2 0zm3 0zm6 0zm2 0zm2 0zm5 0zm-166 1h1m6 0zm2 0zm6 0zm2 0zm2 0zm2 0h4m4 0zm2 0zm5 0zm2 0zm17 0zm2 0h2m4 0zm4 0h1m2 0zm3 0zm2 0zm2 0zm4 0zm2 0zm3 0zm2 0zm7 0zm2 0zm4 0zm2 0zm2 0h1m8 0zm2 0h1m2 0zm5 0zm6 0zm6 0h2m2 0zm4 0zm3 0zm3 0h2m8 0h1m4 0zm-165 1zm3 0zm9 0zm3 0h1m3 0h1m2 0zm3 0zm4 0h1m8 0zm17 0zm2 0zm5 0zm8 0zm7 0zm2 0zm3 0h1m3 0zm7 0zm16 0zm2 0h1m2 0zm2 0zm18 0h2m4 0zm2 0zm3 0h2m2 0zm4 0h3m2 0zm-159 1zm5 0zm9 0zm2 0zm12 0h1m3 0zm2 0zm10 0h1m10 0h1m6 0h2m2 0zm2 0h1m3 0zm4 0zm7 0zm3 0zm4 0zm2 0h1m2 0zm4 0zm2 0zm6 0zm15 0zm4 0zm5 0zm2 0h1m2 0zm5 0h3m2 0zm3 0zm3 0h2m4 0zm2 0zm3 0zm7 0zm-172 1zm9 0zm2 0zm5 0zm4 0zm5 0zm8 0zm3 0zm3 0zm4 0zm2 0zm3 0zm2 0zm2 0h1m4 0zm3 0h1m3 0zm8 0h1m3 0h1m2 0h1m2 0zm6 0zm2 0zm4 0zm5 0zm2 0h1m2 0zm4 0h2m11 0h3m3 0zm4 0h2m4 0zm5 0zm5 0zm3 0zm3 0zm3 0zm6 0zm2 0zm3 0zm4 0zm-159 1zm4 0zm3 0zm2 0h2m9 0h1m5 0zm14 0h2m2 0zm3 0zm4 0zm3 0zm4 0zm4 0h1m4 0zm2 0h3m2 0zm3 0h2m5 0zm4 0h1m6 0zm7 0zm6 0zm2 0zm4 0zm4 0h1m3 0h2m4 0zm2 0zm4 0zm2 0zm5 0h2m4 0zm2 0zm2 0zm5 0zm-166 1zm4 0zm2 0zm10 0zm3 0h1m3 0zm8 0h2m5 0zm3 0h1m2 0zm3 0zm2 0zm4 0h1m7 0zm2 0h4m3 0zm5 0zm5 0zm6 0zm6 0zm5 0h1m6 0zm2 0zm12 0h2m3 0zm8 0zm14 0zm2 0zm4 0zm4 0h1m5 0h1m-164 1h2m6 0zm4 0h2m2 0zm5 0zm8 0zm9 0h1m2 0zm16 0h1m2 0zm9 0zm2 0zm4 0zm7 0zm8 0zm3 0h1m5 0zm2 0zm10 0zm2 0zm2 0zm5 0zm4 0zm5 0zm8 0zm8 0h1m4 0h1m3 0h2m2 0zm-141 1zm5 0h1m5 0h3m5 0zm6 0zm3 0zm2 0zm4 0zm6 0h1m2 0h4m4 0zm4 0zm3 0zm2 0h5m6 0zm3 0zm2 0zm9 0zm4 0zm5 0zm9 0zm7 0zm4 0zm6 0h1m2 0h2m2 0zm9 0h1m2 0zm5 0zm6 0zm-163 1zm2 0zm11 0zm2 0h1m6 0zm7 0zm2 0zm2 0zm2 0zm2 0h1m2 0zm3 0zm5 0h2m2 0h1m5 0zm13 0h1m2 0zm4 0zm3 0zm3 0h2m2 0h2m16 0zm4 0h1m7 0zm12 0zm2 0zm5 0zm4 0zm2 0zm3 0zm2 0zm3 0zm2 0zm2 0zm2 0h4m-162 1zm13 0zm4 0zm7 0h1m2 0zm2 0zm2 0zm2 0zm3 0h2m7 0h1m5 0h1m4 0zm9 0h2m2 0h2m5 0zm6 0h2m14 0zm4 0zm3 0zm3 0zm19 0h1m2 0zm2 0zm6 0h1m7 0h2m2 0h1m10 0zm19 0zm-180 1h1m12 0h1m2 0zm4 0zm2 0h1m4 0zm4 0h1m2 0zm3 0zm11 0h1m9 0zm6 0h2m7 0h1m3 0h2m2 0zm3 0zm16 0zm2 0zm5 0zm5 0zm14 0zm3 0zm11 0h1m5 0zm2 0zm4 0h2m5 0zm8 0zm-166 1zm5 0zm10 0zm2 0zm2 0zm9 0zm6 0zm2 0zm3 0zm2 0zm3 0zm5 0zm3 0zm2 0zm2 0h1m5 0zm3 0h1m2 0h1m2 0h1m3 0zm5 0h1m4 0zm5 0zm2 0zm2 0h1m3 0zm5 0h2m3 0zm4 0h1m2 0zm5 0zm3 0zm8 0h1m3 0h1m4 0zm8 0zm2 0zm14 0zm-155 1zm2 0zm2 0h1m2 0h2m2 0zm4 0zm2 0h1m3 0h1m7 0h1m3 0h1m2 0h2m7 0zm5 0zm2 0zm5 0h2m3 0h2m2 0zm2 0h1m5 0h2m4 0zm2 0zm2 0h1m2 0zm7 0h1m2 0zm15 0zm8 0h1m2 0zm2 0h2m3 0h2m4 0zm7 0h1m4 0zm4 0zm7 0zm-166 1zm3 0h2m2 0zm3 0zm2 0h1m5 0zm5 0zm2 0zm2 0zm3 0h1m4 0zm2 0zm2 0zm4 0zm4 0zm3 0zm2 0zm6 0zm3 0zm3 0h1m6 0h1m3 0zm2 0zm2 0h1m3 0zm11 0zm3 0zm6 0h1m2 0zm4 0zm5 0zm15 0zm3 0zm2 0zm2 0zm6 0zm2 0zm2 0zm2 0zm2 0h1m2 0zm4 0zm4 0zm-167 1zm5 0zm3 0zm2 0zm3 0zm4 0zm3 0zm6 0zm5 0h1m4 0zm5 0zm6 0zm13 0h1m5 0zm2 0zm2 0h4m6 0zm2 0zm4 0zm6 0zm6 0zm3 0zm3 0zm3 0h2m2 0zm4 0zm5 0zm3 0zm3 0zm3 0zm2 0zm5 0zm3 0zm6 0zm7 0zm3 0h1m5 0zm4 0zm-163 1h1m3 0zm8 0h1m2 0zm3 0h1m3 0zm3 0zm3 0zm11 0h1m13 0h1m7 0zm2 0zm2 0zm5 0h1m2 0zm8 0zm5 0zm3 0h1m3 0h2m2 0zm3 0zm3 0zm6 0zm5 0zm10 0zm6 0zm6 0h2m6 0h1m-149 1zm12 0zm2 0zm2 0zm3 0zm6 0h2m2 0zm3 0h2m13 0zm9 0zm3 0zm14 0zm2 0zm4 0h1m5 0h3m3 0h1m4 0h1m5 0zm2 0h1m2 0h1m2 0zm2 0zm2 0zm7 0zm2 0h1m6 0zm9 0zm3 0zm6 0zm3 0zm5 0zm6 0zm-162 1zm9 0zm6 0zm2 0zm2 0h2m2 0zm6 0zm9 0h1m5 0h1m2 0zm2 0zm10 0zm4 0h1m2 0zm2 0zm3 0zm2 0zm2 0zm8 0zm3 0zm4 0zm8 0h1m6 0zm2 0h2m3 0zm5 0zm5 0zm7 0zm8 0zm3 0h1m10 0zm2 0zm3 0zm2 0zm-155 1zm6 0zm8 0zm6 0zm3 0h2m3 0h1m4 0zm3 0zm7 0zm4 0zm9 0zm4 0h1m2 0zm4 0h1m3 0h2m3 0zm10 0zm3 0zm2 0zm8 0zm3 0zm4 0zm4 0zm7 0h1m13 0zm3 0zm8 0h2m2 0h1m5 0zm4 0zm4 0zm4 0zm-167 1zm7 0zm5 0h1m4 0h1m8 0h1m2 0h2m2 0h2m4 0zm11 0zm8 0zm7 0zm3 0zm3 0zm5 0h1m3 0zm2 0zm2 0zm4 0zm5 0h1m3 0zm6 0h2m7 0h1m2 0zm23 0zm6 0h1m4 0zm4 0zm2 0zm7 0h1m-163 1zm5 0h1m10 0zm4 0zm2 0zm2 0zm2 0h2m2 0zm3 0h1m7 0h1m3 0zm2 0h1m2 0zm8 0zm2 0zm2 0h1m4 0zm4 0zm7 0h2m4 0h1m2 0zm3 0zm2 0h1m2 0h3m4 0zm3 0zm2 0zm3 0zm2 0zm2 0zm6 0zm7 0h1m5 0zm3 0zm3 0zm4 0zm5 0h1m4 0zm-146 1zm2 0zm2 0zm6 0h2m3 0zm2 0h1m3 0zm9 0zm2 0zm2 0zm2 0zm6 0zm9 0zm3 0zm2 0zm2 0zm2 0h1m2 0h1m2 0h1m2 0zm2 0zm3 0zm6 0zm2 0h1m2 0zm2 0h1m9 0h1m2 0h2m2 0zm2 0zm6 0zm2 0h1m6 0zm4 0zm5 0zm2 0zm2 0zm7 0zm9 0zm-156 1zm10 0zm5 0zm4 0h1m4 0h2m3 0h1m8 0zm2 0zm4 0zm14 0h1m2 0h1m3 0zm5 0zm3 0zm6 0zm6 0zm3 0zm8 0h2m7 0zm4 0zm5 0zm2 0zm10 0zm9 0zm4 0zm7 0zm-145 1zm2 0zm11 0zm2 0h1m3 0zm2 0zm6 0zm8 0zm5 0zm6 0zm4 0h1m3 0h4m4 0zm4 0zm4 0zm4 0h1m2 0zm2 0zm2 0h4m3 0zm3 0zm3 0h1m3 0zm6 0h2m5 0zm4 0zm10 0zm11 0zm7 0zm3 0h1m2 0zm7 0zm-150 1zm14 0zm4 0h1m3 0zm12 0h2m4 0zm8 0h1m4 0h2m7 0h1m3 0zm5 0zm12 0zm2 0zm4 0h1m4 0zm2 0zm3 0zm2 0h4m5 0zm4 0h1m10 0zm4 0zm4 0h1m2 0zm10 0zm3 0zm-147 1zm2 0zm5 0zm2 0h1m2 0h2m2 0h3m10 0zm8 0h1m7 0zm4 0zm2 0h1m2 0h1m6 0zm2 0zm4 0h4m2 0h2m7 0h3m5 0zm3 0zm7 0zm16 0zm6 0zm10 0h1m9 0h1m3 0zm3 0h1m11 0zm-162 1zm3 0zm2 0zm2 0zm3 0h1m5 0zm7 0zm7 0zm4 0h1m7 0h2m2 0zm3 0h1m4 0zm3 0h1m4 0zm3 0zm3 0h1m5 0zm3 0zm3 0zm3 0zm5 0h1m4 0zm8 0h1m3 0zm2 0h2m3 0zm7 0zm6 0zm4 0zm6 0zm3 0zm3 0zm4 0h1m3 0zm4 0zm-158 1h1m6 0zm6 0zm3 0h1m2 0zm2 0zm3 0zm5 0zm7 0zm3 0zm10 0h2m4 0zm2 0zm2 0h1m7 0h1m4 0h1m3 0h1m2 0zm4 0zm2 0zm2 0h1m2 0zm2 0zm4 0h1m3 0zm5 0zm3 0h2m3 0zm11 0zm6 0h1m2 0zm-136 1zm11 0zm2 0h2m7 0h1m2 0zm3 0zm5 0h1m2 0zm2 0zm2 0h1m6 0zm7 0zm2 0zm2 0zm2 0zm2 0h2m2 0h3m4 0zm3 0h2m4 0h1m2 0zm2 0zm5 0zm2 0zm2 0zm2 0h2m2 0h5m2 0zm25 0zm6 0zm8 0zm10 0zm20 0zm-175 1zm17 0zm2 0zm7 0zm2 0h1m4 0zm5 0zm6 0zm3 0zm4 0zm3 0zm4 0zm4 0zm5 0zm4 0h1m4 0zm2 0zm2 0zm2 0zm4 0zm2 0h1m5 0zm2 0zm3 0zm2 0zm2 0zm10 0zm12 0zm2 0zm4 0zm9 0zm10 0zm-140 1zm2 0h2m2 0zm2 0zm2 0zm4 0zm6 0zm4 0zm2 0zm12 0h1m2 0h1m4 0h2m6 0zm2 0zm5 0h1m3 0zm3 0zm2 0zm12 0zm2 0zm2 0zm10 0zm10 0zm14 0zm9 0zm3 0zm19 0zm6 0zm5 0zm-172 1zm3 0zm2 0zm3 0zm2 0zm5 0zm6 0zm5 0h1m2 0zm9 0zm7 0zm3 0zm2 0h3m5 0h1m2 0zm3 0zm2 0zm5 0zm2 0zm3 0h1m4 0zm3 0zm5 0h1m2 0zm9 0zm4 0zm3 0zm4 0h1m7 0zm2 0zm2 0zm4 0zm3 0zm-123 1h1m6 0zm2 0h1m2 0zm3 0zm4 0h1m4 0zm2 0zm7 0zm2 0zm6 0zm6 0h3m3 0h1m4 0zm3 0h1m3 0h1m2 0zm2 0h1m2 0h1m4 0h2m2 0zm5 0zm4 0zm2 0zm3 0zm6 0zm3 0zm21 0zm2 0zm17 0zm-156 1zm12 0h1m2 0h2m2 0zm8 0zm7 0zm2 0h1m7 0zm3 0zm2 0zm5 0zm2 0zm2 0zm3 0zm2 0h1m6 0zm3 0zm2 0zm2 0h2m2 0h2m2 0h1m3 0zm2 0zm2 0zm2 0zm2 0zm11 0zm10 0h1m2 0zm4 0zm2 0zm7 0zm6 0zm2 0zm4 0zm-141 1zm4 0h1m3 0h1m2 0h2m2 0h1m2 0h3m2 0zm2 0zm6 0zm7 0h1m2 0zm3 0zm3 0zm2 0zm2 0h1m2 0h2m2 0zm2 0zm4 0zm3 0zm4 0zm2 0h1m3 0zm2 0zm3 0zm3 0zm2 0h1m2 0zm2 0zm2 0h2m2 0zm9 0zm12 0zm2 0h1m13 0zm10 0h1m5 0zm17 0zm-169 1zm7 0h2m2 0zm2 0h1m3 0h1m11 0h2m6 0zm2 0zm5 0zm4 0zm5 0zm3 0zm2 0zm2 0zm7 0zm2 0zm3 0zm8 0zm2 0h2m5 0zm2 0zm2 0h1m5 0zm7 0h1m8 0zm3 0zm2 0zm15 0zm7 0zm4 0zm10 0zm-161 1zm4 0zm6 0h2m5 0zm3 0zm2 0zm4 0zm6 0zm5 0h1m6 0zm4 0h2m3 0zm3 0zm2 0zm6 0zm2 0zm7 0zm3 0zm3 0zm3 0zm8 0zm2 0zm8 0zm3 0zm2 0zm4 0h1m2 0zm6 0zm4 0zm9 0zm2 0zm4 0zm10 0zm14 0zm-153 1zm9 0zm2 0zm2 0zm3 0zm2 0h2m2 0zm5 0h1m11 0zm2 0zm2 0zm2 0zm3 0zm2 0zm2 0h2m3 0zm8 0h2m3 0zm7 0zm5 0h3m8 0h2m4 0zm2 0h1m8 0zm2 0zm4 0zm21 0zm5 0zm34 0zm-184 1zm14 0h2m3 0zm3 0zm4 0zm2 0h2m5 0zm3 0zm6 0h1m8 0h1m3 0h1m3 0zm2 0h2m2 0zm2 0zm2 0zm5 0zm5 0h5m3 0h1m6 0h1m3 0zm13 0h1m30 0zm7 0zm18 0zm33 0zm-199 1h1m15 0zm2 0zm2 0zm5 0zm5 0zm5 0zm15 0h2m2 0zm3 0zm4 0h1m4 0zm3 0zm5 0zm7 0zm4 0h1m2 0zm6 0h1m12 0zm4 0zm2 0zm16 0zm5 0zm2 0zm2 0zm4 0h1m8 0zm-143 1h2m6 0zm2 0zm2 0zm3 0zm10 0zm5 0zm2 0zm3 0zm3 0zm2 0zm4 0h1m3 0h1m4 0zm2 0zm2 0zm2 0zm14 0h1m8 0zm4 0zm2 0h1m3 0zm5 0h1m16 0h1m2 0zm2 0zm3 0zm2 0zm19 0zm4 0zm6 0zm-162 1zm11 0zm3 0zm7 0h1m4 0zm2 0zm9 0zm3 0zm4 0zm4 0h1m10 0h1m3 0h1m4 0zm12 0zm7 0zm8 0zm3 0zm12 0zm3 0zm7 0zm13 0h1m5 0zm2 0zm7 0zm-146 1zm7 0h1m2 0h2m2 0h1m3 0zm3 0zm2 0zm2 0zm2 0h2m9 0zm2 0h1m2 0zm11 0zm4 0zm9 0zm7 0h2m2 0h3m2 0zm3 0zm3 0zm2 0zm4 0zm2 0zm4 0h1m2 0zm5 0zm4 0zm3 0zm5 0zm4 0zm4 0zm6 0zm5 0zm14 0zm14 0zm-157 1zm3 0h1m2 0zm3 0zm2 0h1m2 0zm5 0zm10 0h1m13 0zm6 0zm3 0zm6 0h1m2 0zm2 0h1m3 0h1m3 0zm3 0zm4 0h1m2 0h3m2 0h2m5 0zm3 0zm4 0h1m5 0zm6 0zm12 0zm2 0zm2 0zm-141 1zm13 0h1m10 0zm2 0zm18 0h1m12 0zm3 0h3m6 0zm15 0zm7 0zm3 0zm4 0zm4 0zm2 0zm3 0zm7 0h1m2 0zm23 0zm22 0zm19 0zm-182 1zm9 0zm5 0zm5 0h1m3 0zm3 0zm3 0zm2 0h2m3 0zm3 0zm4 0zm2 0zm17 0zm2 0zm3 0zm4 0h1m3 0h3m13 0zm4 0zm13 0zm5 0zm9 0h1m16 0zm-137 1zm8 0zm2 0zm8 0zm3 0zm2 0h1m8 0h1m11 0zm3 0zm7 0h4m4 0h2m4 0zm2 0zm6 0zm17 0zm5 0h1m2 0zm2 0h1m2 0zm10 0h2m5 0zm2 0h4m22 0zm6 0zm-158 1zm10 0zm2 0h1m5 0zm5 0h1m7 0zm13 0h5m4 0zm9 0h1m3 0zm2 0h1m2 0zm14 0zm8 0zm6 0h1m2 0zm3 0h2m7 0h1m4 0zm20 0zm-141 1zm18 0zm2 0zm2 0zm3 0h1m2 0zm5 0zm3 0zm3 0zm6 0h1m7 0h1m6 0zm2 0zm2 0h1m7 0zm6 0zm15 0zm4 0zm2 0zm2 0zm2 0h3m2 0zm3 0h1m2 0zm13 0zm2 0zm3 0zm7 0zm2 0zm2 0zm2 0zm8 0zm4 0zm-151 1zm4 0zm2 0zm4 0zm5 0h1m4 0zm6 0zm4 0zm2 0zm8 0zm9 0zm3 0h1m2 0zm2 0zm2 0h1m3 0h2m2 0zm21 0zm7 0zm3 0zm2 0zm5 0zm3 0zm5 0zm2 0zm3 0zm4 0zm3 0zm11 0zm22 0zm4 0h1m17 0zm-180 1zm7 0h1m2 0h1m7 0h2m3 0h3m3 0zm4 0zm2 0zm3 0zm5 0zm5 0zm2 0zm2 0zm4 0h1m5 0zm4 0zm3 0zm4 0zm2 0zm14 0zm6 0h1m2 0zm8 0zm3 0zm9 0zm3 0zm5 0h1m4 0zm8 0zm-136 1zm2 0h1m2 0zm4 0zm2 0zm5 0zm5 0zm2 0zm2 0zm2 0h1m7 0h1m2 0zm3 0h4m2 0zm5 0h1m10 0zm2 0zm3 0zm7 0zm8 0zm5 0zm3 0zm3 0zm6 0zm3 0zm2 0zm12 0zm2 0zm2 0h2m9 0zm9 0zm6 0zm4 0zm-150 1zm8 0zm7 0zm2 0h3m3 0zm9 0zm5 0zm4 0zm5 0h1m5 0zm2 0zm6 0zm2 0zm2 0h1m12 0zm7 0zm8 0zm3 0zm3 0h1m2 0zm5 0zm7 0zm21 0zm6 0zm4 0zm15 0zm-157 1zm11 0h1m3 0h1m2 0zm3 0h1m7 0h1m2 0zm3 0zm5 0h2m6 0h1m3 0zm11 0h2m12 0zm4 0zm3 0h1m4 0zm19 0zm4 0zm2 0zm5 0zm4 0zm4 0zm9 0zm3 0h1m28 0zm-178 1zm5 0zm5 0zm2 0h2m6 0zm2 0h1m6 0zm2 0zm2 0zm11 0h3m3 0zm5 0zm3 0zm10 0zm4 0zm3 0zm19 0zm7 0h1m5 0h2m2 0zm4 0zm8 0h3m21 0h1m-150 1zm3 0zm9 0zm2 0zm2 0h1m6 0zm2 0zm2 0zm3 0zm3 0zm2 0zm6 0h2m2 0zm4 0zm2 0zm4 0zm7 0zm3 0h1m2 0zm3 0zm2 0zm4 0zm2 0zm7 0zm4 0zm12 0zm5 0zm4 0zm4 0zm3 0h2m3 0zm3 0zm6 0h1m3 0zm6 0zm15 0zm-151 1zm6 0zm4 0zm3 0h1m6 0zm4 0zm2 0zm2 0zm9 0h1m2 0h1m3 0zm3 0h2m2 0h1m2 0zm2 0zm3 0h1m7 0zm2 0h1m15 0zm5 0h1m2 0zm3 0zm3 0zm2 0zm3 0zm2 0zm5 0zm3 0zm9 0zm2 0zm11 0zm24 0zm-156 1zm4 0zm7 0h1m5 0zm3 0zm2 0zm2 0zm2 0zm3 0zm2 0zm4 0zm6 0zm7 0zm2 0zm3 0zm5 0zm3 0zm4 0h1m2 0zm13 0zm8 0h1m4 0zm3 0zm2 0h1m3 0zm6 0zm11 0zm5 0zm11 0zm5 0zm13 0zm-150 1zm3 0zm3 0zm3 0zm3 0h1m3 0h1m5 0h2m10 0zm4 0zm4 0zm4 0h1m3 0zm3 0h2m3 0zm19 0zm4 0zm10 0zm2 0zm6 0zm8 0zm2 0zm3 0zm2 0zm2 0zm3 0zm3 0zm2 0zm-131 1zm6 0zm2 0h1m2 0zm5 0h2m3 0h1m2 0zm6 0zm3 0zm5 0h1m12 0zm2 0zm9 0zm7 0zm16 0zm7 0zm6 0zm3 0h1m8 0zm3 0h1m3 0zm21 0zm5 0zm10 0zm4 0zm-158 1zm4 0h1m6 0zm2 0zm3 0zm3 0zm6 0zm3 0h1m12 0zm2 0h1m4 0zm9 0h2m12 0zm18 0zm11 0h2m2 0zm4 0zm3 0zm2 0zm5 0zm7 0zm3 0zm5 0zm10 0zm2 0zm8 0zm-159 1zm9 0h1m5 0zm4 0h3m4 0zm2 0zm8 0zm2 0zm6 0zm6 0zm2 0h1m5 0zm2 0zm18 0zm26 0zm2 0zm4 0zm3 0zm4 0zm4 0h1m3 0zm4 0zm12 0zm8 0zm5 0zm3 0zm19 0zm-173 1zm6 0h1m10 0zm3 0h1m13 0zm5 0zm2 0zm7 0zm20 0zm33 0zm2 0h1m2 0zm5 0zm6 0h1m7 0zm4 0zm4 0zm8 0zm13 0zm13 0zm14 0zm-172 1zm4 0zm3 0zm2 0zm2 0zm6 0zm2 0zm7 0zm10 0h1m8 0zm3 0h1m4 0h1m32 0zm3 0h1m12 0zm7 0zm4 0zm2 0zm5 0zm3 0zm17 0zm-139 1h1m2 0zm2 0zm6 0zm2 0zm13 0zm11 0zm6 0h1m5 0zm40 0zm5 0h3m6 0h1m5 0h1m16 0zm2 0zm10 0zm25 0zm-174 1zm9 0h1m2 0h2m2 0zm2 0h1m3 0zm2 0zm2 0zm3 0zm2 0zm5 0zm2 0h1m8 0zm2 0zm2 0zm10 0zm3 0zm38 0h1m2 0h1m6 0zm5 0zm7 0zm6 0zm8 0h1m12 0zm4 0zm-144 1zm3 0zm6 0zm5 0zm2 0zm25 0zm3 0zm2 0zm2 0zm3 0h1m39 0h1m2 0zm7 0zm9 0zm8 0zm3 0h1m2 0h1m2 0zm5 0zm7 0zm19 0zm-158 1zm6 0h1m3 0h3m14 0zm11 0zm3 0h2m3 0zm2 0zm6 0zm4 0zm31 0zm9 0h1m5 0h2m2 0zm3 0zm2 0zm2 0zm4 0zm10 0zm7 0zm3 0zm26 0zm-168 1zm9 0h3m8 0zm3 0zm3 0zm4 0zm9 0zm7 0zm6 0h1m6 0h1m35 0zm3 0zm7 0zm8 0h1m3 0h1m2 0h1m4 0zm8 0zm-121 1h1m2 0zm2 0h1m3 0h1m2 0zm4 0zm2 0zm11 0zm4 0h1m5 0h1m2 0zm2 0zm3 0h1m34 0h3m3 0h1m8 0zm4 0zm17 0h1m4 0zm7 0zm2 0zm3 0zm2 0zm4 0zm11 0zm-170 1zm5 0zm4 0zm2 0zm3 0zm2 0zm4 0zm6 0zm3 0zm2 0zm2 0zm2 0zm2 0zm5 0h2m3 0zm3 0zm2 0zm2 0zm9 0zm37 0zm2 0zm11 0zm5 0zm2 0h2m6 0zm3 0h2m48 0zm17 0zm-183 1zm2 0zm2 0h1m2 0h1m2 0h2m2 0h1m7 0zm3 0zm4 0zm2 0h1m3 0h1m6 0zm2 0h1m2 0zm45 0zm8 0zm2 0zm9 0zm2 0zm7 0zm12 0zm2 0h1m7 0zm10 0zm-165 1zm7 0zm3 0zm2 0zm3 0h1m2 0zm7 0h3m3 0zm11 0zm6 0zm5 0h1m7 0zm41 0h2m2 0zm6 0zm9 0zm3 0zm3 0zm6 0zm3 0zm8 0zm21 0zm-166 1zm5 0h1m3 0zm3 0zm2 0zm5 0zm4 0h1m4 0zm2 0h2m4 0h2m2 0zm2 0zm7 0zm2 0zm3 0zm5 0h1m5 0zm33 0h1m3 0zm4 0h2m37 0zm26 0zm-175 1zm9 0zm7 0zm5 0zm3 0h1m4 0zm2 0zm6 0h1m3 0zm3 0zm2 0h1m5 0zm5 0zm4 0zm7 0zm28 0zm2 0zm7 0zm13 0zm2 0zm2 0zm4 0zm8 0zm5 0zm45 0zm-183 1zm8 0zm2 0zm9 0zm3 0h1m4 0h2m3 0zm3 0h1m2 0zm2 0zm15 0h4m4 0h2m31 0zm3 0h1m4 0h3m6 0zm3 0h1m8 0zm4 0h2m10 0zm8 0zm19 0zm2 0zm-169 1h1m7 0zm2 0zm2 0zm5 0h2m3 0zm3 0zm10 0h1m9 0zm7 0zm3 0zm6 0zm41 0zm2 0zm3 0h3m4 0zm2 0zm4 0h1m2 0zm2 0zm18 0h1m3 0h1m2 0zm18 0zm-158 1zm3 0zm5 0h3m2 0zm5 0zm2 0zm2 0zm6 0zm4 0zm5 0h2m5 0zm4 0h1m3 0zm35 0h1m3 0h1m5 0h1m4 0zm3 0zm6 0zm8 0zm15 0zm13 0zm3 0zm5 0zm4 0zm-163 1zm2 0h1m3 0zm2 0zm2 0zm3 0zm2 0zm3 0h2m3 0zm5 0zm3 0h1m2 0zm6 0zm3 0zm3 0zm2 0h2m4 0zm3 0zm34 0zm7 0zm4 0h1m8 0zm4 0zm2 0h1m8 0zm2 0zm7 0zm5 0h2m18 0zm36 0zm-200 1h2m4 0zm3 0zm11 0zm2 0h2m2 0zm4 0zm3 0h1m2 0zm3 0zm3 0h1m2 0h1m4 0h1m3 0zm3 0zm41 0h4m4 0zm2 0zm2 0zm3 0zm2 0zm6 0h1m14 0zm14 0zm-137 1h2m2 0h2m6 0zm2 0zm3 0zm3 0zm5 0zm5 0zm5 0zm3 0zm2 0zm2 0zm2 0h1m38 0zm2 0zm6 0h1m10 0zm20 0h1m21 0zm17 0zm-175 1zm4 0zm6 0h2m2 0zm6 0h2m3 0h1m5 0zm4 0zm11 0h1m2 0h2m2 0zm4 0h1m38 0zm4 0zm3 0zm4 0h1m2 0zm4 0zm12 0zm11 0zm22 0zm5 0zm3 0zm7 0zm-168 1zm2 0zm4 0zm3 0zm4 0zm6 0h1m10 0zm6 0zm2 0h1m2 0zm11 0h1m2 0zm35 0h3m2 0zm3 0zm4 0h1m2 0zm3 0zm13 0h1m2 0zm5 0zm15 0zm11 0zm8 0zm-170 1zm7 0zm4 0zm4 0zm2 0h2m2 0zm7 0h2m2 0zm7 0h1m8 0zm5 0zm3 0zm41 0h1m2 0zm4 0zm3 0zm3 0h1m2 0zm9 0zm18 0zm4 0zm4 0zm41 0zm-184 1zm2 0zm4 0h1m2 0zm6 0zm2 0zm2 0zm2 0zm2 0zm2 0zm6 0zm4 0zm6 0zm3 0h1m2 0zm3 0zm3 0h1m5 0zm33 0h1m4 0zm7 0zm6 0zm3 0h1m2 0zm6 0zm14 0zm3 0zm24 0zm-168 1zm4 0zm9 0h2m4 0zm2 0h1m3 0h1m3 0zm5 0zm2 0h3m2 0zm2 0zm2 0h1m3 0zm2 0zm3 0h2m4 0zm38 0zm2 0zm2 0zm3 0zm6 0zm28 0zm-136 1zm2 0zm5 0zm2 0zm13 0h2m5 0h1m2 0zm6 0h1m5 0zm5 0zm2 0zm2 0zm3 0zm38 0zm2 0h1m7 0zm3 0zm2 0zm8 0h1m5 0zm3 0zm12 0zm14 0zm7 0zm-158 1zm6 0zm4 0zm3 0zm3 0zm8 0h1m3 0zm2 0h1m3 0zm3 0zm3 0zm5 0zm7 0zm40 0zm3 0zm2 0zm10 0zm2 0zm2 0zm14 0zm11 0zm3 0zm13 0h1m-147 1zm2 0h1m4 0zm3 0zm4 0zm4 0zm4 0h1m2 0zm6 0zm3 0zm9 0zm2 0zm4 0zm37 0h1m2 0h2m4 0zm3 0zm6 0zm14 0zm13 0zm5 0zm3 0zm-149 1h1m6 0zm9 0zm2 0zm2 0zm2 0zm2 0zm8 0zm8 0zm2 0h1m5 0h1m5 0h1m2 0zm2 0zm39 0zm4 0zm3 0zm2 0zm3 0zm2 0zm3 0zm11 0zm3 0h2m23 0zm-152 1h1m2 0zm5 0h1m7 0zm2 0h1m3 0zm2 0zm2 0zm3 0h1m2 0h1m11 0h1m5 0zm3 0h1m40 0h3m4 0zm7 0zm2 0zm5 0zm11 0zm7 0zm-137 1zm4 0h1m8 0zm2 0h1m11 0h1m4 0zm8 0zm2 0zm2 0zm2 0zm2 0zm2 0zm2 0zm3 0h1m3 0zm2 0zm43 0h3m2 0h1m6 0zm8 0zm24 0zm23 0zm-162 1zm5 0h1m5 0zm6 0h1m3 0zm7 0zm4 0h1m2 0h1m5 0h2m8 0zm36 0zm4 0zm2 0zm4 0zm66 0h1m5 0zm6 0zm-167 1zm2 0h1m2 0h4m2 0zm4 0zm6 0zm2 0zm4 0h1m4 0zm2 0zm5 0zm43 0zm3 0zm2 0h1m4 0zm6 0h1m2 0zm7 0zm14 0zm24 0zm11 0zm-174 1zm9 0zm5 0zm3 0zm2 0zm9 0h2m7 0zm4 0zm5 0zm2 0zm2 0zm3 0zm2 0h1m5 0zm34 0zm8 0zm4 0zm2 0h2m7 0zm3 0zm12 0h1m2 0zm2 0zm9 0zm2 0zm23 0zm-165 1h1m2 0zm5 0zm3 0h1m2 0h2m2 0zm2 0h1m3 0zm3 0zm4 0zm3 0zm2 0zm3 0zm2 0zm3 0zm2 0h1m6 0zm35 0zm4 0zm3 0zm5 0zm4 0h1m8 0zm3 0zm30 0zm12 0zm-147 1zm6 0h1m3 0zm5 0h1m3 0zm2 0zm4 0zm6 0h1m4 0zm5 0zm44 0zm4 0zm3 0zm62 0zm19 0zm-186 1zm4 0zm3 0zm6 0h1m2 0zm2 0h1m4 0zm3 0h1m2 0zm3 0zm3 0zm2 0zm4 0zm3 0zm2 0h1m2 0zm2 0zm41 0zm2 0h1m2 0zm6 0zm3 0zm2 0zm16 0zm2 0zm8 0zm4 0zm18 0zm9 0zm-159 1zm2 0zm5 0h1m5 0zm2 0zm3 0h1m4 0zm3 0zm3 0zm3 0zm2 0zm4 0zm2 0zm2 0h1m41 0zm3 0zm2 0zm4 0h1m3 0zm2 0h1m4 0zm4 0h1m20 0zm12 0zm9 0zm6 0zm3 0zm-164 1zm14 0zm2 0zm3 0h1m2 0zm4 0h1m2 0zm2 0zm3 0zm3 0zm3 0zm2 0h2m7 0zm41 0zm4 0zm19 0zm15 0zm8 0zm19 0zm-143 1zm4 0zm4 0zm2 0zm3 0zm5 0h1m5 0h1m2 0zm7 0h1m3 0zm39 0zm8 0zm3 0zm4 0zm3 0zm4 0zm24 0zm26 0zm17 0zm-183 1zm4 0zm2 0zm8 0h1m5 0zm4 0zm2 0h3m3 0zm2 0zm4 0zm2 0h1m3 0zm5 0zm2 0h1m3 0zm36 0zm3 0zm9 0zm12 0zm8 0zm8 0zm9 0zm14 0zm10 0zm-150 1zm2 0zm3 0h3m8 0h1m2 0h2m3 0zm3 0zm3 0h1m2 0zm2 0zm3 0zm39 0zm7 0zm4 0zm3 0h1m5 0zm11 0zm11 0zm6 0zm2 0zm13 0zm43 0zm-188 1zm7 0h1m4 0h1m2 0h1m7 0zm5 0zm11 0h1m2 0h1m2 0zm39 0zm8 0zm4 0zm8 0zm-99 1zm5 0zm8 0h1m3 0zm2 0h1m2 0h1m2 0h2m6 0zm4 0h1m38 0zm2 0zm28 0zm6 0zm9 0zm10 0zm17 0zm11 0zm-168 1zm5 0h1m4 0zm5 0h1m3 0h1m2 0zm3 0zm5 0h1m6 0zm2 0h3m2 0zm3 0zm34 0zm5 0zm4 0zm2 0zm2 0zm7 0zm22 0zm49 0zm-168 1zm6 0zm3 0h1m3 0zm2 0zm9 0zm2 0h1m8 0h1m2 0zm3 0zm4 0zm34 0zm3 0zm2 0h1m2 0zm2 0zm8 0zm3 0zm2 0zm6 0zm21 0zm3 0zm7 0zm-148 1zm6 0zm7 0zm3 0h3m3 0h2m2 0h1m2 0zm2 0h1m3 0zm3 0zm3 0h1m6 0zm3 0h1m2 0zm36 0h4m4 0zm2 0zm6 0zm17 0zm10 0zm8 0zm-131 1h1m2 0zm7 0zm5 0h1m6 0h2m2 0zm6 0zm2 0zm3 0zm3 0zm2 0zm34 0zm3 0zm2 0zm12 0zm6 0zm7 0zm21 0zm4 0zm-144 1zm3 0zm8 0zm4 0zm3 0zm2 0h1m2 0h3m5 0zm2 0zm3 0zm2 0zm2 0zm6 0h1m6 0zm5 0zm35 0zm3 0h1m2 0zm2 0zm74 0zm-161 1zm4 0h1m2 0zm11 0zm4 0h1m2 0zm4 0zm2 0zm2 0h1m2 0h2m2 0zm36 0zm2 0zm2 0zm28 0zm25 0zm5 0zm-145 1zm5 0zm4 0zm3 0zm2 0zm4 0zm2 0zm2 0h1m4 0zm4 0h1m2 0zm2 0h3m5 0zm42 0zm3 0zm2 0zm5 0h1m-104 1zm11 0h3m4 0zm2 0h1m5 0zm2 0h1m2 0zm3 0zm4 0zm3 0zm2 0zm6 0zm2 0zm2 0h1m41 0zm4 0zm29 0zm-122 1zm3 0zm2 0h1m3 0h1m2 0zm7 0zm5 0zm2 0zm3 0h4m4 0zm6 0zm3 0zm36 0zm2 0zm2 0h1m10 0zm62 0zm-151 1zm4 0h1m3 0h2m7 0h1m10 0h3m9 0zm38 0zm2 0h1m10 0zm24 0zm17 0zm-134 1zm2 0zm4 0h1m7 0h1m5 0h2m2 0zm2 0h1m2 0zm2 0zm2 0zm2 0zm5 0zm4 0zm37 0h2m9 0zm16 0zm9 0zm-123 1zm2 0zm6 0zm5 0zm3 0zm15 0h1m4 0zm3 0zm3 0zm2 0h2m35 0h1m3 0zm3 0zm2 0h1m-76 1zm6 0zm2 0zm3 0zm3 0h2m2 0zm4 0zm4 0h2m2 0zm40 0zm3 0zm5 0zm-85 1zm3 0h1m3 0zm2 0h2m2 0h1m4 0h1m2 0zm4 0h1m2 0zm2 0zm3 0zm2 0zm2 0zm5 0zm30 0zm2 0zm3 0h1m2 0zm19 0zm3 0zm13 0zm-114 1zm3 0h1m4 0h2m4 0zm2 0zm2 0zm2 0zm4 0zm4 0zm2 0h2m2 0zm2 0h1m37 0zm12 0zm28 0zm-130 1zm7 0zm11 0zm3 0zm7 0zm2 0zm2 0h1m6 0h1m2 0zm3 0h1m3 0h1m4 0zm2 0zm31 0zm6 0zm8 0zm-89 1zm3 0h1m2 0zm3 0zm2 0zm2 0zm4 0zm2 0zm5 0zm2 0zm2 0zm6 0h1m6 0h1m2 0zm31 0zm2 0zm2 0zm3 0zm6 0zm73 0zm-173 1zm4 0h1m5 0zm4 0h1m3 0zm3 0h1m2 0h2m2 0zm2 0zm4 0h1m5 0zm3 0zm6 0zm4 0zm30 0zm6 0h1m2 0zm7 0zm9 0zm-97 1zm3 0zm4 0zm2 0h1m4 0zm4 0h1m5 0h1m4 0h1m2 0h2m2 0zm2 0zm2 0zm4 0zm28 0zm3 0zm4 0h1m10 0h1m56 0zm-155 1zm6 0zm7 0zm2 0h1m2 0zm2 0h1m3 0zm5 0zm2 0zm3 0zm3 0zm3 0zm5 0zm2 0h3m2 0h1m29 0h2m5 0zm5 0zm-84 1h1m7 0h2m6 0h2m7 0h2m6 0zm5 0zm2 0zm32 0zm5 0h1m2 0zm2 0zm76 0zm-162 1zm16 0zm7 0zm3 0zm2 0zm2 0h1m2 0zm2 0zm2 0zm2 0zm4 0zm2 0zm6 0zm28 0h1m3 0zm6 0zm-91 1zm7 0zm2 0h1m2 0zm5 0h1m2 0zm2 0h4m5 0zm9 0zm2 0h2m2 0zm3 0zm29 0h1m3 0h1m132 0zm-213 1zm2 0zm3 0zm3 0h1m2 0zm2 0h2m4 0h2m2 0zm4 0zm2 0h2m2 0h2m3 0zm7 0zm4 0zm26 0h1m3 0h1m3 0zm-81 1zm6 0zm2 0zm4 0zm4 0h1m3 0zm4 0zm5 0zm4 0h1m2 0h1m2 0h1m3 0zm-51 1zm15 0zm2 0h4m3 0h1m2 0h1m2 0zm4 0h5m3 0zm5 0zm34 0zm3 0zm15 0zm-96 1zm3 0h1m10 0zm3 0zm17 0h1m7 0h1m37 0zm-77 1zm2 0h2m5 0zm2 0zm7 0zm3 0h1m3 0zm3 0zm3 0zm9 0h2m2 0zm32 0h1m5 0h1m-87 1zm5 0h1m3 0h1m3 0zm5 0zm13 0zm4 0zm5 0h2m2 0zm31 0zm4 0h1m2 0zm11 0zm-96 1zm8 0zm2 0zm5 0h1m5 0zm9 0h1m2 0zm7 0zm6 0h1m2 0zm29 0h3m12 0zm-90 1zm12 0zm2 0h2m9 0zm10 0zm43 0h1m7 0zm11 0zm-99 1zm11 0zm4 0zm6 0zm15 0zm3 0zm2 0zm26 0zm14 0h2m-82 1zm8 0h1m5 0zm4 0h2m18 0zm34 0zm5 0h1m2 0h1m2 0zm8 0zm2 0zm-95 1h1m3 0zm4 0zm2 0h1m2 0zm2 0zm2 0zm4 0zm19 0h1m31 0zm8 0h1m-80 1h1m4 0zm5 0zm6 0zm3 0h1m2 0h1m16 0zm2 0zm37 0h1m8 0zm-81 1zm4 0zm5 0h1m2 0zm22 0zm33 0h1m3 0zm8 0zm2 0h2m3 0zm-85 1zm6 0zm8 0h1m14 0zm36 0h3m2 0h1m5 0zm6 0zm-89 1zm6 0zm3 0h3m64 0h1m6 0zm11 0zm5 0zm-93 1zm3 0h1m5 0zm55 0h2m2 0zm5 0h2m8 0zm12 0zm-102 1zm5 0zm3 0zm3 0zm2 0h1m59 0zm4 0zm2 0zm3 0zm-83 1zm8 0zm3 0zm3 0zm6 0zm53 0h1m3 0h1m2 0zm5 0h1m8 0zm-94 1zm6 0h2m2 0zm11 0zm48 0zm2 0zm3 0zm2 0h1m3 0h1m6 0zm-86 1h1m3 0zm2 0h1m2 0zm58 0zm7 0h2m3 0zm4 0zm-84 1h1m3 0zm2 0zm2 0zm2 0zm7 0zm61 0zm17 0zm21 0zm-116 1zm12 0zm61 0zm2 0zm4 0zm5 0zm-83 1zm2 0zm2 0zm4 0zm69 0zm9 0zm-82 1zm3 0h2m61 0h1m3 0zm4 0zm6 0zm-83 1zm68 0h1m3 0zm4 0zm3 0zm21 0zm-96 1h2m7 0zm53 0h1m3 0h1m3 0h1m-77 1zm6 0h2m4 0zm3 0zm56 0h1m2 0zm6 0zm94 0zm-174 1zm4 0zm2 0zm8 0zm55 0h2m2 0zm-72 1zm5 0zm3 0h1m3 0zm57 0zm5 0zm8 0h1m-79 1h1m9 0zm60 0zm-75 1zm3 0h2m6 0zm60 0zm2 0h1m-73 1h1m2 0zm3 0h1m60 0h5m-73 1h2m66 0h1m9 0zm11 0zm65 0zm-149 1zm61 0h2m2 0h1m7 0h1m-72 1zm58 0h1m5 0zm3 0zm8 0zm5 0zm-84 1zm2 0zm3 0zm65 0zm10 0zm-80 1zm6 0h1m54 0zm4 0zm2 0h1m3 0zm2 0zm-69 1zm5 0zm54 0h2m6 0zm46 0zm-119 1zm3 0zm2 0zm60 0zm3 0zm7 0h1m3 0zm-78 1zm3 0zm2 0h1m62 0zm8 0zm2 0zm-76 1zm2 0zm2 0zm8 0zm51 0zm10 0zm-15 1zm7 0zm6 0zm6 0zm-77 1zm3 0h1m52 0zm30 0zm-85 1zm67 0zm3 0zm-72 1zm2 0zm57 0zm3 0h1m7 0zm5 0zm6 0zm-80 1h2m4 0zm50 0h1m9 0zm11 0zm-79 1zm3 0zm9 0zm44 0zm2 0zm7 0zm2 0zm4 0zm4 0zm-19 1zm4 0zm4 0zm3 0zm81 0zm-147 1zm10 0zm3 0zm40 0h2m6 0zm4 0h1m2 0zm2 0zm8 0zm-81 1h1m13 0h1m40 0zm5 0h1m11 0zm-69 1zm14 0h1m38 0h1m4 0h1m6 0h1m-70 1zm4 0zm9 0h1m2 0zm2 0zm39 0zm2 0zm3 0zm-61 1zm3 0h1m10 0h2m36 0h1m2 0h3m-53 1zm11 0zm2 0zm11 0zm26 0zm5 0zm-57 1zm10 0h1m12 0zm28 0zm2 0zm7 0zm-63 1zm4 0h1m7 0h1m4 0zm5 0zm28 0zm11 0zm15 0zm-77 1zm11 0zm8 0zm2 0h1m28 0zm3 0zm4 0zm2 0zm7 0zm16 0zm-80 1zm2 0zm8 0zm2 0h1m37 0zm2 0zm4 0zm125 0zm-180 1zm3 0zm13 0h1m2 0h1m12 0zm12 0zm5 0zm2 0zm6 0zm8 0zm2 0zm-69 1h1m6 0zm4 0zm2 0zm2 0zm6 0h3m3 0zm7 0zm2 0zm6 0h1m2 0zm6 0h1m7 0zm3 0zm-59 1zm5 0zm3 0zm2 0zm3 0h1m2 0zm2 0h2m5 0zm10 0zm4 0zm3 0zm5 0zm-49 1h1m11 0zm2 0zm3 0h1m7 0zm2 0zm12 0zm6 0zm22 0zm-65 1h2m3 0zm2 0zm2 0zm2 0h1m2 0zm3 0h1m2 0zm3 0zm2 0h1m2 0zm5 0zm2 0zm3 0h2m2 0h1m-43 1zm9 0h1m6 0zm2 0zm2 0zm2 0zm4 0zm3 0h1m3 0h3m2 0zm2 0zm3 0zm5 0zm66 0zm-115 1zm10 0zm2 0zm2 0h1m8 0zm3 0zm4 0zm5 0zm2 0zm4 0zm3 0zm8 0zm2 0zm-57 1h1m2 0zm10 0h1m2 0zm3 0zm4 0zm3 0h1m2 0h1m4 0zm2 0h1m3 0zm3 0h3m10 0zm-43 1h1m4 0h1m10 0zm4 0h1m4 0zm10 0zm-47 1zm10 0h1m3 0zm4 0h2m2 0zm2 0h2m4 0h1m3 0zm3 0h1m13 0zm-41 1h1m5 0zm6 0zm10 0zm4 0zm3 0h1m2 0h1m-42 1zm8 0zm12 0h2m4 0zm5 0zm3 0zm3 0zm2 0zm16 0h1m-56 1zm8 0zm6 0h2m6 0zm3 0zm5 0zm14 0zm2 0zm12 0zm-56 1zm2 0h2m3 0zm2 0zm2 0h1m7 0h1m2 0zm38 0zm-61 1zm2 0zm4 0h2m2 0h1m7 0h1m10 0zm6 0zm14 0zm3 0zm-54 1h1m3 0zm3 0h2m2 0zm2 0zm4 0zm2 0h1m3 0zm2 0h1m2 0zm3 0zm23 0zm9 0zm-57 1h1m6 0zm9 0zm19 0zm4 0zm-36 1zm5 0zm2 0zm3 0zm4 0zm8 0zm6 0zm8 0zm20 0zm-57 1zm6 0zm20 0zm8 0zm5 0zm2 0zm13 0zm-54 1zm6 0zm6 0zm4 0h1m3 0zm3 0zm7 0zm10 0zm-42 1zm3 0zm2 0zm15 0zm10 0zm5 0zm3 0zm-37 1zm2 0zm3 0zm18 0zm2 0zm13 0zm-36 1zm6 0h1m9 0zm2 0zm8 0zm-29 1zm2 0zm4 0zm13 0zm10 0zm-28 1zm13 0zm17 0zm5 0zm6 0zm-4 1zm7 0zm-46 1zm14 0zm7 0zm37 0z"/><path stroke="#1e32ff" stroke-width="1.05" d="M159 0zm12 0zm-68 1zm2 0h1m3 0h1m2 0h2m6 0zm2 0h1m4 0zm3 0zm3 0zm13 0h1m6 0zm7 0zm8 0zm4 0zm4 0zm4 0zm7 0zm2 0zm9 0zm17 0zm3 0zm11 0zm19 0zm3 0zm-148 1h2m4 0zm2 0zm2 0zm3 0zm8 0h5m8 0h2m4 0zm7 0zm8 0zm9 0zm12 0zm32 0zm5 0zm10 0h2m14 0zm8 0h1m-96 1zm-111 1zm3 0zm0 1zm107 9zm-92 1zm103 0zm4 2zm-109 3zm-19 3zm2 0zm115 0zm-116 1zm2 0zm111 0zm-121 2zm123 0zm2 0zm8 0zm-13 2zm-119 1zm20 1h1m11 0zm88 0zm-99 1h1m98 0zm-109 1zm3 0zm9 0h1m96 0zm-123 1zm17 0zm6 0zm113 0zm-127 1h1m7 0zm14 0zm104 0zm-129 1zm8 0zm9 0zm2 0zm107 0zm3 0h1m-144 1zm15 0zm2 0zm2 0zm3 0zm8 0zm108 0zm4 0zm-124 1zm15 0h1m6 0h1m6 0zm-29 1zm7 0zm4 0h1m2 0zm14 0zm83 0zm5 0zm-110 1zm6 0zm13 0zm2 0h1m87 0h1m-116 1zm11 0zm7 0zm2 0zm13 0zm82 0zm-114 1zm2 0zm6 0zm14 0zm3 0zm4 0zm2 0zm84 0zm-117 1h2m7 0zm2 0zm8 0zm10 0zm3 0h1m-33 1zm3 0zm6 0zm7 0h2m2 0zm2 0zm6 0h1m6 0zm9 0zm-59 1zm5 0zm2 0zm6 0zm6 0zm2 0zm2 0zm2 0zm8 0h1m25 0zm71 0zm-120 1zm11 0zm13 0h1m-27 1h1m8 0zm6 0zm26 0zm2 0zm7 0zm54 0zm-103 1h1m18 0zm2 0zm9 0h1m10 0zm3 0h1m15 0zm57 0zm-106 1zm4 0zm4 0zm5 0h1m2 0zm8 0zm9 0zm18 0zm-48 1zm3 0zm3 0h1m9 0zm6 0zm22 0zm-66 1zm2 0zm5 0zm3 0h1m14 0zm12 0zm5 0zm2 0h1m-44 1h1m6 0zm15 0zm13 0zm6 0h1m-40 1zm19 0zm4 0zm9 0zm2 0zm7 0zm88 0h1m-130 1h1m2 0zm2 0zm7 0zm8 0zm3 0zm16 0h1m-50 1zm11 0h1m10 0h1m2 0h2m3 0h1m12 0zm10 0zm11 0zm7 0zm-59 1zm9 0zm4 0h1m14 0h1m2 0zm8 0h1m-31 1zm10 0zm2 0zm2 0h1m5 0zm-29 1zm4 0zm3 0h2m2 0zm2 0h1m4 0zm2 0zm2 0zm3 0zm3 0zm5 0h2m-38 1zm4 0zm2 0h1m4 0zm6 0zm7 0zm5 0zm14 0zm9 0zm-36 1zm3 0zm9 0zm2 0zm6 0zm2 0zm5 0zm-33 1zm3 0zm14 0zm7 0zm2 0zm5 0zm3 0zm-44 1h1m13 0zm6 0zm2 0h2m5 0zm3 0zm4 0h2m4 0h1m-44 1zm14 0zm24 0zm7 0h2m16 0zm5 0zm-65 1zm8 0zm4 0zm6 0h1m7 0zm3 0zm31 0zm63 0zm-117 1zm2 0h2m2 0zm4 0zm5 0zm3 0zm57 0zm-80 1zm12 0zm2 0zm5 0h1m4 0zm16 0zm11 0zm-50 1zm6 0h1m14 0zm17 0zm-34 1h4m4 0h1m3 0zm13 0zm11 0zm2 0zm-39 1zm3 0h1m11 0zm3 0zm5 0zm2 0zm13 0zm24 0zm-64 1zm2 0zm3 0zm2 0zm10 0zm10 0zm43 0zm-55 1zm2 0zm3 0h1m42 0zm4 0zm-70 1zm2 0zm3 0zm7 0zm2 0zm9 0h1m4 0zm5 0zm5 0zm42 0zm-79 1zm2 0zm3 0zm7 0zm19 0h1m10 0zm3 0zm-45 1zm12 0h1m5 0h1m2 0zm5 0zm11 0zm10 0zm25 0zm-62 1zm5 0zm6 0zm2 0zm50 0h1m-65 1zm3 0h1m9 0zm4 0zm14 0zm3 0zm34 0zm-63 1zm11 0zm2 0zm5 0zm15 0zm23 0zm-67 1zm9 0zm8 0zm3 0h1m9 0zm7 0zm3 0h1m7 0zm23 0zm2 0zm-78 1zm6 0zm9 0zm2 0zm3 0h2m13 0h1m8 0h1m16 0zm16 0zm-54 1zm19 0zm3 0zm9 0zm15 0h1m-63 1zm5 0zm12 0zm10 0h1m17 0zm-57 1zm12 0zm4 0zm4 0h1m7 0h1m10 0zm14 0h1m2 0zm11 0zm-57 1h1m7 0zm6 0zm6 0zm2 0zm25 0zm2 0zm-50 1zm2 0zm5 0zm4 0zm7 0zm2 0zm3 0zm21 0zm3 0zm2 0zm3 0zm2 0zm11 0h1m3 0zm-72 1zm9 0h1m10 0zm3 0zm27 0zm-51 1zm8 0zm6 0zm7 0zm2 0zm6 0zm3 0zm6 0zm7 0zm7 0zm8 0zm2 0zm18 0h1m-82 1zm9 0h1m4 0zm12 0zm3 0zm4 0zm11 0zm4 0zm7 0h2m4 0zm3 0zm14 0zm3 0zm2 0zm-88 1zm24 0zm4 0zm3 0zm2 0zm4 0zm2 0zm27 0zm8 0zm8 0zm-82 1zm11 0h1m6 0zm2 0zm12 0zm3 0zm2 0zm30 0zm8 0zm4 0zm-71 1h2m10 0zm4 0h1m8 0zm6 0zm19 0zm12 0zm2 0zm7 0h2m-66 1zm3 0zm3 0zm17 0zm23 0zm18 0zm-80 1h1m11 0zm4 0zm42 0zm3 0h1m3 0zm7 0zm6 0zm3 0h1m-82 1h1m14 0zm28 0zm6 0zm2 0zm5 0zm16 0zm8 0zm-72 1h1m11 0zm3 0h2m5 0zm10 0zm7 0zm3 0zm10 0zm5 0zm2 0zm8 0zm5 0zm-60 1h1m5 0zm4 0zm6 0zm4 0zm24 0zm2 0zm15 0zm-64 1zm10 0h1m3 0zm9 0h1m9 0zm4 0zm16 0zm11 0zm-43 1zm3 0zm10 0zm3 0h1m3 0zm18 0zm4 0zm3 0zm-72 1zm10 0zm17 0zm2 0zm25 0h2m8 0zm3 0zm2 0zm8 0zm-81 1zm4 0zm8 0zm8 0zm6 0zm5 0zm26 0zm13 0zm-70 1zm3 0zm7 0zm8 0h1m3 0zm3 0zm5 0zm15 0zm3 0zm4 0zm2 0zm8 0zm2 0h1m5 0zm11 0zm-67 1zm11 0zm9 0zm7 0zm7 0zm3 0zm3 0zm21 0h2m-85 1zm15 0zm11 0zm12 0zm2 0zm9 0zm9 0zm20 0zm5 0zm4 0zm6 0zm-78 1zm8 0zm3 0h1m22 0zm3 0h1m2 0h1m2 0zm25 0zm4 0zm-73 1zm4 0zm4 0h1m5 0h3m8 0zm3 0zm6 0h3m6 0h2m10 0zm10 0h1m3 0zm-69 1zm8 0h1m6 0zm2 0zm9 0zm3 0zm14 0zm2 0zm24 0h1m-71 1zm3 0h2m7 0zm3 0zm9 0zm4 0h1m9 0zm3 0zm23 0zm12 0zm-75 1zm5 0zm7 0h1m3 0h1m6 0h1m3 0h2m6 0h2m4 0zm2 0zm20 0zm2 0zm2 0zm8 0zm-77 1zm5 0h2m7 0zm9 0zm7 0zm6 0zm2 0zm9 0zm3 0zm15 0zm7 0h1m-72 1zm2 0zm8 0zm13 0zm14 0zm2 0zm4 0zm2 0zm4 0zm3 0zm11 0zm6 0zm2 0h1m4 0zm-85 1zm8 0zm4 0zm3 0h1m4 0zm2 0zm5 0zm4 0h1m9 0zm19 0zm13 0zm3 0zm9 0zm-72 1h1m2 0zm5 0zm8 0zm5 0zm9 0zm2 0h1m5 0zm6 0zm20 0zm6 0zm-78 1zm9 0zm4 0zm4 0h1m8 0zm11 0zm2 0zm36 0zm-73 1zm10 0zm6 0zm13 0zm2 0zm5 0zm39 0zm2 0zm-60 1zm7 0zm7 0zm6 0zm3 0zm5 0zm25 0h2m-80 1zm25 0zm4 0zm8 0h1m6 0zm2 0zm4 0zm22 0zm7 0zm3 0zm-58 1zm18 0h1m4 0zm29 0zm-63 1zm2 0h1m7 0zm8 0h1m11 0zm2 0zm2 0zm33 0h3m-62 1zm3 0zm10 0zm8 0zm7 0h1m-33 1zm5 0h1m2 0zm11 0zm6 0zm31 0zm5 0h2m3 0zm-66 1zm2 0zm4 0h1m2 0h1m17 0zm2 0zm31 0zm2 0zm4 0zm-78 1zm8 0zm17 0zm44 0zm7 0zm3 0zm-78 1zm8 0zm11 0h1m17 0h1m33 0zm3 0zm2 0zm-69 1zm12 0zm2 0zm18 0h1m2 0zm30 0zm2 0zm-64 1zm2 0zm3 0zm2 0zm3 0zm3 0zm9 0h2m-42 1zm6 0zm4 0zm4 0h1m6 0zm2 0zm18 0h1m4 0zm3 0zm30 0zm-80 1zm17 0zm2 0zm4 0zm5 0h1m4 0zm15 0zm-35 1zm7 0zm5 0zm14 0h1m3 0zm42 0zm-38 1zm38 0zm-68 2zm8 0zm11 0zm8 0zm3 0zm3 0zm-28 1zm18 0zm-43 1zm14 0zm4 0h2m10 0zm53 0zm2 0zm-77 1zm17 0zm6 0zm9 0zm3 0zm3 0zm4 0zm-43 1h1m8 0zm2 0zm4 0h2m17 0zm44 0h1m-78 1h1m10 0h1m6 0h1m21 0zm33 0zm-60 1h1m2 0zm16 0zm4 0zm3 0zm43 0zm-82 1zm75 0zm-76 1zm15 0zm9 0h1m16 0zm29 0zm8 0zm-78 1zm25 0zm7 0h1m2 0h3m39 0zm-77 1zm18 0zm9 0h1m13 0zm-26 1zm13 0zm9 0h1m39 0zm-74 1zm15 0zm25 0zm32 0zm-47 1zm2 0zm9 0zm3 0zm32 0zm-58 1zm4 0zm9 0zm14 0zm-28 1zm14 0zm8 0zm40 1zm-56 1zm4 0h2m42 0zm3 0zm-66 1zm14 0zm6 0zm7 0h1m5 0zm32 0zm-57 1zm8 0h1m9 0zm8 0zm33 0zm-51 1zm4 0zm3 0zm4 0zm-29 1zm10 0zm6 0zm8 0zm45 0zm-59 1zm7 0h2m6 0h1m6 0zm33 0zm2 1zm-39 1zm4 0h1m2 0zm-11 1zm41 0h1m-66 1zm2 0zm2 0h1m21 0zm6 0zm33 0zm-61 1zm8 0zm20 0zm29 0zm5 0zm-62 1zm12 0zm8 0zm9 0zm28 0zm4 0h1m-59 1zm16 0zm6 0zm2 0h2m33 0zm-50 1zm4 0zm10 0zm3 0zm-12 1zm10 0zm4 0zm-4 1zm3 0zm27 0zm-66 1zm42 0zm-38 1zm34 0zm34 0zm-65 1zm6 0zm3 0zm3 0zm47 0zm-64 1zm5 0zm5 0zm25 0zm24 0zm4 0zm-52 1zm3 0zm6 0zm19 0zm-27 1zm2 0zm11 0zm9 0zm3 0zm3 0zm22 0zm-51 1h1m21 0zm2 0zm27 0zm-61 1zm11 0zm25 0h1m11 0zm-52 1zm14 0zm2 0zm14 0zm32 0zm5 0zm-49 1zm18 0zm2 0zm2 0h1m20 0zm-44 1zm8 0zm2 0zm8 0h3m2 0zm19 0zm3 0zm-55 1zm4 0h2m2 0zm2 0zm10 0zm6 0h1m7 0zm20 0zm-55 1h1m3 0zm3 0zm3 0zm4 0zm4 0zm2 0zm13 0zm-33 1zm2 0zm10 0h1m3 0zm2 0zm38 0h2m-70 1zm11 0h1m2 0zm7 0zm5 0zm2 0zm2 0zm4 0zm7 0zm-30 1zm4 0zm20 0zm2 0zm2 0zm3 0zm16 0zm10 0h1m-60 1zm4 0h1m4 0zm3 0zm9 0zm32 0zm-38 1h1m7 0zm28 0zm6 0zm-53 1zm8 0zm10 0h1m2 0zm32 0zm-39 1zm10 0zm28 0zm2 0zm-66 1zm10 0zm3 0zm21 0zm2 0h1m23 0zm-61 1zm6 0zm2 0h1m19 0zm2 0zm30 0h1m-58 1zm3 0zm21 0zm2 0h2m-28 1zm6 0h2m9 0zm-13 1h1m1 1zm17 0zm-26 1zm61 0zm-62 1zm7 0h3m49 0zm-59 1zm60 0zm-56 1zm2 0zm2 0h1m49 0zm2 0h1m-60 1h1m6 0zm3 0zm48 0h1m-60 1zm57 0zm-55 1zm4 0h1m-9 1zm7 0zm54 0zm-60 1zm6 0zm-8 1zm2 0zm3 0zm3 0zm3 0zm-11 1zm9 0zm52 0zm-59 1zm2 0zm2 0zm50 0zm-56 1zm7 0h3m47 0zm2 0zm-54 1zm-1 1zm3 0zm5 0zm50 0zm-5 1zm-47 1zm46 0zm-46 1zm-7 1zm5 0zm4 0zm-12 1zm-1 1zm2 0h1m4 0zm48 0h2m-50 1zm48 0zm-55 1zm2 0zm52 0zm3 0zm-56 1zm2 1zm-2 2h1m50 0zm-52 1h1m7 0zm3 0zm-12 1zm3 0zm7 0zm-11 1zm5 0zm3 0zm4 0h1m8 0zm-17 1zm5 0zm5 0zm-15 1zm14 0zm4 0zm-18 1zm49 0zm-48 1zm4 0zm5 0zm2 0zm11 0zm-22 1h1m12 0h1m8 0zm20 1zm3 0zm-45 1zm12 0zm3 0zm-9 1zm7 0h1m5 0h2m-11 1zm4 0zm-14 1zm12 0h2m3 0h1m2 0h2m2 0h1m-20 1zm5 0h2m7 0zm-21 1zm5 0h1m9 0zm12 0h1m8 0zm9 0h2m-40 1zm16 0h1m13 0zm7 0zm-41 1zm3 0zm15 0zm10 0h1m10 0zm-23 1zm2 0h1m19 0zm-40 1zm31 0zm-31 1zm4 0zm-7 1zm2 0zm11 0zm-13 1h1m0 1zm7 0zm3 0zm-5 1zm2 0zm-5 1h1m2 0zm0 1zm-3 1zm-3 3h1m-3 2zm7 0z"/><path stroke="#153bff" d="M107 1zm14 0zm3 0h2m17 0h1m4 0zm3 0zm4 0h1m5 0zm3 0zm2 0h1m12 0zm9 0zm23 0h2m12 0zm5 0zm11 0h1m-135 1h1m4 0zm18 0zm15 0h1m2 0h1m6 0zm2 0zm4 0h2m8 0zm3 0zm38 0zm2 0zm29 0zm-211 1zm130 0zm-123 1zm15 0zm4 0zm-17 20zm115 1zm-99 5h1m96 0zm-100 1h1m-7 1zm6 0zm-6 1zm-3 2zm2 0zm0 1zm3 0zm-3 1zm8 0zm-7 1zm7 0zm13 0h1m-11 1h1m-4 1zm15 0zm-18 1h1m20 0zm-29 1zm9 0zm2 0h1m6 0h1m6 0zm2 0zm-29 1zm3 0zm3 0h1m2 0zm3 0h2m-8 1zm2 0zm5 0zm-23 1zm2 0zm41 0zm-42 1zm3 0zm25 0zm-29 1zm12 0zm23 0zm-11 1zm15 0zm23 0h1m-45 1zm8 0h1m13 0zm23 0zm-67 1zm12 0zm14 0zm2 0h1m13 0zm-31 1zm12 0zm2 0zm28 0zm-47 1h1m3 0zm12 0h2m8 0zm3 0zm7 0zm2 0zm-35 1zm15 0zm8 0zm3 0zm21 0zm78 0zm-102 1zm2 0zm6 0zm4 0zm-32 2zm4 0zm2 0h1m5 0zm5 0h3m6 0zm-10 1zm5 0zm-20 1h1m14 0zm4 0zm5 0zm-25 1h1m5 0zm10 0zm4 0h1m-21 1zm5 0zm2 0zm5 0zm7 0zm8 0zm-17 1zm9 0zm-18 1zm16 0h1m-3 1zm3 0h1m2 0zm-23 1zm16 0zm-18 1zm2 0zm-2 1h1m7 0zm8 0zm4 0zm-14 1zm8 0zm5 0zm19 0zm-36 1zm25 1zm35 0zm-53 1zm5 0zm13 0zm-31 1zm9 0zm7 0zm2 0zm38 0zm-48 1h1m7 0h2m5 0zm-24 1zm11 0zm4 0zm3 0zm14 0h1m13 0zm-31 2zm11 0zm16 0zm32 0h1m-63 1h1m12 0zm16 0h1m-37 1zm6 0zm3 0zm28 0zm34 0zm-69 1zm2 0zm33 0zm26 0zm-62 1h2m6 0zm2 0zm4 0zm22 0h1m-36 1zm7 0zm2 0zm37 0zm12 0h4m-64 1zm8 0zm7 0h1m47 0h1m-66 1zm8 0zm8 0zm8 0zm20 0zm2 0zm17 0zm2 0h1m-74 1zm16 0zm4 0zm12 0zm2 0zm20 0zm2 0zm-57 1zm17 0zm13 0h1m17 0zm5 0zm2 0zm-43 1zm3 0zm2 0h1m5 0zm6 0h2m5 0zm12 0zm12 0zm8 0zm-63 1zm14 0zm3 0h1m6 0zm2 0zm3 0zm28 0h1m6 0zm12 0zm-62 1zm2 0zm10 0zm3 0h1m14 0zm12 0zm3 0zm5 0h1m12 0zm-62 1zm12 0zm10 0zm8 0zm6 0h1m4 0zm2 0h1m3 0zm2 0zm4 0zm-62 1zm4 0h1m4 0h2m11 0zm22 0zm4 0h1m5 0zm5 0zm-55 1zm6 0zm2 0zm28 0zm3 0h2m5 0h1m5 0zm4 0h1m10 0zm-71 1zm4 0zm2 0zm5 0zm2 0zm37 0h1m2 0h1m4 0zm2 0zm-49 1h1m14 0zm2 0zm17 0zm4 0zm6 0zm11 0zm3 0zm-40 1zm4 0zm3 0zm2 0zm17 0zm5 0zm-48 1zm6 0zm10 0zm6 0zm4 0zm9 0h1m6 0zm-54 1zm6 0zm3 0zm25 0h2m4 0zm8 0zm2 0zm2 0zm8 0zm9 0zm-64 1h1m2 0h2m27 0zm3 0zm10 0zm5 0h1m3 0zm3 0zm7 0zm2 0zm-65 1zm39 0zm2 0zm2 0h1m6 0h1m3 0h1m-64 1zm11 0zm45 0h1m3 0h2m3 0zm13 0zm-77 1zm4 0zm5 0zm4 0zm15 0zm15 0zm12 0zm2 0zm7 0zm3 0h1m-69 1zm5 0zm8 0zm2 0h1m5 0zm4 0zm2 0zm19 0zm6 0zm6 0zm3 0zm8 0zm11 0zm-55 1h1m16 0zm2 0h1m4 0h1m11 0h1m7 0zm-49 1zm12 0zm11 0zm3 0zm4 0h1m8 0zm2 0h1m7 0h1m4 0h1m-70 1zm16 0zm12 0zm2 0zm6 0zm2 0zm2 0zm4 0zm10 0zm2 0zm4 0h1m5 0zm4 0zm-70 1h1m19 0zm2 0zm8 0h1m8 0h1m6 0zm2 0zm4 0zm3 0zm-56 1zm8 0h1m21 0zm2 0zm9 0h5m3 0h1m6 0zm5 0zm15 0zm-79 1h1m11 0zm35 0h1m3 0h1m2 0zm-46 1zm5 0zm2 0h1m3 0zm13 0zm13 0zm9 0h1m12 0zm2 0zm2 0zm-69 1zm6 0zm10 0h2m3 0zm20 0zm4 0h1m3 0h1m2 0zm13 0zm-74 1zm13 0zm7 0zm2 0h2m27 0zm5 0zm5 0zm8 0zm2 0zm8 0zm-77 1h1m20 0zm2 0zm4 0h1m21 0zm2 0h1m19 0zm5 0h1m-41 1zm7 0zm29 0h1m3 0zm2 0zm-76 1zm8 0zm26 0zm8 0h1m3 0zm22 0zm5 0h1m-44 1h1m12 0zm2 0zm25 0h1m6 0zm-52 1zm44 0h1m2 0zm5 0zm-53 1h2m16 0h1m2 0zm26 0zm5 0zm-56 1zm4 0zm20 0zm26 0zm-50 1h1m4 0zm4 0h1m7 0zm34 0zm-74 1zm18 0zm9 0h1m6 0zm13 0zm34 0zm-70 1zm4 0zm31 0zm2 0zm24 0zm3 0zm-64 1zm11 0zm27 0zm25 0zm2 0zm4 0zm-38 1zm3 0zm33 0zm-75 1zm29 0zm39 0zm5 0zm-35 1zm31 0h1m2 0zm15 0zm-82 1zm3 0zm9 0h2m5 0zm11 0zm7 0zm26 0zm4 0h1m-61 1zm55 0zm4 0zm-32 1zm3 0zm2 0zm24 0zm2 0zm-66 1zm35 0h1m-12 1zm10 0h1m2 0zm32 0zm-66 1zm21 0zm8 0h1m33 0zm-62 1zm19 0zm8 0zm36 0zm-66 1zm9 0zm13 0h2m12 0zm-26 1zm21 0zm3 0zm30 0h1m-57 1zm5 0zm2 0zm19 0h1m24 0zm5 0h1m-61 1zm2 0zm20 0zm3 0zm6 0zm27 0zm5 0zm-64 1zm3 0zm18 0h1m4 0zm3 0zm30 0zm4 0zm-38 1zm30 0zm2 0zm2 0zm-56 1zm53 0zm2 0zm2 0zm4 0zm-53 1zm2 0zm14 0zm4 0zm23 0zm6 0zm-40 1zm4 0h1m5 0h1m31 0zm-59 1zm11 0zm12 0zm4 0zm3 0zm23 0zm3 0zm4 0zm-75 1zm39 0zm2 0zm31 0zm-32 1zm2 0zm-4 1h1m5 0zm28 0zm-32 1zm35 0h1m-39 1h2m3 0zm-39 1zm34 0h1m3 0zm-37 1zm16 0zm19 0zm2 0zm24 0zm2 0zm2 0zm-44 1zm43 0h1m-40 1zm8 0zm2 0zm2 0h1m-43 1zm5 0zm36 0zm27 0zm-44 1zm11 0zm2 0zm5 0zm26 0zm-35 1zm3 0zm3 0h1m-2 1zm2 0h1m2 0zm26 0zm-50 1zm13 0zm6 0zm3 0zm3 0zm-2 1h1m24 0zm-52 1zm27 0zm25 0h1m-34 1zm5 0zm27 0zm-47 1h1m14 0zm4 0h1m3 0zm21 0zm6 0zm-59 1zm28 0zm2 0zm2 0h1m23 0zm-57 1zm19 0zm6 0zm7 0h1m25 0zm-26 1h2m-9 1zm2 0zm2 0zm4 0zm23 0zm-49 1zm23 0zm22 0h2m2 0zm-49 1h1m20 0zm5 0zm22 0zm-48 1zm19 0zm3 0zm3 0h2m18 0zm2 0zm-26 1zm6 0zm-4 1zm-36 1zm12 0zm14 0zm8 1zm4 0zm7 0zm9 0zm-16 1zm7 0h1m9 0zm4 0zm-47 1zm25 0h1m11 0zm9 0zm-48 1zm27 0zm7 0zm2 0zm4 0zm6 0zm3 0zm-45 1zm5 0h2m10 0zm2 0zm4 0zm11 0zm6 0zm3 0zm-34 1zm7 0zm2 0zm3 0h2m2 0h1m5 0zm4 0zm7 0zm-54 1zm2 0zm3 0zm4 0zm4 0zm5 0zm8 0h3m18 0zm2 0h1m-48 1h1m2 0zm7 0zm14 0zm16 0zm2 0zm5 0h1m3 0zm-61 1zm17 0zm2 0h1m5 0h4m21 0zm10 0zm-49 1zm3 0h1m2 0zm2 0zm8 0zm5 0zm7 0zm11 0zm3 0h1m2 0zm3 0h1m-51 1zm6 0zm15 0h1m2 0zm16 0h1m3 0h1m5 0zm-41 1zm2 0zm8 0zm-3 1zm3 0h1m2 0zm2 0zm22 0zm-48 1zm8 0zm12 0zm2 0zm2 0zm-32 1zm3 0zm6 0h2m5 0h1m6 0zm6 0zm4 0zm20 0zm2 0zm-55 1zm4 0h1m6 0zm44 0zm-53 1h1m6 0zm2 0zm2 0zm7 0zm2 0zm-21 1zm4 0zm2 0h1m5 0zm7 0h1m8 0h2m22 0zm-53 1h2m5 0zm2 0zm4 0zm5 0zm2 0h1m-23 1zm2 0h1m5 0zm4 0zm9 0h1m8 0zm2 0zm-24 1h1m16 0zm3 0zm4 0zm-37 1zm4 0zm2 0zm3 0zm2 0zm2 0zm45 0h1m4 0h1m-60 1zm11 0h1m42 0zm3 0zm-56 1h1m2 0zm7 0h1m2 0zm41 0zm-52 1h1m5 0zm20 0zm-26 1zm9 0zm41 1zm-53 1zm55 0zm-59 1zm56 0zm2 0h1m-3 1zm2 0h1m-60 1zm9 0h1m2 0zm45 0h1m-57 1zm12 0zm45 0zm-49 1zm2 0zm45 0h1m-54 1zm3 0zm2 0zm5 0zm45 0zm-57 1h1m2 0zm10 0zm-8 1zm2 0zm7 0zm-13 1h1m2 0h1m2 0zm45 0zm2 0zm-48 1zm2 0h2m-8 1zm3 0zm4 0h1m41 0zm-52 1zm8 0h1m2 0zm4 0zm38 0zm-47 2zm3 0h1m41 0zm3 0zm1 1zm-49 1zm3 0zm8 0zm-16 1zm4 0h1m5 0zm-12 1zm3 0zm2 0zm3 0zm42 0h1m-47 1h3m3 0zm2 0zm8 0zm30 0zm-49 1zm9 0zm3 0h1m2 0zm33 0zm-50 1zm5 0zm9 0h1m34 0h1m-52 1h1m3 0zm4 0zm9 0zm-14 1zm2 0zm2 0h1m5 0zm3 0h1m4 0zm-19 1zm4 0zm10 0zm3 0zm2 0zm-18 1zm4 0zm8 0zm33 0zm-32 1zm3 0zm3 0zm5 0zm19 0h1m-43 1zm2 0zm2 0zm12 0zm-17 1zm2 0h1m2 0zm9 0h1m2 0zm3 0zm2 0zm-23 1zm21 0zm4 0zm2 0zm4 0zm9 0zm-30 1h1m11 0zm5 0zm-17 1zm8 0zm7 0h1m2 0h1m8 0zm3 0h1m2 0zm-41 1h1m14 0zm4 0zm2 0zm2 0h1m4 0h3m3 0zm3 0zm3 0zm-44 1zm6 0zm15 0zm7 0zm6 0zm8 0h1m-43 1h1m20 0zm7 0h1m-26 1h1m35 0zm-36 1zm27 0h1m-30 2h2m-2 1zm3 0zm2 0zm-7 1zm5 0h1m-6 1h3m-4 1zm2 0zm-1 1zm5 0zm-4 1zm2 0zm-5 2zm4 2zm-4 1zm2 0h4m-3 1zm1 5zm1 1zm-7 2z"/><path stroke="#0a69ff" d="M36 0zm6 0zm6 0zm8 0zm6 0zm7 0zm20 0zm-64 1zm47 0zm5 0zm25 0zm47 0zm5 0zm4 0h1m3 0h1m8 0zm43 0zm10 0zm-199 1h1m45 0zm4 0zm10 0zm6 0zm15 0zm38 0zm3 0zm17 0h2m3 0h1m2 0zm41 0zm12 0zm-196 1zm4 0zm4 0zm2 0zm15 38zm16 0zm-19 1zm10 0zm-7 2zm-19 1zm2 0zm11 0zm-16 1zm29 6zm8 0zm-25 3zm0 3zm15 0zm-6 1zm2 0zm3 0zm-12 1zm2 0zm10 0zm2 0zm6 0zm-10 1zm4 0zm-20 1zm20 0zm-20 1zm16 0zm3 1zm-8 2zm0 1zm-1 1zm-10 3zm1 2zm64 0zm-59 5zm0 1zm-10 1zm14 1zm33 1zm-40 1zm33 0zm-33 1zm17 0h1m16 0zm2 0zm-34 1h1m14 0zm-24 1zm11 1zm11 0zm29 0h1m-42 1zm33 0h1m16 0h1m-62 1zm46 0zm-44 1zm51 0h1m4 0zm0 1zm-23 1zm24 0zm7 0zm-37 1zm7 0zm14 0zm-12 1zm23 0h1m-56 1zm3 0zm30 0h1m12 0zm2 0zm6 0zm2 0zm-54 1zm20 0zm20 0h1m6 0zm4 0zm3 0zm-10 1zm15 0zm-16 1zm2 0zm3 0zm-27 1zm15 0zm7 0zm7 0zm6 0zm-54 1zm41 0zm4 0zm-20 1zm21 0h1m4 0zm12 0zm-18 1zm3 0zm13 0zm-39 1zm8 0zm28 0zm-49 1zm5 0zm8 0zm7 0zm13 0zm2 0zm3 0zm4 0zm4 0zm2 0h2m-44 1zm29 0zm2 0zm4 0h2m3 0zm4 0zm-59 1zm13 0zm16 0h2m7 0zm7 0h2m3 0zm2 0zm3 0zm2 0zm-51 1h1m21 0h2m7 0zm12 0zm3 0h1m2 0zm4 0zm-54 1h1m20 0zm4 0h1m7 0zm6 0zm2 0zm8 0zm3 0h1m2 0zm-53 1zm18 0zm7 0zm2 0zm5 0h1m2 0zm10 0zm4 0zm2 0zm-55 1zm31 0zm6 0h1m7 0zm3 0h2m6 0zm-57 1zm29 0zm2 0zm2 0h1m5 0zm10 0zm2 0h2m-24 1zm10 0zm7 0zm7 0zm6 0zm-27 1h1m14 0zm2 0zm10 0zm-30 1h1m25 0zm4 0zm-29 1zm21 0h2m-24 1h2m4 0zm16 0h2m-45 1zm14 0zm7 0zm2 0zm20 0h1m-20 1zm17 0zm3 0h1m-25 1zm3 0h1m18 0zm2 0zm2 0zm-28 1zm2 0zm3 0zm17 0zm2 0zm-1 1h2m3 0zm-27 1zm4 0zm18 0zm4 0h1m-30 1zm31 0zm2 0zm-62 1h1m32 0h1m24 0h1m-57 1zm21 0zm8 0zm26 0zm2 0zm-52 1zm20 0zm2 0zm3 0zm24 0zm-24 1h1m22 0zm2 0zm4 0zm-35 1zm3 0zm2 0h1m24 0zm2 0h1m2 0zm-43 1zm11 0zm2 0zm25 0h2m2 0zm-43 1h1m10 0h2m28 0h1m-58 1zm3 0zm23 0h2m2 0zm26 0h2m-30 1h2m21 0zm4 0zm-29 1zm30 0zm3 0h1m-43 1zm9 0zm3 0zm23 0zm-31 1zm5 0zm2 0zm24 0h2m2 0h1m3 0zm-33 1h2m3 0zm-6 1zm25 0zm4 0zm2 0zm-31 1zm27 0h2m-33 1h1m5 0zm24 0zm4 0h1m-34 1zm4 0zm26 0zm3 0h1m-35 1zm2 0zm3 0zm27 0zm3 0zm-30 1h3m-17 1zm11 0zm3 1zm2 0zm-5 1h1m2 0zm26 0zm-3 1zm-29 1zm5 0zm-2 1zm25 0h1m-28 1zm27 0zm3 0zm-48 1zm18 0zm3 0zm2 0h1m20 0zm2 0zm-28 1h1m3 0zm-6 1zm4 0zm27 0zm-2 1zm2 0zm-29 1h1m26 0zm2 0zm-30 1h1m5 0zm21 0h1m-29 1h1m2 0h1m3 0zm22 0zm3 0zm-54 1zm23 0zm5 0zm20 0zm-37 1zm14 0zm18 0zm2 0zm-19 1zm22 0zm2 0zm-22 1zm21 0h1m-25 1zm24 0zm-20 1zm-4 1h1m2 0h1m16 0zm-22 1zm2 0h1m2 0zm9 0zm-13 1zm5 0zm2 0zm8 0zm5 0zm-20 1zm5 0zm12 0zm-19 1zm3 0zm3 0zm4 0zm2 0zm8 0zm3 0zm2 0zm-25 1h1m10 0h1m2 0zm4 0zm2 0h1m4 0zm-17 1h1m7 0zm2 0zm4 0h3m-20 1zm4 0zm5 0zm5 0zm5 0zm-19 1h1m8 0zm-8 1zm3 0zm5 0zm3 0h2m5 0zm-43 1zm17 0zm6 0h1m2 0zm12 0zm5 0zm-38 1zm18 0zm4 0h2m2 0h2m9 0zm-22 1h1m6 0h1m2 0h2m6 0zm-24 1zm4 0h1m3 0zm11 0h1m5 0zm-44 1zm5 0zm17 0h1m4 0zm5 0h1m5 0h1m3 0zm-48 1zm19 0h2m5 0zm8 0zm11 0zm-39 1zm2 0zm11 0zm3 0zm2 0zm3 0zm15 0zm8 0zm-51 1zm5 0h1m15 0h1m2 0h1m15 0zm2 0h1m8 0zm-40 1h1m9 0zm5 0zm13 0zm2 0zm2 0h1m-43 1h1m3 0zm2 0h3m2 0zm5 0zm2 0zm6 0zm19 0h2m-42 1h1m4 0h1m34 0zm-44 1zm2 0zm3 0zm2 0h1m2 0zm4 0zm4 0zm3 0h3m2 0zm16 0zm-48 1zm11 0zm2 0h1m5 0h1m3 0h1m2 0zm22 0zm2 0zm-52 1zm7 0zm5 0zm4 0zm9 0h1m26 0zm-46 1zm2 0zm5 0zm2 0zm7 0zm7 0zm19 0zm5 0zm-58 1zm10 0h1m5 0zm8 0h1m5 0zm23 0h2m-54 1h2m8 0zm21 0zm21 0zm6 0zm-58 1zm7 0zm6 0h1m16 0zm-28 1zm5 0zm2 0zm-7 1zm2 0zm5 0zm6 0zm13 0zm24 0zm-54 1zm7 0zm2 0zm2 0zm4 0zm-15 1zm10 0zm45 0zm-55 1zm10 0zm-4 1h1m3 0h1m-6 1h1m2 0h2m42 0zm-46 1h1m44 0zm-50 1zm50 0zm4 0zm-55 1zm8 0zm-10 1zm2 0zm2 0zm8 0zm-14 1h1m9 0zm5 0zm2 0zm39 0zm-53 1zm3 0zm2 0h3m4 0zm40 0h1m-55 1h1m2 0h1m50 0zm-42 1zm3 0zm38 0zm-48 1zm7 0h1m39 0zm-44 1zm4 0zm-3 1zm2 0zm2 0zm-3 1zm2 0zm3 0zm39 0h1m-54 1zm5 0zm4 0zm3 0zm5 0zm33 0zm-51 1zm3 0zm2 0zm3 0zm9 0zm31 0zm-48 1zm2 0zm2 0zm3 0zm43 0zm-51 1zm3 0zm9 0zm2 0zm3 0zm3 0zm30 0zm-45 1zm3 0zm11 0zm-6 1h1m10 0zm23 0zm3 0zm-46 1zm6 0zm10 0h1m3 0h1m2 0zm20 0zm2 0zm-35 1zm3 0zm2 0zm5 0zm-21 1zm16 0zm27 0zm-44 1zm14 0zm2 0zm2 0zm2 0h2m20 0zm2 0zm-47 1h1m14 0zm4 0zm3 0zm23 0zm-32 1zm6 0zm3 0zm2 0zm19 0zm-43 1h1m3 0zm6 0zm4 0h1m3 0zm-14 1zm9 0h3m2 0zm2 0zm3 0zm3 0zm3 0zm12 0zm3 0zm-28 1zm5 0zm6 0h2m10 0zm2 0zm-41 1zm2 0h1m18 0zm4 0zm2 0h2m8 0h1m3 0zm-41 1zm2 0zm26 0h1m4 0zm2 0h1m-37 1zm2 0zm13 0zm7 0zm5 0zm3 0zm6 0zm2 0h1m-20 1zm3 0zm13 0zm3 0zm-39 1zm19 1zm7 0zm1 1zm-24 2zm1 1h1m-4 1h1m-2 1h2m3 0zm-7 2zm2 0h1m2 0zm-2 1zm-3 1zm0 4zm-1 1zm-2 1zm4 1zm0 3h1m0 2zm-6 1zm3 1z"/><path stroke="#009bfe" d="M26 0zm12 0zm3 0zm4 0zm7 0zm13 0zm15 0zm-54 1zm33 0zm8 0h1m7 0zm9 0h1m5 0h1m2 0zm7 0zm-72 1zm26 0zm9 0zm2 0zm2 0zm2 0zm5 0zm4 0zm4 0zm2 0zm2 0zm4 0zm10 0zm2 0zm57 0zm-105 1zm3 0zm-2 47zm6 10zm-2 2zm-10 9zm-7 1zm35 11zm-31 3zm28 0zm21 2zm-7 1h1m1 1h1m4 0zm-3 2h1m-1 1zm-7 1zm6 0zm-6 1zm6 0zm-3 4zm2 0zm-2 1h1m-3 1h1m3 0zm3 0zm-8 1zm3 0h1m2 0zm5 0h1m-60 1zm53 0zm3 0zm2 0zm2 0zm-22 1zm13 0zm3 0zm4 0zm2 0zm-23 1h1m10 0zm3 0zm2 0zm11 0h1m-36 1zm18 0zm9 0zm-3 1h3m2 0zm-5 1zm2 0h3m-6 1h3m-8 1zm4 0zm2 0zm4 0h1m6 0zm-22 1zm3 0h1m2 0zm2 0zm5 0zm3 0zm-17 1zm2 0zm2 0h1m2 0zm3 0zm4 0zm5 0h1m5 0zm-21 1zm3 0zm5 0zm2 0h1m2 0zm2 0zm2 0zm-26 1zm5 0h1m10 0zm6 0h1m-15 1h1m4 0h1m9 0zm-7 1zm-10 1h3m13 0zm5 0zm-22 1zm19 0zm-7 1zm-14 1zm5 0h1m14 0zm-22 1h3m3 0zm19 0h1m-28 1zm3 0h2m2 0zm15 0zm3 0h1m-25 1zm3 0zm3 0zm7 0zm10 0zm-22 1zm4 0h1m18 0h1m-24 1h1m5 0zm16 0zm4 0zm-24 1h4m11 0zm11 0zm-26 1zm24 0h2m0 1zm-32 1zm5 0h1m-1 1zm23 0zm-9 2zm6 0zm-23 1zm2 0zm19 0zm-23 1zm3 0zm21 0zm2 0zm-26 1zm2 0zm4 0zm18 0zm-25 1zm23 0zm5 0zm-27 1h1m22 0zm-22 1zm23 0h1m-27 1zm5 0zm21 0zm3 0h1m-31 1h1m25 0h1m3 0zm-26 1zm24 0zm3 0zm-4 1h1m2 0h1m-26 1zm2 0zm22 0zm2 0zm-27 1zm3 0zm21 0zm3 0zm-5 1zm6 0zm-27 1h2m-4 1zm2 0zm-2 1h3m18 0zm3 0zm-24 1h1m2 0zm20 0zm-27 1zm3 0zm4 0zm19 0zm-25 1zm4 0h1m18 0h1m2 0zm-25 1h3m19 0h1m-5 1zm7 0zm-4 1h2m-24 1zm6 0zm16 0h1m-21 1zm14 0zm6 0zm-23 1h1m3 0h1m13 0zm3 0h1m-21 1zm2 0h1m13 0zm5 0zm-18 1h1m13 0zm3 0zm-15 1zm14 0zm2 0h1m-19 1h1m14 0zm3 0h1m-17 1zm3 0zm10 0h2m2 0zm-17 1zm5 0h1m4 0zm8 0zm-25 1zm9 0zm5 0h3m3 0h1m-20 1zm7 0zm3 0h2m3 0h2m-11 1h1m4 0zm3 0h1m2 0h1m2 0zm-18 1zm2 0h1m3 0zm4 0h1m6 0zm2 0zm-19 1h3m8 0h1m2 0zm3 0h1m-17 1zm8 0zm3 0zm-9 1zm5 0zm2 0h1m2 0zm-9 1h4m3 0h2m5 0zm-16 1h1m7 0zm-9 1zm3 0zm2 0zm2 0zm3 0h2m-11 1zm10 0h3m-17 1zm4 0zm3 0zm4 0zm2 0zm-15 1zm6 0h2m10 0zm-19 1h1m3 0zm-26 1zm15 0zm2 0zm3 0zm7 0zm2 0h2m-37 1h1m22 0h1m3 0h1m2 0h1m3 0zm2 0zm-37 1h2m22 0zm4 0zm3 0zm3 0zm5 0zm4 0zm-44 1zm2 0zm2 0zm2 0zm2 0zm9 0zm7 0zm15 0zm2 0zm-39 1zm8 0zm15 0h1m3 0zm-22 1zm12 0h1m6 0zm14 0zm-38 1h1m5 0zm11 0zm5 0zm16 0zm-37 1zm5 0zm6 0zm4 0zm3 0h2m17 0zm2 0zm-42 1zm8 0zm3 0h4m6 0zm16 0zm2 0h2m-53 1zm12 0zm3 0zm15 0zm20 0zm2 0zm-37 1zm3 0zm7 0zm2 0zm5 0zm-22 1zm3 0h2m5 0zm2 0h1m3 0zm2 0h1m3 0zm-24 1zm2 0zm4 0zm7 0zm3 0zm3 0h1m23 0zm-40 1zm3 0zm5 0zm2 0h1m2 0h5m22 0zm-32 1h1m2 0zm3 0zm5 0zm20 0zm-41 1zm2 0zm9 0h1m3 0zm26 0zm-46 1h2m2 0zm3 0h1m15 0zm23 0h1m-53 1zm6 0h1m3 0zm4 0h1m15 0zm22 0zm-45 1zm4 0h1m10 0zm32 0zm-44 1zm40 0zm-42 1zm2 0h1m6 0zm-9 1h2m9 1zm7 0zm24 0zm-52 1zm4 0zm5 0h1m42 0zm-53 1zm12 0zm5 0zm3 0h1m32 0zm-48 1zm47 0zm-51 1zm4 0zm7 0zm2 0zm7 0zm30 0h1m-40 1zm3 0zm35 0zm-48 1h1m10 0zm37 0zm-40 1zm5 0zm0 1zm0 1zm33 0zm2 0zm-49 1h1m9 0zm2 0h1m2 0zm2 0zm30 0zm-47 1zm2 0zm5 0h1m4 0h2m-13 1zm7 0zm2 0zm2 0zm3 0h1m29 0zm-40 1zm5 0zm2 0zm3 0h1m29 0h1m-40 1h1m4 0h2m2 0zm7 0h1m-11 1h2m3 0h3m2 0zm20 0zm-29 1zm3 0zm4 0zm3 0zm2 0zm2 0zm16 0zm-26 1zm2 0h1m2 0h1m3 0zm17 0zm-44 1zm12 0zm2 0zm4 0zm5 0h1m3 0h1m15 0zm-48 1zm3 0zm21 0zm4 0h2m16 0zm-42 1zm2 0zm8 0zm8 0h1m2 0h1m2 0h1m16 0zm-44 1zm15 0h1m2 0zm8 0zm17 0zm2 0zm-42 1h1m14 0zm4 0h2m3 0zm2 0h2m4 0zm-10 1h1m5 0h2m3 0zm3 0zm-34 1zm19 0zm3 0zm4 0h1m3 0zm3 0h1m-37 1zm21 0zm9 0h1m4 0zm4 0zm-39 1zm30 0h1m2 0zm3 0zm2 0zm-39 1zm31 0h3m-11 1zm-24 4zm-1 1h2m2 0zm-8 13zm2 0zm2 0zm-6 1zm6 0zm-6 1zm4 0zm2 0zm-6 1zm5 0zm-5 1zm5 2zm-1 1h1m-1 1z"/><path stroke="#00d2f8" d="M28 1h3m4 0zm6 0h1m2 0zm7 0h3m7 0zm2 0h1m2 0zm3 0h1m3 0h1m2 0zm2 0zm3 0h2m3 0h2m9 0h1m3 0zm69 0zm-143 1zm5 0zm3 0zm2 0zm2 0zm2 0zm3 0h5m2 0zm7 0h2m2 0zm6 0zm2 0zm2 0zm4 0h1m3 0zm3 0zm4 0h2m3 0h2m3 0h1m3 0zm-48 1zm-7 77zm41 20zm1 1h1m-3 1zm0 1h2m10 1zm-14 1zm10 0zm0 1zm2 0zm0 1zm6 0zm-6 1zm-2 1zm-5 1zm2 0h1m-8 1zm4 0h2m3 0h1m3 0zm-16 1zm3 0zm3 0zm2 0h2m3 0h2m-15 1zm6 0zm2 0zm9 0zm-18 1h2m6 0zm2 0zm2 0h2m-5 1zm2 0h1m2 0zm3 0zm-17 1h1m4 0zm2 0h1m2 0zm2 0h1m3 0zm-19 1zm10 0h3m2 0h1m3 0h1m-17 1h4m2 0h2m3 0h2m2 0zm-14 1zm2 0zm2 0zm4 0zm5 0h2m-22 1zm6 0zm3 0zm7 0zm3 0zm-12 1zm10 0zm3 0h1m-15 1zm3 0zm12 0zm-21 1h1m2 0zm3 0h2m8 0zm3 0h1m3 0zm-17 1zm6 0h1m3 0zm2 0h3m-19 1zm2 0h1m2 0zm4 0zm7 0zm2 0zm3 0zm-16 1zm4 0zm10 0zm2 0zm-18 1zm5 0zm2 0zm-11 1h2m3 0zm2 0zm7 0zm7 0h1m-23 1zm6 0zm13 0zm4 0zm-23 1zm3 0h1m3 0zm9 0h1m5 0h1m-21 1h1m5 0zm6 0zm4 0zm2 0h1m-21 1h2m6 0zm14 0h1m-22 1h1m14 0zm6 0zm-22 1zm2 0zm13 0h2m2 0zm-20 1h1m17 0h1m-19 1h1m2 0h1m13 0h1m2 0zm-18 1h2m-4 1h2m16 0h1m-20 1zm2 1h1m-3 1zm5 0zm14 0h3m2 0zm-7 1zm2 0h2m3 0zm-4 1zm2 0h1m2 0zm-6 1h1m2 0zm2 0zm-23 1h2m15 0zm2 0zm5 0zm-27 1zm5 0zm16 0zm-20 1zm3 0zm16 0zm-21 1zm20 0h1m-18 1zm14 0zm3 0h2m-19 1zm16 0h1m-15 1h1m7 0zm10 0zm-4 1h1m3 0h1m-22 1h1m15 0zm3 0h1m-19 1h1m2 0zm4 0zm7 0zm2 0zm-17 1zm13 0h4m-16 1h2m5 0h1m6 0h1m-12 1zm5 0zm2 0zm3 0zm5 0zm-19 1h1m8 0h1m6 0zm3 0zm-18 1zm8 0zm5 0zm5 0zm-20 1zm3 0h1m10 0zm3 0zm-15 1h1m5 0h1m3 0h2m3 0zm-16 1zm2 0zm9 0h2m-11 1zm6 0zm6 0zm-15 1zm2 0h1m2 0h1m8 0zm-16 2zm6 0h2m3 0zm-2 1zm3 0h2m-10 1h1m5 0zm-8 1zm8 0zm-9 1zm11 0zm-10 1h1m5 1zm-5 1zm-3 2h1m14 0zm-18 1zm2 0h2m-1 1h2m-10 1zm3 0h2m4 0zm-29 1zm24 0zm3 0h1m2 0zm-37 1zm27 0zm7 0zm2 0h1m-30 1zm22 0h2m2 0zm3 0zm8 0zm-17 1zm4 0zm6 0h5m-40 1zm26 0zm11 0zm2 0zm-4 1h1m-14 1zm13 0h1m-39 1zm5 0zm34 0zm-23 1zm2 0zm2 0zm-19 1zm4 0h1m7 0zm2 0zm-10 1h3m30 0zm-40 1zm2 0zm4 0h1m2 0zm2 0zm5 0zm5 0h1m18 0h1m-35 1h2m3 0zm3 0zm7 0zm20 0zm-35 1zm3 0zm3 0zm8 0zm20 0zm-39 1zm3 0zm2 0zm3 0zm7 0h1m2 0zm2 0zm21 0zm-42 1zm4 0h2m2 0zm4 0zm2 0h2m3 0zm2 0zm19 0zm-40 1h2m5 0zm2 0h1m2 0zm27 0h1m-32 1zm6 0h2m22 0h3m-41 1zm2 0zm2 0zm6 0h1m4 0h1m2 0zm-16 1zm2 0h1m2 0zm8 0h2m21 0zm-36 1zm5 0h1m2 0zm3 0zm3 0zm-17 1h1m6 0zm8 0zm2 0zm-17 1zm2 0zm3 0h4m6 0zm24 0zm-38 1zm8 0zm29 0h1m-37 1zm2 0zm3 0zm3 0zm28 0zm-36 1zm3 0h2m29 0zm-33 1zm2 0h2m-6 1h1m3 0h4m27 0zm-37 1h2m10 0h1m2 0zm22 0zm-23 1zm23 0zm-39 1zm6 0zm2 0h1m4 0zm3 0zm21 0zm2 0zm-39 1zm10 0h1m2 0zm24 0zm-37 1zm9 0h1m2 0zm24 0zm-36 1zm2 0zm6 0h1m2 0zm7 0zm-26 1zm12 0zm7 0zm3 0zm21 0zm-34 1zm8 0h2m-5 1zm8 0zm22 0zm-26 1zm6 1zm2 0zm14 0h1m-24 1zm2 0h1m3 0h1m15 0zm-45 1zm33 0zm10 0zm4 0zm-5 1zm-15 1h4m2 0zm3 0zm-10 1zm2 0zm10 0zm2 0h1m-38 1zm19 0zm6 0zm7 0zm-2 1h1m2 0h1m4 0zm-17 1zm10 0zm2 0zm-36 1zm23 0zm2 0h1m5 0zm10 0zm-47 21zm2 0h1m-3 1zm2 0zm2 0zm-1 1zm-4 2zm5 0zm-4 3h1"/><path stroke="#0ef2ca" d="M35 0zm-8 1zm5 0h2m2 0zm3 0h1m5 0zm4 0h1m5 0h1m2 0zm2 0zm2 0zm3 0zm6 0zm9 0zm9 0zm3 0zm2 0h2m3 0zm-70 1zm2 0zm2 0h1m2 0zm4 0zm2 0h1m7 0zm2 0h1m8 0zm3 0zm2 0zm7 0zm6 0zm2 0zm14 0h1m3 0zm-12 100zm4 9zm-7 2zm2 0zm2 0zm3 0zm-7 1h1m-6 1zm4 0h1m4 0zm2 0zm3 0zm-10 1h1m2 0zm5 0zm3 0h1m2 0zm-13 1h1m6 0zm3 0zm-17 1zm8 0zm4 0zm5 0zm-17 1zm3 0zm2 0zm2 0zm4 0zm4 0h1m-14 1zm5 0h1m6 0zm3 0zm-15 1zm3 0zm2 0h1m3 0h1m4 0zm-12 1h1m2 0zm2 0h4m2 0zm-7 1zm2 0h2m2 0zm4 0zm-13 1h3m3 0h1m2 0zm5 0zm-14 1h2m2 0h1m4 0zm4 0zm-12 1zm4 0zm3 0zm3 0h1m2 0zm-19 1h1m2 0h2m3 0zm3 0h1m2 0zm4 0h1m-18 1h1m2 0zm3 0zm2 0zm2 0zm3 0h4m-18 1zm4 0zm2 0h1m5 0h3m3 0zm-19 1zm3 0h1m12 0h3m-20 1zm3 0h3m9 0zm3 0zm3 0h2m-20 1zm2 0zm3 0zm4 0h1m4 0h1m-5 1h1m2 0h1m5 0zm-22 1zm2 0h1m2 0zm8 0zm4 0zm-17 1zm2 0h2m10 0h1m3 0zm-15 1zm-6 1zm9 0zm11 0zm-20 1zm10 0h1m-9 1zm4 0zm6 0zm8 0h1m-17 1zm13 0zm3 0zm-19 1h1m2 0zm12 0h2m-16 1h1m15 0zm-15 1h1m12 0zm3 0zm2 0zm-18 1zm2 0zm12 0zm4 0zm4 0zm-26 1zm5 0zm15 0zm-20 1zm7 0zm3 0zm8 0zm-16 1zm9 0zm2 0h1m4 0zm-4 1zm-11 1zm2 0zm4 0h1m6 0h1m-14 1zm10 0zm6 0zm-17 1zm4 0zm2 0zm4 0h1m2 0zm3 0zm-14 1zm2 0zm8 0zm-15 1zm6 0h1m4 0h1m2 0h1m3 0h1m-18 1zm5 0h1m4 0h3m3 0zm-15 1zm2 0zm3 0zm4 0h1m-4 1zm4 0zm3 0zm-13 1zm9 0zm2 0zm-10 1zm6 0zm3 0zm-8 1zm8 0h1m3 0zm-10 1h5m2 0zm2 0zm-5 1h1m-5 1h3m2 0zm-7 1h2m4 0zm-3 1zm6 0zm-8 1zm3 1zm7 0zm-9 1zm-10 11zm-5 2zm2 0zm3 0zm-30 1zm23 0h2m0 1zm2 0zm2 0h2m2 0zm-7 1h2m2 0h5m-12 1h1m5 0h3m4 0zm-14 1zm-3 1zm14 0zm-31 1zm17 0zm14 0h1m-39 1zm23 0h1m15 0h1m-38 1zm21 0zm17 0zm-33 1zm2 0zm3 0zm4 0zm7 0zm15 0zm-30 1zm13 0h1m16 0zm-35 1zm3 0h1m6 0zm8 0h1m-16 1h1m5 0h1m26 0zm-31 1h2m6 0zm5 0zm-25 1zm8 0zm3 0zm3 0zm2 0h1m2 0h2m20 0zm-36 1h3m2 0zm2 0h1m2 0h1m4 0h1m-15 1zm2 0zm2 0h2m3 0h2m5 0zm19 0zm-37 1zm2 0zm5 0h3m2 0h1m-14 1zm3 0zm2 0h1m3 0zm2 0h1m2 0h1m2 0zm21 0zm-37 1zm2 0h2m2 0zm2 0h1m2 0h1m4 0zm20 0h1m-38 1zm3 0zm6 0zm4 0zm24 0zm-33 1h1m4 0zm4 0h3m20 0zm-36 1zm2 0zm2 0h1m2 0h1m7 0zm21 0zm-34 1zm6 0zm2 0zm-7 1zm4 0h1m5 0zm3 0zm18 0h1m-21 1zm20 0zm-32 1h1m3 0h3m25 0zm-34 1zm2 0h1m3 0zm2 0zm2 0h1m22 0zm-30 1zm3 0h2m-7 1zm4 0zm8 0zm18 0h1m-25 1zm2 0zm5 0zm17 0zm-25 1zm2 0zm3 0h2m18 0zm-22 1zm2 0h1m2 0zm16 0zm-29 1zm3 0zm7 0h1m2 0h1m15 0zm-34 1zm15 0h2m17 0zm-17 1zm2 0zm12 0h1m-23 1zm6 0zm4 0zm12 0zm-12 1h1m10 0zm2 0zm-15 1zm3 0zm2 0zm-7 1zm2 0h2m10 0zm-8 1zm7 0zm-9 1h1m2 0h1m2 0zm-5 1zm3 0h1m-43 24zm-1 2zm0 2zm0 1z"/><path stroke="#27ff7a" d="M37 1h1m5 0zm3 0h2m31 0zm-49 1zm8 0zm17 0h2m26 111zm0 1zm4 0zm-2 1zm10 0zm-5 3zm-4 1zm5 0zm-5 1h3m3 0zm-9 1zm3 0h1m3 0zm2 0zm-7 1zm8 0zm-15 1zm6 0zm8 0zm-4 2h2m-8 1zm2 0zm2 0zm2 0h1m3 0zm-9 1zm4 0zm3 0zm2 0h2m-11 1zm2 0zm2 0zm-8 1zm3 0zm3 0h1m8 0zm-12 1h1m2 0zm2 0h1m-5 1h3m5 0zm-14 1zm2 0zm2 0zm3 0zm2 0zm4 0h1m-13 1h9m-5 1h2m2 0h1m-5 1h6m-9 1h3m2 0h1m2 0h2m-11 1h1m4 0zm4 0h4m-15 1h2m6 0h2m3 0h1m-15 1h1m3 0zm4 0zm5 0zm-11 1h1m4 0h1m5 0zm2 0h1m-16 1zm4 0zm3 0zm2 0h1m-9 1h2m2 0h4m2 0h2m-8 1h5m4 0h1m-14 1zm2 0h1m2 0h1m3 0zm3 0zm-11 1zm4 0zm2 0zm2 0h4m-13 1h1m2 0zm3 0h2m2 0h1m3 0zm-15 1h3m2 0h1m2 0zm3 0h2m-14 1zm6 0zm2 0h2m2 0zm2 0zm-13 1zm2 0h2m3 0h1m-8 1h3m3 0h2m2 0zm2 0zm-11 1zm2 0zm2 0h1m4 0zm2 0h1m-15 1h1m2 0zm2 0h3m2 0h1m2 0zm-13 1h2m3 0zm5 0zm-3 1zm5 0zm-10 1zm3 0zm2 0zm3 0zm-12 1zm4 0h2m4 0zm3 0zm-10 1zm2 0h3m-5 1h1m2 0zm-4 1zm2 0h4m-4 1zm7 0zm-7 1h2m4 2zm3 0zm-10 2zm-9 16zm3 1zm-3 1zm-4 1h3m-5 1zm8 0h1m-12 1h5m5 0zm-10 1zm0 1zm12 0zm-13 1zm13 0h1m-14 1zm12 0h1m-14 1zm2 0zm14 0zm-16 1zm15 0zm-19 1zm2 0zm17 0zm-32 1zm6 0zm7 0zm19 0zm-33 1zm14 0h2m-16 1zm13 0h1m17 0zm-20 1zm3 0zm16 0h1m-25 1zm7 0zm18 0zm-36 1zm3 0zm15 0zm-17 1zm0 1zm8 0h2m24 0zm-26 1zm2 0zm23 0zm-25 1h4m-11 1zm6 0zm2 0h4m19 0zm-25 1zm3 0zm2 0h1m18 0zm-24 1h2m2 0zm3 0zm-11 1zm7 0zm21 0zm-29 1h1m4 0zm5 0zm20 0zm-24 1h1m2 0h2m16 0h1m-24 1zm3 0h1m2 0h1m-11 1zm6 0h3m-3 1zm6 0h1m-4 1zm3 0zm13 0zm-16 1zm3 0zm11 0h2m-14 1zm11 0zm-10 1zm10 0zm-10 1zm4 0zm-14 1zm15 0zm3 0h1m-13 1zm5 0zm3 0h1m3 0zm2 0zm-14 1zm4 0h5m-7 1zm2 0zm3 0zm3 0h1m-9 1zm-37 26zm0 1h1m0 1h1m0 1zm-2 1h2m-2 1h1"/><path stroke="#64ff3c" d="M57 1zm30 118zm-4 4zm7 5zm-3 1h1m-4 1zm2 0zm-1 2zm-8 1zm2 1zm2 0zm4 0zm-4 1zm2 1zm3 0zm-4 1zm2 0h2m-7 1h2m6 0h1m-11 1zm3 0h2m4 0h1m2 0h2m-7 1h3m-9 1zm2 0h1m2 0zm3 0h1m-8 1zm6 0zm-8 1h2m7 0h1m-4 1h1m2 0h1m3 0zm-12 1h2m2 0zm2 0zm1 1zm3 0zm-9 1zm-4 1h4m2 0zm6 0zm-3 1h1m-6 1h1m6 0zm-4 2zm-3 1h1m-2 1zm-2 1zm3 0zm-6 2zm3 1zm2 0zm-4 3zm-5 23zm-9 1zm2 0h4m3 0zm-6 1h1m3 0h1m-10 1h1m2 0zm2 0zm4 0h1m-10 1h1m7 0h1m2 0zm-13 1zm11 0zm-11 1h1m-2 1zm12 0h1m-1 1h1m-15 1h2m11 0zm2 0zm-15 1zm14 0h1m-15 1h1m13 0zm-16 1h1m-1 1zm-1 1zm-2 1zm2 0zm17 0zm-26 1zm7 0zm2 0zm-3 1zm-6 1zm6 0h1m16 0zm-18 1zm2 0zm16 0zm-18 1h2m-8 1zm7 0zm-2 1zm18 0zm-29 1zm10 0h3m-4 1zm2 0zm2 0zm14 0h1m-16 1h1m-7 1zm6 0zm2 0zm12 0zm-15 1h1m14 0zm-1 1h1m-15 1zm3 1zm-2 1zm3 0zm3 0zm5 0h1m-11 1zm4 0zm3 0h1m4 0zm-12 1zm2 0zm4 0h3m-9 1h1m2 0zm3 0zm-4 1zm3 0zm0 1h1m-3 1h1m-45 29h1m1 1zm-2 2z"/><path stroke="#b3fd17" d="M80 135zm0 2zm5 2zm-6 1h2m-1 4zm0 2zm-19 39zm1 1zm3 0zm-8 1zm3 0zm2 0zm2 0zm2 0zm-9 1zm3 0zm2 0h3m-8 1zm2 0h1m2 0zm2 0h2m-8 1zm7 0h1m-9 1zm-2 1h1m0 1zm11 0zm-13 1zm12 0zm0 1zm-13 1zm-1 1h1m12 0zm-14 1h1m13 0h1m-15 1h1m13 0h1m-17 1zm2 0zm14 0h1m-18 1h2m15 0zm-16 1zm-2 1zm16 0zm-14 1zm14 0zm-15 1h1m13 0zm-15 1h1m14 0zm-1 1h1m-16 1zm2 0zm0 1zm12 0zm-13 1zm11 0zm-11 1zm2 0zm10 0zm-14 1zm3 0h1m8 0h1m-11 1h2m7 0h2m-11 1zm2 0zm2 0zm-4 1h1m3 0zm3 0h1m-7 1zm2 0zm2 0zm-4 1zm4 0zm-3 1zm3 0zm1 1zm-46 32z"/><path stroke="#fff200" d="M65 187zm-4 1zm-3 1zm3 0zm2 0zm-4 1zm4 0h1m-6 1h1m4 0h3m-9 1h3m5 0h1m-9 1zm7 0zm-8 1zm7 0zm2 0zm0 1zm-11 1zm11 0h1m-12 1zm10 0zm-11 1zm11 0zm-12 2zm-1 1zm12 0h1m-14 1h2m10 0zm-13 1h1m0 1h1m-1 2zm11 0zm-13 1h3m-2 1zm2 0zm9 0zm-11 1zm2 0zm8 0zm-10 1zm10 0zm-11 1zm2 0zm7 0h1m-8 1zm4 0zm-3 1zm-1 1zm2 0h4m-6 1zm3 0zm-4 1zm4 0zm-2 1z"/><path stroke="#ffab00" d="M60 190h2m-2 1h2m-1 1zm2 0h1m-6 1zm3 0zm4 0zm-10 1zm2 0zm5 0zm2 0zm-9 1h1m8 0zm-9 1h1m8 0zm-8 1zm7 0zm-9 1h2m6 0h1m-10 1h1m9 0h1m-11 1zm10 0h1m-12 1h2m8 0zm-8 1zm9 0zm-12 1h2m9 0zm-2 1zm2 0zm-12 1zm2 0zm8 0h1m-12 1zm2 0zm9 0zm-8 1zm8 0zm-10 1zm9 0zm-2 1h1m-8 1h1m0 1h2m2 0zm-4 1h1m3 0zm-5 1zm2 0h3"/><path stroke="#ff6500" d="M62 192zm-3 1h1m2 0h1m-5 1h3m-4 1h6m-6 1zm2 0h1m2 0h1m-8 1zm2 0zm5 0zm-5 1zm4 0zm-6 1h1m5 0h1m-8 1h1m5 0zm2 0zm-7 1h1m5 0zm-8 1zm7 0h1m-2 1h2m-9 1h1m6 0zm2 0zm-8 1zm5 0h1m-7 1h1m6 0zm-6 1zm5 0h1m-7 1h1m2 0zm2 0h1m-8 1zm2 0zm3 0zm-3 1zm2 0h3m-3 1zm2 0zm-3 1zm3 0z"/><path stroke="#ff1e00" d="M58 196zm3 0zm-3 1h3m-3 1h2m-3 1h3m-4 1h3m2 0zm-4 1h3m-5 1h4m-5 1h4m-4 1h4m-7 1zm3 0h3m-3 1h4m-4 1h3m-3 1zm2 0zm-3 1h1m2 0zm-3 1z"/></g>
<g transform="translate(498.40 609.60) scale(1.0)" fill="none" stroke-linecap="square" stroke-width="1.25" filter="url(#sb)"><path stroke="#2828ff" stroke-width="1.05" d="M82 55zm18 4zm4 2zm-26 1zm8 0zm-7 2zm60 0zm8 0zm-62 1zm17 0zm30 0zm-60 1zm2 0zm3 0zm3 0zm6 0zm9 0zm56 0zm4 0zm-56 1zm37 0zm-85 1zm5 0zm11 0zm2 0zm9 0zm2 0zm3 0zm2 0zm7 0zm3 0zm9 0zm47 0zm-83 1zm7 0zm27 0zm7 0zm11 0zm-57 1zm8 0zm3 0zm15 0zm8 0zm11 0zm24 0zm-59 1zm6 0zm14 0zm16 0zm-43 1zm11 0h1m6 0h1m5 0h1m5 0zm6 0zm6 0zm6 0zm7 0zm39 0zm-93 1zm5 0h1m2 0zm8 0zm3 0zm3 0zm7 0zm2 0zm7 0zm17 0zm10 0zm3 0zm4 0zm16 0zm-87 1zm14 0zm6 0zm4 0zm3 0zm4 0h1m8 0zm2 0zm-51 1zm13 0zm5 0zm6 0zm3 0zm5 0h1m2 0zm13 0zm5 0zm10 0zm6 0zm-68 1zm11 0zm6 0zm2 0zm2 0zm9 0zm8 0zm3 0h1m3 0zm2 0zm36 0zm7 0zm-98 1zm16 0zm4 0zm4 0zm7 0zm4 0zm15 0zm9 0zm36 0zm4 0zm-88 1zm6 0zm3 0zm3 0zm4 0zm21 0zm5 0h1m20 0zm4 0zm7 0zm11 0zm8 0zm4 0zm-86 1zm15 0zm9 0zm2 0zm6 0zm2 0zm20 0zm15 0zm-83 1zm11 0zm2 0zm4 0zm18 0zm3 0zm3 0zm10 0zm22 0zm5 0zm14 0zm-90 1zm4 0zm5 0zm2 0zm6 0zm21 0zm8 0zm8 0zm4 0zm2 0zm19 0zm15 0zm-97 1zm7 0zm38 0zm4 0h1m8 0zm3 0zm24 0zm6 0zm6 0zm-89 1zm2 0zm2 0zm2 0zm2 0zm70 0zm2 0zm-92 1zm2 0h1m6 0h1m5 0zm49 0zm19 0zm4 0h1m-83 1h1m4 0zm2 0zm2 0zm39 0zm2 0h1m26 0zm13 0zm2 0zm2 0zm6 0zm-103 1zm9 0zm3 0zm6 0zm37 0h1m4 0h1m21 0zm6 0zm3 0zm2 0zm-99 1zm5 0zm11 0zm3 0zm42 0zm29 0h1m12 0h1m-103 1zm18 0zm40 0zm16 0zm6 0zm11 0zm10 0zm-99 1zm13 0zm46 0zm5 0zm9 0zm14 0zm6 0zm4 0zm4 0zm4 0zm3 0zm-56 1h1m4 0zm2 0zm2 0zm9 0zm21 0zm4 0zm5 0zm-47 1h1m3 0zm2 0zm4 0zm3 0zm5 0zm6 0zm4 0zm6 0zm4 0zm7 0zm-97 1zm2 0zm2 0zm6 0zm54 0zm4 0zm11 0zm-74 1zm4 0zm42 0h1m5 0zm4 0zm23 0zm3 0zm2 0zm13 0zm-97 1zm4 0zm48 0h2m12 0zm22 0zm2 0zm13 0zm-108 1zm9 0zm46 0zm6 0zm12 0zm10 0zm6 0zm7 0zm12 0zm-96 1zm43 0zm4 0zm2 0h1m4 0zm16 0zm8 0zm3 0zm3 0zm3 0zm-96 1h1m50 0zm4 0zm5 0zm13 0zm3 0zm8 0zm5 0zm-87 1zm2 0zm2 0zm43 0zm6 0zm2 0zm5 0zm3 0h1m25 0zm13 0zm-103 1zm5 0zm47 0zm3 0zm31 0zm11 0zm7 0zm-112 1h1m3 0zm3 0zm51 0zm4 0zm2 0zm3 0zm3 0zm2 0zm-68 1zm8 0zm2 0h1m35 0zm9 0zm6 0zm26 0h1m9 0zm-99 1zm3 0zm4 0h1m4 0zm45 0h1m10 0zm22 0zm2 0zm-92 1zm63 0zm7 0zm6 0zm2 0zm-76 1zm2 0zm5 0zm41 0zm2 0zm3 0h1m2 0h1m2 0zm22 0zm7 0zm14 0zm-43 1zm15 0zm4 0zm5 0zm3 0zm12 0zm8 0zm-110 1zm11 0zm3 0zm38 0h1m3 0zm2 0zm4 0h1m2 0zm2 0h1m3 0zm25 0zm-94 1h1m51 0h1m8 0h1m8 0zm27 0zm-89 1zm47 0zm2 0h1m4 0zm-58 1zm3 0zm5 0zm2 0zm41 0zm2 0zm6 0zm6 0h1m21 0zm-82 1h1m2 0zm39 0zm6 0zm4 0zm19 0zm18 0zm-99 1zm7 0h1m4 0zm4 0h1m35 0h1m2 0zm7 0zm10 0zm4 0zm3 0zm-78 1zm9 0zm3 0h2m48 0zm2 0h1m-63 1zm3 0zm5 0h1m4 0h1m6 0zm24 0zm2 0h1m2 0zm7 0zm5 0zm-48 1zm2 0zm6 0zm13 0zm8 0zm6 0zm7 0zm3 0zm2 0zm8 0h1m-68 1zm10 0zm9 0zm6 0zm14 0zm9 0zm7 0zm6 0zm11 0zm-61 1zm7 0zm4 0zm11 0h1m2 0zm5 0h1m2 0zm5 0zm12 0zm-56 1zm11 0zm2 0zm3 0zm2 0zm2 0zm20 0zm3 0zm15 0zm-52 1zm4 0zm4 0zm13 0zm9 0zm6 0zm11 0zm10 0zm2 0zm-68 1zm3 0zm4 0zm7 0zm5 0zm10 0zm6 0zm2 0zm22 0zm-52 1zm3 0zm5 0zm8 0zm2 0zm10 0zm12 0zm3 0zm6 0zm5 0zm-55 1zm11 0zm7 0zm3 0zm8 0zm5 0zm4 0zm-43 1zm8 0zm11 0h1m11 0zm7 0zm5 0h1m2 0zm11 0zm9 0zm-56 1zm12 0zm8 0zm3 0zm13 0zm4 0zm16 0zm-68 1zm20 0zm9 0zm2 0zm29 0zm-45 1zm3 0zm23 0zm5 0zm2 0zm2 0zm-45 1zm6 0zm8 0zm11 0zm15 0zm4 0zm8 0zm-17 1zm45 0zm-75 1zm14 0zm7 0h1m8 0zm4 0h1m9 0zm-49 1zm24 0zm4 0h1m10 0h1m2 0zm3 0zm6 0zm14 0zm-56 1zm18 0zm2 0h1m2 0zm12 0zm-33 1h1m4 0zm4 0zm5 0zm7 0zm2 0zm2 0zm2 0zm3 0zm4 0zm5 0zm-51 1zm17 0zm8 0zm4 0zm10 0zm4 0zm10 0zm-44 1zm2 0zm5 0zm4 0zm14 0zm3 0zm5 0zm3 0zm4 0zm11 0zm-39 1zm12 0zm7 0zm2 0zm2 0zm4 0zm2 0zm2 0zm-48 1zm2 0zm9 0zm20 0zm2 0zm-32 1zm5 0zm4 0zm3 0zm7 0h2m9 0zm4 0h1m2 0zm15 0zm-50 1zm4 0zm3 0zm5 0zm5 0zm2 0zm4 0zm2 0zm3 0zm3 0zm7 0h1m21 0zm-56 1zm2 0zm8 0h1m2 0zm15 0zm13 0zm8 0zm-45 1zm3 0zm3 0zm3 0zm22 0h1m5 0zm-44 1zm2 0zm10 0zm11 0zm8 0h2m10 0zm5 0zm2 0zm-49 1zm3 0h1m5 0h1m6 0zm18 0zm4 0zm3 0zm-40 1zm2 0zm8 0zm15 0zm2 0h2m5 0zm15 0zm-53 1zm6 0zm4 0zm2 0zm2 0zm2 0zm3 0zm3 0zm9 0zm5 0zm2 0zm4 0h2m-37 1zm6 0zm-11 1zm4 0h1m3 0h1m4 0zm7 0zm20 0zm6 0zm3 0zm-47 1zm3 0h1m5 0zm3 0zm2 0zm6 0zm14 0zm4 0zm5 0zm-49 1zm35 0h1m2 0zm3 0zm4 0zm10 0zm-69 1zm10 0zm11 0zm2 0zm2 0zm7 0zm2 0zm3 0zm25 0zm6 0zm-53 1zm2 0zm10 0zm3 0h2m11 0zm6 0zm2 0zm5 0zm-39 1zm17 0zm14 0zm6 0zm2 0zm4 0zm10 0zm-51 1zm6 0h3m3 0zm13 0zm2 0zm10 0zm3 0zm2 0zm2 0zm-45 1zm5 0zm37 0zm-47 1zm4 0zm3 0zm6 0h1m2 0zm16 0zm9 0zm9 0zm-41 1zm5 0zm14 0zm15 0zm8 0zm13 0zm-61 1zm2 0zm3 0zm3 0h2m9 0zm16 0zm3 0zm8 0zm5 0zm-59 1zm11 0zm21 0zm3 0zm13 0zm2 0zm-44 1zm6 0zm9 0zm10 0zm3 0zm6 0zm7 0zm4 0zm10 0zm-62 1zm4 0zm2 0zm5 0zm4 0zm2 0zm12 0zm11 0h1m3 0zm2 0zm3 0zm4 0zm2 0zm34 0zm-85 1zm4 0zm4 0zm24 0zm5 0zm2 0zm2 0zm4 0zm10 0zm-62 1zm4 0zm9 0zm3 0zm2 0zm25 0zm2 0zm5 0h1m5 0zm40 0zm-86 1zm7 0zm3 0h1m6 0zm22 0zm2 0zm2 0zm11 0zm-62 1zm20 0zm4 0zm4 0zm28 0zm2 0zm6 0zm16 0zm-71 1zm5 0zm7 0zm8 0zm16 0h1m6 0zm9 0h1m5 0zm-63 1zm6 0h1m7 0zm9 0zm24 0zm3 0zm2 0zm6 0zm5 0zm7 0zm-81 1zm10 0zm3 0zm5 0zm2 0zm4 0zm23 0zm6 0zm3 0zm4 0h1m4 0zm2 0zm-60 1zm21 0zm20 0zm4 0zm6 0zm2 0zm2 0zm3 0zm-47 1h1m15 0zm12 0zm4 0zm6 0zm3 0zm-56 1zm12 0zm7 0h1m15 0zm13 0zm5 0zm2 0h1m2 0zm3 0h1m2 0zm22 0zm3 0zm8 0zm6 0zm5 0zm-103 1zm16 0zm4 0h1m18 0h1m3 0zm4 0zm11 0zm-61 1zm10 0zm56 0zm4 0zm-71 1zm4 0zm7 0zm2 0zm2 0zm3 0zm35 0zm4 0zm5 0zm23 0zm19 0zm-90 1zm5 0zm3 0zm28 0zm7 0zm18 0zm4 0zm18 0zm-97 1zm7 0zm4 0zm23 0zm31 0h2m3 0zm21 0zm-80 1zm36 0zm8 0zm3 0zm4 0zm39 0zm-104 1zm13 0zm2 0zm9 0zm2 0zm5 0zm40 0zm12 0zm14 0zm-82 1zm3 0zm46 0zm4 0zm4 0zm16 0zm4 0zm5 0zm-89 1zm11 0zm3 0zm5 0zm3 0zm19 0zm2 0zm12 0zm4 0zm13 0zm4 0zm-78 1zm6 0zm7 0zm35 0zm12 0h1m3 0zm3 0h1m4 0zm4 0h1m-72 1zm6 0zm35 0zm12 0zm4 0zm6 0zm7 0zm3 0zm-83 1h2m4 0h1m6 0zm59 0zm3 0h1m9 0zm2 0zm12 0zm-100 1zm4 0zm3 0zm13 0zm45 0zm2 0zm2 0h2m3 0zm4 0zm11 0zm5 0zm-94 1zm11 0zm2 0zm42 0zm6 0zm3 0zm6 0zm5 0zm3 0zm8 0zm2 0zm14 0zm3 0zm5 0zm-105 1zm5 0zm3 0zm2 0zm2 0zm36 0zm2 0zm23 0h1m2 0zm12 0zm-93 1zm4 0h1m9 0zm54 0zm41 0zm-98 1zm4 0h1m40 0zm14 0zm7 0zm2 0zm4 0zm3 0zm3 0zm8 0zm2 0zm3 0zm-101 1zm16 0zm6 0zm37 0zm4 0zm4 0zm2 0zm3 0zm5 0zm2 0zm12 0zm4 0zm2 0zm5 0zm-101 1zm14 0zm6 0zm43 0zm2 0zm10 0zm9 0zm3 0h1m4 0zm-88 1zm2 0zm56 0zm11 0zm8 0zm4 0zm8 0zm9 0zm-94 1h1m59 0zm5 0zm2 0zm2 0h1m3 0zm4 0zm19 0zm-101 1zm3 0zm3 0zm7 0zm39 0zm3 0h2m2 0zm2 0zm2 0zm5 0zm5 0zm2 0zm6 0zm7 0zm4 0zm-97 1zm5 0zm4 0zm6 0zm4 0zm44 0zm18 0zm17 0zm8 0zm-105 1zm3 0zm3 0zm5 0zm8 0zm5 0h1m36 0zm6 0zm2 0zm4 0h1m5 0zm2 0zm3 0zm5 0zm9 0zm2 0zm-98 1zm4 0h1m56 0zm8 0zm12 0zm2 0zm10 0zm14 0zm-100 1h1m2 0zm2 0zm2 0h1m45 0zm4 0zm2 0zm3 0zm2 0zm6 0zm14 0zm3 0zm12 0zm-108 1zm4 0zm3 0zm2 0zm3 0zm65 0zm5 0zm4 0h1m3 0zm-90 1zm7 0zm12 0zm43 0zm5 0zm3 0zm5 0zm10 0zm-11 1zm5 0zm2 0zm5 0zm-87 1h1m14 0zm54 0zm22 0zm7 0zm15 0zm-108 1zm7 0zm57 0zm6 0zm7 0zm13 0zm3 0zm3 0zm-42 1zm12 0zm5 0zm6 0zm15 0zm-95 1zm5 0zm2 0zm11 0zm31 0zm10 0zm7 0zm6 0zm3 0zm3 0zm7 0zm4 0zm21 0zm-107 1zm5 0h1m7 0zm39 0zm7 0zm2 0zm3 0zm2 0zm4 0zm4 0zm17 0zm3 0zm10 0zm-103 1h1m2 0zm8 0zm2 0zm45 0zm17 0h1m7 0zm-86 1zm5 0zm2 0zm10 0zm37 0h1m6 0zm2 0zm8 0zm4 0h1m11 0zm6 0h1m-80 1zm40 0zm4 0zm2 0zm2 0zm3 0zm3 0zm8 0zm6 0zm6 0zm4 0zm7 0zm3 0zm-96 1zm10 0zm40 0zm5 0zm5 0h1m6 0zm-68 1zm12 0h1m42 0zm7 0zm3 0zm4 0zm8 0h1m26 0zm-109 1zm6 0zm10 0zm4 0h1m38 0zm2 0zm3 0zm3 0zm2 0zm3 0zm3 0zm-79 1zm4 0zm3 0zm9 0zm3 0zm2 0zm2 0zm37 0zm4 0zm5 0zm6 0zm11 0zm12 0zm-88 1zm6 0zm4 0zm37 0zm9 0h1m20 0zm-86 1zm10 0zm2 0zm47 0zm4 0zm12 0h1m21 0zm2 0zm-97 1zm5 0zm4 0zm3 0zm3 0zm27 0zm9 0zm4 0zm2 0zm5 0zm6 0zm2 0zm4 0zm8 0zm5 0zm3 0zm-89 1zm4 0zm2 0zm4 0h1m7 0zm41 0zm5 0zm11 0zm2 0zm21 0zm-100 1zm6 0zm2 0h1m7 0zm41 0zm15 0zm3 0h1m3 0zm-65 1h2m33 0zm15 0zm3 0zm3 0zm21 0zm-86 1zm4 0zm3 0zm8 0zm33 0zm2 0zm2 0zm11 0zm3 0zm11 0zm-76 1zm7 0zm5 0zm2 0zm33 0zm3 0zm4 0h1m6 0zm3 0zm11 0zm3 0zm-73 1zm5 0zm38 0zm10 0h1m14 0zm5 0zm-76 1h1m2 0zm2 0zm6 0zm32 0zm9 0zm2 0zm8 0zm9 0zm15 0zm11 0zm-92 1h1m3 0zm7 0zm3 0zm17 0zm2 0zm2 0zm9 0zm6 0zm13 0zm-62 1zm2 0zm2 0zm5 0zm16 0zm11 0zm6 0zm2 0h2m3 0zm2 0zm2 0zm17 0zm-83 1zm12 0zm4 0zm9 0zm12 0zm2 0zm8 0h1m11 0zm4 0zm3 0zm-60 1zm2 0zm2 0h1m2 0zm3 0zm2 0zm2 0zm3 0zm2 0zm9 0h1m2 0zm11 0zm2 0zm5 0zm2 0zm11 0zm12 0zm-80 1zm16 0zm3 0zm5 0zm2 0zm10 0zm3 0zm4 0zm4 0zm4 0zm5 0zm4 0zm3 0zm4 0zm-62 1zm2 0h1m4 0h2m6 0zm2 0zm3 0zm11 0zm3 0h1m9 0zm5 0zm11 0zm2 0zm8 0zm-72 1zm7 0zm10 0zm4 0zm9 0zm11 0zm7 0zm7 0zm6 0zm3 0zm5 0zm-55 1zm6 0zm10 0zm3 0zm2 0zm2 0zm3 0zm6 0zm3 0h1m2 0h1m3 0zm51 0zm-102 1zm4 0zm8 0zm10 0zm5 0zm2 0h1m9 0zm5 0zm4 0zm15 0zm6 0zm-65 1zm4 0zm4 0zm2 0zm5 0h1m6 0zm20 0zm3 0zm4 0zm11 0zm26 0zm-91 1zm14 0h3m12 0h1m2 0zm3 0zm6 0zm10 0zm-59 1zm14 0zm4 0zm14 0zm11 0zm4 0zm2 0zm7 0zm15 0zm13 0zm-67 1zm20 0h1m6 0zm4 0zm3 0zm3 0zm2 0zm4 0zm19 0zm10 0zm-75 1zm4 0zm4 0zm2 0h1m4 0zm7 0zm12 0zm4 0zm7 0zm36 0zm-93 1zm2 0zm10 0h1m2 0zm3 0h1m10 0zm9 0zm2 0zm5 0zm13 0zm15 0zm-56 1zm14 0zm2 0zm2 0zm2 0zm3 0zm17 0zm7 0zm-43 1zm4 0zm3 0h1m20 0h1m13 0zm5 0zm-71 1zm11 0zm8 0zm2 0zm5 0h1m20 0zm9 0zm13 0zm10 0zm10 0zm-83 1zm7 0zm4 0zm11 0zm14 0zm3 0zm9 0zm-43 1zm3 0zm22 0zm5 0zm9 0zm7 0zm-44 1zm20 0zm4 0zm2 0zm7 0h1m7 0zm-38 1zm13 0h1m22 0zm8 0zm5 0zm4 0zm-59 1zm8 0zm44 0zm17 0zm-76 1h1m9 0zm52 0zm6 0zm10 0zm-81 1zm2 0zm4 0zm2 0zm2 0zm3 0h1m53 0zm12 0h1m3 0zm5 0h1"/><path stroke="#1e32ff" stroke-width="1.05" d="M103 72zm-20 2zm12 1zm11 0zm-18 1zm18 0zm-29 1zm4 0zm-3 1zm6 0zm10 0zm-18 1zm-2 1h1m7 0zm6 0zm-19 1zm-1 1zm4 0zm3 0zm23 0zm47 0zm-73 1zm-9 1zm35 0zm9 0zm47 2zm-47 1zm-39 1zm-3 1zm44 0zm-42 1zm-4 1zm46 0zm5 0zm-55 2zm7 1zm-15 2h1m11 0zm2 0zm41 1zm4 0zm-51 1zm7 0zm0 1zm-6 1zm47 0zm10 0zm-57 1zm46 1zm-50 1zm8 0zm2 0zm36 0zm40 0zm-41 1zm52 0zm-91 1zm33 1zm-33 1zm39 0zm8 0zm2 0zm-16 1zm8 0zm-34 1zm27 1zm6 1zm0 1zm-40 1zm18 0zm-19 1zm10 0zm16 0zm8 0zm4 0zm15 0zm-42 1zm8 0zm13 0h1m-14 1zm23 1zm-27 1zm5 0zm8 0zm7 0zm-29 1zm33 0zm-9 1zm7 0zm-18 2zm4 0zm5 0zm-19 1zm23 1h1m2 0zm-7 1zm0 1zm11 0zm-21 1zm21 0zm-19 2zm2 0zm1 2h1m3 0zm-5 1zm14 0zm-4 1zm3 0zm3 0zm-10 1zm8 0zm-14 1zm7 0zm12 0zm11 0zm-16 1zm-23 1zm25 1zm-7 1zm3 0zm2 0zm-22 2zm2 1zm16 0zm-18 1h1m12 1zm3 0zm16 0zm-28 1zm24 0zm-30 1zm4 0zm12 0zm5 0zm2 0zm1 1zm2 0zm-10 1h1m11 0zm-12 1zm7 0zm8 0zm-24 1zm14 0zm-11 1zm4 0zm-19 1zm13 0h1m23 0zm-14 1zm-17 1zm6 0zm2 0zm8 0zm4 0zm4 0zm-5 1zm-20 1zm10 0zm4 0h1m-18 1zm7 0h1m7 0zm12 0zm-4 1zm-22 1zm11 0zm7 0zm11 0zm-26 1zm38 0zm-38 1zm6 1zm14 2zm-8 1zm-12 1zm9 0zm20 0zm2 0zm-35 1zm6 0zm10 0zm30 0h1m-42 1zm36 1zm-41 1zm5 0zm7 0zm15 0zm2 0zm5 0zm-31 1zm13 0zm24 0zm3 0h1m-50 1zm18 0zm25 0zm-45 1zm7 0h1m-3 1h1m4 0zm2 0zm8 0zm29 0zm-42 1zm2 0zm27 0zm5 0zm3 0zm-42 1zm6 0zm8 0zm2 0zm4 0zm30 0zm4 0zm-51 1zm34 0zm10 0zm2 0zm-45 1zm24 0zm12 0zm6 0zm-46 1h1m37 0zm16 0zm-51 2zm5 0zm36 0zm7 0zm8 0zm3 0zm-63 1zm8 0zm37 0zm6 0zm-3 1zm-54 1zm13 0zm31 0zm10 0zm2 0zm-20 1zm17 0zm4 0zm-55 1zm7 0zm47 0zm5 0zm-59 1zm5 0zm46 0h1m-53 1zm10 0h1m41 0h1m9 0zm-44 1zm34 0h1m-41 1zm7 0zm43 0zm10 0zm4 0zm-66 1zm40 0h1m3 1zm4 2zm-44 1zm41 0zm19 0zm-52 1zm37 0zm13 0zm-66 1zm10 0zm-3 1zm2 0zm58 0zm-67 2zm8 0zm32 0zm9 0zm13 0zm-56 1zm33 0zm13 0zm-48 1zm2 0zm37 0zm2 0zm2 0zm8 0zm-47 1zm37 0zm22 0zm1 1zm-70 1zm7 0h1m37 0zm4 0zm12 1zm-59 1h1m2 0zm23 0zm21 0h1m-48 1zm2 0zm24 0zm17 0h1m3 1zm-37 1zm38 0zm-40 1zm34 0zm-37 1zm6 0zm4 0h1m29 0zm-39 1zm37 0zm3 0zm6 0zm-43 1zm5 0zm26 0zm-19 1zm23 0zm6 0zm-11 1zm-34 1zm7 0zm22 1zm4 0zm-34 1zm9 0h1m14 0zm3 0zm21 0zm2 0zm-41 1zm13 0zm-11 1zm9 0zm-14 1zm31 0zm-11 1zm5 0zm-25 1h1m5 0zm2 2zm19 0zm-24 1zm3 1zm19 0zm-25 1zm12 0zm8 0zm5 0zm-18 1zm2 0zm14 0zm-16 1zm7 0zm9 0zm5 0zm-14 1zm10 0zm-19 1zm-10 3zm2 0zm15 4zm8 0zm-1 1zm25 2zm7 0zm3 0zm-60 1zm51 0h1m4 0zm8 0zm9 0z"/><path stroke="#153bff" d="M96 74zm-11 3zm1 1zm2 0zm2 0zm2 0zm-15 1zm19 0zm8 0zm-25 1zm23 0zm-28 1zm6 0zm17 0zm4 0zm-14 1zm17 1zm-32 1zm31 0zm5 0zm-40 1zm5 0zm2 0zm29 0zm2 2zm-34 1zm29 1zm7 0zm-46 1zm2 0zm0 1zm41 1zm40 2zm-83 1zm4 0zm40 0zm-40 1zm-3 1zm38 2zm6 0zm9 1zm-12 3zm-38 1zm5 0zm-4 1zm30 0zm-27 1h1m31 0zm-35 1zm30 0zm3 0zm-38 1zm2 0zm-3 1zm42 0zm-13 1zm13 0zm-20 1zm14 1zm-30 1zm4 0zm5 0zm6 0zm6 0zm-16 1zm9 0zm4 0zm-10 2zm3 1zm9 0zm3 0zm3 0zm4 0zm5 0zm-19 1zm7 0zm4 0zm7 0zm-21 1zm17 0zm2 0zm-19 1zm4 0zm2 0h1m10 0zm-30 1zm10 0zm9 0zm1 1h1m7 0zm-13 3zm3 0zm7 0zm-10 1zm13 1zm-15 1zm4 0zm10 0zm-7 1zm-7 3h1m15 0zm-11 1zm6 0h1m-8 1zm9 0zm3 0zm2 0zm12 0zm-29 2zm9 0h1m1 2zm4 0zm-9 1zm12 0zm2 0zm-10 1zm6 0zm9 0zm-16 1zm12 0zm4 0h1m-32 1zm15 0zm17 0h1m-24 1zm7 0zm16 0zm-21 1zm18 0zm-10 1zm2 0zm-10 1zm6 0zm-3 1zm-8 1zm12 0h1m-27 2zm29 0zm-9 2zm2 0h1m3 0zm6 0zm-13 1zm15 0h1m-17 1zm14 0h1m2 0zm-29 1zm11 0h1m7 0zm6 0zm2 0zm8 0zm-24 1zm11 0zm5 0zm-27 1h1m2 0zm16 0zm-9 1zm5 0zm2 0zm6 0zm-1 1zm-2 1zm-15 1zm23 0h1m-27 1zm24 0h1m-18 1h1m-6 1zm15 0zm7 0zm7 0zm-35 1zm6 0h2m12 0zm10 0zm3 0zm-11 2zm4 0zm7 0zm-34 1h1m11 0zm14 0zm-32 1zm17 0zm7 0zm-19 1zm12 0zm13 0zm-24 1zm7 0zm2 0zm16 0zm7 0zm-31 1zm4 0zm14 0zm11 0zm3 0zm-29 1zm22 0zm10 0zm-35 1zm4 0zm9 0h1m18 0zm12 0zm-45 1zm17 0zm9 0zm4 0zm4 0zm7 0zm3 0zm-39 1zm8 0zm19 0h1m5 0zm-47 1zm3 0h1m10 0zm7 0zm-15 1zm5 0zm22 0zm15 0zm-43 1zm9 0zm4 0zm12 1zm15 0zm7 0zm-39 1zm28 0zm4 0zm5 0h1m-44 1zm8 1zm5 0zm14 0zm6 0zm9 0zm-50 1zm48 0h1m-48 1zm12 0zm16 0zm3 0zm21 0zm4 0zm-57 1zm4 0zm5 0zm27 0zm6 0zm7 0zm8 0zm-40 1zm20 0zm12 0zm-38 1zm3 0zm33 0zm-48 1zm60 0zm-55 1h1m11 0zm2 1zm-10 1zm42 0zm-28 1zm35 0zm-4 1zm13 0h1m-62 1zm3 0zm3 0zm3 0zm59 0zm-68 1zm11 0zm35 0zm-2 1zm-37 1zm8 0zm24 0zm6 0zm5 0zm8 0zm7 0zm-65 1h2m38 0zm-42 1zm7 0zm10 0zm20 0h1m4 0zm14 0zm-53 1zm40 0zm2 0zm3 0zm-58 1zm50 0zm-49 1zm10 0h1m6 0zm31 0zm5 0zm4 0zm2 0zm4 0zm-53 1zm2 0h1m51 0zm3 0zm2 0zm-59 1zm7 0zm4 0zm20 0zm9 0zm6 0zm-45 1zm2 0zm9 0zm3 0zm3 0h1m8 0zm-15 1zm2 0h1m27 0zm-43 1zm61 0zm-50 1zm9 0zm23 0zm31 0zm-61 1zm30 0zm-35 1zm3 0zm4 0zm2 0zm33 0zm-6 1zm-32 1zm5 0zm2 0zm-12 1zm7 0zm22 0zm7 0zm10 0zm-1 1zm-45 1h1m5 0zm2 0zm6 0zm28 0zm-38 1zm3 0zm3 0zm3 0zm15 0zm4 0h1m4 0zm4 0zm-41 1zm3 0zm2 0zm2 0zm8 0zm16 0zm8 0zm-30 1zm14 0zm-19 1zm17 0zm3 0zm-16 1zm2 0zm7 0zm18 0zm-29 1zm7 0zm3 0zm7 0h1m12 0h1m-10 1h1m-17 1zm23 1zm-38 1zm14 0zm8 0zm11 0h1m-26 1zm5 0zm6 0zm2 0zm8 0zm-10 1zm9 0h1m-13 3zm4 0zm17 0zm-16 1zm-6 2zm12 0zm2 0zm-26 1h1m12 0zm4 4zm-15 3zm-10 1zm9 0zm5 0zm51 0zm-51 1zm47 0h1m2 0zm3 0z"/><path stroke="#0a69ff" d="M105 74zm-11 2zm-8 1zm5 0zm3 0zm3 0h1m-16 1h1m4 1h1m7 0zm2 0zm8 0zm-22 2zm19 0h1m-34 1zm15 0zm4 0zm3 0zm12 0zm-9 1zm2 0zm7 0zm-30 1h1m23 1zm6 0zm3 0zm-41 1zm7 0zm-1 1zm33 0h1m-45 2h1m7 0zm4 0zm2 0zm-4 1zm-10 1zm9 0zm-2 1zm33 0zm-34 1zm4 0zm37 3h1m3 1zm-46 1zm34 0zm-32 1zm36 0zm3 0zm-7 1zm7 0zm-43 2zm6 0zm29 0zm2 0zm5 0zm4 0zm-41 1zm-1 1zm33 0zm-32 1zm4 0h1m34 0zm-35 1zm24 0zm5 0zm-28 1zm37 0zm-47 1zm2 0h3m5 0zm26 0zm-10 1zm5 0zm6 0zm2 0zm-28 1zm24 0zm3 0h1m-23 1zm3 0zm-11 1h1m27 0zm-26 1h1m4 0zm7 0zm7 0h1m2 0zm-12 1zm9 0zm-4 1zm4 0zm-6 1zm7 0zm-17 1zm8 0zm12 0zm-19 1zm5 0zm9 1h1m-7 1zm4 0zm-4 4zm-6 1zm7 1zm9 0zm3 0h1m-12 1zm7 0zm4 0zm-5 1zm2 0zm-11 1zm12 0zm-10 4zm-1 1zm2 0zm5 0zm-4 1zm3 0zm7 1zm-7 3zm9 0zm-13 1zm6 0zm1 1h1m-3 1zm-2 1zm-5 1zm17 0zm-16 1h1m8 0zm7 0zm-18 1zm6 0zm8 0zm-11 1zm6 0zm-1 1zm3 0zm8 1zm-2 1zm-17 1zm4 0zm4 0zm2 0zm4 0h1m5 0zm-21 1zm2 0zm3 0zm4 0zm-4 1zm16 0zm-15 1zm-9 1zm9 0zm6 0zm2 0zm-21 1zm13 0zm-1 1h1m-17 1zm20 0zm-8 1zm9 0zm-11 1zm3 0zm10 0zm7 0zm-13 1zm8 0zm-24 1zm19 0h2m8 0zm-26 1zm3 0zm20 0h1m-27 1zm20 0zm3 0h1m3 0h1m-29 1zm15 0zm7 0zm-21 1zm3 0zm8 0zm2 0zm3 0zm7 0zm-15 1zm24 0zm-41 1zm13 0zm3 0zm10 0zm22 0zm-42 1zm19 0zm4 0zm2 0zm7 0zm-10 1zm6 0zm-24 1h1m3 0zm18 0zm5 0zm4 0zm-24 1zm12 0zm4 0zm2 0zm6 0zm10 0zm-44 1zm2 0zm2 0zm5 0zm2 0zm15 0zm3 0zm-36 1zm14 0h1m7 0h2m2 0zm10 0zm5 0zm9 0zm-31 1zm14 0zm4 0h1m10 0zm-50 1zm23 0zm16 0zm3 0zm-7 1zm9 0zm-40 1zm25 0zm7 0zm13 0zm-38 1zm21 0zm6 0zm7 0zm3 0zm3 0zm-44 1zm5 0zm27 0h1m-36 1zm9 0zm23 0zm5 0zm4 0zm-40 1zm9 0zm22 0zm2 0zm10 0zm-32 1zm4 0zm17 0zm3 0zm-24 1zm5 0zm12 0zm-23 1zm3 0zm26 0zm2 0zm-33 1zm14 0zm21 0zm11 0zm-58 1zm12 0h1m24 0h1m6 0zm6 0zm-43 1zm11 0zm2 0zm20 0zm-34 1zm10 0zm4 0zm25 0zm-30 1zm11 0zm-9 1zm8 0zm20 0zm4 0zm10 0zm-47 1zm3 0zm7 0zm26 0h2m-36 1h1m6 0zm16 0zm13 0zm4 0zm-37 1zm2 0zm27 0zm6 0zm5 0zm-37 1h1m14 0zm2 0zm12 0zm5 0zm5 0zm-39 1zm18 0zm7 0zm6 0zm3 0zm11 0zm-48 1zm38 0zm11 0zm-45 1zm3 0zm17 0zm15 0zm-11 1zm4 0h1m3 0zm5 0zm2 0zm-49 1zm38 0zm5 0zm2 0zm-50 1zm12 0zm14 0zm11 0zm8 0zm-45 1zm2 0zm7 0zm3 0zm15 0zm13 0h2m-28 1zm26 0zm2 0zm6 0zm-47 1zm11 0zm17 1zm10 0zm-29 1zm6 0zm8 0zm2 0zm7 0zm-22 1zm9 0zm9 0h1m11 0zm-34 1zm12 0h1m27 0zm-41 1zm23 0zm7 0zm-9 1zm2 0h2m6 1zm2 0zm9 0zm-16 1zm-11 1h1m4 0zm6 0h1m5 0zm-31 1h1m9 0zm3 0zm3 0h1m3 0zm4 0zm3 0zm13 0zm2 0zm-43 1zm4 0zm2 0zm7 0zm13 0zm15 0zm-52 1zm22 0zm2 0zm2 0zm16 0zm-28 1zm12 0zm10 0zm5 0zm-21 1zm3 0h1m8 0zm2 0zm2 0zm4 0h1m-13 1zm2 0zm8 0zm-15 1h1m6 0zm4 0zm-19 1zm24 0zm-14 1zm11 0zm1 1zm-10 1zm7 0zm10 2zm-9 1zm3 0zm-11 1zm10 0zm-13 1zm12 0zm-16 2zm19 0zm-14 1zm-4 1zm4 0zm9 7zm1 1zm-25 2zm3 0zm36 0zm7 0zm4 0h1m13 0zm-12 1zm5 0z"/><path stroke="#009bfe" d="M84 77zm6 0zm2 0h1m-8 1zm11 0zm2 0zm-16 1zm2 0zm7 0h2m-12 1zm9 0zm4 0zm-9 1h1m6 0zm-9 1zm2 0h1m3 0zm-19 1zm6 0zm3 0zm8 0zm3 0zm8 0zm-22 1zm10 0zm5 0zm5 0zm9 0zm-7 1zm-20 1zm26 0zm3 0zm-38 1zm4 0zm-4 1zm5 0zm26 0zm3 0zm3 0zm-2 1zm-35 1zm3 0h3m25 0zm9 0h1m-39 1zm1 1zm31 0zm-35 1zm-1 1h1m2 0zm35 0zm-37 1zm36 0zm-1 1zm3 0zm-7 1zm4 0zm2 0zm2 0zm-35 2zm-6 1zm2 0zm34 0zm3 0zm-7 1zm4 0zm-3 1zm4 0zm5 0zm-43 1zm5 0zm30 0zm8 0zm-39 1zm29 0zm-32 1zm34 0zm-6 2zm4 0zm-28 1zm5 0h1m11 0h1m10 0zm-34 1zm7 0h1m2 0h2m19 0zm3 0zm-23 1h1m23 0zm-19 1h1m5 0zm9 0h1m-23 1zm2 0zm5 0h1m3 0zm4 0h2m5 0h1m-6 1h1m-18 1zm13 0zm1 1zm-4 1zm11 0zm-19 1zm8 0zm1 1h1m6 0zm5 1zm-24 1zm24 1zm0 1zm0 1zm-2 2zm-11 1h1m7 0zm2 0zm-8 1zm14 0zm0 1zm-12 4zm1 1zm0 1zm2 0h1m-10 1zm12 0zm1 3h1m-5 1zm4 0zm-19 1zm15 0zm6 0zm-3 1zm3 0zm5 3zm2 0zm-6 1h1m-10 1zm5 0zm4 0zm-7 1zm1 2h1m-11 1zm9 0zm2 0zm8 1zm-16 1zm17 0zm2 0zm-21 1zm8 0zm13 0zm-8 1h2m-18 3zm5 0zm-4 1zm15 0zm-4 1h1m-8 1zm5 0h1m6 0zm7 0zm-24 1zm6 0zm6 0zm-15 1zm19 0zm6 0zm-20 1zm11 0zm3 0zm-17 1zm10 0zm16 0zm-17 2zm8 0zm-8 1zm7 0zm-25 1zm12 0zm2 0h1m11 0zm-20 1zm8 0zm11 0zm7 1zm-8 1zm6 0zm-21 1h1m27 0zm-25 1zm9 0zm4 0zm17 0zm2 0zm-32 1zm15 0zm11 0zm-28 1zm7 0zm3 0zm2 0zm19 0zm-43 1zm31 0zm9 0zm-45 1h1m13 0zm3 0h1m13 0zm2 0h1m9 0zm-31 1zm8 0h1m3 0h1m-15 1zm5 0zm3 0zm4 0zm22 0zm-31 1zm5 0zm6 0zm11 0h1m2 0zm9 0zm-22 1zm2 0zm8 0zm13 0zm-38 1zm3 0zm7 0zm3 0zm2 0zm3 0zm19 0zm-38 1zm9 0zm3 0zm6 0zm25 0zm-45 1zm2 0zm2 0h2m2 0zm3 0zm9 0zm11 0zm3 0zm4 0zm-28 1zm29 0h1m-6 1zm4 0h1m-32 1zm7 0h1m9 0zm14 0zm6 0zm-53 1zm4 0zm16 0zm10 0zm13 0zm2 0zm-40 1zm2 0zm4 0zm9 0h1m16 0zm8 0zm-48 1zm18 0zm3 0zm2 0zm-15 1zm4 0zm11 0zm-11 1zm12 0h1m8 0zm3 0zm24 0zm-40 1zm17 0zm3 0zm5 0h1m6 0zm2 0zm-32 1h1m2 0zm14 0zm7 0zm5 0zm-32 1zm13 0zm8 0zm7 0zm-40 1zm4 0zm9 0zm2 0zm6 0zm-15 1zm13 0zm17 0h2m2 0h1m5 0zm20 0zm-36 1zm6 0zm2 0zm3 0zm-23 1zm4 0zm23 0zm3 0h1m6 0zm-51 1zm6 0zm41 0zm-43 1zm5 0zm10 0zm26 0h1m-42 1zm7 0h1m14 0zm-13 1h1m8 0zm-17 1zm2 0zm2 0zm3 0zm13 0zm6 0zm3 0zm-23 1zm4 0zm4 0zm11 0zm7 0zm-32 1zm8 0zm4 0zm7 0h4m2 0h1m7 0zm-24 1h1m18 0zm2 0zm4 0zm-25 1zm3 0zm10 0zm8 0zm2 0zm7 0zm-45 1zm9 0h2m2 0zm14 0zm18 0zm-37 1zm10 0zm17 0h1m2 0zm-35 1zm5 0zm6 0zm10 0zm3 0zm4 0zm7 0zm-28 1h1m13 0zm7 0zm5 0zm-10 1zm6 0zm4 0zm-24 1zm4 0zm3 0zm15 0zm11 0zm-37 1zm2 0zm9 0zm2 0zm9 0h1m15 0zm-39 1zm6 0zm15 0zm4 0zm-15 1zm3 0h1m2 0zm4 0zm-7 1zm3 0zm22 0zm-43 1zm5 0zm7 0zm2 0zm2 0zm5 0zm6 0zm13 0zm-23 2zm8 0zm6 0zm-25 1zm6 0zm15 0zm-15 1h3m1 1zm9 0zm-11 2zm4 0zm-3 2zm0 1zm3 2zm34 12zm-50 1zm44 0zm12 0z"/><path stroke="#00d2f8" d="M95 76zm-4 2zm6 0zm-14 1zm9 1zm-5 1h3m-10 1zm2 0zm8 0zm3 0zm-16 1zm4 0zm10 0h2m-14 1h1m-3 1zm19 0zm11 0zm-11 1zm2 0zm2 0zm-23 1zm17 0zm6 0zm3 0zm-24 2zm-8 1zm-10 1zm11 0h1m2 0zm27 0h1m-42 1zm40 0zm3 0zm-5 1zm2 0zm4 0zm-34 1h1m28 0zm-29 1zm27 0h1m2 0zm-2 1zm2 0zm4 0zm-37 1zm30 0zm-30 1zm4 0zm28 0zm4 0zm-4 1zm3 1zm-35 1zm35 0h1m2 0zm-10 1zm-24 1zm25 0zm-29 1zm4 0zm2 0h1m21 0zm-1 1zm-28 1h2m5 0zm6 0zm14 0zm-23 1zm3 0zm20 1zm-21 1zm10 0h1m9 0zm-22 1zm14 0zm3 0zm6 0zm6 0zm-28 1h1m11 0zm6 0zm2 0zm2 0zm3 0zm2 0zm-14 1h1m7 0zm5 0zm-7 2zm-7 1zm-3 4zm14 1zm-12 5zm8 0zm1 1zm1 1zm-8 1zm9 8zm-4 2zm6 1zm-8 1zm-1 6zm8 3zm-4 1zm11 0zm-11 1zm11 0zm3 0zm-22 2zm0 1zm13 2zm-18 4h1m4 0zm3 0zm15 0zm-21 1zm10 0zm3 0zm-10 1zm5 0h2m7 0zm-6 1zm14 0zm-25 1zm2 0h1m22 0zm-23 1zm7 0zm-8 1h1m-9 1zm7 0zm11 0h1m-5 1zm-3 1zm6 0zm-13 1zm3 1zm3 0zm2 1zm29 0zm-42 1zm12 0zm8 0h1m10 0zm11 0zm-25 1zm3 0h1m-3 1zm2 0zm2 0zm5 0zm-20 1zm8 0zm24 0zm-27 1zm2 0zm12 0h1m5 0zm3 0zm-36 1zm9 0zm10 0zm18 0zm-30 1zm3 0h1m3 0zm23 0zm-21 1h1m6 0h1m4 0zm8 0zm-31 1zm3 0zm30 0zm-25 1zm2 0zm7 0zm3 0zm-24 1zm13 0zm7 0h1m5 0zm2 0zm3 0zm-24 1zm2 0zm11 0h1m9 0zm-42 1zm9 0zm2 0zm10 0zm9 0zm9 0zm-24 1h2m6 0zm5 0zm4 0zm2 0h1m5 0zm-2 1zm5 0zm-26 1zm2 0zm5 0zm4 0zm6 0h1m-22 1zm25 0zm6 0zm-37 1zm32 0zm2 0zm-16 1zm7 0h2m11 0zm-31 1h1m10 0zm9 0zm2 0zm6 0zm7 0zm2 0zm-40 1zm3 0h1m6 0zm15 0zm9 0h1m-20 1zm20 0h1m-27 1h1m2 0zm2 0zm6 0zm23 0zm-41 1zm13 0zm3 0zm4 0zm2 0zm11 0zm2 0zm2 0zm19 0zm-41 1zm4 0h1m13 0zm6 0zm-38 1zm18 0zm3 0zm2 0zm-28 1zm5 0h1m12 0zm9 0zm3 0zm16 0zm-37 1zm3 0h2m11 0zm3 0zm11 0zm8 0zm2 0zm-43 1zm3 0zm3 0h1m7 0zm4 0zm3 0zm-21 1zm3 0zm3 0zm15 0zm-8 1zm7 0zm-13 1zm7 0zm5 0zm2 0zm10 0zm-33 1h1m3 0zm3 0zm4 0h1m5 0zm9 0zm2 0zm-23 1zm23 0zm2 0zm5 0zm-31 1zm4 0zm7 0zm3 0h1m16 0zm-27 1zm11 0h1m11 0zm-22 1zm2 0zm15 0zm2 0zm2 0h1m-26 1h3m5 0zm3 0zm3 0zm9 0zm3 0zm-27 1zm6 0h1m4 0h2m10 0zm-30 1zm6 0zm9 0zm4 0h1m3 0zm-17 1zm-1 1zm10 0zm12 0zm5 0h1m-23 1zm10 0zm3 0zm9 0zm5 0zm-28 1zm8 0zm2 0h2m5 0zm-10 1zm3 0zm3 0zm5 0zm2 0zm2 0zm-20 1zm3 0zm5 0zm-4 2zm0 1zm-5 1zm17 0h1m-13 1zm10 0zm-12 1zm2 1zm9 0zm-10 1zm-4 1zm5 5zm-14 11zm38 0zm-37 1zm37 0zm5 0z"/><path stroke="#0ef2ca" d="M86 80h1m4 0zm2 0zm2 2h2m3 0zm-22 1zm4 0zm3 0zm3 0zm12 0h1m-26 1zm17 0zm3 0zm5 0zm2 0zm-19 1zm9 0zm2 0zm5 0zm2 0h1m-21 1zm3 0zm11 0zm7 0zm-30 1zm4 0zm20 0zm3 0zm-24 1zm3 1zm2 0zm14 0zm3 1zm5 0zm2 0zm-4 1zm2 1zm-33 1zm3 0zm2 0zm26 0zm3 0zm-30 1zm29 0zm2 0zm-34 1zm2 0h1m-2 1zm31 0zm-31 1zm33 0zm-37 1zm35 0zm-5 2zm0 1zm-29 1zm2 0zm37 0zm-33 1zm19 0zm3 0zm2 0zm-6 1zm-15 1zm5 0zm12 0zm4 0h1m-20 1zm3 0h1m9 0zm5 0zm2 0zm-30 1zm6 0zm13 0zm5 0zm-22 1h1m5 0zm8 0zm4 0zm-11 1h1m-7 1h1m4 0zm2 0zm3 0zm-11 1zm3 0h1m12 0zm2 0zm4 0zm-17 1zm2 0zm12 2zm-7 1zm3 0zm-1 1zm9 10zm-2 1zm-4 5zm5 19zm8 0zm2 0zm-3 1zm-4 3zm0 2zm-17 1zm5 3zm2 0zm2 0zm-1 1zm2 1h1m8 0zm-9 1zm2 0zm-3 1zm2 1zm2 0h1m-3 1zm-4 1zm8 0zm-8 1zm5 0h1m-8 1h2m5 0zm4 0zm-11 1zm5 0zm-6 1h1m7 0h1m2 2zm14 1zm-22 1zm2 0zm3 0zm18 0zm-20 1zm-24 1zm16 0zm4 0zm11 0zm3 0zm7 0zm-30 1zm11 0zm5 0zm3 0zm-19 1zm3 0zm2 0zm4 0zm4 0h1m3 0zm-16 1zm6 0h2m9 0zm6 0zm-12 1zm9 0zm-11 1zm5 0zm5 0h1m11 0zm-22 1h1m9 0zm-20 1h2m2 0zm2 0h1m2 0zm6 0zm6 0h1m-27 1zm7 0h1m10 0zm8 0zm2 0zm-19 1zm10 0zm9 0zm-17 1zm3 0zm15 0zm2 0zm-27 1zm8 0h1m4 0zm7 0h1m3 0zm2 0zm-20 1zm15 0h1m5 0zm-29 1h1m8 0zm2 0zm11 0zm6 0zm-13 1zm4 0zm3 0zm3 0zm2 0zm5 0zm-27 1zm8 0h1m11 0zm2 0zm4 0zm6 0zm-27 1zm2 0zm8 0zm-9 1zm6 0zm2 0zm11 0zm3 0zm-12 1zm13 0zm-38 1zm2 0h1m4 0h1m3 0zm2 0zm5 0zm7 0zm2 0h1m2 0zm-23 1h1m19 0zm2 0zm3 0zm2 0zm-22 1zm3 0zm10 0h1m-20 1h1m-9 1zm19 0zm8 0zm5 0zm-17 1zm2 0zm3 0zm2 0zm8 0h1m2 0h1m-27 1zm2 0zm3 0h1m7 0zm4 0zm7 0h2m-22 1zm5 0zm8 0h1m3 0zm2 0h1m5 0zm-17 1zm6 0zm5 0zm5 1zm3 0zm-20 1zm2 0zm12 0zm5 0zm-24 1zm20 0zm-19 1zm17 0zm4 0zm-20 1zm2 0zm3 0zm3 0zm6 0h1m3 0zm-24 1zm6 0zm3 0zm12 0zm2 0zm-28 1zm11 0h1m5 0zm4 0zm7 0zm-21 1zm22 0zm-20 1zm2 0zm7 0h1m3 0h1m13 0zm-36 1zm8 0zm3 0zm9 0zm-10 2h1m11 0zm17 0zm-18 1zm18 0zm-28 1zm4 0zm-2 2zm2 2zm-2 2zm13 0zm-12 17zm11 0zm4 0zm10 1h1m3 0zm-45 1zm5 0zm34 0zm2 0zm2 0z"/><path stroke="#27ff7a" d="M93 81zm-10 2h1m11 0zm4 0zm-16 1zm6 0zm5 0zm5 0zm2 0zm-17 1h1m6 0zm2 0zm2 0zm5 0zm-21 1zm18 0zm2 0zm-21 1zm2 0zm2 0zm11 0zm5 0zm-21 1zm4 0zm13 0zm-18 1h1m23 0zm-24 1zm2 0zm20 0h1m-23 1h1m24 0zm-27 1h1m19 0zm4 1zm-24 1zm-5 1zm28 0zm-28 1zm3 1zm9 0zm13 0zm3 0zm4 0h1m-31 1zm10 0zm14 0zm6 0zm-31 1zm28 0zm-29 1h1m28 0zm-18 1zm7 0zm8 0zm2 1zm-18 1zm15 0zm-16 1zm2 0zm10 0zm5 0zm-20 1h1m3 0zm2 0zm3 0zm-8 1h1m4 0zm9 0h1m7 0zm-19 1zm4 0h1m2 0zm4 0h1m-8 1h1m6 0zm-10 1zm2 0zm4 0zm2 0zm13 0zm-9 1h1m-17 1zm12 0zm3 1zm-7 2zm1 1zm18 35zm-12 8zm-12 1zm7 3zm10 0zm-8 1zm-7 1zm10 4zm-6 1zm4 1zm-4 1zm4 5zm3 0zm4 0zm-12 2zm4 0zm-14 1zm15 0h2m5 0h1m-15 1h1m9 0zm3 1h1m-18 1zm13 0zm4 0zm27 0zm-38 1zm3 0zm3 0zm-5 1zm3 0zm3 0zm7 0zm-12 1zm2 0zm8 0zm-16 1h1m0 1h1m6 0zm4 0zm-11 1zm6 0zm4 0zm15 0zm-34 1zm10 0zm4 0zm5 0zm2 0zm7 0zm2 0zm-17 1zm5 0zm3 0zm-4 1h1m10 0zm-17 1zm3 0zm5 0zm6 0zm-14 1zm18 0zm-25 1zm21 0zm12 0zm-27 1zm6 0zm8 0zm2 0h3m-29 1zm9 0h1m5 0zm3 0zm11 0zm-17 1h1m5 0zm-20 1zm5 0zm3 0zm5 0zm4 0h4m-12 1h1m8 0zm2 0zm3 0zm5 0zm-21 1zm7 0h1m8 0zm2 0zm-12 1zm2 0zm6 0h1m3 0zm2 0zm-12 1h1m7 0zm2 0zm-11 1h2m6 0h2m7 0zm-17 1zm2 0zm4 0zm10 0h1m-13 1zm12 0zm-13 1zm17 0zm-9 1zm-8 1zm10 0zm2 0zm-7 1zm4 0zm-19 1zm6 0zm5 0zm11 0zm-13 1zm7 0zm-9 1zm16 0zm-16 1zm8 0zm0 1zm-3 1zm5 0zm-1 1zm-9 3zm1 10zm4 13zm-16 1h1m3 0zm28 0zm-35 1zm3 0zm3 0zm37 0zm3 0z"/><path stroke="#64ff3c" d="M77 84h1m4 0zm3 0zm2 0h1m5 0zm-13 1zm2 0zm0 1zm8 0h1m2 0h1m-11 1zm8 0h1m3 0zm7 0zm-26 1zm3 0h1m2 0zm-1 1zm14 0h4m-17 1h1m11 0h1m6 0zm2 0zm-25 1zm16 0h3m2 0zm-23 1h1m19 0h1m-26 1zm2 0zm2 0zm2 0zm17 0zm2 0zm-27 1zm6 0h1m2 0zm20 0zm3 0zm2 0zm-29 1h1m21 0zm4 0zm3 0zm-29 1zm18 0zm5 0h1m2 0zm-31 1h1m12 0zm9 0h1m3 0zm-26 1zm25 0zm-26 1h1m5 0h2m-5 1zm4 0h1m5 0zm6 0h1m7 0zm-25 1h1m11 0zm12 0zm-23 1h1m3 0zm4 0zm4 0zm7 0zm3 0h2m-20 1h1m4 0zm4 0zm3 0zm4 0h1m3 0zm-18 1zm7 0zm10 0zm3 0zm-28 1zm11 0zm6 0h6m-17 1zm3 0zm6 0zm4 0h1m4 0zm-25 1zm14 0zm3 0zm-7 1zm15 0zm-8 1zm2 0zm4 0h1m-6 1zm-9 1zm8 0zm-11 1zm21 28zm-12 21zm-2 4zm9 6zm0 1zm6 0zm-3 3zm2 0zm-5 1zm3 0zm2 0zm-7 1zm-15 1zm24 0zm2 1zm-22 1h1m0 1zm3 0zm7 0zm5 0zm-14 1zm5 2zm-12 2zm26 0zm-12 1h1m4 0zm14 0zm-19 1zm3 0zm10 0zm-14 1zm2 0zm2 0zm-15 1zm12 0zm2 0h1m2 0zm4 0zm9 0zm-23 1zm6 0zm4 0zm-7 1zm17 0zm-12 1h1m2 0zm-4 1h1m9 0h1m3 1zm-19 1h1m4 0zm14 0zm-13 1zm6 0zm-26 1zm16 0h1m7 0zm-16 1zm6 0zm4 1zm2 0zm2 0h1m4 0zm-12 1zm14 0zm-15 1zm6 1zm7 0zm-17 1zm2 0zm6 0h1m-7 1zm21 0zm-6 2zm-17 1zm17 0zm-8 1zm9 0zm1 1zm-15 3zm18 0zm-23 30zm25 0h1m8 0zm-34 1zm25 0z"/><path stroke="#b3fd17" d="M89 83zm-5 1zm-6 1h1m2 0zm5 0h1m-7 1zm3 0zm2 0zm3 0zm-9 1zm5 0h1m4 0zm8 0zm-19 1zm14 0h1m4 0h2m-10 1zm-12 1zm19 0zm-3 1zm5 0zm-5 1zm2 0zm3 0zm-6 1zm5 0zm5 0zm-25 1zm4 0zm11 0h1m-17 1zm3 0zm2 0zm11 0h1m-18 1h1m2 0zm3 0zm-6 1zm3 0h1m5 0zm-14 1zm4 0h3m3 0zm2 0zm11 0zm-16 1zm14 0h1m2 0zm2 0h1m-23 1zm3 0zm2 0zm10 0zm7 0zm-24 1h2m2 0zm3 0zm10 0zm2 0zm5 0zm-23 1zm3 0h1m3 0h1m3 0zm8 0zm-15 1zm8 0h1m3 0h1m-14 1zm6 0zm6 0h1m10 0zm-6 1zm-7 1zm-9 1zm4 0zm11 0zm-12 1zm2 0zm9 0h1m-11 1zm-3 1zm9 0zm9 53zm-9 14zm-4 2zm14 5zm-19 3zm12 2zm-3 1zm5 0zm-6 1zm10 0zm-9 1zm2 0zm-5 1zm4 0zm3 0zm8 0zm-12 1zm5 0zm8 0h2m-11 2zm-5 1zm5 2h1m5 0zm-9 1zm2 0zm-7 3zm3 4zm12 0zm4 0zm-4 1zm-11 1zm6 34zm13 0zm-29 1zm28 0zm2 0z"/><path stroke="#fff200" d="M81 84zm9 0zm-2 1h2m-4 1zm-5 1zm5 0zm4 0zm-7 1h1m4 0zm2 0zm6 0zm-9 1zm3 0h2m-13 1zm2 0zm12 0zm-13 1zm3 0zm5 0zm-10 1zm4 0zm9 0h1m-16 1zm2 0zm12 0zm3 0zm2 0zm-13 1zm7 0h1m4 0h1m-12 1zm-4 1h1m3 0zm10 0h1m2 0zm-22 1zm6 0zm16 0zm-5 1zm-13 1zm3 0zm12 0zm2 0zm-22 1zm7 0zm2 0zm4 0zm6 0zm-15 1zm7 0h2m2 0zm5 0zm-19 1zm11 0zm-7 1zm3 0zm7 0zm-9 1zm4 0zm0 1zm2 0zm0 1zm-6 2zm2 0zm9 62zm-4 16h1m1 5zm11 1zm-15 2zm3 1zm12 1h1m-16 2zm1 1zm3 3zm11 0zm-2 5zm5 1zm-23 35zm5 0zm11 0zm16 1z"/><path stroke="#ffab00" d="M87 86zm2 0zm3 0zm-4 1zm-3 1zm2 0zm4 0zm-9 1zm3 0zm3 0zm5 0zm-13 1zm8 0h1m2 0h1m-13 1zm2 0h1m4 0h1m2 0zm-10 1zm4 0zm-3 1h3m2 0zm3 0zm-9 1h1m3 0zm4 0h1m9 0zm-20 1h1m2 0zm6 0zm2 0zm2 0h1m3 0zm-22 1zm5 0zm5 0zm3 0zm3 0zm2 0h1m-15 1zm9 0h1m7 0zm-14 1zm4 0h1m8 0zm4 0zm-16 1zm2 0h1m3 0h1m2 0h1m-5 1zm5 0zm3 0zm-12 1zm9 0zm-12 1zm4 0zm4 0h1m4 0zm-10 2zm-3 1zm10 74zm-2 29zm-6 35h1m5 0zm8 0zm2 0h1m3 0h1m3 1zm2 0z"/><path stroke="#ff6500" d="M87 87zm2 1zm-6 1zm3 0zm-2 1zm2 0zm4 0zm-6 1h1m5 0h2m-7 1h5m-3 1zm2 0zm-3 1zm5 0zm5 0zm-11 1zm2 0zm2 0zm6 0zm-11 1zm-7 1zm1 1zm7 0h2m3 0zm-11 1zm5 0h1m3 0zm-10 1zm6 0zm7 0zm1 1zm-4 1h1m-7 1zm3 1zm2 0zm-5 139zm3 0zm5 0zm8 0h1m3 0zm-23 1h2m4 0zm10 0zm6 0h1"/><path stroke="#ff1e00" d="M86 88zm-2 1zm1 1zm2 0zm-7 2h1m3 0zm-5 1zm5 0zm2 0zm5 0zm-7 1h1m-3 1zm2 0zm2 1h1m2 0zm-6 1zm4 0h3m-2 1h1m-6 2zm0 143zm4 0h2m2 0h1m-10 1h2m2 0h8m2 0h4"/></g>
<g transform="translate(927.30 609.60) scale(1.0)" fill="none" stroke-linecap="square" stroke-width="1.05" filter="url(#sb)"><path stroke="#2828ff" stroke-width="1.15" d="M101 2zm-10 2zm106 0zm-85 1zm-31 1zm27 2zm99 0zm-31 1zm27 1zm-157 1zm109 1zm-115 1zm67 4zm-33 1zm167 2zm-206 1zm152 0zm-141 1zm-45 2zm36 4zm159 0zm-195 1zm125 0zm-125 1zm8 1zm-8 1zm97 0zm-97 2zm26 0zm123 1zm-149 1zm98 0zm-98 1zm87 0zm59 0zm-146 1zm90 0zm28 0zm-118 1zm103 0zm-103 1zm64 0zm-64 1zm0 1zm29 0zm33 0zm59 0zm-78 1zm67 0zm-102 1zm21 0zm34 1zm63 1zm-119 1zm68 0zm108 0zm2 0zm-64 1zm-121 1zm82 0zm90 0zm-134 1zm41 0zm22 0zm18 0zm16 0zm-126 1zm33 0zm14 0zm11 0zm15 0zm63 0zm-145 1zm72 0zm24 0zm4 0zm20 0zm71 0zm-136 1zm54 0zm-40 1zm6 0zm6 0zm4 0h1m11 0zm7 0zm34 0zm-63 1zm3 0zm12 0zm11 0zm35 0zm27 0zm-156 1zm57 0zm8 0zm21 0zm70 0zm6 0zm11 0zm-135 1zm9 0zm15 0zm23 0zm2 0zm11 0zm-67 1zm24 0zm29 0zm15 0zm11 0zm-117 1zm66 0zm8 0zm5 0zm13 0zm15 0zm45 0zm17 0zm10 0zm42 0zm-206 1zm25 0zm14 0zm15 0zm23 0zm20 0zm43 0zm-155 1zm51 0zm3 0zm3 0zm5 0h1m32 0h1m12 0h1m3 0zm31 0zm43 0zm-186 1zm32 0zm48 0zm80 0zm9 0zm-90 1zm7 0zm6 0zm4 0zm15 0h1m32 0zm10 0zm13 0zm39 0zm-206 1zm26 0zm42 0zm7 0zm11 0h1m10 0zm5 0zm11 0zm5 0zm61 0zm6 0zm-121 1zm4 0zm5 0zm17 0zm91 0zm3 0h1m-166 1zm43 0zm8 0zm17 0zm4 0zm13 0zm51 0zm11 0zm14 0zm6 0zm4 0zm-190 1zm46 0h1m6 0zm21 0zm19 0zm9 0zm16 0zm11 0zm61 0zm8 0zm27 0zm-225 1zm44 0zm9 0zm13 0zm7 0zm7 0zm93 0zm2 0zm20 0zm3 0zm-198 1zm17 0zm7 0zm6 0zm6 0zm22 0zm2 0zm4 0zm4 0zm11 0zm7 0zm5 0zm6 0h1m5 0zm7 0h1m13 0zm40 0zm22 0zm30 0zm-172 1zm6 0zm2 0zm2 0zm7 0zm10 0zm11 0zm5 0h1m2 0zm2 0zm3 0zm5 0h1m5 0zm28 0zm4 0zm20 0zm10 0zm5 0zm3 0h2m7 0zm16 0zm-156 1zm5 0zm5 0zm8 0h2m4 0zm3 0zm2 0zm4 0h1m2 0zm6 0zm4 0h1m2 0h1m51 0zm8 0zm33 0zm4 0zm-191 1zm50 0zm7 0zm30 0zm8 0zm5 0zm2 0zm2 0zm6 0zm11 0zm23 0zm4 0zm19 0h1m2 0h3m19 0zm5 0zm12 0zm9 0zm-218 1zm37 0zm3 0zm15 0zm4 0zm8 0zm7 0zm7 0h1m2 0zm9 0zm2 0zm5 0zm30 0zm11 0zm6 0zm9 0zm21 0zm10 0zm9 0zm10 0zm5 0zm23 0zm-210 1zm6 0zm34 0zm9 0zm8 0zm2 0zm3 0zm2 0h1m2 0zm8 0h1m3 0h1m9 0zm2 0zm7 0zm4 0zm31 0zm39 0zm-196 1zm27 0zm10 0zm9 0zm3 0zm21 0h1m6 0zm2 0zm5 0zm14 0zm12 0zm6 0h1m8 0zm36 0zm4 0zm3 0zm13 0zm2 0zm18 0zm6 0zm23 0zm-151 1h4m5 0zm4 0zm3 0zm3 0zm5 0zm5 0zm2 0zm6 0zm3 0zm2 0zm10 0h1m14 0h1m12 0zm18 0zm5 0zm17 0zm9 0zm-175 1zm21 0zm8 0zm8 0zm4 0h1m4 0h2m8 0zm5 0zm17 0zm15 0zm14 0zm9 0h1m11 0zm2 0zm8 0zm13 0zm-157 1zm18 0zm9 0zm5 0zm6 0zm14 0h1m4 0zm2 0h1m8 0zm2 0zm5 0zm2 0zm2 0zm3 0h2m32 0zm7 0zm25 0zm16 0zm18 0zm26 0zm-197 1zm8 0zm15 0zm2 0zm3 0zm4 0h1m13 0zm4 0h4m8 0zm2 0zm4 0zm3 0zm2 0zm2 0zm5 0zm3 0zm3 0h1m31 0zm3 0zm2 0zm24 0zm23 0zm28 0zm-198 1zm5 0zm3 0zm5 0zm8 0zm4 0h1m4 0zm6 0h1m5 0zm4 0zm2 0zm3 0zm6 0h1m5 0zm8 0zm2 0zm2 0zm2 0zm4 0zm19 0zm2 0zm4 0zm6 0h1m12 0zm8 0zm9 0zm15 0zm2 0zm17 0zm23 0zm-199 1zm9 0h1m7 0zm5 0h1m12 0zm5 0zm2 0zm7 0h2m21 0zm5 0zm2 0zm5 0zm18 0h1m5 0zm8 0zm3 0zm7 0zm4 0zm7 0zm9 0zm4 0zm6 0zm16 0zm12 0zm2 0zm-197 1zm2 0zm13 0zm12 0zm4 0zm2 0zm2 0zm2 0zm4 0zm5 0zm2 0zm4 0zm11 0zm4 0h1m4 0zm2 0zm5 0zm13 0zm7 0zm7 0zm30 0h1m8 0h1m6 0zm10 0zm17 0zm13 0zm2 0zm11 0zm-200 1zm5 0zm9 0zm6 0zm6 0zm2 0zm8 0h1m2 0zm2 0zm4 0zm2 0zm2 0zm2 0zm3 0zm9 0zm3 0zm12 0zm20 0zm2 0zm15 0zm4 0zm22 0h1m8 0h1m17 0zm25 0zm-198 1zm17 0zm3 0zm11 0h2m2 0zm2 0h2m8 0zm5 0h1m3 0zm6 0h3m2 0h1m3 0zm2 0zm2 0h2m2 0zm2 0zm5 0zm3 0zm5 0zm9 0zm18 0zm3 0zm12 0zm6 0zm2 0h1m6 0zm4 0zm35 0zm32 0zm-216 1zm3 0zm14 0zm4 0zm2 0zm10 0zm12 0h2m4 0h1m5 0zm3 0zm6 0h1m3 0zm21 0zm6 0zm12 0zm5 0zm5 0h1m14 0zm8 0zm6 0zm2 0zm3 0zm5 0h1m15 0zm12 0zm11 0zm-204 1zm11 0zm14 0zm2 0zm4 0zm2 0h1m3 0h1m3 0zm5 0h1m2 0h1m3 0zm13 0zm7 0zm5 0zm13 0h1m2 0h1m22 0zm4 0zm5 0zm3 0zm5 0h1m6 0zm2 0zm5 0zm3 0h2m3 0zm5 0zm2 0zm6 0zm11 0zm21 0zm-219 1zm15 0zm7 0zm5 0zm2 0zm2 0zm2 0zm6 0zm3 0zm7 0h1m2 0h2m4 0h1m2 0zm3 0zm2 0zm3 0zm8 0zm2 0zm8 0zm2 0h1m8 0h1m16 0zm22 0zm3 0zm7 0zm10 0zm2 0zm13 0h1m4 0zm7 0zm4 0zm2 0zm-188 1zm21 0zm15 0zm2 0h1m6 0zm9 0zm4 0zm2 0h2m5 0h1m2 0zm8 0h2m2 0zm3 0zm10 0zm3 0zm2 0zm4 0zm7 0zm4 0zm3 0zm7 0zm9 0zm2 0zm4 0zm6 0zm2 0zm2 0zm3 0zm2 0zm10 0zm9 0zm5 0zm5 0zm13 0h1m27 0zm-224 1zm32 0zm8 0zm5 0zm4 0h1m3 0zm3 0h2m2 0h1m7 0h1m2 0h1m2 0h1m4 0zm2 0zm2 0h1m3 0h1m2 0h2m5 0zm2 0h1m19 0h1m17 0zm6 0zm10 0zm2 0zm2 0zm9 0h1m6 0zm14 0h1m21 0zm-196 1zm4 0zm8 0zm8 0zm12 0zm4 0zm3 0zm2 0zm3 0h2m3 0zm3 0zm4 0zm3 0h3m6 0zm2 0zm2 0h1m2 0zm5 0h1m2 0h1m4 0zm6 0h3m2 0zm2 0zm7 0zm23 0zm8 0zm52 0zm3 0zm3 0zm4 0zm2 0zm7 0zm-202 1zm11 0h1m20 0zm6 0zm11 0h1m2 0h1m7 0h1m3 0zm2 0zm5 0h1m3 0zm3 0h1m3 0zm3 0h1m3 0h3m17 0zm10 0zm5 0zm7 0h1m7 0zm2 0zm6 0zm2 0h2m4 0h1m26 0zm21 0zm-206 1zm12 0zm6 0zm3 0zm5 0zm3 0zm5 0zm5 0zm2 0zm2 0zm2 0h3m4 0h1m3 0zm3 0zm12 0zm3 0zm6 0h1m8 0zm2 0zm3 0zm21 0h1m6 0zm3 0zm8 0zm3 0zm12 0zm6 0zm6 0h1m14 0zm2 0zm13 0zm-181 1zm2 0h2m2 0zm6 0zm2 0h1m2 0zm6 0zm2 0h1m3 0zm6 0zm4 0zm2 0h1m2 0h1m3 0zm7 0h1m4 0h1m7 0zm6 0zm3 0zm8 0zm16 0zm11 0zm9 0zm3 0zm3 0zm5 0h1m3 0zm3 0h1m3 0zm2 0zm2 0zm22 0zm16 0zm-202 1zm23 0zm5 0zm7 0zm2 0zm4 0zm2 0h4m2 0zm4 0zm2 0zm4 0h1m3 0zm5 0zm5 0zm3 0zm4 0h1m3 0zm8 0h1m4 0zm18 0zm6 0zm8 0zm8 0zm14 0zm2 0zm22 0zm2 0zm2 0zm2 0zm20 0zm-194 1zm14 0zm2 0zm2 0zm6 0zm4 0h2m2 0h1m3 0h3m4 0h1m2 0zm3 0zm2 0h5m9 0h2m3 0zm2 0zm2 0zm3 0zm5 0h2m3 0zm3 0zm2 0zm26 0zm7 0zm9 0zm2 0zm5 0zm3 0zm2 0zm8 0zm2 0zm3 0zm2 0zm7 0zm2 0zm2 0zm17 0zm-199 1zm20 0zm11 0zm4 0zm2 0zm3 0zm2 0h1m4 0h1m2 0zm2 0zm5 0zm3 0zm8 0zm2 0zm3 0zm2 0h1m2 0zm9 0zm2 0h2m3 0zm8 0zm5 0zm11 0zm14 0h1m15 0zm19 0h2m3 0zm5 0zm19 0zm6 0zm10 0zm-193 1zm3 0zm6 0zm7 0h1m8 0zm5 0zm2 0zm2 0zm2 0zm2 0zm3 0zm5 0h1m6 0zm3 0zm3 0zm4 0zm2 0zm8 0zm5 0h1m4 0h2m9 0zm3 0zm8 0zm5 0zm8 0h1m8 0zm7 0h1m5 0zm2 0h2m5 0zm2 0zm18 0zm7 0zm3 0zm-198 1zm7 0zm2 0zm6 0zm10 0h1m3 0zm2 0zm4 0h1m2 0zm4 0h1m2 0h1m3 0h1m3 0h1m2 0h2m3 0zm4 0zm2 0zm3 0zm2 0zm5 0h3m2 0h2m6 0h1m3 0h1m2 0zm5 0h1m7 0zm2 0zm14 0h1m8 0zm16 0zm4 0zm2 0zm7 0zm2 0zm4 0zm3 0zm6 0zm5 0zm14 0zm-190 1h1m2 0zm4 0zm3 0zm3 0h1m2 0zm3 0zm5 0zm2 0h1m2 0h2m3 0h6m4 0zm3 0h1m2 0zm3 0h1m5 0h2m3 0h2m5 0h2m2 0zm4 0zm6 0zm9 0zm3 0h1m16 0zm13 0h1m4 0h1m4 0zm2 0zm6 0zm4 0zm7 0zm20 0h1m6 0zm3 0zm2 0zm-197 1zm31 0zm3 0zm3 0zm5 0zm6 0zm2 0h1m5 0zm3 0zm3 0zm3 0zm3 0h1m2 0zm4 0zm2 0h2m3 0zm10 0h1m10 0zm9 0zm9 0zm2 0zm11 0zm17 0h1m4 0zm6 0zm8 0h1m2 0zm3 0zm13 0zm47 0zm-222 1zm8 0zm10 0h1m2 0h1m3 0h1m2 0zm2 0zm3 0h1m6 0h1m3 0zm2 0zm2 0zm2 0h1m3 0h2m4 0h3m2 0zm2 0h1m3 0h1m4 0zm2 0h1m10 0h2m6 0zm4 0zm7 0h1m9 0h1m9 0zm30 0h1m4 0zm5 0zm7 0zm11 0zm16 0zm-208 1zm10 0zm2 0zm5 0zm3 0zm2 0zm2 0zm2 0zm2 0zm2 0h1m7 0zm3 0zm2 0zm2 0h2m7 0zm2 0zm3 0zm2 0zm4 0zm2 0zm4 0zm3 0zm4 0zm5 0zm9 0h1m11 0zm2 0h1m3 0zm28 0h1m8 0zm4 0zm12 0h1m11 0zm4 0zm-196 1zm12 0zm8 0zm20 0h1m5 0h1m5 0h1m2 0h1m12 0zm4 0h1m2 0h1m2 0zm2 0h1m3 0zm4 0zm2 0h4m3 0zm3 0h1m2 0zm4 0zm4 0zm15 0zm3 0zm6 0h2m3 0zm6 0zm3 0zm6 0zm3 0zm4 0zm4 0zm2 0h1m5 0zm6 0zm8 0zm4 0h1m5 0zm9 0zm11 0zm5 0zm-208 1zm9 0zm6 0zm2 0zm3 0zm2 0h1m2 0zm3 0zm8 0zm3 0zm4 0zm4 0zm4 0zm5 0h2m6 0zm5 0zm3 0zm7 0zm3 0zm3 0h4m2 0zm2 0zm3 0h1m2 0zm2 0h1m2 0zm5 0h1m12 0zm5 0zm10 0zm10 0zm2 0zm7 0zm4 0zm4 0zm6 0zm-161 1zm4 0h1m7 0h1m3 0zm2 0zm2 0h1m10 0zm2 0h1m5 0zm3 0zm2 0h1m3 0zm3 0zm4 0h1m10 0zm6 0zm2 0h1m3 0h2m2 0zm2 0zm2 0zm5 0h1m6 0zm2 0zm14 0zm3 0zm4 0h1m5 0zm3 0zm12 0zm3 0zm3 0zm2 0zm24 0zm5 0zm6 0zm5 0zm-212 1zm3 0zm8 0zm5 0h1m9 0zm3 0zm4 0zm6 0zm5 0zm6 0zm2 0zm2 0zm2 0zm2 0zm6 0h3m3 0zm3 0zm6 0h1m4 0zm4 0h3m3 0h3m6 0zm2 0h1m4 0zm2 0zm5 0zm9 0zm4 0zm14 0zm5 0zm8 0zm7 0h2m3 0zm10 0h2m13 0zm6 0h1m14 0zm6 0zm-218 1zm2 0zm8 0zm4 0h1m14 0h2m2 0h1m7 0zm2 0zm5 0h1m2 0zm3 0zm4 0h2m4 0h1m2 0zm2 0h1m2 0h1m6 0zm13 0zm3 0h2m2 0h1m2 0zm6 0zm3 0zm3 0zm6 0zm3 0zm9 0zm8 0zm2 0zm5 0h1m6 0zm6 0zm2 0zm3 0zm3 0zm7 0zm3 0zm26 0zm16 0zm-224 1zm18 0h1m10 0zm6 0zm3 0zm3 0zm6 0zm3 0zm5 0zm3 0h1m6 0h1m2 0zm2 0h2m2 0zm5 0zm4 0h1m5 0zm5 0zm2 0zm5 0zm2 0zm3 0zm4 0h1m2 0zm3 0h1m2 0zm2 0zm5 0h1m7 0zm2 0zm2 0zm16 0h1m2 0zm4 0zm15 0h1m3 0zm2 0zm2 0zm6 0zm9 0h1m32 0zm-219 1zm7 0h1m13 0zm6 0zm8 0h1m3 0zm4 0zm8 0zm3 0h1m2 0zm3 0h3m2 0zm12 0zm2 0h1m4 0zm5 0zm3 0zm4 0zm14 0h1m3 0h1m24 0zm2 0h1m6 0zm4 0zm3 0zm17 0zm7 0zm8 0h2m21 0zm26 0zm-224 1zm9 0h1m4 0zm2 0zm3 0h1m9 0zm2 0zm5 0zm4 0h6m3 0zm2 0zm2 0zm9 0zm2 0zm3 0h1m8 0zm3 0zm2 0zm4 0zm2 0zm5 0zm7 0zm10 0zm5 0h1m5 0zm2 0h1m8 0zm2 0h1m5 0zm5 0h1m8 0h1m36 0zm-210 1zm5 0zm17 0zm5 0zm4 0zm12 0zm2 0zm6 0h1m2 0h1m9 0h1m2 0zm3 0zm3 0h1m9 0zm3 0zm20 0zm2 0zm4 0zm10 0h1m13 0zm5 0h1m6 0zm3 0zm20 0zm2 0zm11 0zm2 0zm7 0zm19 0zm-222 1zm19 0h1m11 0zm14 0zm5 0zm5 0h1m2 0h1m2 0zm3 0zm5 0h2m4 0zm4 0zm3 0zm3 0zm3 0zm7 0zm2 0h1m2 0zm2 0h2m11 0h1m5 0h1m7 0h1m5 0zm9 0zm6 0zm6 0zm3 0h1m5 0h1m7 0zm19 0zm21 0zm18 0zm-225 1zm15 0zm10 0zm2 0h1m4 0zm2 0zm7 0zm2 0zm3 0zm5 0zm2 0h1m5 0zm3 0zm3 0h2m4 0zm2 0h1m2 0h1m7 0zm8 0h2m4 0zm2 0h2m8 0zm2 0h1m6 0zm3 0zm10 0zm8 0zm15 0h2m7 0h1m9 0zm3 0zm5 0zm29 0zm-194 1zm3 0zm4 0zm7 0zm4 0zm3 0h1m2 0zm5 0zm4 0h2m2 0h1m7 0h1m7 0h1m2 0zm8 0zm2 0zm3 0zm4 0h1m4 0zm2 0h3m13 0h2m16 0zm4 0zm18 0zm5 0zm6 0h1m7 0zm7 0zm10 0zm7 0zm13 0zm5 0zm-195 1zm4 0h1m5 0zm4 0zm2 0h1m2 0h1m4 0zm2 0zm3 0zm4 0h2m4 0h1m2 0h2m9 0h1m2 0h1m10 0h1m2 0zm3 0zm3 0h1m2 0zm2 0zm3 0h1m4 0zm2 0zm2 0zm5 0zm2 0zm2 0zm19 0zm5 0zm2 0h1m11 0zm4 0zm2 0zm9 0zm6 0zm4 0zm7 0zm-171 1zm2 0zm15 0zm5 0zm2 0zm2 0zm2 0h1m2 0zm3 0zm2 0h1m9 0zm2 0zm3 0zm5 0h1m6 0zm2 0zm7 0zm5 0h1m2 0zm4 0h1m3 0zm11 0zm12 0zm2 0zm5 0h1m4 0zm8 0zm6 0zm3 0zm4 0zm2 0zm7 0zm3 0zm5 0zm7 0zm6 0zm-173 1zm9 0h1m6 0zm2 0zm2 0zm2 0h1m2 0h1m6 0zm6 0h1m4 0h1m2 0zm2 0zm2 0zm2 0zm6 0h1m2 0zm3 0zm4 0h1m2 0h1m3 0zm3 0zm3 0zm9 0zm2 0zm3 0h1m5 0zm2 0zm7 0zm3 0h1m6 0zm24 0zm2 0zm13 0zm2 0zm11 0zm25 0zm-201 1zm5 0zm15 0zm7 0zm4 0zm9 0zm4 0zm4 0zm3 0h2m5 0h1m6 0h1m15 0zm7 0h1m2 0h1m10 0zm7 0zm20 0zm2 0zm6 0h1m13 0zm5 0zm2 0h1m6 0zm26 0zm-204 1zm21 0zm4 0h1m6 0zm3 0zm5 0zm4 0h1m4 0h2m2 0zm2 0zm3 0h1m2 0h2m5 0zm7 0zm2 0h2m3 0zm7 0h1m3 0h1m4 0zm11 0zm9 0zm4 0zm2 0zm3 0zm3 0zm5 0zm19 0zm8 0h1m6 0zm18 0zm-187 1zm27 0zm4 0zm2 0h1m2 0zm2 0zm7 0zm2 0zm5 0zm6 0h1m9 0zm3 0zm3 0h1m8 0zm5 0zm12 0zm13 0zm2 0zm4 0zm4 0zm5 0h1m5 0zm7 0zm2 0zm3 0zm6 0zm24 0zm5 0zm2 0h1m6 0zm4 0zm8 0zm-190 1zm24 0h1m2 0zm3 0zm2 0zm5 0h2m7 0zm3 0h3m2 0zm5 0zm4 0h1m4 0zm3 0zm4 0zm15 0h1m6 0h1m3 0zm10 0zm8 0zm18 0zm12 0h1m7 0zm23 0zm-198 1zm21 0zm7 0zm6 0zm10 0zm2 0zm3 0h2m2 0zm2 0zm2 0zm2 0zm2 0h2m2 0zm4 0zm3 0zm4 0zm2 0h2m2 0zm5 0zm2 0h2m3 0h2m8 0zm2 0h2m2 0h1m3 0zm7 0zm11 0zm10 0zm5 0zm11 0zm3 0zm24 0zm2 0h1m10 0zm32 0zm-216 1zm9 0zm5 0zm2 0h1m2 0h1m4 0zm2 0zm5 0zm9 0zm3 0zm4 0zm2 0zm3 0h1m4 0zm2 0h2m3 0zm5 0zm5 0zm2 0h4m6 0h2m6 0zm2 0zm8 0zm3 0zm2 0zm10 0zm15 0h1m11 0zm13 0zm22 0zm38 0zm-221 1zm8 0zm11 0zm6 0zm9 0zm11 0h2m3 0zm3 0zm6 0zm4 0zm3 0zm3 0h2m8 0zm2 0zm5 0h1m2 0h1m3 0zm3 0zm5 0zm2 0zm26 0zm14 0zm11 0zm36 0zm-179 1zm4 0zm6 0zm4 0zm3 0zm5 0zm5 0zm2 0zm3 0h3m5 0zm2 0zm10 0zm7 0zm2 0zm2 0h3m4 0zm2 0zm3 0zm2 0zm3 0h2m8 0zm2 0zm2 0zm5 0zm2 0zm6 0zm2 0h1m5 0zm2 0zm3 0zm4 0zm5 0zm5 0zm2 0zm24 0zm2 0zm13 0zm6 0zm-179 1h1m7 0zm4 0zm2 0zm5 0zm5 0h1m4 0h1m11 0h1m7 0h1m2 0zm4 0zm4 0h1m7 0zm2 0h1m3 0zm4 0h1m5 0zm3 0h1m2 0zm3 0zm3 0zm20 0zm2 0zm24 0h1m3 0zm27 0zm11 0zm-203 1zm40 0h1m5 0h1m3 0zm4 0h4m3 0h2m4 0zm4 0h1m6 0h1m2 0zm2 0zm5 0zm3 0zm5 0zm6 0zm9 0zm4 0zm3 0zm3 0zm19 0zm7 0h1m8 0zm6 0zm3 0zm3 0zm-171 1h1m13 0zm4 0zm2 0zm13 0h2m10 0h1m5 0zm2 0h3m2 0h1m3 0h1m3 0zm5 0h3m6 0zm5 0zm2 0zm2 0h2m4 0zm5 0h2m6 0h1m2 0zm2 0zm3 0zm4 0zm7 0zm14 0zm32 0zm23 0zm-186 1zm6 0h2m2 0zm6 0zm12 0h1m5 0zm4 0h1m5 0zm4 0zm3 0zm2 0h2m5 0zm3 0zm3 0zm2 0zm3 0h4m11 0zm3 0zm6 0zm30 0zm18 0zm4 0zm29 0zm-165 1zm4 0zm7 0zm2 0zm8 0zm3 0h1m6 0zm3 0zm3 0zm3 0h2m5 0h1m3 0h1m7 0h1m6 0h1m2 0zm2 0zm3 0h1m5 0zm6 0h1m34 0zm12 0h1m27 0zm21 0zm-201 1zm9 0zm13 0zm6 0h1m5 0h2m8 0zm2 0zm2 0h1m15 0h1m4 0zm2 0zm5 0h1m5 0zm2 0zm3 0zm3 0h1m2 0zm2 0zm7 0zm8 0h1m6 0zm29 0zm13 0zm9 0zm-181 1zm9 0zm18 0zm16 0zm4 0zm10 0zm3 0zm6 0zm4 0zm4 0zm3 0zm4 0zm5 0zm6 0h3m2 0zm3 0zm2 0zm3 0zm9 0zm8 0zm2 0zm6 0zm9 0zm9 0zm28 0zm2 0zm-144 1zm9 0zm8 0zm6 0zm2 0zm5 0zm3 0h1m3 0zm14 0zm3 0zm3 0h1m6 0zm2 0zm4 0zm2 0zm2 0zm4 0h1m4 0zm13 0zm9 0zm34 0zm-125 1zm3 0zm2 0zm5 0zm4 0zm2 0h1m4 0zm8 0zm4 0zm13 0zm15 0zm8 0zm2 0zm2 0zm2 0zm59 0zm16 0zm4 0zm-184 1zm40 0zm2 0zm9 0zm5 0h1m6 0zm2 0h1m7 0h1m3 0h1m4 0zm6 0h1m2 0h1m4 0zm14 0zm5 0zm-109 1zm11 0zm8 0zm3 0h1m3 0zm3 0zm2 0zm3 0zm5 0zm3 0zm3 0h2m5 0zm2 0zm10 0h1m3 0h2m2 0zm3 0zm4 0zm8 0zm3 0h1m5 0h1m7 0zm8 0zm5 0zm17 0zm22 0zm-171 1zm8 0zm15 0zm4 0zm2 0zm4 0zm13 0zm4 0zm3 0h2m4 0h1m7 0h1m3 0zm5 0h1m2 0zm4 0zm2 0zm6 0zm5 0h2m18 0zm3 0zm3 0zm4 0zm27 0zm5 0h1m6 0zm5 0zm19 0zm-174 1zm7 0zm8 0zm3 0zm13 0zm7 0zm2 0zm2 0h1m4 0h1m8 0zm2 0zm2 0zm4 0zm6 0zm4 0zm2 0h1m6 0h2m10 0zm2 0zm3 0zm55 0zm6 0zm25 0zm-154 1zm4 0zm5 0h3m6 0zm5 0zm5 0zm2 0zm3 0zm9 0zm2 0zm7 0zm5 0h1m2 0zm6 0h1m8 0zm59 0zm-166 1zm10 0zm22 0zm2 0zm12 0zm2 0zm2 0zm3 0zm4 0h1m3 0zm2 0zm2 0zm2 0h1m5 0zm6 0h1m9 0zm14 0zm18 0zm-103 1zm16 0zm4 0zm2 0zm3 0zm9 0zm3 0zm20 0zm6 0zm6 0zm8 0zm4 0zm3 0zm5 0zm15 0zm55 0zm7 0zm-179 1zm16 0zm7 0zm2 0zm9 0zm6 0zm4 0zm3 0zm2 0zm2 0zm2 0zm4 0zm6 0h3m2 0zm9 0zm27 0zm-81 1zm2 0zm7 0h1m8 0zm7 0h1m2 0zm7 0zm13 0zm4 0zm4 0zm70 0zm20 0zm-165 1zm8 0zm8 0zm3 0zm6 0h1m4 0h2m5 0zm3 0zm2 0zm5 0zm2 0zm6 0zm4 0zm5 0zm6 0zm6 0h1m11 0zm4 0zm-91 1zm17 0h1m5 0zm5 0h2m2 0zm3 0zm5 0zm2 0zm2 0zm4 0zm2 0zm4 0zm14 0zm3 0h1m9 0zm2 0zm2 0zm8 0zm15 0h1m27 0zm-169 1zm18 0zm3 0zm13 0zm7 0zm11 0zm4 0zm4 0zm2 0h2m4 0zm14 0zm10 0zm11 0zm2 0zm3 0zm2 0zm2 0h1m52 0zm-116 1zm14 0zm8 0zm6 0h1m8 0zm3 0zm3 0zm5 0zm13 0zm-110 1zm42 0zm4 0zm24 0zm16 0h1m2 0zm8 0zm12 0zm6 0zm-75 1zm15 0h1m3 0zm7 0h3m8 0zm2 0zm16 0zm12 0h1m-86 1zm22 0zm7 0zm9 0zm3 0zm11 0zm2 0h1m3 0zm14 0zm5 0zm4 0zm-88 1zm27 0zm4 0zm13 0zm7 0zm8 0zm4 0h1m7 0zm4 0zm6 0h1m2 0zm3 0h1m16 0zm-66 1zm17 0zm12 0zm7 0zm4 0zm8 0zm19 0zm11 0zm2 0zm-66 1zm12 0zm5 0zm7 0zm8 0zm11 0zm8 0zm35 0zm-153 1zm17 0zm21 0zm29 0zm9 0zm3 0zm2 0zm4 0h1m14 0zm2 0zm5 0zm3 0zm-55 1zm7 0zm6 0h1m6 0zm10 0h1m7 0zm2 0zm9 0zm11 0zm6 0zm12 0zm3 0zm7 0zm75 0zm-159 1zm9 0zm2 0zm7 0zm4 0zm6 0zm6 0zm3 0zm34 0zm-84 1zm13 0zm4 0h2m2 0zm12 0zm10 0zm6 0zm6 0zm2 0zm-60 1zm6 0zm6 0zm20 0zm20 0zm18 0zm21 0zm-104 1zm37 0zm9 0h2m2 0zm8 0h1m-89 1zm56 0zm2 0zm9 0h3m11 0zm8 0zm5 0zm50 0zm-79 1zm2 0zm5 0zm6 0zm10 0zm6 0zm10 0zm70 0zm52 0zm-188 1zm6 0zm2 0zm11 0zm4 0h1m3 0h1m15 0zm6 0zm4 0zm5 0zm2 0zm36 0zm-83 1zm5 0zm18 0h1m6 0h1m2 0zm15 0zm2 0zm3 0zm-53 1zm27 0zm7 0zm5 0zm7 0h2m-99 1zm21 0zm38 0zm2 0zm8 0h1m3 0zm16 0zm2 0zm-91 1zm56 0zm3 0h1m9 0zm9 0zm4 0zm5 0h1m30 0h1m-63 1zm4 0zm13 0zm21 0zm11 0zm-105 1zm55 0zm7 0zm8 0zm12 0zm4 0zm27 0zm-113 1zm35 0zm33 0zm7 0zm28 0zm-103 1zm53 0h1m19 0h1m9 0zm2 0zm2 0zm9 0zm2 0h1m29 0zm-58 1zm12 0zm3 0h1m15 0zm-101 1zm21 0zm25 0zm33 0zm13 0zm13 0zm-26 1zm2 0h2m7 0zm91 0zm-181 1zm52 0zm7 0zm20 0h3m3 0zm7 0h1m70 0zm-125 1zm9 0zm12 0zm3 0zm5 0zm5 0zm2 0zm2 0zm12 0zm-31 1zm4 0zm3 0zm7 0h1m3 0zm4 0zm11 0h1m26 0zm-117 1zm51 0zm20 0zm15 0zm2 0zm3 0zm7 0zm8 0zm6 0zm77 0zm-189 1zm50 0zm3 0h1m6 0zm6 0zm2 0zm2 0zm7 0zm10 0zm4 0zm4 0zm6 0zm-101 1zm58 0zm3 0zm4 0zm8 0h1m21 0zm17 0zm21 0zm-133 1zm52 0h2m9 0zm2 0zm3 0h1m4 0zm3 0zm3 0h1m8 0zm-40 1zm4 0zm22 0zm7 0h1m8 0zm26 0zm-77 1zm6 0zm14 0zm2 0h2m3 0zm2 0zm11 0zm4 0zm4 0zm4 0zm14 0zm7 0zm-112 1zm27 0zm21 0zm2 0zm5 0zm5 0h1m3 0h1m2 0zm2 0zm10 0zm4 0zm6 0zm-2 1h1m20 0zm-55 1zm5 0zm3 0h1m11 0zm10 0zm3 0zm5 0zm13 0zm5 0zm-60 1zm18 0zm6 0zm15 0zm5 0zm2 0zm19 0zm-76 1zm16 0zm8 0zm3 0zm4 0zm6 0zm12 0zm5 0h1m60 0zm81 0zm-234 1zm30 0zm35 0h1m7 0zm19 0zm-92 1zm47 0zm12 0zm3 0zm3 0zm2 0zm7 0zm2 0zm11 0zm2 0zm-89 1zm58 0zm14 0zm3 0zm11 0zm14 0zm18 0zm26 0zm-86 1zm28 0h1m5 0zm6 0zm-98 1zm47 0zm33 0zm11 0zm13 0zm3 0zm16 0zm73 0zm-149 1zm7 0h1m2 0zm2 0zm2 0zm5 0zm6 0h1m31 0zm-48 1zm6 0h1m40 0zm5 0zm5 0zm-50 1zm3 0zm4 0zm5 0zm10 0zm5 0zm5 0zm22 0zm-47 1zm5 0zm5 0zm12 0zm-42 1zm8 0zm5 0h1m2 0zm21 0zm10 0zm147 0zm-199 1zm12 0zm14 0zm7 0zm12 0zm5 0zm-45 1zm13 0zm3 0h1m12 0zm-79 1zm68 0zm3 0zm38 0zm-109 1zm63 0zm8 0zm8 0zm10 0zm3 0zm22 0zm77 0zm-191 1zm59 0zm5 0zm7 0zm2 0zm6 0h1m27 0zm37 0zm-116 1zm31 0zm9 0zm4 0h1m2 0zm6 0h1m11 0zm9 0zm-102 1zm68 0zm3 0zm39 0zm12 0zm19 0zm-63 1zm9 0zm17 0zm48 0zm-152 1zm67 0h1m11 0zm3 0h1m56 0zm12 0zm-127 1zm23 0zm20 0h1m5 0zm6 0zm-14 1zm-65 1zm59 0zm3 0zm15 0h1m14 0zm9 0zm-41 1zm146 0zm-130 1zm9 0zm13 0zm-61 1zm2 0zm47 0zm3 0zm19 0zm40 0zm-148 1zm52 0zm8 0zm3 0zm25 0zm113 0zm-201 1zm25 0zm74 0zm-99 1zm68 0zm28 0h1m61 0zm-106 1zm13 0zm3 0zm17 0h1m-86 1zm5 0zm72 0zm2 0zm2 0zm10 0h1m-92 1zm68 0zm77 0zm-84 1zm19 0zm15 0zm33 0zm116 0zm-207 1zm39 0zm-76 1zm0 2zm60 0zm5 0zm9 0zm-39 3zm29 0zm21 0zm4 0zm25 0zm-114 1zm98 1zm-34 1zm4 0zm14 1zm-82 1zm0 1zm55 0zm6 0zm64 0zm-125 2zm74 0zm87 0zm-161 1zm70 0zm79 0zm-149 1zm109 0zm-109 2zm65 0zm-65 2zm0 1zm2 3zm2 0zm2 0zm2 0zm2 0zm2 0h3m3 0h1m5 0h1m2 0zm2 0h1m8 0zm7 0zm44 0zm22 0zm4 0h3m2 0zm2 0h1m2 0h1m7 0h1m5 0h1m2 0zm8 0h1m2 0h1m3 0zm4 0zm4 0zm3 0h1m5 0zm5 0zm2 0h1m6 0zm2 0h2m2 0zm5 0h1m3 0zm2 0zm2 0zm14 0zm2 0h1m3 0zm2 0zm7 0zm5 0zm2 0zm-243 2z"/><path stroke="#64ff3c" d="M1 26zm0 1zm0 8zm0 10zm0 2zm0 1zm0 3zm0 3zm0 4zm62 1zm8 2zm-70 5zm74 2zm27 3zm-25 1zm15 0zm3 0zm-25 1zm36 0zm-28 1zm60 0zm-45 1zm4 0zm33 0zm-129 1zm77 1zm6 0zm13 0zm-96 1zm85 0zm15 0zm5 0zm54 0zm25 0zm-111 1zm24 0zm-57 1zm32 0zm19 0zm-15 1zm9 0zm67 0zm-81 1zm10 0zm5 0zm5 0zm2 0zm4 0zm8 0zm-52 1zm32 0zm18 0zm12 0zm28 0zm-76 1zm9 0zm9 0h2m10 0zm25 0zm35 0zm10 0zm-100 1zm7 0zm2 0zm22 0zm3 0zm11 0zm4 0zm11 0zm71 0zm-151 1zm23 0zm19 0zm2 0zm4 0h1m11 0zm4 0zm3 0zm39 0zm5 0zm17 0zm-112 1zm5 0zm5 0zm6 0zm3 0zm2 0zm2 0zm31 0zm65 0zm8 0zm-165 1zm37 0h1m11 0zm5 0zm2 0h1m2 0zm7 0zm7 0zm83 0zm-111 1zm26 0h1m19 0zm-55 1zm21 0zm7 0zm9 0zm2 0zm87 0zm32 0zm-160 1zm19 0zm22 0zm103 0zm-154 1zm12 0zm18 0h1m3 0h1m11 0zm4 0zm2 0zm3 0zm49 0zm52 0zm-140 1zm7 0zm3 0zm10 0zm2 0zm2 0h1m10 0zm2 0zm5 0zm17 0zm36 0zm36 0zm8 0zm-152 1zm3 0zm5 0zm17 0zm13 0zm16 0h1m9 0zm43 0zm-90 1zm4 0zm3 0zm10 0zm3 0zm2 0h1m5 0zm2 0zm22 0zm-70 1h1m4 0zm11 0zm4 0zm3 0zm2 0h1m2 0zm2 0zm4 0zm2 0zm5 0zm25 0zm60 0zm23 0zm-130 1zm2 0zm19 0zm10 0zm5 0zm8 0zm30 0zm22 0zm-115 1h1m6 0zm24 0zm2 0zm38 0zm16 0zm54 0zm-161 1zm41 0zm5 0zm11 0zm5 0zm2 0zm5 0zm50 0zm20 0zm-113 1h1m6 0zm14 0zm2 0h1m2 0zm7 0zm3 0zm4 0zm7 0h1m-61 1zm22 0zm4 0zm6 0zm2 0zm10 0zm16 0zm2 0zm32 0zm-76 1zm2 0h1m4 0zm6 0zm7 0h1m4 0h1m5 0zm2 0zm6 0zm3 0zm6 0zm6 0zm25 0zm39 0zm-136 1zm6 0zm22 0zm2 0h1m3 0zm4 0zm3 0zm5 0zm7 0zm33 0zm-55 1zm2 0h1m5 0zm6 0zm4 0h1m9 0zm15 0zm45 0zm-107 1h1m10 0zm3 0zm2 0zm10 0zm13 0zm10 0zm10 0zm10 0zm-69 1zm5 0zm4 0zm2 0zm2 0zm2 0zm10 0zm10 0zm18 0zm46 0zm16 0zm11 0zm-130 1zm3 0zm2 0zm6 0zm6 0zm5 0zm2 0zm5 0zm3 0zm4 0zm6 0zm3 0zm3 0zm3 0zm3 0zm45 0zm41 0zm-132 1zm18 0zm7 0zm2 0zm7 0zm27 0zm2 0zm51 0zm-115 1h1m10 0zm5 0zm13 0h4m8 0zm122 0zm-175 1zm11 0h1m3 0zm4 0zm2 0h1m13 0zm4 0zm3 0zm5 0zm6 0zm7 0zm2 0zm2 0zm18 0zm-56 1zm12 0zm4 0zm2 0zm2 0zm3 0zm16 0h1m5 0zm-51 1zm9 0zm2 0zm10 0zm2 0zm3 0h1m68 0zm-113 1zm13 0zm3 0zm3 0zm2 0zm10 0zm8 0h1m2 0zm6 0zm2 0zm2 0zm4 0zm12 0zm19 0zm15 0zm-107 1zm6 0zm8 0h1m10 0zm6 0zm2 0zm5 0zm3 0zm3 0zm2 0zm2 0zm3 0zm2 0zm5 0zm2 0zm7 0zm6 0zm39 0zm-91 1h1m11 0h2m2 0zm3 0zm5 0zm2 0zm12 0zm12 0zm34 0zm36 0zm-145 1zm17 0zm6 0zm7 0zm3 0zm4 0zm2 0zm3 0zm3 0zm4 0h1m4 0zm7 0zm2 0zm2 0h1m6 0zm-98 1zm24 0zm29 0zm6 0zm7 0zm4 0h1m3 0zm10 0zm84 0zm-156 1zm16 0zm11 0zm4 0zm3 0zm9 0zm3 0zm10 0zm2 0zm5 0zm2 0zm11 0zm21 0zm-57 1zm8 0zm10 0zm29 0h1m-56 1zm2 0zm7 0zm3 0zm14 0zm3 0zm4 0zm2 0zm3 0zm-39 1zm5 0zm9 0zm2 0h1m8 0zm6 0zm5 0zm2 0h1m8 0zm4 0zm2 0h1m84 0zm-129 1zm12 0zm3 0h1m11 0zm15 0zm114 0zm-171 1zm33 0zm6 0zm-44 1zm16 0h1m5 0zm13 0zm3 0zm3 0zm5 0h1m4 0zm3 0zm4 0h1m-58 1zm20 0zm5 0zm5 0zm11 0zm3 0zm-53 1zm23 0zm5 0zm11 0h1m9 0zm3 0zm2 0zm3 0zm3 0h1m3 0zm3 0zm10 0zm-80 1zm39 0zm5 0zm5 0zm25 0zm-38 1zm4 0h1m11 0zm2 0h1m78 0zm-122 1zm7 0zm8 0zm9 0h1m6 0zm41 0zm-48 1h1m16 0h1m5 0h1m15 0zm-59 1zm14 0h1m3 0zm17 0zm7 0zm-23 1zm2 0zm9 0zm3 0zm4 0zm9 0zm2 0zm-25 1zm2 0zm3 0h1m3 0zm21 0zm29 0zm-73 1zm9 0zm8 0zm10 0zm20 0zm-106 1zm61 0zm5 0zm4 0zm6 0zm47 0zm-63 1zm12 0zm3 0zm5 0zm21 0zm-101 1zm61 0zm18 0zm11 0zm12 0zm-62 1zm13 0zm57 0zm-41 1zm13 0zm38 0zm-52 1zm12 1zm7 0zm-87 1zm73 0h1m23 0zm-39 1zm7 0zm-65 1zm85 1zm-18 1zm4 0zm22 0zm-26 1zm5 0zm16 0zm-20 1zm10 0zm3 0zm2 2zm-83 1zm53 0zm-53 2zm92 1zm27 0zm-46 1zm19 1zm-92 1zm78 0zm29 2zm-19 1zm-44 1zm-44 1zm68 0zm-68 1zm68 1zm6 0zm13 1zm-19 2zm-68 4zm60 0zm20 1zm-80 1zm56 0zm-56 2zm0 1zm89 2zm-33 1zm-7 4zm-49 1zm0 2zm0 1zm0 4zm52 0zm21 0zm-73 2zm0 1zm0 1zm0 1zm0 1zm89 0zm-89 1zm59 2zm-59 5zm0 2zm0 1zm0 2zm86 3zm-86 6zm0 3zm0 8zm0 3zm0 6zm0 3zm5 2zm17 0h1m5 0zm4 0zm3 0zm6 0zm2 0zm5 0h1m46 0zm5 0h1m3 0zm3 0zm2 0h1m2 0zm2 0zm7 0zm6 0h1m2 0h1m4 0zm6 0zm2 0h2m2 0zm8 0zm5 0zm2 0h1m3 0zm10 0h1m16 0zm8 0h1m7 0h1m3 0zm2 0zm4 0zm9 0zm4 0zm2 0z"/><path stroke="#fff200" d="M1 28zm0 16zm0 2zm0 9zm0 1zm0 4zm65 9zm-65 5zm0 5zm99 0zm-99 1zm0 1zm0 1zm83 0zm-83 2zm87 1zm4 0zm-22 1zm40 0zm-33 1zm74 0zm-63 1zm-25 1zm-62 1zm55 0zm32 0zm27 0zm-61 1zm13 0zm36 0zm-16 1h1m-1 2zm12 0zm-43 1zm40 2zm-30 1zm15 0zm6 0zm5 0zm107 0zm-129 1zm6 0zm32 0zm-46 1zm14 0zm23 0zm9 0zm77 0zm-100 1zm5 1zm13 0zm42 0zm-92 1zm4 0zm15 0zm20 0zm3 0zm-6 1zm2 0h1m-91 1zm85 0zm6 0zm-13 1zm6 0zm28 0zm57 0zm-94 1zm21 0zm-10 1zm3 0zm-25 1zm33 0zm-16 1zm9 0zm7 0zm-25 1zm14 0zm4 0zm-90 1zm51 0zm15 0zm3 0zm2 0zm9 0zm5 0zm6 0zm4 0zm2 0zm-19 1zm4 0zm-11 1zm8 0zm15 0zm7 1zm-101 1zm80 0zm3 0zm3 1zm8 0zm-21 1zm41 0zm-28 1zm4 0zm4 1zm15 0zm-28 1zm-9 1zm3 0zm19 0zm7 0zm-16 1zm-11 1zm21 0zm-41 1zm6 1zm9 0zm7 0zm3 0zm17 0zm-38 1zm18 6zm20 0zm-9 1zm-28 1zm15 3zm12 0zm-9 6zm-77 14zm0 1zm0 8zm0 49zm0 9zm0 4zm-1 15zm22 0zm10 0zm2 0h1m3 0zm7 0zm13 0zm5 0zm31 0zm4 0h1m4 0zm30 0zm24 0zm27 0zm52 0zm2 0zm5 0z"/><path stroke="#ffab00" d="M1 53zm0 24zm0 6zm91 4zm-8 1zm-83 1zm64 3zm-64 5zm79 0zm-79 2zm0 3zm79 3zm24 0zm-57 1zm55 1zm-24 5zm7 0zm12 0zm-1 1h1m-96 4zm76 1h1m4 0zm-81 10zm91 6zm-91 4zm0 2zm0 1zm0 2zm0 2zm0 5zm0 2zm0 9zm0 3zm0 18zm0 30zm0 31zm36 1zm4 0zm2 0zm4 0h1m4 0zm7 0zm34 0zm14 0z"/><path stroke="#ff6500" d="M1 71zm0 16zm0 1zm0 4zm114 0zm-114 2zm0 7zm0 7zm94 1zm-10 5zm-84 4zm78 14zm-78 1zm0 3zm73 108h1m2 0zm14 0h1m3 0zm11 0z"/><path stroke="#ff1e00" d="M1 85zm0 1zm0 5zm0 2zm0 2zm0 1zm0 2zm0 2zm0 3zm0 1zm0 2zm0 1zm0 2zm0 1zm95 0zm-95 1zm0 2zm0 1zm0 1zm0 4zm0 1zm0 1zm0 1zm0 1zm0 1zm0 1zm0 1zm0 1zm0 2zm0 1zm0 1zm0 3zm0 5zm0 8zm0 9zm39 88zm11 0zm2 0h4m3 0h2m2 0h9m3 0zm2 0h11m8 0zm3 0zm4 0zm5 0z"/></g>
<path d="M65.8 116.3H313.6V363.9" fill="none" stroke="#4a4a4a" stroke-width="1.5"/>
<path d="M65.8 115.6V363.9H314.3" fill="none" stroke="#2a2a2a" stroke-width="1.7"/>
<path d="M65.8 363.9v6.7M77.9 363.9v3.4M90 363.9v3.4M102.1 363.9v3.4M114.2 363.9v6.7M126.3 363.9v3.4M138.5 363.9v3.4M150.6 363.9v3.4M162.7 363.9v6.7M174.8 363.9v3.4M186.9 363.9v3.4M199 363.9v3.4M211.1 363.9v6.7M223.2 363.9v3.4M235.3 363.9v3.4M247.4 363.9v3.4M259.6 363.9v6.7M271.7 363.9v3.4M283.8 363.9v3.4M295.9 363.9v3.4M308 363.9v6.7" stroke="#333" stroke-width="1.5" fill="none"/>
<text class="t" x="65.8" y="388.2" font-size="12.0">0</text>
<text class="t" x="114.2" y="388.2" font-size="12.0">200</text>
<text class="t" x="162.7" y="388.2" font-size="12.0">400</text>
<text class="t" x="211.1" y="388.2" font-size="12.0">600</text>
<text class="t" x="259.6" y="388.2" font-size="12.0">800</text>
<text class="t" x="308" y="388.2" font-size="12.0">1000</text>
<path d="M65.8 363.9h-6.3M65.8 351.8h-2.8M65.8 339.7h-2.8M65.8 327.6h-2.8M65.8 315.5h-6.3M65.8 303.4h-2.8M65.8 291.3h-2.8M65.8 279.2h-2.8M65.8 267.1h-6.3M65.8 255h-2.8M65.8 242.9h-2.8M65.8 230.9h-2.8M65.8 218.8h-6.3M65.8 206.7h-2.8M65.8 194.6h-2.8M65.8 182.5h-2.8M65.8 170.4h-6.3M65.8 158.3h-2.8M65.8 146.2h-2.8M65.8 134.1h-2.8M65.8 122h-6.3" stroke="#333" stroke-width="1.5" fill="none"/>
<text class="t e" x="55.6" y="368.2" font-size="12.0">0</text>
<text class="t e" x="55.6" y="319.8" font-size="12.0">200</text>
<text class="t e" x="55.6" y="271.4" font-size="12.0">400</text>
<text class="t e" x="55.6" y="223.1" font-size="12.0">600</text>
<text class="t e" x="55.6" y="174.7" font-size="12.0">800</text>
<text class="t e" x="55.6" y="126.3" font-size="12.0">1000</text>
<polygon points="132.6,157.5 168,150.5 216.5,186.5 205,260 181.8,293 150,295 111.5,258 114,193" fill="none" stroke="#ff22ff" stroke-width="1.5"/>
<text class="b" x="275.9" y="150.8" font-size="18.8">21.5%</text>
<text class="b" x="23.6" y="255.6" font-size="22.6" transform="rotate(-90 23.6 255.6)">SSC</text>
<text class="b" x="191" y="408.7" font-size="22.3">FSC</text>
<path d="M483.8 121.2H737.7V361" fill="none" stroke="#4a4a4a" stroke-width="1.5"/>
<path d="M483.8 120.5V361H738.4" fill="none" stroke="#2a2a2a" stroke-width="1.7"/>
<path d="M483.6 361v6.7M496.1 361v3.4M508.5 361v3.4M521 361v3.4M533.4 361v6.7M545.9 361v3.4M558.3 361v3.4M570.8 361v3.4M583.2 361v6.7M595.7 361v3.4M608.2 361v3.4M620.6 361v3.4M633.1 361v6.7M645.5 361v3.4M658 361v3.4M670.4 361v3.4M682.9 361v6.7M695.3 361v3.4M707.8 361v3.4M720.2 361v3.4M732.7 361v6.7" stroke="#333" stroke-width="1.5" fill="none"/>
<text class="t" x="483.6" y="384.4" font-size="12.0">0</text>
<text class="t" x="533.4" y="384.4" font-size="12.0">200</text>
<text class="t" x="583.2" y="384.4" font-size="12.0">400</text>
<text class="t" x="633.1" y="384.4" font-size="12.0">600</text>
<text class="t" x="682.9" y="384.4" font-size="12.0">800</text>
<text class="t" x="732.7" y="384.4" font-size="12.0">1000</text>
<path d="M483.8 361h-6.6M483.8 343h-2.6M483.8 332.4h-2.6M483.8 324.9h-2.6M483.8 319.1h-2.6M483.8 314.3h-2.6M483.8 310.3h-2.6M483.8 306.9h-2.6M483.8 303.8h-2.6M483.8 301.1h-6.6M483.8 283h-2.6M483.8 272.4h-2.6M483.8 265h-2.6M483.8 259.1h-2.6M483.8 254.4h-2.6M483.8 250.4h-2.6M483.8 246.9h-2.6M483.8 243.8h-2.6M483.8 241.1h-6.6M483.8 223.1h-2.6M483.8 212.5h-2.6M483.8 205h-2.6M483.8 199.2h-2.6M483.8 194.4h-2.6M483.8 190.4h-2.6M483.8 187h-2.6M483.8 183.9h-2.6M483.8 181.1h-6.6M483.8 163.1h-2.6M483.8 152.5h-2.6M483.8 145.1h-2.6M483.8 139.2h-2.6M483.8 134.5h-2.6M483.8 130.5h-2.6M483.8 127h-2.6M483.8 123.9h-2.6M483.8 121.2h-6.6" stroke="#333" stroke-width="1.2" fill="none"/>
<text class="t e" x="473.2" y="365.7" font-size="12.3">10<tspan font-size="8.2" dy="-6.2">0</tspan></text>
<text class="t e" x="473.2" y="305.8" font-size="12.3">10<tspan font-size="8.2" dy="-6.2">1</tspan></text>
<text class="t e" x="473.2" y="245.8" font-size="12.3">10<tspan font-size="8.2" dy="-6.2">2</tspan></text>
<text class="t e" x="473.2" y="185.8" font-size="12.3">10<tspan font-size="8.2" dy="-6.2">3</tspan></text>
<text class="t e" x="473.2" y="125.9" font-size="12.3">10<tspan font-size="8.2" dy="-6.2">4</tspan></text>
<rect x="508" y="140" width="153.6" height="113.5" fill="none" stroke="#ff22ff" stroke-width="1.5"/>
<text class="b" x="699.5" y="150.7" font-size="18.4">58.7%</text>
<text class="b" x="442.6" y="248.7" font-size="22.3" transform="rotate(-90 442.6 248.7)">CD68</text>
<text class="b" x="602" y="408.7" font-size="22.3">FSC</text>
<path d="M913.4 121.7H1165.7V361" fill="none" stroke="#4a4a4a" stroke-width="1.5"/>
<path d="M913.4 121V361H1166.4" fill="none" stroke="#2a2a2a" stroke-width="1.7"/>
<path d="M913.4 361v6.6M932.4 361v2.8M943.5 361v2.8M951.4 361v2.8M957.5 361v2.8M962.5 361v2.8M966.7 361v2.8M970.4 361v2.8M973.6 361v2.8M976.5 361v6.6M995.5 361v2.8M1006.6 361v2.8M1014.4 361v2.8M1020.6 361v2.8M1025.6 361v2.8M1029.8 361v2.8M1033.4 361v2.8M1036.7 361v2.8M1039.5 361v6.6M1058.5 361v2.8M1069.6 361v2.8M1077.5 361v2.8M1083.6 361v2.8M1088.6 361v2.8M1092.9 361v2.8M1096.5 361v2.8M1099.7 361v2.8M1102.6 361v6.6M1121.6 361v2.8M1132.7 361v2.8M1140.6 361v2.8M1146.7 361v2.8M1151.7 361v2.8M1155.9 361v2.8M1159.6 361v2.8M1162.8 361v2.8M1165.7 361v6.6" stroke="#333" stroke-width="1.2" fill="none"/>
<text class="t" x="912.9" y="383.6" font-size="12.3">10<tspan font-size="8.2" dy="-6.2">0</tspan></text>
<text class="t" x="976" y="383.6" font-size="12.3">10<tspan font-size="8.2" dy="-6.2">1</tspan></text>
<text class="t" x="1039" y="383.6" font-size="12.3">10<tspan font-size="8.2" dy="-6.2">2</tspan></text>
<text class="t" x="1102.1" y="383.6" font-size="12.3">10<tspan font-size="8.2" dy="-6.2">3</tspan></text>
<text class="t" x="1165.2" y="383.6" font-size="12.3">10<tspan font-size="8.2" dy="-6.2">4</tspan></text>
<path d="M913.4 361h-6.6M913.4 343h-2.6M913.4 332.5h-2.6M913.4 325h-2.6M913.4 319.2h-2.6M913.4 314.4h-2.6M913.4 310.4h-2.6M913.4 307h-2.6M913.4 303.9h-2.6M913.4 301.2h-6.6M913.4 283.2h-2.6M913.4 272.6h-2.6M913.4 265.2h-2.6M913.4 259.4h-2.6M913.4 254.6h-2.6M913.4 250.6h-2.6M913.4 247.1h-2.6M913.4 244.1h-2.6M913.4 241.3h-6.6M913.4 223.3h-2.6M913.4 212.8h-2.6M913.4 205.3h-2.6M913.4 199.5h-2.6M913.4 194.8h-2.6M913.4 190.8h-2.6M913.4 187.3h-2.6M913.4 184.3h-2.6M913.4 181.5h-6.6M913.4 163.5h-2.6M913.4 153h-2.6M913.4 145.5h-2.6M913.4 139.7h-2.6M913.4 135h-2.6M913.4 131h-2.6M913.4 127.5h-2.6M913.4 124.4h-2.6M913.4 121.7h-6.6" stroke="#333" stroke-width="1.2" fill="none"/>
<text class="t e" x="902.2" y="365.7" font-size="12.3">10<tspan font-size="8.2" dy="-6.2">0</tspan></text>
<text class="t e" x="902.2" y="305.9" font-size="12.3">10<tspan font-size="8.2" dy="-6.2">1</tspan></text>
<text class="t e" x="902.2" y="246" font-size="12.3">10<tspan font-size="8.2" dy="-6.2">2</tspan></text>
<text class="t e" x="902.2" y="186.2" font-size="12.3">10<tspan font-size="8.2" dy="-6.2">3</tspan></text>
<text class="t e" x="902.2" y="126.4" font-size="12.3">10<tspan font-size="8.2" dy="-6.2">4</tspan></text>
<line x1="1039.2" y1="123.5" x2="1039.2" y2="359.5" stroke="#ff22ff" stroke-width="1.7"/>
<line x1="915" y1="260.8" x2="1164" y2="260.8" stroke="#ff22ff" stroke-width="1.7"/>
<text class="b e" x="1120.5" y="142.7" font-size="18.8">71.9</text>
<text class="b e" x="1158.8" y="142.7" font-size="18.8">7.3</text>
<text class="b e" x="1118.8" y="167.4" font-size="18.8">20.4</text>
<text class="b e" x="1159.2" y="167.4" font-size="18.8">0.4</text>
<line x1="1088.1" y1="146.5" x2="1159" y2="146.5" stroke="#000" stroke-width="1.6"/>
<line x1="1121.8" y1="124" x2="1121.8" y2="170.7" stroke="#000" stroke-width="1.6"/>
<text class="b" x="873.5" y="248.2" font-size="22.3" transform="rotate(-90 873.5 248.2)">CD80</text>
<text class="b" x="1047.5" y="404.3" font-size="22.3">CD206</text>
<path d="M79.7 600.7H333.9V855" fill="none" stroke="#4a4a4a" stroke-width="1.5"/>
<path d="M79.7 600V855H334.6" fill="none" stroke="#2a2a2a" stroke-width="1.7"/>
<path d="M79.7 855v6.7M92.1 855v3.4M104.6 855v3.4M117 855v3.4M129.4 855v6.7M141.9 855v3.4M154.3 855v3.4M166.7 855v3.4M179.1 855v6.7M191.6 855v3.4M204 855v3.4M216.4 855v3.4M228.9 855v6.7M241.3 855v3.4M253.7 855v3.4M266.2 855v3.4M278.6 855v6.7M291 855v3.4M303.4 855v3.4M315.9 855v3.4M328.3 855v6.7" stroke="#333" stroke-width="1.5" fill="none"/>
<text class="t" x="79.7" y="879.8" font-size="12.2">0</text>
<text class="t" x="129.4" y="879.8" font-size="12.2">200</text>
<text class="t" x="179.1" y="879.8" font-size="12.2">400</text>
<text class="t" x="228.9" y="879.8" font-size="12.2">600</text>
<text class="t" x="278.6" y="879.8" font-size="12.2">800</text>
<text class="t" x="328.3" y="879.8" font-size="12.2">1000</text>
<path d="M79.7 855h-6.3M79.7 842.5h-2.8M79.7 830.1h-2.8M79.7 817.6h-2.8M79.7 805.1h-6.3M79.7 792.7h-2.8M79.7 780.2h-2.8M79.7 767.7h-2.8M79.7 755.3h-6.3M79.7 742.8h-2.8M79.7 730.4h-2.8M79.7 717.9h-2.8M79.7 705.4h-6.3M79.7 693h-2.8M79.7 680.5h-2.8M79.7 668h-2.8M79.7 655.6h-6.3M79.7 643.1h-2.8M79.7 630.6h-2.8M79.7 618.2h-2.8M79.7 605.7h-6.3" stroke="#333" stroke-width="1.5" fill="none"/>
<text class="t e" x="69.8" y="859.3" font-size="12.2">0</text>
<text class="t e" x="69.8" y="809.4" font-size="12.2">200</text>
<text class="t e" x="69.8" y="759.6" font-size="12.2">400</text>
<text class="t e" x="69.8" y="709.7" font-size="12.2">600</text>
<text class="t e" x="69.8" y="659.9" font-size="12.2">800</text>
<text class="t e" x="69.8" y="610" font-size="12.2">1000</text>
<polygon points="148.8,642.7 184.7,635.6 233.8,673 222.6,747.4 198.7,782.5 166.2,783.9 126.3,746.8 128.6,680" fill="none" stroke="#ff22ff" stroke-width="1.5"/>
<text class="b" x="293.8" y="636" font-size="18.8">24%</text>
<text class="b" x="37" y="746.6" font-size="22.6" transform="rotate(-90 37 746.6)">SSC</text>
<text class="b" x="213.8" y="897.2" font-size="22.3">FSC</text>
<path d="M497.9 609.1H769.4V855.3" fill="none" stroke="#4a4a4a" stroke-width="1.5"/>
<path d="M497.9 608.4V855.3H770.1" fill="none" stroke="#2a2a2a" stroke-width="1.7"/>
<path d="M497.9 855.3v6.7M511.1 855.3v3.4M524.4 855.3v3.4M537.6 855.3v3.4M550.9 855.3v6.7M564.1 855.3v3.4M577.4 855.3v3.4M590.6 855.3v3.4M603.9 855.3v6.7M617.1 855.3v3.4M630.4 855.3v3.4M643.6 855.3v3.4M656.9 855.3v6.7M670.1 855.3v3.4M683.4 855.3v3.4M696.6 855.3v3.4M709.9 855.3v6.7M723.1 855.3v3.4M736.4 855.3v3.4M749.6 855.3v3.4M762.9 855.3v6.7" stroke="#333" stroke-width="1.5" fill="none"/>
<text class="t" x="497.9" y="878.8" font-size="12.2">0</text>
<text class="t" x="550.9" y="878.8" font-size="12.2">200</text>
<text class="t" x="603.9" y="878.8" font-size="12.2">400</text>
<text class="t" x="656.9" y="878.8" font-size="12.2">600</text>
<text class="t" x="709.9" y="878.8" font-size="12.2">800</text>
<text class="t" x="762.9" y="878.8" font-size="12.2">1000</text>
<path d="M497.9 855.3h-6.6M497.9 836.8h-2.6M497.9 825.9h-2.6M497.9 818.2h-2.6M497.9 812.3h-2.6M497.9 807.4h-2.6M497.9 803.3h-2.6M497.9 799.7h-2.6M497.9 796.6h-2.6M497.9 793.8h-6.6M497.9 775.2h-2.6M497.9 764.4h-2.6M497.9 756.7h-2.6M497.9 750.7h-2.6M497.9 745.9h-2.6M497.9 741.7h-2.6M497.9 738.2h-2.6M497.9 735h-2.6M497.9 732.2h-6.6M497.9 713.7h-2.6M497.9 702.8h-2.6M497.9 695.1h-2.6M497.9 689.2h-2.6M497.9 684.3h-2.6M497.9 680.2h-2.6M497.9 676.6h-2.6M497.9 673.5h-2.6M497.9 670.6h-6.6M497.9 652.1h-2.6M497.9 641.3h-2.6M497.9 633.6h-2.6M497.9 627.6h-2.6M497.9 622.8h-2.6M497.9 618.6h-2.6M497.9 615.1h-2.6M497.9 611.9h-2.6M497.9 609.1h-6.6" stroke="#333" stroke-width="1.2" fill="none"/>
<text class="t e" x="486.4" y="860" font-size="12.3">10<tspan font-size="8.2" dy="-6.2">0</tspan></text>
<text class="t e" x="486.4" y="798.5" font-size="12.3">10<tspan font-size="8.2" dy="-6.2">1</tspan></text>
<text class="t e" x="486.4" y="736.9" font-size="12.3">10<tspan font-size="8.2" dy="-6.2">2</tspan></text>
<text class="t e" x="486.4" y="675.4" font-size="12.3">10<tspan font-size="8.2" dy="-6.2">3</tspan></text>
<text class="t e" x="486.4" y="613.8" font-size="12.3">10<tspan font-size="8.2" dy="-6.2">4</tspan></text>
<rect x="524.3" y="628.1" width="163.2" height="116.5" fill="none" stroke="#ff22ff" stroke-width="1.5"/>
<text class="b" x="715.6" y="636" font-size="18.8">46%</text>
<text class="b" x="455.7" y="752.8" font-size="22.3" transform="rotate(-90 455.7 752.8)">CD68</text>
<text class="b" x="624.7" y="897.2" font-size="22.3">FSC</text>
<path d="M926.8 609.1H1186.2V855.3" fill="none" stroke="#4a4a4a" stroke-width="1.5"/>
<path d="M926.8 608.4V855.3H1186.9" fill="none" stroke="#2a2a2a" stroke-width="1.7"/>
<path d="M926.8 855.3v6.6M946.3 855.3v2.8M957.7 855.3v2.8M965.8 855.3v2.8M972.1 855.3v2.8M977.3 855.3v2.8M981.6 855.3v2.8M985.4 855.3v2.8M988.7 855.3v2.8M991.6 855.3v6.6M1011.2 855.3v2.8M1022.6 855.3v2.8M1030.7 855.3v2.8M1037 855.3v2.8M1042.1 855.3v2.8M1046.5 855.3v2.8M1050.2 855.3v2.8M1053.5 855.3v2.8M1056.5 855.3v6.6M1076 855.3v2.8M1087.4 855.3v2.8M1095.5 855.3v2.8M1101.8 855.3v2.8M1107 855.3v2.8M1111.3 855.3v2.8M1115.1 855.3v2.8M1118.4 855.3v2.8M1121.3 855.3v6.6M1140.9 855.3v2.8M1152.3 855.3v2.8M1160.4 855.3v2.8M1166.7 855.3v2.8M1171.8 855.3v2.8M1176.2 855.3v2.8M1179.9 855.3v2.8M1183.2 855.3v2.8M1186.2 855.3v6.6" stroke="#333" stroke-width="1.2" fill="none"/>
<text class="t" x="926.3" y="878.8" font-size="12.3">10<tspan font-size="8.2" dy="-6.2">0</tspan></text>
<text class="t" x="991.1" y="878.8" font-size="12.3">10<tspan font-size="8.2" dy="-6.2">1</tspan></text>
<text class="t" x="1056" y="878.8" font-size="12.3">10<tspan font-size="8.2" dy="-6.2">2</tspan></text>
<text class="t" x="1120.8" y="878.8" font-size="12.3">10<tspan font-size="8.2" dy="-6.2">3</tspan></text>
<text class="t" x="1185.7" y="878.8" font-size="12.3">10<tspan font-size="8.2" dy="-6.2">4</tspan></text>
<path d="M926.8 855.3h-6.6M926.8 836.8h-2.6M926.8 825.9h-2.6M926.8 818.2h-2.6M926.8 812.3h-2.6M926.8 807.4h-2.6M926.8 803.3h-2.6M926.8 799.7h-2.6M926.8 796.6h-2.6M926.8 793.8h-6.6M926.8 775.2h-2.6M926.8 764.4h-2.6M926.8 756.7h-2.6M926.8 750.7h-2.6M926.8 745.9h-2.6M926.8 741.7h-2.6M926.8 738.2h-2.6M926.8 735h-2.6M926.8 732.2h-6.6M926.8 713.7h-2.6M926.8 702.8h-2.6M926.8 695.1h-2.6M926.8 689.2h-2.6M926.8 684.3h-2.6M926.8 680.2h-2.6M926.8 676.6h-2.6M926.8 673.5h-2.6M926.8 670.6h-6.6M926.8 652.1h-2.6M926.8 641.3h-2.6M926.8 633.6h-2.6M926.8 627.6h-2.6M926.8 622.8h-2.6M926.8 618.6h-2.6M926.8 615.1h-2.6M926.8 611.9h-2.6M926.8 609.1h-6.6" stroke="#333" stroke-width="1.2" fill="none"/>
<text class="t e" x="915.8" y="860" font-size="12.3">10<tspan font-size="8.2" dy="-6.2">0</tspan></text>
<text class="t e" x="915.8" y="798.5" font-size="12.3">10<tspan font-size="8.2" dy="-6.2">1</tspan></text>
<text class="t e" x="915.8" y="736.9" font-size="12.3">10<tspan font-size="8.2" dy="-6.2">2</tspan></text>
<text class="t e" x="915.8" y="675.4" font-size="12.3">10<tspan font-size="8.2" dy="-6.2">3</tspan></text>
<text class="t e" x="915.8" y="613.8" font-size="12.3">10<tspan font-size="8.2" dy="-6.2">4</tspan></text>
<line x1="1056.6" y1="611" x2="1056.6" y2="853.8" stroke="#ff22ff" stroke-width="1.7"/>
<line x1="928.5" y1="752.1" x2="1184.8" y2="752.1" stroke="#ff22ff" stroke-width="1.7"/>
<text class="b e" x="1141" y="631.3" font-size="18.8">55.5</text>
<text class="b e" x="1181.5" y="631.3" font-size="18.8">15.3</text>
<text class="b e" x="1140" y="655.3" font-size="18.8">27.6</text>
<text class="b e" x="1180.4" y="655.3" font-size="18.8">1.6</text>
<line x1="1111.6" y1="634.9" x2="1182" y2="634.9" stroke="#000" stroke-width="1.6"/>
<line x1="1144.6" y1="611.3" x2="1144.6" y2="658.5" stroke="#000" stroke-width="1.6"/>
<text class="b" x="885.7" y="752.8" font-size="22.3" transform="rotate(-90 885.7 752.8)">CD80</text>
<text class="b" x="1047.5" y="897.2" font-size="22.3">CD206</text>
<path d="M347.4 191.4L446.8 191.4" fill="none" stroke="#000" stroke-width="2.8"/><path d="M430.4 200.7L446.8 191.4L430.4 182.1" fill="none" stroke="#000" stroke-width="2.8" stroke-linejoin="miter" stroke-linecap="round"/>
<path d="M772.4 187.8L871.7 187.8" fill="none" stroke="#000" stroke-width="2.8"/><path d="M855.3 197.1L871.7 187.8L855.3 178.5" fill="none" stroke="#000" stroke-width="2.8" stroke-linejoin="miter" stroke-linecap="round"/>
<path d="M364 671.2L462.5 671.2" fill="none" stroke="#000" stroke-width="2.8"/><path d="M446.1 680.5L462.5 671.2L446.1 661.9" fill="none" stroke="#000" stroke-width="2.8" stroke-linejoin="miter" stroke-linecap="round"/>
<path d="M792.9 671.2L892.5 671.2" fill="none" stroke="#000" stroke-width="2.8"/><path d="M876.1 680.5L892.5 671.2L876.1 661.9" fill="none" stroke="#000" stroke-width="2.8" stroke-linejoin="miter" stroke-linecap="round"/>
<path d="M1199 249L1338 195.4" fill="none" stroke="#000" stroke-width="2.8"/><path d="M1326 210L1338 195.4L1319.4 192.7" fill="none" stroke="#000" stroke-width="2.8" stroke-linejoin="miter" stroke-linecap="round"/>
<path d="M1199 262L1338 317" fill="none" stroke="#000" stroke-width="2.8"/><path d="M1319.4 319.6L1338 317L1326.2 302.4" fill="none" stroke="#000" stroke-width="2.8" stroke-linejoin="miter" stroke-linecap="round"/>
<path d="M1211.3 749L1348.5 695.8" fill="none" stroke="#000" stroke-width="2.8"/><path d="M1336.6 710.4L1348.5 695.8L1329.9 693.1" fill="none" stroke="#000" stroke-width="2.8" stroke-linejoin="miter" stroke-linecap="round"/>
<path d="M1211.3 761.5L1348.5 812.1" fill="none" stroke="#000" stroke-width="2.8"/><path d="M1329.9 815.1L1348.5 812.1L1336.3 797.8" fill="none" stroke="#000" stroke-width="2.8" stroke-linejoin="miter" stroke-linecap="round"/>
<path d="M1411 30.8H1668.1" fill="none" stroke="#aaa" stroke-width="1.2"/><path d="M1668.1 30.8V237.2" fill="none" stroke="#666" stroke-width="1.6"/><path d="M1412.3 30.8V225.2" fill="none" stroke="#1010ff" stroke-width="1.6"/>
<path d="M1411 30.8V237.2H1668.1" fill="none" stroke="#222" stroke-width="1.6"/>
<path d="M1411 237.2h-7.5M1411 227.3h-3M1411 217.4h-3M1411 207.6h-3M1411 197.7h-7.5M1411 187.8h-3M1411 177.9h-3M1411 168h-3M1411 158.2h-7.5M1411 148.3h-3M1411 138.4h-3M1411 128.5h-3M1411 118.6h-7.5M1411 108.8h-3M1411 98.9h-3M1411 89h-3M1411 79.1h-7.5M1411 69.2h-3M1411 59.4h-3M1411 49.5h-3M1411 39.6h-7.5M1411 237.2v5M1430.3 237.2v2.5M1441.7 237.2v2.5M1449.7 237.2v2.5M1455.9 237.2v2.5M1461 237.2v2.5M1465.3 237.2v2.5M1469 237.2v2.5M1472.3 237.2v2.5M1475.3 237.2v5M1494.6 237.2v2.5M1505.9 237.2v2.5M1514 237.2v2.5M1520.2 237.2v2.5M1525.3 237.2v2.5M1529.6 237.2v2.5M1533.3 237.2v2.5M1536.6 237.2v2.5M1539.5 237.2v5M1558.9 237.2v2.5M1570.2 237.2v2.5M1578.2 237.2v2.5M1584.5 237.2v2.5M1589.6 237.2v2.5M1593.9 237.2v2.5M1597.6 237.2v2.5M1600.9 237.2v2.5M1603.8 237.2v5M1623.2 237.2v2.5M1634.5 237.2v2.5M1642.5 237.2v2.5M1648.8 237.2v2.5M1653.8 237.2v2.5M1658.1 237.2v2.5M1661.9 237.2v2.5M1665.2 237.2v2.5M1668.1 237.2v5" stroke="#222" stroke-width="1.2" fill="none"/>
<text class="t e" font-size="9" transform="translate(1400 240.4) scale(1.38 1)">0</text>
<text class="t e" font-size="9" transform="translate(1400 200.9) scale(1.38 1)">20</text>
<text class="t e" font-size="9" transform="translate(1400 161.4) scale(1.38 1)">40</text>
<text class="t e" font-size="9" transform="translate(1400 121.8) scale(1.38 1)">60</text>
<text class="t e" font-size="9" transform="translate(1400 82.3) scale(1.38 1)">80</text>
<text class="t e" font-size="9" transform="translate(1400 42.8) scale(1.38 1)">100</text>
<path d="M1411 237.2L1478.9 237L1486.9 236.3L1494.8 235.6L1499.5 234.4L1504.2 232L1509 230.9L1513.7 230.1L1518.5 230.1L1523.2 229.9L1526.4 230.4L1528.7 230.1L1531.1 226.4L1533.5 223.3L1535.8 223L1538.2 223L1540.6 217L1542.9 215.4L1544.5 214.6L1546.1 209L1547.7 204.3L1550.1 203.5L1551.6 201.9L1553.2 190.9L1554.8 183L1556.4 173.5L1558.4 164L1560.3 164.8L1561.9 167.5L1563.2 167.9L1564.3 159.2L1565.4 121.3L1566.7 107L1568.2 105.5L1569.8 97.5L1572.2 96.8L1573.8 77L1575.3 67.5L1576.9 64.3L1578.8 50.9L1580.1 53.3L1581.3 60.4L1582.9 57.2L1584 54L1585.6 43.8L1586.7 43L1587.7 47.7L1588.3 64.3L1589.6 73.8L1591.1 83.3L1592.4 102.3L1593.5 118.1L1595.1 127.6L1596.7 138.7L1598.7 152.9L1600.3 170.3L1601.9 189.3L1603 198.8L1604.6 205.1L1606.2 213L1608.2 220.9L1610.9 228.8L1614.1 234.4L1618 236.7L1621.2 237.2L1668.1 237.2" fill="none" stroke="#ff0000" stroke-width="2.9" stroke-linejoin="round"/><path d="M1411.9 30.8L1413.2 130.8L1414.5 226.9L1416.5 224.1L1418.6 221.7L1421.7 225.7L1424.4 222.5L1426.8 217.7L1428.9 213.8L1431.5 214.6L1435 208.3L1437.1 206.7L1439.1 203.5L1441.3 204.8L1443.4 195.6L1445.8 189.3L1448.1 182.2L1449.7 181.4L1452.1 171.9L1454.5 161.6L1456 159.2L1458.4 150.5L1460.8 144.2L1462.4 139.5L1464.4 137.1L1466.3 125.2L1468.2 110.2L1470.3 96L1472.6 82.5L1474.2 79.4L1475.8 76.2L1476.9 65.9L1478 46.9L1478.9 46.1L1480.1 51.7L1481.2 59.3L1482.1 51.7L1483.2 42.2L1484.2 41.9L1485.3 46.9L1486.4 42.7L1487.6 46.1L1488.7 50.1L1490 61.2L1490.8 70.7L1491.6 80.1L1493.2 72.2L1494.3 77L1495.2 88.1L1496.3 99.1L1497.6 103.1L1498.7 111.8L1499.8 126L1501.1 145L1502.3 159.2L1503.9 171.9L1505.5 179.8L1507.4 189.3L1509 197.2L1511.3 205.1L1513.7 211.4L1516.1 218.5L1518.5 222.5L1521.6 225.7L1524.8 228L1527.9 229.6L1531.1 228.8L1534.3 230.4L1537.4 231.2L1540.6 232.8L1543.7 233.6L1546.1 235.9L1547.7 237.2L1668.1 237.2" fill="none" stroke="#1010ff" stroke-width="1.3" stroke-linejoin="round"/>
<text class="t" font-size="9" transform="translate(1411.5 257.2) scale(1.38 1)">10<tspan font-size="6.5" dy="-4.2">0</tspan></text>
<text class="t" font-size="9" transform="translate(1475.8 257.2) scale(1.38 1)">10<tspan font-size="6.5" dy="-4.2">1</tspan></text>
<text class="t" font-size="9" transform="translate(1540 257.2) scale(1.38 1)">10<tspan font-size="6.5" dy="-4.2">2</tspan></text>
<text class="t" font-size="9" transform="translate(1604.3 257.2) scale(1.38 1)">10<tspan font-size="6.5" dy="-4.2">3</tspan></text>
<text class="t" font-size="9" transform="translate(1668.6 257.2) scale(1.38 1)">10<tspan font-size="6.5" dy="-4.2">4</tspan></text>
<path d="M1411 299H1668.1" fill="none" stroke="#aaa" stroke-width="1.2"/><path d="M1668.1 299V505.6" fill="none" stroke="#666" stroke-width="1.6"/><path d="M1412.3 299V493.6" fill="none" stroke="#1010ff" stroke-width="1.6"/>
<path d="M1411 299V505.6H1668.1" fill="none" stroke="#222" stroke-width="1.6"/>
<path d="M1411 505.6h-7.5M1411 495.7h-3M1411 485.8h-3M1411 475.9h-3M1411 466h-7.5M1411 456.2h-3M1411 446.3h-3M1411 436.4h-3M1411 426.5h-7.5M1411 416.6h-3M1411 406.7h-3M1411 396.8h-3M1411 386.9h-7.5M1411 377h-3M1411 367.1h-3M1411 357.2h-3M1411 347.4h-7.5M1411 337.5h-3M1411 327.6h-3M1411 317.7h-3M1411 307.8h-7.5M1411 505.6v5M1430.3 505.6v2.5M1441.7 505.6v2.5M1449.7 505.6v2.5M1455.9 505.6v2.5M1461 505.6v2.5M1465.3 505.6v2.5M1469 505.6v2.5M1472.3 505.6v2.5M1475.3 505.6v5M1494.6 505.6v2.5M1505.9 505.6v2.5M1514 505.6v2.5M1520.2 505.6v2.5M1525.3 505.6v2.5M1529.6 505.6v2.5M1533.3 505.6v2.5M1536.6 505.6v2.5M1539.5 505.6v5M1558.9 505.6v2.5M1570.2 505.6v2.5M1578.2 505.6v2.5M1584.5 505.6v2.5M1589.6 505.6v2.5M1593.9 505.6v2.5M1597.6 505.6v2.5M1600.9 505.6v2.5M1603.8 505.6v5M1623.2 505.6v2.5M1634.5 505.6v2.5M1642.5 505.6v2.5M1648.8 505.6v2.5M1653.8 505.6v2.5M1658.1 505.6v2.5M1661.9 505.6v2.5M1665.2 505.6v2.5M1668.1 505.6v5" stroke="#222" stroke-width="1.2" fill="none"/>
<text class="t e" font-size="9" transform="translate(1400 508.8) scale(1.38 1)">0</text>
<text class="t e" font-size="9" transform="translate(1400 469.2) scale(1.38 1)">20</text>
<text class="t e" font-size="9" transform="translate(1400 429.7) scale(1.38 1)">40</text>
<text class="t e" font-size="9" transform="translate(1400 390.1) scale(1.38 1)">60</text>
<text class="t e" font-size="9" transform="translate(1400 350.6) scale(1.38 1)">80</text>
<text class="t e" font-size="9" transform="translate(1400 311) scale(1.38 1)">100</text>
<path d="M1411 505.6L1412.6 501.6L1414.2 501.3L1416.5 503.2L1419.7 504.8L1431.5 505.3L1455.2 505.3L1459.2 504.2L1462.4 501.3L1465.5 499.8L1467.9 499.4L1470.3 500.2L1473.4 502.9L1476.6 504.2L1479.7 503.7L1482.9 502.9L1486.1 500.5L1489.2 496.3L1491.6 493.1L1494.4 490.7L1497.1 490.3L1499.5 490L1501.9 487.4L1503.4 483.2L1505 480.5L1506.6 481.1L1509 483.9L1511.3 484.4L1512.9 481.6L1514.5 474.5L1516.1 458.7L1517.7 443.6L1518.8 438.9L1520.4 439.7L1521.9 444.4L1523.2 444.7L1524.8 433.4L1526 420.7L1527.1 416.8L1528.3 418.3L1529.5 425.5L1530.8 431L1532.4 431.5L1534.3 428.3L1536.2 427.8L1537.9 429.9L1539.3 430.2L1540.6 422.3L1541.8 390.7L1543.1 363.8L1544.1 354.3L1545.3 354.3L1546.6 370.1L1548 389.1L1549.3 389.9L1550.5 382.8L1551.6 374.1L1552.9 374.1L1554 384.4L1555.3 384.7L1556.4 370.1L1557.5 340.1L1558.4 331.4L1559.5 330.6L1560.8 346.4L1562.4 373.3L1563.6 374.6L1565.1 360.6L1566.7 344.8L1568.2 338.5L1569.8 335.4L1571.4 319.5L1572.5 311.6L1574.1 311.3L1575 316.4L1576.1 343.3L1577.2 371.7L1578.5 395.4L1579.3 404.1L1580.9 404.1L1582.1 390.7L1583.7 367L1585.1 353.5L1587.2 353.1L1588.3 362.2L1589.6 382.8L1591.1 411.2L1593 433.4L1594.6 449.2L1596.7 458.7L1599 468.1L1601.4 477.6L1603 483.2L1605.4 485.2L1607.7 485.5L1609.3 489.5L1611.7 494.2L1614.1 498.2L1617.2 502.1L1620.4 504.5L1622.7 505.6L1668.1 505.6" fill="none" stroke="#ff0000" stroke-width="2.9" stroke-linejoin="round"/><path d="M1411.9 299L1413.2 399.1L1414.5 495.3L1416.5 492.5L1418.6 490.1L1421.7 494L1424.4 490.9L1426.8 486.1L1428.9 482.2L1431.5 483L1435 476.6L1437.1 475L1439.1 471.9L1441.3 473.1L1443.4 464L1445.8 457.6L1448.1 450.5L1449.7 449.7L1452.1 440.2L1454.5 429.9L1456 427.6L1458.4 418.8L1460.8 412.5L1462.4 407.8L1464.4 405.4L1466.3 393.5L1468.2 378.5L1470.3 364.2L1472.6 350.8L1474.2 347.6L1475.8 344.4L1476.9 334.1L1478 315.1L1478.9 314.4L1480.1 319.9L1481.2 327.5L1482.1 319.9L1483.2 310.4L1484.2 310.1L1485.3 315.1L1486.4 310.9L1487.6 314.4L1488.7 318.3L1490 329.4L1490.8 338.9L1491.6 348.4L1493.2 340.5L1494.3 345.2L1495.2 356.3L1496.3 367.4L1497.6 371.3L1498.7 380.1L1499.8 394.3L1501.1 413.3L1502.3 427.6L1503.9 440.2L1505.5 448.1L1507.4 457.6L1509 465.5L1511.3 473.5L1513.7 479.8L1516.1 486.9L1518.5 490.9L1521.6 494L1524.8 496.4L1527.9 498L1531.1 497.2L1534.3 498.8L1537.4 499.6L1540.6 501.2L1543.7 502L1546.1 504.3L1547.7 505.6L1668.1 505.6" fill="none" stroke="#1010ff" stroke-width="1.3" stroke-linejoin="round"/>
<text class="t" font-size="9" transform="translate(1411.5 525.6) scale(1.38 1)">10<tspan font-size="6.5" dy="-4.2">0</tspan></text>
<text class="t" font-size="9" transform="translate(1475.8 525.6) scale(1.38 1)">10<tspan font-size="6.5" dy="-4.2">1</tspan></text>
<text class="t" font-size="9" transform="translate(1540 525.6) scale(1.38 1)">10<tspan font-size="6.5" dy="-4.2">2</tspan></text>
<text class="t" font-size="9" transform="translate(1604.3 525.6) scale(1.38 1)">10<tspan font-size="6.5" dy="-4.2">3</tspan></text>
<text class="t" font-size="9" transform="translate(1668.6 525.6) scale(1.38 1)">10<tspan font-size="6.5" dy="-4.2">4</tspan></text>
<path d="M1411 570.3H1668.1" fill="none" stroke="#aaa" stroke-width="1.2"/><path d="M1668.1 570.3V777.1" fill="none" stroke="#666" stroke-width="1.6"/><path d="M1412.3 570.3V765.1" fill="none" stroke="#1010ff" stroke-width="1.6"/>
<path d="M1411 570.3V777.1H1668.1" fill="none" stroke="#222" stroke-width="1.6"/>
<path d="M1411 777.1h-7.5M1411 767.2h-3M1411 757.3h-3M1411 747.4h-3M1411 737.5h-7.5M1411 727.6h-3M1411 717.7h-3M1411 707.8h-3M1411 697.9h-7.5M1411 688h-3M1411 678.1h-3M1411 668.2h-3M1411 658.3h-7.5M1411 648.4h-3M1411 638.5h-3M1411 628.6h-3M1411 618.7h-7.5M1411 608.8h-3M1411 598.9h-3M1411 589h-3M1411 579.1h-7.5M1411 777.1v5M1430.3 777.1v2.5M1441.7 777.1v2.5M1449.7 777.1v2.5M1455.9 777.1v2.5M1461 777.1v2.5M1465.3 777.1v2.5M1469 777.1v2.5M1472.3 777.1v2.5M1475.3 777.1v5M1494.6 777.1v2.5M1505.9 777.1v2.5M1514 777.1v2.5M1520.2 777.1v2.5M1525.3 777.1v2.5M1529.6 777.1v2.5M1533.3 777.1v2.5M1536.6 777.1v2.5M1539.5 777.1v5M1558.9 777.1v2.5M1570.2 777.1v2.5M1578.2 777.1v2.5M1584.5 777.1v2.5M1589.6 777.1v2.5M1593.9 777.1v2.5M1597.6 777.1v2.5M1600.9 777.1v2.5M1603.8 777.1v5M1623.2 777.1v2.5M1634.5 777.1v2.5M1642.5 777.1v2.5M1648.8 777.1v2.5M1653.8 777.1v2.5M1658.1 777.1v2.5M1661.9 777.1v2.5M1665.2 777.1v2.5M1668.1 777.1v5" stroke="#222" stroke-width="1.2" fill="none"/>
<text class="t e" font-size="9" transform="translate(1400 780.3) scale(1.38 1)">0</text>
<text class="t e" font-size="9" transform="translate(1400 740.7) scale(1.38 1)">20</text>
<text class="t e" font-size="9" transform="translate(1400 701.1) scale(1.38 1)">40</text>
<text class="t e" font-size="9" transform="translate(1400 661.5) scale(1.38 1)">60</text>
<text class="t e" font-size="9" transform="translate(1400 621.9) scale(1.38 1)">80</text>
<text class="t e" font-size="9" transform="translate(1400 582.3) scale(1.38 1)">100</text>
<path d="M1411 777.1L1510.6 777.1L1518.5 776.2L1526.4 775L1531.1 774.1L1534.3 773L1537.4 770.6L1539.8 768.3L1542.2 764.3L1544.1 760.4L1546.1 759.2L1548.2 758L1550.1 751.7L1551.6 743.8L1553.2 737.4L1555.6 729.5L1558 720.1L1560.3 710.6L1561.9 698L1563.5 685.3L1564.6 679L1566.2 675L1567.4 663.2L1569 649L1570.6 636.3L1572.2 628.4L1573.8 617.4L1575.3 603.2L1576.6 590.5L1577.7 583.4L1578.8 582.6L1579.8 586.6L1580.9 589.7L1582 590.5L1583.2 587.4L1584.2 587.7L1585.1 600L1586.4 611.1L1588 626.9L1589.6 642.7L1590.8 650.6L1591.9 667.9L1593 685.3L1594.3 701.1L1595.9 716.9L1597.5 731.1L1599.4 745.3L1600.9 758L1603 765.9L1605.4 771.4L1607.7 774.6L1610.9 776.6L1613.3 777.1L1668.1 777.1" fill="none" stroke="#ff0000" stroke-width="2.9" stroke-linejoin="round"/><path d="M1411.9 570.3L1413.2 670.5L1414.5 766.8L1416.5 763.9L1418.6 761.6L1421.7 765.5L1424.4 762.4L1426.8 757.6L1428.9 753.6L1431.5 754.4L1435 748.1L1437.1 746.5L1439.1 743.3L1441.3 744.6L1443.4 735.4L1445.8 729.1L1448.1 722L1449.7 721.2L1452.1 711.7L1454.5 701.4L1456 699L1458.4 690.3L1460.8 683.9L1462.4 679.2L1464.4 676.8L1466.3 664.9L1468.2 649.9L1470.3 635.6L1472.6 622.1L1474.2 618.9L1475.8 615.8L1476.9 605.5L1478 586.5L1478.9 585.7L1480.1 591.2L1481.2 598.8L1482.1 591.2L1483.2 581.7L1484.2 581.4L1485.3 586.5L1486.4 582.2L1487.6 585.7L1488.7 589.6L1490 600.7L1490.8 610.2L1491.6 619.7L1493.2 611.8L1494.3 616.6L1495.2 627.7L1496.3 638.8L1497.6 642.7L1498.7 651.4L1499.8 665.7L1501.1 684.7L1502.3 699L1503.9 711.7L1505.5 719.6L1507.4 729.1L1509 737L1511.3 744.9L1513.7 751.3L1516.1 758.4L1518.5 762.4L1521.6 765.5L1524.8 767.9L1527.9 769.5L1531.1 768.7L1534.3 770.3L1537.4 771.1L1540.6 772.7L1543.7 773.5L1546.1 775.8L1547.7 777.1L1668.1 777.1" fill="none" stroke="#1010ff" stroke-width="1.3" stroke-linejoin="round"/>
<text class="t" font-size="9" transform="translate(1411.5 797.1) scale(1.38 1)">10<tspan font-size="6.5" dy="-4.2">0</tspan></text>
<text class="t" font-size="9" transform="translate(1475.8 797.1) scale(1.38 1)">10<tspan font-size="6.5" dy="-4.2">1</tspan></text>
<text class="t" font-size="9" transform="translate(1540 797.1) scale(1.38 1)">10<tspan font-size="6.5" dy="-4.2">2</tspan></text>
<text class="t" font-size="9" transform="translate(1604.3 797.1) scale(1.38 1)">10<tspan font-size="6.5" dy="-4.2">3</tspan></text>
<text class="t" font-size="9" transform="translate(1668.6 797.1) scale(1.38 1)">10<tspan font-size="6.5" dy="-4.2">4</tspan></text>
<path d="M1411 832.3H1668.1" fill="none" stroke="#aaa" stroke-width="1.2"/><path d="M1668.1 832.3V1039.1" fill="none" stroke="#666" stroke-width="1.6"/><path d="M1412.3 832.3V1027.1" fill="none" stroke="#1010ff" stroke-width="1.6"/>
<path d="M1411 832.3V1039.1H1668.1" fill="none" stroke="#222" stroke-width="1.6"/>
<path d="M1411 1039.1h-7.5M1411 1029.2h-3M1411 1019.3h-3M1411 1009.4h-3M1411 999.5h-7.5M1411 989.6h-3M1411 979.7h-3M1411 969.8h-3M1411 959.9h-7.5M1411 950h-3M1411 940.1h-3M1411 930.2h-3M1411 920.3h-7.5M1411 910.4h-3M1411 900.5h-3M1411 890.6h-3M1411 880.7h-7.5M1411 870.8h-3M1411 860.9h-3M1411 851h-3M1411 841.1h-7.5M1411 1039.1v5M1430.3 1039.1v2.5M1441.7 1039.1v2.5M1449.7 1039.1v2.5M1455.9 1039.1v2.5M1461 1039.1v2.5M1465.3 1039.1v2.5M1469 1039.1v2.5M1472.3 1039.1v2.5M1475.3 1039.1v5M1494.6 1039.1v2.5M1505.9 1039.1v2.5M1514 1039.1v2.5M1520.2 1039.1v2.5M1525.3 1039.1v2.5M1529.6 1039.1v2.5M1533.3 1039.1v2.5M1536.6 1039.1v2.5M1539.5 1039.1v5M1558.9 1039.1v2.5M1570.2 1039.1v2.5M1578.2 1039.1v2.5M1584.5 1039.1v2.5M1589.6 1039.1v2.5M1593.9 1039.1v2.5M1597.6 1039.1v2.5M1600.9 1039.1v2.5M1603.8 1039.1v5M1623.2 1039.1v2.5M1634.5 1039.1v2.5M1642.5 1039.1v2.5M1648.8 1039.1v2.5M1653.8 1039.1v2.5M1658.1 1039.1v2.5M1661.9 1039.1v2.5M1665.2 1039.1v2.5M1668.1 1039.1v5" stroke="#222" stroke-width="1.2" fill="none"/>
<text class="t e" font-size="9" transform="translate(1400 1042.3) scale(1.38 1)">0</text>
<text class="t e" font-size="9" transform="translate(1400 1002.7) scale(1.38 1)">20</text>
<text class="t e" font-size="9" transform="translate(1400 963.1) scale(1.38 1)">40</text>
<text class="t e" font-size="9" transform="translate(1400 923.5) scale(1.38 1)">60</text>
<text class="t e" font-size="9" transform="translate(1400 883.9) scale(1.38 1)">80</text>
<text class="t e" font-size="9" transform="translate(1400 844.3) scale(1.38 1)">100</text>
<path d="M1411 1039.1L1486.9 1039.1L1490 1038.2L1494.8 1037L1501.1 1037L1505 1036.6L1508.2 1034.2L1510.6 1030.3L1512.4 1027.1L1514.5 1026.3L1516.6 1027.6L1518.5 1029.5L1520.8 1030.3L1524 1030.3L1527.1 1029.1L1530.3 1026.3L1533.5 1022.4L1535.8 1019.2L1538.2 1014.5L1540.6 1010.5L1542.9 1006.6L1544.5 1001L1546.1 993.1L1547.7 986L1550.1 984.4L1551.6 977.3L1553.2 963.1L1554.8 952.1L1556.4 945.7L1558.7 943.4L1560.8 939.4L1562.4 928.4L1563.5 917.3L1564.6 914.9L1566.2 914.1L1567.1 899.9L1568.2 876.2L1569.3 852.5L1570.3 844.6L1571.4 845.4L1572.5 862L1573.4 884.1L1574.6 884.1L1575.7 873.1L1576.9 870.7L1578.2 873.1L1579.3 884.1L1580.9 899.9L1582.5 915.7L1583.6 922L1585.1 922L1586.4 922.8L1587.7 934.7L1588.8 955.2L1590 972.6L1591.5 981.3L1593.5 982.1L1595.1 982.9L1596.2 993.1L1597.5 1007.3L1599 1018.4L1600.9 1026.3L1603 1031.8L1605.4 1036.6L1608.5 1038.9L1613.3 1039.1L1668.1 1039.1" fill="none" stroke="#ff0000" stroke-width="2.9" stroke-linejoin="round"/><path d="M1411.9 832.3L1413.2 932.5L1414.5 1028.8L1416.5 1025.9L1418.6 1023.6L1421.7 1027.5L1424.4 1024.4L1426.8 1019.6L1428.9 1015.6L1431.5 1016.4L1435 1010.1L1437.1 1008.5L1439.1 1005.3L1441.3 1006.6L1443.4 997.4L1445.8 991.1L1448.1 984L1449.7 983.2L1452.1 973.7L1454.5 963.4L1456 961L1458.4 952.3L1460.8 945.9L1462.4 941.2L1464.4 938.8L1466.3 926.9L1468.2 911.9L1470.3 897.6L1472.6 884.1L1474.2 880.9L1475.8 877.8L1476.9 867.5L1478 848.5L1478.9 847.7L1480.1 853.2L1481.2 860.8L1482.1 853.2L1483.2 843.7L1484.2 843.4L1485.3 848.5L1486.4 844.2L1487.6 847.7L1488.7 851.6L1490 862.7L1490.8 872.2L1491.6 881.7L1493.2 873.8L1494.3 878.6L1495.2 889.7L1496.3 900.8L1497.6 904.7L1498.7 913.4L1499.8 927.7L1501.1 946.7L1502.3 961L1503.9 973.7L1505.5 981.6L1507.4 991.1L1509 999L1511.3 1006.9L1513.7 1013.3L1516.1 1020.4L1518.5 1024.4L1521.6 1027.5L1524.8 1029.9L1527.9 1031.5L1531.1 1030.7L1534.3 1032.3L1537.4 1033.1L1540.6 1034.7L1543.7 1035.5L1546.1 1037.8L1547.7 1039.1L1668.1 1039.1" fill="none" stroke="#1010ff" stroke-width="1.3" stroke-linejoin="round"/>
<text class="t" font-size="9" transform="translate(1411.5 1059.1) scale(1.38 1)">10<tspan font-size="6.5" dy="-4.2">0</tspan></text>
<text class="t" font-size="9" transform="translate(1475.8 1059.1) scale(1.38 1)">10<tspan font-size="6.5" dy="-4.2">1</tspan></text>
<text class="t" font-size="9" transform="translate(1540 1059.1) scale(1.38 1)">10<tspan font-size="6.5" dy="-4.2">2</tspan></text>
<text class="t" font-size="9" transform="translate(1604.3 1059.1) scale(1.38 1)">10<tspan font-size="6.5" dy="-4.2">3</tspan></text>
<text class="t" font-size="9" transform="translate(1668.6 1059.1) scale(1.38 1)">10<tspan font-size="6.5" dy="-4.2">4</tspan></text>
<text class="b s" x="1506.6" y="24.3" font-size="21.8">CD80<tspan font-size="14.5" dx="0.6" dy="-7">+</tspan></text>
<text class="b s" x="1507" y="292.6" font-size="21.8">CD206<tspan font-size="14.5" dx="0.6" dy="-7">+</tspan></text>
<text class="b s" x="1519.8" y="564.5" font-size="21.8">CD80<tspan font-size="14.5" dx="0.6" dy="-7">+</tspan></text>
<text class="b s" x="1520" y="828" font-size="21.8">CD206<tspan font-size="14.5" dx="0.6" dy="-7">+</tspan></text>
<text class="b" x="1637.2" y="58.5" font-size="17">92%</text>
<text class="b" x="1637.5" y="325.1" font-size="17">79%</text>
<text class="b" x="1637" y="597.3" font-size="17">97%</text>
<text class="b" x="1637" y="859.2" font-size="17">94%</text>
<text class="b" x="1525.8" y="265.6" font-size="13.5">MFI</text>
<text class="b" x="1538.7" y="539.6" font-size="13.5">MFI</text>
<text class="b" x="1523.3" y="808.5" font-size="13.5">MFI</text>
<text class="b" x="1536.2" y="1082" font-size="13.5">MFI</text>
<text class="b" x="1371.8" y="132.9" font-size="19.4" transform="rotate(-90 1371.8 132.9)">Events</text>
<text class="b" x="1371.8" y="407.5" font-size="19.4" transform="rotate(-90 1371.8 407.5)">Events</text>
<text class="b" x="1371.8" y="673.5" font-size="19.4" transform="rotate(-90 1371.8 673.5)">Events</text>
<text class="b" x="1371.8" y="930.4" font-size="19.4" transform="rotate(-90 1371.8 930.4)">Events</text>
<rect x="1672.8" y="30.1" width="22.3" height="20.4" rx="0.8" fill="#fff" stroke="#0a0aff" stroke-width="2"/>
<rect x="1672.6" y="57.1" width="21.8" height="20.8" rx="1.2" fill="#fff" stroke="#ff2a00" stroke-width="3.9"/>
<text class="b s" x="1701.2" y="46.4" font-size="17.4">Ig</text>
<text class="b s" x="1700.2" y="69.7" font-size="16.2">TREM-1</text>
<defs><pattern id="hatch" width="4" height="4" patternUnits="userSpaceOnUse" patternTransform="rotate(-45)"><rect width="4" height="4" fill="#fff"/><rect width="4" height="2.1" fill="#0000ff"/></pattern></defs>
<path d="M409.5 1137V1124.5M393.5 1124.5H425.5" stroke="#000" stroke-width="3.8" fill="none" stroke-linecap="round"/>
<rect x="377.6" y="1137.3" width="63.8" height="211.3" fill="#0000ff" stroke="#000" stroke-width="4.0"/>
<path d="M506.3 1341V1337.3M491.3 1337.3H521.3" stroke="#0000ff" stroke-width="3.8" fill="none" stroke-linecap="round"/>
<rect x="474.4" y="1340.8" width="63.8" height="7.8" fill="#fff" stroke="#0000ff" stroke-width="4.0"/>
<path d="M601.8 1307V1297.5M586.3 1297.5H617.3" stroke="#0000ff" stroke-width="3.8" fill="none" stroke-linecap="round"/>
<rect x="569.9" y="1306.6" width="63.8" height="42" fill="url(#hatch)" stroke="#0000ff" stroke-width="4.0"/>
<path d="M362.0 1063.2V1349.4M354.0 1349.4H650.5" stroke="#000" stroke-width="2.6" fill="none" stroke-linejoin="round"/>
<text class="sb e" font-size="22.8" transform="translate(352.2 1357.5) scale(0.93 1)">0</text>
<text class="sb e" font-size="22.8" transform="translate(352.2 1286.2) scale(0.93 1)">20</text>
<text class="sb e" font-size="22.8" transform="translate(352.2 1214.9) scale(0.93 1)">40</text>
<text class="sb e" font-size="22.8" transform="translate(352.2 1143.6) scale(0.93 1)">60</text>
<text class="sb e" font-size="22.8" transform="translate(352.2 1072.3) scale(0.93 1)">80</text>
<path d="M362.0 1349.4h-8M362.0 1278.1h-8M362.0 1206.8h-8M362.0 1135.5h-8M362.0 1064.2h-8M409.5 1349.4v7.5M506.3 1349.4v7.5M601.8 1349.4v7.5" stroke="#000" stroke-width="2.6" fill="none" stroke-linejoin="round"/>
<text class="b" x="408.1" y="1386.4" font-size="22.5">CD80</text>
<text class="b" x="500.6" y="1386.4" font-size="22.5">CD206</text>
<text class="b" x="618.6" y="1386.4" font-size="22.5">CD80/CD206</text>
<text class="b" x="314.6" y="1211.5" font-size="25" transform="rotate(-90 314.6 1211.5)">% Positive Cells</text>
<line x1="409.5" y1="1073.5" x2="590" y2="1073.5" stroke="#000" stroke-width="1.7"/>
<line x1="407.3" y1="1104.7" x2="487.4" y2="1104.7" stroke="#000" stroke-width="1.7"/>
<line x1="508.5" y1="1278.1" x2="590" y2="1278.1" stroke="#000" stroke-width="1.7"/>
<text class="r" x="496.6" y="1075.5" font-size="22">***</text>
<text class="r" x="446.9" y="1106.7" font-size="22">***</text>
<text class="r" x="553.9" y="1280.1" font-size="22">**</text>
<path d="M829.8 1094V1084.5M814.3 1084.5H845.3" stroke="#000" stroke-width="3.8" fill="none" stroke-linecap="round"/>
<rect x="800.1" y="1094.2" width="59.5" height="260.2" fill="#0000ff" stroke="#000" stroke-width="4.0"/>
<path d="M920.1 1125V1109.5M904.6 1109.5H935.6" stroke="#0000ff" stroke-width="3.8" fill="none" stroke-linecap="round"/>
<rect x="890.4" y="1124.8" width="59.4" height="229.6" fill="#fff" stroke="#0000ff" stroke-width="4.0"/>
<path d="M785.2 1070.7V1355.2M777.2 1355.2H965.5" stroke="#000" stroke-width="2.6" fill="none" stroke-linejoin="round"/>
<text class="sb e" font-size="22.8" transform="translate(777.2 1363.3) scale(0.86 1)">0</text>
<text class="sb e" font-size="22.8" transform="translate(777.2 1306.6) scale(0.86 1)">20</text>
<text class="sb e" font-size="22.8" transform="translate(777.2 1249.9) scale(0.86 1)">40</text>
<text class="sb e" font-size="22.8" transform="translate(777.2 1193.2) scale(0.86 1)">60</text>
<text class="sb e" font-size="22.8" transform="translate(777.2 1136.5) scale(0.86 1)">80</text>
<text class="sb e" font-size="22.8" transform="translate(777.2 1079.8) scale(0.86 1)">100</text>
<path d="M785.2 1355.2h-8M785.2 1298.5h-8M785.2 1241.8h-8M785.2 1185.1h-8M785.2 1128.4h-8M785.2 1071.7h-8M829.8 1355.2v7.5M920.1 1355.2v7.5" stroke="#000" stroke-width="2.6" fill="none" stroke-linejoin="round"/>
<text class="b" x="832.9" y="1386.4" font-size="22.5">CD80/</text>
<text class="b" x="846" y="1412.4" font-size="22">TREM-1</text>
<text class="b" x="932" y="1386.4" font-size="22.5">CD206/</text>
<text class="b" x="937.7" y="1412.4" font-size="22">TREM-1</text>
<text class="b" x="736" y="1224" font-size="25" transform="rotate(-90 736 1224)">% Positive Cells</text>
<line x1="836.4" y1="1073.5" x2="917" y2="1073.5" stroke="#000" stroke-width="1.7"/>
<text class="r" x="875.2" y="1075.5" font-size="22">*</text>
</svg>
</body></html>
